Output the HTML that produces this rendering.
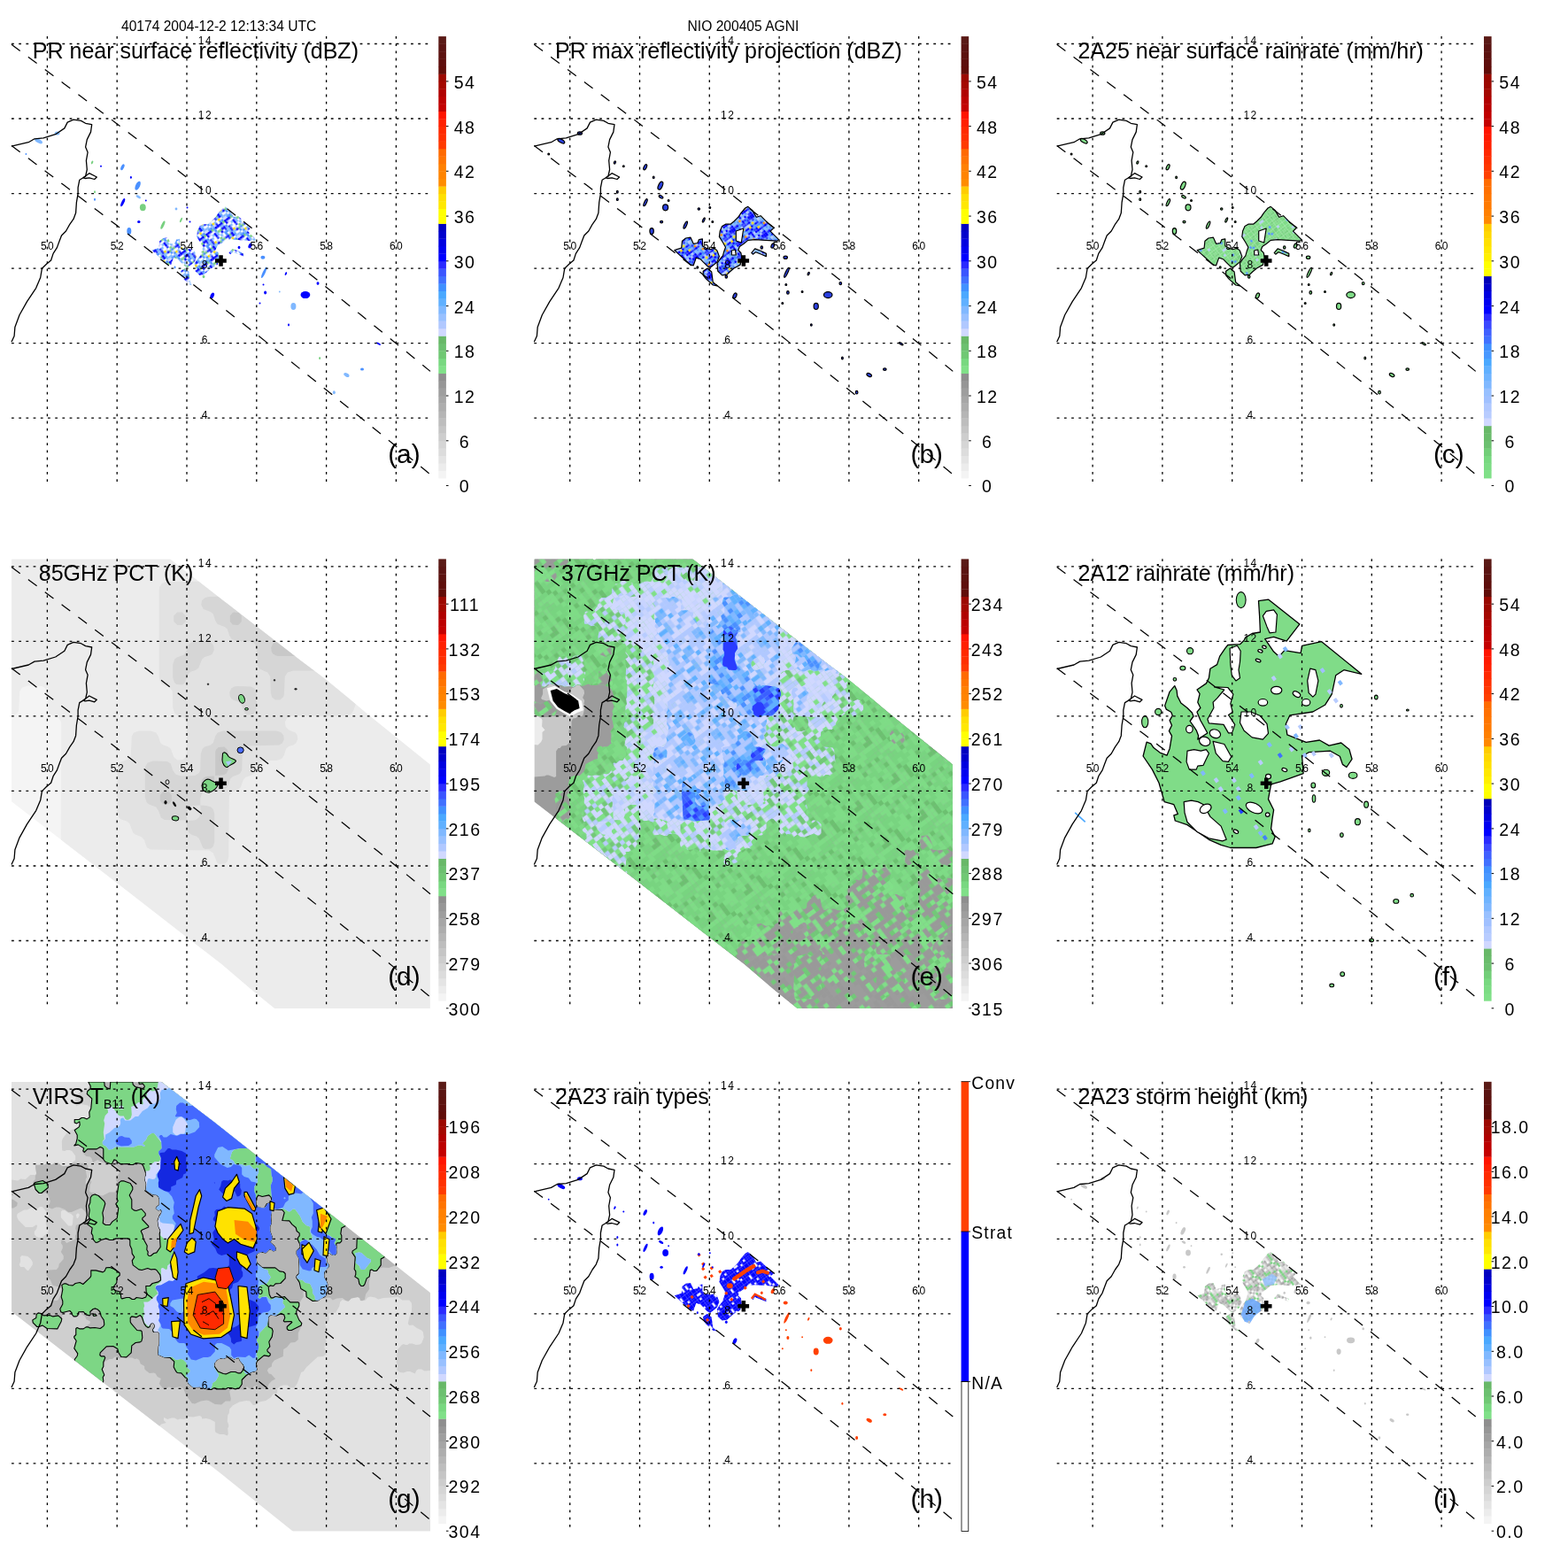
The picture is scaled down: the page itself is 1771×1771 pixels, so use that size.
<!DOCTYPE html>
<html><head><meta charset="utf-8"><title>TRMM overpass</title><style>
html,body{margin:0;padding:0;background:#fff;}
svg{display:block;}
text{font-family:"Liberation Sans", Arial, Helvetica, sans-serif;fill:#000;}
.dot{stroke:#000;stroke-width:1.3;stroke-dasharray:2.8 5.4;fill:none;}
.sw{stroke:#000;stroke-width:1.25;stroke-dasharray:12.4 11;fill:none;}
.coast{stroke:#000;stroke-width:1.3;fill:none;stroke-linejoin:round;}
.ll{font-size:12px;text-anchor:middle;letter-spacing:1.4px;}
.cb{font-size:19.5px;text-anchor:middle;letter-spacing:1.5px;}
.cbl{font-size:19.3px;letter-spacing:1.2px;}
.ttl{font-size:25px;}
.let{font-size:29.8px;}
.hdr{font-size:15.6px;}
</style></head>
<body><svg xmlns="http://www.w3.org/2000/svg" width="1771" height="1771" viewBox="0 0 1771 1771">
<defs><clipPath id="mapclip"><rect x="13" y="41" width="473" height="508"/></clipPath></defs>
<rect width="1771" height="1771" fill="#fff"/>
<text x="137" y="35" class="hdr">40174 2004-12-2 12:13:34 UTC</text>
<text x="776.6" y="34.7" class="hdr">NIO 200405 AGNI</text>
<g transform="translate(0,0)">
<g clip-path="url(#mapclip)">
<pattern id="pa" patternUnits="userSpaceOnUse" width="26.0" height="26.0" patternTransform="rotate(-37)"><rect x="0.0" y="0.0" width="2.65" height="2.65" fill="#2a3cff"/><rect x="0.0" y="2.6" width="2.65" height="2.65" fill="#80b8ff"/><rect x="0.0" y="5.2" width="2.65" height="2.65" fill="#4a90ff"/><rect x="0.0" y="7.8" width="2.65" height="2.65" fill="#80b8ff"/><rect x="0.0" y="10.4" width="2.65" height="2.65" fill="#c8d4ff"/><rect x="0.0" y="13.0" width="2.65" height="2.65" fill="#0000ff"/><rect x="0.0" y="15.6" width="2.65" height="2.65" fill="#0000ff"/><rect x="0.0" y="20.8" width="2.65" height="2.65" fill="#2a3cff"/><rect x="0.0" y="23.4" width="2.65" height="2.65" fill="#2a3cff"/><rect x="2.6" y="0.0" width="2.65" height="2.65" fill="#ffe000"/><rect x="2.6" y="2.6" width="2.65" height="2.65" fill="#80b8ff"/><rect x="2.6" y="7.8" width="2.65" height="2.65" fill="#80b8ff"/><rect x="2.6" y="10.4" width="2.65" height="2.65" fill="#c8d4ff"/><rect x="2.6" y="13.0" width="2.65" height="2.65" fill="#0000ff"/><rect x="2.6" y="15.6" width="2.65" height="2.65" fill="#c8d4ff"/><rect x="2.6" y="20.8" width="2.65" height="2.65" fill="#80b8ff"/><rect x="5.2" y="0.0" width="2.65" height="2.65" fill="#c8d4ff"/><rect x="5.2" y="2.6" width="2.65" height="2.65" fill="#0000ff"/><rect x="5.2" y="7.8" width="2.65" height="2.65" fill="#80b8ff"/><rect x="5.2" y="10.4" width="2.65" height="2.65" fill="#4a90ff"/><rect x="5.2" y="13.0" width="2.65" height="2.65" fill="#0000ff"/><rect x="5.2" y="18.2" width="2.65" height="2.65" fill="#80b8ff"/><rect x="7.8" y="2.6" width="2.65" height="2.65" fill="#78d080"/><rect x="7.8" y="5.2" width="2.65" height="2.65" fill="#4a90ff"/><rect x="7.8" y="10.4" width="2.65" height="2.65" fill="#4a90ff"/><rect x="7.8" y="13.0" width="2.65" height="2.65" fill="#78d080"/><rect x="7.8" y="18.2" width="2.65" height="2.65" fill="#0000ff"/><rect x="7.8" y="20.8" width="2.65" height="2.65" fill="#0000ff"/><rect x="7.8" y="23.4" width="2.65" height="2.65" fill="#2a3cff"/><rect x="10.4" y="0.0" width="2.65" height="2.65" fill="#78d080"/><rect x="10.4" y="2.6" width="2.65" height="2.65" fill="#4a90ff"/><rect x="10.4" y="5.2" width="2.65" height="2.65" fill="#c8d4ff"/><rect x="10.4" y="7.8" width="2.65" height="2.65" fill="#4a90ff"/><rect x="10.4" y="10.4" width="2.65" height="2.65" fill="#80b8ff"/><rect x="10.4" y="13.0" width="2.65" height="2.65" fill="#4a90ff"/><rect x="10.4" y="15.6" width="2.65" height="2.65" fill="#4a90ff"/><rect x="10.4" y="18.2" width="2.65" height="2.65" fill="#80b8ff"/><rect x="10.4" y="20.8" width="2.65" height="2.65" fill="#80b8ff"/><rect x="13.0" y="0.0" width="2.65" height="2.65" fill="#c8d4ff"/><rect x="13.0" y="2.6" width="2.65" height="2.65" fill="#78d080"/><rect x="13.0" y="7.8" width="2.65" height="2.65" fill="#ffe000"/><rect x="13.0" y="10.4" width="2.65" height="2.65" fill="#c8d4ff"/><rect x="13.0" y="13.0" width="2.65" height="2.65" fill="#0000ff"/><rect x="13.0" y="18.2" width="2.65" height="2.65" fill="#78d080"/><rect x="13.0" y="23.4" width="2.65" height="2.65" fill="#80b8ff"/><rect x="15.6" y="2.6" width="2.65" height="2.65" fill="#2a3cff"/><rect x="15.6" y="7.8" width="2.65" height="2.65" fill="#80b8ff"/><rect x="15.6" y="10.4" width="2.65" height="2.65" fill="#2a3cff"/><rect x="15.6" y="13.0" width="2.65" height="2.65" fill="#0000ff"/><rect x="15.6" y="18.2" width="2.65" height="2.65" fill="#78d080"/><rect x="15.6" y="20.8" width="2.65" height="2.65" fill="#0000ff"/><rect x="18.2" y="0.0" width="2.65" height="2.65" fill="#4a90ff"/><rect x="18.2" y="2.6" width="2.65" height="2.65" fill="#0000ff"/><rect x="18.2" y="5.2" width="2.65" height="2.65" fill="#2a3cff"/><rect x="18.2" y="13.0" width="2.65" height="2.65" fill="#0000ff"/><rect x="18.2" y="15.6" width="2.65" height="2.65" fill="#80b8ff"/><rect x="18.2" y="18.2" width="2.65" height="2.65" fill="#0000ff"/><rect x="18.2" y="23.4" width="2.65" height="2.65" fill="#4a90ff"/><rect x="20.8" y="2.6" width="2.65" height="2.65" fill="#78d080"/><rect x="20.8" y="5.2" width="2.65" height="2.65" fill="#80b8ff"/><rect x="20.8" y="7.8" width="2.65" height="2.65" fill="#ffe000"/><rect x="20.8" y="10.4" width="2.65" height="2.65" fill="#4a90ff"/><rect x="20.8" y="13.0" width="2.65" height="2.65" fill="#0000ff"/><rect x="20.8" y="15.6" width="2.65" height="2.65" fill="#80b8ff"/><rect x="20.8" y="18.2" width="2.65" height="2.65" fill="#0000ff"/><rect x="20.8" y="20.8" width="2.65" height="2.65" fill="#2a3cff"/><rect x="20.8" y="23.4" width="2.65" height="2.65" fill="#4a90ff"/><rect x="23.4" y="0.0" width="2.65" height="2.65" fill="#80b8ff"/><rect x="23.4" y="2.6" width="2.65" height="2.65" fill="#0000ff"/><rect x="23.4" y="5.2" width="2.65" height="2.65" fill="#0000ff"/><rect x="23.4" y="10.4" width="2.65" height="2.65" fill="#4a90ff"/><rect x="23.4" y="13.0" width="2.65" height="2.65" fill="#78d080"/><rect x="23.4" y="18.2" width="2.65" height="2.65" fill="#4a90ff"/><rect x="23.4" y="20.8" width="2.65" height="2.65" fill="#80b8ff"/><rect x="23.4" y="23.4" width="2.65" height="2.65" fill="#80b8ff"/></pattern>
<path d="M219.7,297.5 L220.5,306.2 L225.3,310.9 L230.8,310.1 L234.0,307.0 L238.7,303.0 L245.8,299.1 L247.4,291.1 L246.6,285.6 L243.5,282.5 L245.0,278.5 L249.8,275.3 L254.5,271.4 L262.4,270.6 L274.3,271.4 L287.7,272.2 L289.3,270.6 L283.0,264.3 L279.8,261.1 L283.8,257.2 L276.7,251.6 L268.8,243.7 L264.0,245.3 L259.3,237.4 L254.5,233.4 L251.4,235.0 L246.6,240.6 L243.5,245.3 L238.7,250.0 L234.8,253.2 L229.2,253.2 L225.3,255.6 L222.9,261.1 L222.1,267.4 L226.1,273.8 L229.2,279.3 L227.7,283.2 L226.1,288.8 L222.9,292.7Z" fill="url(#pa)"/>
<path d="M171.5,282.5 L179.4,280.1 L180.2,272.2 L184.2,269.0 L189.7,268.2 L192.9,275.3 L197.6,274.5 L199.2,270.6 L203.1,269.8 L203.1,277.7 L207.1,280.1 L211.8,281.7 L216.6,280.1 L219.7,283.2 L222.1,289.6 L219.7,295.9 L215.0,299.8 L211.8,302.2 L208.7,300.6 L203.9,295.9 L200.8,292.7 L196.0,291.1 L192.9,299.8 L189.7,299.1 L183.4,293.5 L175.5,286.4Z" fill="url(#pa)"/>
<path d="M203.9,306.2 L208.7,303.0 L213.4,307.0 L215.0,318.8 L219.7,322.8 L215.0,322.0 L207.1,314.9 L203.9,310.9Z" fill="url(#pa)"/>
<path d="M258.5,285.6 L262.4,280.9 L268.8,283.2 L275.1,286.4 L275.1,289.6 L269.6,287.2 L263.2,284.8 L260.1,287.2Z" fill="url(#pa)"/>
<ellipse cx="43.5" cy="159.2" rx="4.9" ry="2.2" transform="rotate(30 43.5 159.2)" fill="#80b8ff"/>
<ellipse cx="64.6" cy="150.5" rx="2.9" ry="2.0" transform="rotate(0 64.6 150.5)" fill="#80b8ff"/>
<ellipse cx="29.4" cy="174.0" rx="0.9" ry="0.9" transform="rotate(0 29.4 174.0)" fill="#4a90ff"/>
<ellipse cx="104.1" cy="183.5" rx="1.0" ry="2.0" transform="rotate(25 104.1 183.5)" fill="#78d080"/>
<ellipse cx="114.0" cy="187.8" rx="1.0" ry="1.0" transform="rotate(0 114.0 187.8)" fill="#0000ff"/>
<ellipse cx="138.4" cy="188.8" rx="1.7" ry="3.7" transform="rotate(25 138.4 188.8)" fill="#4a90ff"/>
<ellipse cx="147.9" cy="200.4" rx="1.0" ry="1.4" transform="rotate(0 147.9 200.4)" fill="#0000ff"/>
<ellipse cx="155.6" cy="209.7" rx="2.5" ry="5.4" transform="rotate(25 155.6 209.7)" fill="#4a90ff"/>
<ellipse cx="156.3" cy="222.3" rx="3.0" ry="1.5" transform="rotate(30 156.3 222.3)" fill="#80b8ff"/>
<ellipse cx="161.3" cy="234.3" rx="3.4" ry="4.0" transform="rotate(0 161.3 234.3)" fill="#78d080"/>
<ellipse cx="164.8" cy="226.5" rx="0.9" ry="1.0" transform="rotate(0 164.8 226.5)" fill="#0000ff"/>
<ellipse cx="107.0" cy="216.8" rx="1.0" ry="1.5" transform="rotate(0 107.0 216.8)" fill="#78d080"/>
<ellipse cx="107.0" cy="225.2" rx="1.0" ry="1.5" transform="rotate(0 107.0 225.2)" fill="#4a90ff"/>
<ellipse cx="138.7" cy="228.7" rx="1.5" ry="5.0" transform="rotate(25 138.7 228.7)" fill="#0000ff"/>
<ellipse cx="145.8" cy="261.1" rx="2.5" ry="4.0" transform="rotate(0 145.8 261.1)" fill="#4a90ff"/>
<ellipse cx="156.8" cy="250.6" rx="1.7" ry="1.5" transform="rotate(0 156.8 250.6)" fill="#0000ff"/>
<ellipse cx="183.9" cy="254.1" rx="1.5" ry="5.0" transform="rotate(25 183.9 254.1)" fill="#78d080"/>
<ellipse cx="199.0" cy="236.0" rx="1.4" ry="1.4" transform="rotate(0 199.0 236.0)" fill="#80b8ff"/>
<ellipse cx="211.5" cy="234.5" rx="1.0" ry="1.0" transform="rotate(0 211.5 234.5)" fill="#0000ff"/>
<ellipse cx="204.5" cy="248.5" rx="1.0" ry="3.1" transform="rotate(25 204.5 248.5)" fill="#78d080"/>
<ellipse cx="214.5" cy="250.5" rx="1.0" ry="1.0" transform="rotate(0 214.5 250.5)" fill="#0000ff"/>
<ellipse cx="197.5" cy="302.0" rx="1.0" ry="1.4" transform="rotate(0 197.5 302.0)" fill="#4a90ff"/>
<ellipse cx="239.7" cy="333.9" rx="2.0" ry="3.5" transform="rotate(25 239.7 333.9)" fill="#0000ff"/>
<ellipse cx="230.0" cy="312.5" rx="1.4" ry="1.8" transform="rotate(0 230.0 312.5)" fill="#78d080"/>
<ellipse cx="270.0" cy="279.5" rx="1.4" ry="1.8" transform="rotate(0 270.0 279.5)" fill="#0000ff"/>
<ellipse cx="282.5" cy="277.5" rx="1.8" ry="3.1" transform="rotate(25 282.5 277.5)" fill="#0000ff"/>
<ellipse cx="296.9" cy="290.8" rx="2.5" ry="2.0" transform="rotate(0 296.9 290.8)" fill="#4a90ff"/>
<ellipse cx="298.2" cy="307.8" rx="1.5" ry="6.9" transform="rotate(25 298.2 307.8)" fill="#4a90ff"/>
<ellipse cx="297.5" cy="321.5" rx="1.0" ry="1.0" transform="rotate(0 297.5 321.5)" fill="#0000ff"/>
<ellipse cx="299.6" cy="330.4" rx="1.5" ry="2.0" transform="rotate(0 299.6 330.4)" fill="#0000ff"/>
<ellipse cx="293.5" cy="342.5" rx="1.0" ry="1.0" transform="rotate(0 293.5 342.5)" fill="#0000ff"/>
<ellipse cx="322.9" cy="309.1" rx="1.0" ry="2.0" transform="rotate(25 322.9 309.1)" fill="#0000ff"/>
<ellipse cx="315.8" cy="329.5" rx="0.9" ry="1.0" transform="rotate(0 315.8 329.5)" fill="#80b8ff"/>
<ellipse cx="331.4" cy="345.9" rx="3.0" ry="4.0" transform="rotate(0 331.4 345.9)" fill="#80b8ff"/>
<ellipse cx="326.0" cy="367.0" rx="1.0" ry="1.4" transform="rotate(0 326.0 367.0)" fill="#0000ff"/>
<ellipse cx="344.9" cy="333.1" rx="5.4" ry="4.0" transform="rotate(0 344.9 333.1)" fill="#0000ff"/>
<ellipse cx="359.0" cy="320.1" rx="1.5" ry="1.8" transform="rotate(0 359.0 320.1)" fill="#0000ff"/>
<ellipse cx="427.4" cy="388.2" rx="2.9" ry="1.0" transform="rotate(30 427.4 388.2)" fill="#0000ff"/>
<ellipse cx="361.1" cy="404.5" rx="1.0" ry="1.5" transform="rotate(0 361.1 404.5)" fill="#78d080"/>
<ellipse cx="391.4" cy="423.5" rx="3.4" ry="2.0" transform="rotate(30 391.4 423.5)" fill="#80b8ff"/>
<ellipse cx="409.0" cy="417.1" rx="2.0" ry="1.5" transform="rotate(0 409.0 417.1)" fill="#4a90ff"/>
<ellipse cx="377.3" cy="443.2" rx="1.5" ry="2.0" transform="rotate(0 377.3 443.2)" fill="#80b8ff"/>
</g>
<line x1="13" y1="49.5" x2="486" y2="49.5" class="dot"/>
<line x1="13" y1="134" x2="486" y2="134" class="dot"/>
<line x1="13" y1="218.6" x2="486" y2="218.6" class="dot"/>
<line x1="13" y1="303.1" x2="486" y2="303.1" class="dot"/>
<line x1="13" y1="387.7" x2="486" y2="387.7" class="dot"/>
<line x1="13" y1="472.2" x2="486" y2="472.2" class="dot"/>
<line x1="53.4" y1="41" x2="53.4" y2="549" class="dot"/>
<line x1="132.2" y1="41" x2="132.2" y2="549" class="dot"/>
<line x1="211" y1="41" x2="211" y2="549" class="dot"/>
<line x1="289.8" y1="41" x2="289.8" y2="549" class="dot"/>
<line x1="368.6" y1="41" x2="368.6" y2="549" class="dot"/>
<line x1="447.4" y1="41" x2="447.4" y2="549" class="dot"/>
<path d="M13.00,50.24 L32.71,64.90 L52.42,79.63 L72.12,94.41 L91.83,109.26 L111.54,124.17 L131.25,139.14 L150.96,154.18 L170.67,169.28 L190.38,184.44 L210.08,199.66 L229.79,214.95 L249.50,230.30 L269.21,245.71 L288.92,261.18 L308.62,276.72 L328.33,292.32 L348.04,307.98 L367.75,323.71 L387.46,339.49 L407.17,355.34 L426.88,371.26 L446.58,387.23 L466.29,403.27 L486.00,419.37" class="sw" style="stroke-dasharray:12.1 11.45"/>
<path d="M13.00,164.53 L32.71,179.31 L52.42,194.15 L72.12,209.06 L91.83,224.02 L111.54,239.04 L131.25,254.12 L150.96,269.26 L170.67,284.46 L190.38,299.73 L210.08,315.05 L229.79,330.43 L249.50,345.87 L269.21,361.37 L288.92,376.94 L308.62,392.56 L328.33,408.24 L348.04,423.98 L367.75,439.79 L387.46,455.65 L407.17,471.57 L426.88,487.55 L446.58,503.59 L466.29,519.70 L486.00,535.86" class="sw" style="stroke-dasharray:12.1 11.4"/>
<path d="M13,165.2 L32.2,160.7 L39,156.8 L49.1,155.9 L62.7,151.7 L72.8,144.9 L76.2,138.1 L83,135.1 L91.5,136.4 L96.6,139.3 L103.7,140.7 L102.5,149.1 L98.3,157.6 L96.6,166.1 L99.1,172 L97.4,181.3 L98.3,191.5 L96.6,199.1 L94,200.8 L89.8,203.3 L88.1,211.8 L88.1,218.6 L86.4,228.7 L85.6,240.6 L83,247.4 L78.8,253.3 L74.5,261 L69.5,266 L66.9,272.8 L64.4,279.6 L60.1,286.4 L57.6,294 L52.5,298.2 L47.4,303.3 L45.7,313.5 L40.7,325.3 L30.5,340.6 L22,355.8 L16.9,369.4 L16.1,379.5 L13,386.3" class="coast"/>
<path d="M94,200.8 L100.8,195.7 L109.3,200 L106.7,202.5 L100.8,200.8 L96,201.5 Z" class="coast"/>
<text x="231.9" y="49.8" class="ll">14</text>
<text x="231.9" y="134.3" class="ll">12</text>
<text x="231.9" y="218.9" class="ll">10</text>
<text x="231.9" y="303.4" class="ll">8</text>
<text x="231.9" y="388" class="ll">6</text>
<text x="231.9" y="472.5" class="ll">4</text>
<text x="54.1" y="281.7" class="ll">50</text>
<text x="132.9" y="281.7" class="ll">52</text>
<text x="211.7" y="281.7" class="ll">54</text>
<text x="290.5" y="281.7" class="ll">56</text>
<text x="369.3" y="281.7" class="ll">58</text>
<text x="448.1" y="281.7" class="ll">60</text>
<path d="M243,292.2h12.8v4.6h-12.8z M247.3,288.2h4.5v12.6h-4.5z" fill="#000"/>
<text x="36.8" y="66" class="ttl">PR near surface reflectivity (dBZ)</text>
<text x="438.2" y="522.8" class="let">(a)</text>
<rect x="495.3" y="531.6" width="8.6" height="8.8" fill="#f4f4f4"/>
<rect x="495.3" y="523.1" width="8.6" height="8.8" fill="#ececec"/>
<rect x="495.3" y="514.7" width="8.6" height="8.8" fill="#e4e4e4"/>
<rect x="495.3" y="506.2" width="8.6" height="8.8" fill="#dcdcdc"/>
<rect x="495.3" y="497.8" width="8.6" height="8.8" fill="#d5d5d5"/>
<rect x="495.3" y="489.3" width="8.6" height="8.8" fill="#cdcdcd"/>
<rect x="495.3" y="480.9" width="8.6" height="8.8" fill="#c5c5c5"/>
<rect x="495.3" y="472.4" width="8.6" height="8.8" fill="#bdbdbd"/>
<rect x="495.3" y="463.9" width="8.6" height="8.8" fill="#b5b5b5"/>
<rect x="495.3" y="455.5" width="8.6" height="8.8" fill="#adadad"/>
<rect x="495.3" y="447" width="8.6" height="8.8" fill="#a6a6a6"/>
<rect x="495.3" y="438.6" width="8.6" height="8.8" fill="#9e9e9e"/>
<rect x="495.3" y="430.1" width="8.6" height="8.8" fill="#969696"/>
<rect x="495.3" y="421.7" width="8.6" height="8.8" fill="#8e8e8e"/>
<rect x="495.3" y="413.2" width="8.6" height="8.8" fill="#80e088"/>
<rect x="495.3" y="404.7" width="8.6" height="8.8" fill="#78d880"/>
<rect x="495.3" y="396.3" width="8.6" height="8.8" fill="#70c874"/>
<rect x="495.3" y="387.8" width="8.6" height="8.8" fill="#6cc070"/>
<rect x="495.3" y="379.4" width="8.6" height="8.8" fill="#68b868"/>
<rect x="495.3" y="370.9" width="8.6" height="8.8" fill="#d0d8ff"/>
<rect x="495.3" y="362.5" width="8.6" height="8.8" fill="#b0c8ff"/>
<rect x="495.3" y="354" width="8.6" height="8.8" fill="#98c0ff"/>
<rect x="495.3" y="345.6" width="8.6" height="8.8" fill="#80b8ff"/>
<rect x="495.3" y="337.1" width="8.6" height="8.8" fill="#60b0ff"/>
<rect x="495.3" y="328.6" width="8.6" height="8.8" fill="#4aa8ff"/>
<rect x="495.3" y="320.2" width="8.6" height="8.8" fill="#4090ff"/>
<rect x="495.3" y="311.7" width="8.6" height="8.8" fill="#4070ff"/>
<rect x="495.3" y="303.3" width="8.6" height="8.8" fill="#3a55ff"/>
<rect x="495.3" y="294.8" width="8.6" height="8.8" fill="#2a2aff"/>
<rect x="495.3" y="286.4" width="8.6" height="8.8" fill="#0000ff"/>
<rect x="495.3" y="277.9" width="8.6" height="8.8" fill="#0000f0"/>
<rect x="495.3" y="269.5" width="8.6" height="8.8" fill="#0000e0"/>
<rect x="495.3" y="261" width="8.6" height="8.8" fill="#0000cc"/>
<rect x="495.3" y="252.5" width="8.6" height="8.8" fill="#0000c0"/>
<rect x="495.3" y="244.1" width="8.6" height="8.8" fill="#ffff00"/>
<rect x="495.3" y="235.6" width="8.6" height="8.8" fill="#ffff00"/>
<rect x="495.3" y="227.2" width="8.6" height="8.8" fill="#ffe800"/>
<rect x="495.3" y="218.7" width="8.6" height="8.8" fill="#ffe000"/>
<rect x="495.3" y="210.3" width="8.6" height="8.8" fill="#ffcc00"/>
<rect x="495.3" y="201.8" width="8.6" height="8.8" fill="#ff8c00"/>
<rect x="495.3" y="193.3" width="8.6" height="8.8" fill="#ff8400"/>
<rect x="495.3" y="184.9" width="8.6" height="8.8" fill="#ff8000"/>
<rect x="495.3" y="176.4" width="8.6" height="8.8" fill="#ff7400"/>
<rect x="495.3" y="168" width="8.6" height="8.8" fill="#ff6a00"/>
<rect x="495.3" y="159.5" width="8.6" height="8.8" fill="#ff3a00"/>
<rect x="495.3" y="151.1" width="8.6" height="8.8" fill="#ff3000"/>
<rect x="495.3" y="142.6" width="8.6" height="8.8" fill="#ff2a00"/>
<rect x="495.3" y="134.2" width="8.6" height="8.8" fill="#ff2000"/>
<rect x="495.3" y="125.7" width="8.6" height="8.8" fill="#ff1400"/>
<rect x="495.3" y="117.2" width="8.6" height="8.8" fill="#c40000"/>
<rect x="495.3" y="108.8" width="8.6" height="8.8" fill="#bc0000"/>
<rect x="495.3" y="100.3" width="8.6" height="8.8" fill="#b00000"/>
<rect x="495.3" y="91.9" width="8.6" height="8.8" fill="#a40800"/>
<rect x="495.3" y="83.4" width="8.6" height="8.8" fill="#9c0800"/>
<rect x="495.3" y="75" width="8.6" height="8.8" fill="#600c08"/>
<rect x="495.3" y="66.5" width="8.6" height="8.8" fill="#5e0e0c"/>
<rect x="495.3" y="58.1" width="8.6" height="8.8" fill="#5c120f"/>
<rect x="495.3" y="49.6" width="8.6" height="8.8" fill="#5a1412"/>
<rect x="495.3" y="41.1" width="8.6" height="8.8" fill="#5a1a16"/>
<line x1="503.9" y1="548.5" x2="506.5" y2="548.5" stroke="#000" stroke-width="1"/>
<text x="525" y="556.4" class="cb">0</text>
<line x1="503.9" y1="497.8" x2="506.5" y2="497.8" stroke="#000" stroke-width="1"/>
<text x="525" y="505.7" class="cb">6</text>
<line x1="503.9" y1="447" x2="506.5" y2="447" stroke="#000" stroke-width="1"/>
<text x="525" y="454.9" class="cb">12</text>
<line x1="503.9" y1="396.3" x2="506.5" y2="396.3" stroke="#000" stroke-width="1"/>
<text x="525" y="404.2" class="cb">18</text>
<line x1="503.9" y1="345.6" x2="506.5" y2="345.6" stroke="#000" stroke-width="1"/>
<text x="525" y="353.5" class="cb">24</text>
<line x1="503.9" y1="294.8" x2="506.5" y2="294.8" stroke="#000" stroke-width="1"/>
<text x="525" y="302.7" class="cb">30</text>
<line x1="503.9" y1="244.1" x2="506.5" y2="244.1" stroke="#000" stroke-width="1"/>
<text x="525" y="252" class="cb">36</text>
<line x1="503.9" y1="193.3" x2="506.5" y2="193.3" stroke="#000" stroke-width="1"/>
<text x="525" y="201.2" class="cb">42</text>
<line x1="503.9" y1="142.6" x2="506.5" y2="142.6" stroke="#000" stroke-width="1"/>
<text x="525" y="150.5" class="cb">48</text>
<line x1="503.9" y1="91.9" x2="506.5" y2="91.9" stroke="#000" stroke-width="1"/>
<text x="525" y="99.8" class="cb">54</text>
</g>
<g transform="translate(590.3,0)">
<g clip-path="url(#mapclip)">
<pattern id="pb" patternUnits="userSpaceOnUse" width="26.0" height="26.0" patternTransform="rotate(-37)"><rect x="0.0" y="0.0" width="2.65" height="2.65" fill="#2a3cff"/><rect x="0.0" y="2.6" width="2.65" height="2.65" fill="#0000ff"/><rect x="0.0" y="5.2" width="2.65" height="2.65" fill="#80b8ff"/><rect x="0.0" y="7.8" width="2.65" height="2.65" fill="#0000ff"/><rect x="0.0" y="10.4" width="2.65" height="2.65" fill="#4a90ff"/><rect x="0.0" y="13.0" width="2.65" height="2.65" fill="#2a3cff"/><rect x="0.0" y="15.6" width="2.65" height="2.65" fill="#0000ff"/><rect x="0.0" y="18.2" width="2.65" height="2.65" fill="#4a90ff"/><rect x="0.0" y="20.8" width="2.65" height="2.65" fill="#0000ff"/><rect x="0.0" y="23.4" width="2.65" height="2.65" fill="#4a90ff"/><rect x="2.6" y="0.0" width="2.65" height="2.65" fill="#0000ff"/><rect x="2.6" y="2.6" width="2.65" height="2.65" fill="#0000ff"/><rect x="2.6" y="5.2" width="2.65" height="2.65" fill="#4a90ff"/><rect x="2.6" y="7.8" width="2.65" height="2.65" fill="#b8ccff"/><rect x="2.6" y="10.4" width="2.65" height="2.65" fill="#0000ff"/><rect x="2.6" y="13.0" width="2.65" height="2.65" fill="#2a3cff"/><rect x="2.6" y="15.6" width="2.65" height="2.65" fill="#80b8ff"/><rect x="2.6" y="18.2" width="2.65" height="2.65" fill="#ffe000"/><rect x="2.6" y="20.8" width="2.65" height="2.65" fill="#4a90ff"/><rect x="2.6" y="23.4" width="2.65" height="2.65" fill="#4a90ff"/><rect x="5.2" y="0.0" width="2.65" height="2.65" fill="#ffe000"/><rect x="5.2" y="2.6" width="2.65" height="2.65" fill="#0000ff"/><rect x="5.2" y="5.2" width="2.65" height="2.65" fill="#b8ccff"/><rect x="5.2" y="7.8" width="2.65" height="2.65" fill="#2a3cff"/><rect x="5.2" y="10.4" width="2.65" height="2.65" fill="#0000ff"/><rect x="5.2" y="13.0" width="2.65" height="2.65" fill="#0000ff"/><rect x="5.2" y="15.6" width="2.65" height="2.65" fill="#2a3cff"/><rect x="5.2" y="18.2" width="2.65" height="2.65" fill="#80b8ff"/><rect x="5.2" y="20.8" width="2.65" height="2.65" fill="#0000ff"/><rect x="5.2" y="23.4" width="2.65" height="2.65" fill="#4a90ff"/><rect x="7.8" y="0.0" width="2.65" height="2.65" fill="#80b8ff"/><rect x="7.8" y="2.6" width="2.65" height="2.65" fill="#2a3cff"/><rect x="7.8" y="5.2" width="2.65" height="2.65" fill="#4a90ff"/><rect x="7.8" y="7.8" width="2.65" height="2.65" fill="#0000ff"/><rect x="7.8" y="10.4" width="2.65" height="2.65" fill="#0000ff"/><rect x="7.8" y="13.0" width="2.65" height="2.65" fill="#0000ff"/><rect x="7.8" y="15.6" width="2.65" height="2.65" fill="#80b8ff"/><rect x="7.8" y="18.2" width="2.65" height="2.65" fill="#4a90ff"/><rect x="7.8" y="20.8" width="2.65" height="2.65" fill="#2a3cff"/><rect x="7.8" y="23.4" width="2.65" height="2.65" fill="#4a90ff"/><rect x="10.4" y="0.0" width="2.65" height="2.65" fill="#4a90ff"/><rect x="10.4" y="2.6" width="2.65" height="2.65" fill="#2a3cff"/><rect x="10.4" y="5.2" width="2.65" height="2.65" fill="#80b8ff"/><rect x="10.4" y="7.8" width="2.65" height="2.65" fill="#80b8ff"/><rect x="10.4" y="10.4" width="2.65" height="2.65" fill="#2a3cff"/><rect x="10.4" y="13.0" width="2.65" height="2.65" fill="#4a90ff"/><rect x="10.4" y="15.6" width="2.65" height="2.65" fill="#4a90ff"/><rect x="10.4" y="18.2" width="2.65" height="2.65" fill="#b8ccff"/><rect x="10.4" y="20.8" width="2.65" height="2.65" fill="#80b8ff"/><rect x="10.4" y="23.4" width="2.65" height="2.65" fill="#2a3cff"/><rect x="13.0" y="0.0" width="2.65" height="2.65" fill="#ff9000"/><rect x="13.0" y="2.6" width="2.65" height="2.65" fill="#0000ff"/><rect x="13.0" y="5.2" width="2.65" height="2.65" fill="#4a90ff"/><rect x="13.0" y="7.8" width="2.65" height="2.65" fill="#80b8ff"/><rect x="13.0" y="10.4" width="2.65" height="2.65" fill="#0000ff"/><rect x="13.0" y="13.0" width="2.65" height="2.65" fill="#4a90ff"/><rect x="13.0" y="15.6" width="2.65" height="2.65" fill="#0000ff"/><rect x="13.0" y="18.2" width="2.65" height="2.65" fill="#80b8ff"/><rect x="13.0" y="20.8" width="2.65" height="2.65" fill="#80b8ff"/><rect x="13.0" y="23.4" width="2.65" height="2.65" fill="#4a90ff"/><rect x="15.6" y="0.0" width="2.65" height="2.65" fill="#b8ccff"/><rect x="15.6" y="2.6" width="2.65" height="2.65" fill="#2a3cff"/><rect x="15.6" y="5.2" width="2.65" height="2.65" fill="#80b8ff"/><rect x="15.6" y="7.8" width="2.65" height="2.65" fill="#4a90ff"/><rect x="15.6" y="10.4" width="2.65" height="2.65" fill="#4a90ff"/><rect x="15.6" y="13.0" width="2.65" height="2.65" fill="#4a90ff"/><rect x="15.6" y="15.6" width="2.65" height="2.65" fill="#b8ccff"/><rect x="15.6" y="18.2" width="2.65" height="2.65" fill="#ffe000"/><rect x="15.6" y="20.8" width="2.65" height="2.65" fill="#4a90ff"/><rect x="15.6" y="23.4" width="2.65" height="2.65" fill="#80b8ff"/><rect x="18.2" y="0.0" width="2.65" height="2.65" fill="#0000ff"/><rect x="18.2" y="2.6" width="2.65" height="2.65" fill="#80b8ff"/><rect x="18.2" y="5.2" width="2.65" height="2.65" fill="#80b8ff"/><rect x="18.2" y="7.8" width="2.65" height="2.65" fill="#ff9000"/><rect x="18.2" y="10.4" width="2.65" height="2.65" fill="#80b8ff"/><rect x="18.2" y="13.0" width="2.65" height="2.65" fill="#2a3cff"/><rect x="18.2" y="15.6" width="2.65" height="2.65" fill="#2a3cff"/><rect x="18.2" y="18.2" width="2.65" height="2.65" fill="#80b8ff"/><rect x="18.2" y="20.8" width="2.65" height="2.65" fill="#0000ff"/><rect x="18.2" y="23.4" width="2.65" height="2.65" fill="#4a90ff"/><rect x="20.8" y="0.0" width="2.65" height="2.65" fill="#0000ff"/><rect x="20.8" y="2.6" width="2.65" height="2.65" fill="#0000ff"/><rect x="20.8" y="5.2" width="2.65" height="2.65" fill="#0000ff"/><rect x="20.8" y="7.8" width="2.65" height="2.65" fill="#80b8ff"/><rect x="20.8" y="10.4" width="2.65" height="2.65" fill="#0000ff"/><rect x="20.8" y="13.0" width="2.65" height="2.65" fill="#2a3cff"/><rect x="20.8" y="15.6" width="2.65" height="2.65" fill="#2a3cff"/><rect x="20.8" y="18.2" width="2.65" height="2.65" fill="#b8ccff"/><rect x="20.8" y="20.8" width="2.65" height="2.65" fill="#0000ff"/><rect x="20.8" y="23.4" width="2.65" height="2.65" fill="#4a90ff"/><rect x="23.4" y="0.0" width="2.65" height="2.65" fill="#4a90ff"/><rect x="23.4" y="2.6" width="2.65" height="2.65" fill="#b8ccff"/><rect x="23.4" y="5.2" width="2.65" height="2.65" fill="#80b8ff"/><rect x="23.4" y="7.8" width="2.65" height="2.65" fill="#b8ccff"/><rect x="23.4" y="10.4" width="2.65" height="2.65" fill="#2a3cff"/><rect x="23.4" y="13.0" width="2.65" height="2.65" fill="#4a90ff"/><rect x="23.4" y="15.6" width="2.65" height="2.65" fill="#2a3cff"/><rect x="23.4" y="18.2" width="2.65" height="2.65" fill="#b8ccff"/><rect x="23.4" y="20.8" width="2.65" height="2.65" fill="#ffe000"/><rect x="23.4" y="23.4" width="2.65" height="2.65" fill="#0000ff"/></pattern>
<path d="M219.7,297.5 L220.5,306.2 L225.3,310.9 L230.8,310.1 L234.0,307.0 L238.7,303.0 L245.8,299.1 L247.4,291.1 L246.6,285.6 L243.5,282.5 L245.0,278.5 L249.8,275.3 L254.5,271.4 L262.4,270.6 L274.3,271.4 L287.7,272.2 L289.3,270.6 L283.0,264.3 L279.8,261.1 L283.8,257.2 L276.7,251.6 L268.8,243.7 L264.0,245.3 L259.3,237.4 L254.5,233.4 L251.4,235.0 L246.6,240.6 L243.5,245.3 L238.7,250.0 L234.8,253.2 L229.2,253.2 L225.3,255.6 L222.9,261.1 L222.1,267.4 L226.1,273.8 L229.2,279.3 L227.7,283.2 L226.1,288.8 L222.9,292.7Z" fill="url(#pb)" stroke="#000" stroke-width="1.2" stroke-linejoin="round"/>
<path d="M171.5,282.5 L179.4,280.1 L180.2,272.2 L184.2,269.0 L189.7,268.2 L192.9,275.3 L197.6,274.5 L199.2,270.6 L203.1,269.8 L203.1,277.7 L207.1,280.1 L211.8,281.7 L216.6,280.1 L219.7,283.2 L222.1,289.6 L219.7,295.9 L215.0,299.8 L211.8,302.2 L208.7,300.6 L203.9,295.9 L200.8,292.7 L196.0,291.1 L192.9,299.8 L189.7,299.1 L183.4,293.5 L175.5,286.4Z" fill="url(#pb)" stroke="#000" stroke-width="1.2" stroke-linejoin="round"/>
<path d="M203.9,306.2 L208.7,303.0 L213.4,307.0 L215.0,318.8 L219.7,322.8 L215.0,322.0 L207.1,314.9 L203.9,310.9Z" fill="url(#pb)" stroke="#000" stroke-width="1.2" stroke-linejoin="round"/>
<path d="M258.5,285.6 L262.4,280.9 L268.8,283.2 L275.1,286.4 L275.1,289.6 L269.6,287.2 L263.2,284.8 L260.1,287.2Z" fill="url(#pb)" stroke="#000" stroke-width="1.2" stroke-linejoin="round"/>
<path d="M241.0,261.0 L249.5,258.0 L247.0,274.0 L241.0,272.0Z" fill="#fff" stroke="#000" stroke-width="1.2" stroke-linejoin="round"/>
<path d="M236.0,283.0 L240.0,282.0 L241.0,288.0 L236.0,288.0Z" fill="#fff" stroke="#000" stroke-width="1.2" stroke-linejoin="round"/>
<ellipse cx="43.5" cy="159.2" rx="4.4" ry="1.9" transform="rotate(30 43.5 159.2)" fill="#2a40e0" stroke="#000" stroke-width="1.2"/>
<ellipse cx="64.6" cy="150.5" rx="2.6" ry="1.7" transform="rotate(0 64.6 150.5)" fill="#2a40e0" stroke="#000" stroke-width="1.2"/>
<ellipse cx="29.4" cy="174.0" rx="0.9" ry="0.9" transform="rotate(0 29.4 174.0)" fill="#2a40e0" stroke="#000" stroke-width="1.2"/>
<ellipse cx="104.1" cy="183.5" rx="0.9" ry="1.7" transform="rotate(25 104.1 183.5)" fill="#2a40e0" stroke="#000" stroke-width="1.2"/>
<ellipse cx="114.0" cy="187.8" rx="0.9" ry="0.9" transform="rotate(0 114.0 187.8)" fill="#2a40e0" stroke="#000" stroke-width="1.2"/>
<ellipse cx="138.4" cy="188.8" rx="1.5" ry="3.3" transform="rotate(25 138.4 188.8)" fill="#2a40e0" stroke="#000" stroke-width="1.2"/>
<ellipse cx="147.9" cy="200.4" rx="0.9" ry="1.2" transform="rotate(0 147.9 200.4)" fill="#2a40e0" stroke="#000" stroke-width="1.2"/>
<ellipse cx="155.6" cy="209.7" rx="2.2" ry="4.8" transform="rotate(25 155.6 209.7)" fill="#2a40e0" stroke="#000" stroke-width="1.2"/>
<ellipse cx="156.3" cy="222.3" rx="2.6" ry="1.3" transform="rotate(30 156.3 222.3)" fill="#2a40e0" stroke="#000" stroke-width="1.2"/>
<ellipse cx="161.3" cy="234.3" rx="3.0" ry="3.5" transform="rotate(0 161.3 234.3)" fill="#2a40e0" stroke="#000" stroke-width="1.2"/>
<ellipse cx="164.8" cy="226.5" rx="0.9" ry="0.9" transform="rotate(0 164.8 226.5)" fill="#2a40e0" stroke="#000" stroke-width="1.2"/>
<ellipse cx="107.0" cy="216.8" rx="0.9" ry="1.4" transform="rotate(0 107.0 216.8)" fill="#2a40e0" stroke="#000" stroke-width="1.2"/>
<ellipse cx="107.0" cy="225.2" rx="0.9" ry="1.3" transform="rotate(0 107.0 225.2)" fill="#2a40e0" stroke="#000" stroke-width="1.2"/>
<ellipse cx="138.7" cy="228.7" rx="1.3" ry="4.4" transform="rotate(25 138.7 228.7)" fill="#2a40e0" stroke="#000" stroke-width="1.2"/>
<ellipse cx="145.8" cy="261.1" rx="2.2" ry="3.5" transform="rotate(0 145.8 261.1)" fill="#2a40e0" stroke="#000" stroke-width="1.2"/>
<ellipse cx="156.8" cy="250.6" rx="1.5" ry="1.3" transform="rotate(0 156.8 250.6)" fill="#2a40e0" stroke="#000" stroke-width="1.2"/>
<ellipse cx="183.9" cy="254.1" rx="1.3" ry="4.4" transform="rotate(25 183.9 254.1)" fill="#2a40e0" stroke="#000" stroke-width="1.2"/>
<ellipse cx="199.0" cy="236.0" rx="1.2" ry="1.2" transform="rotate(0 199.0 236.0)" fill="#2a40e0" stroke="#000" stroke-width="1.2"/>
<ellipse cx="211.5" cy="234.5" rx="0.9" ry="0.9" transform="rotate(0 211.5 234.5)" fill="#2a40e0" stroke="#000" stroke-width="1.2"/>
<ellipse cx="204.5" cy="248.5" rx="0.9" ry="2.8" transform="rotate(25 204.5 248.5)" fill="#2a40e0" stroke="#000" stroke-width="1.2"/>
<ellipse cx="214.5" cy="250.5" rx="0.9" ry="0.9" transform="rotate(0 214.5 250.5)" fill="#2a40e0" stroke="#000" stroke-width="1.2"/>
<ellipse cx="197.5" cy="302.0" rx="0.9" ry="1.2" transform="rotate(0 197.5 302.0)" fill="#2a40e0" stroke="#000" stroke-width="1.2"/>
<ellipse cx="239.7" cy="333.9" rx="1.8" ry="3.1" transform="rotate(25 239.7 333.9)" fill="#2a40e0" stroke="#000" stroke-width="1.2"/>
<ellipse cx="230.0" cy="312.5" rx="1.2" ry="1.6" transform="rotate(0 230.0 312.5)" fill="#2a40e0" stroke="#000" stroke-width="1.2"/>
<ellipse cx="270.0" cy="279.5" rx="1.2" ry="1.6" transform="rotate(0 270.0 279.5)" fill="#2a40e0" stroke="#000" stroke-width="1.2"/>
<ellipse cx="282.5" cy="277.5" rx="1.6" ry="2.8" transform="rotate(25 282.5 277.5)" fill="#2a40e0" stroke="#000" stroke-width="1.2"/>
<ellipse cx="296.9" cy="290.8" rx="2.2" ry="1.7" transform="rotate(0 296.9 290.8)" fill="#2a40e0" stroke="#000" stroke-width="1.2"/>
<ellipse cx="298.2" cy="307.8" rx="1.3" ry="6.1" transform="rotate(25 298.2 307.8)" fill="#2a40e0" stroke="#000" stroke-width="1.2"/>
<ellipse cx="297.5" cy="321.5" rx="0.9" ry="0.9" transform="rotate(0 297.5 321.5)" fill="#2a40e0" stroke="#000" stroke-width="1.2"/>
<ellipse cx="299.6" cy="330.4" rx="1.3" ry="1.8" transform="rotate(0 299.6 330.4)" fill="#2a40e0" stroke="#000" stroke-width="1.2"/>
<ellipse cx="293.5" cy="342.5" rx="0.9" ry="0.9" transform="rotate(0 293.5 342.5)" fill="#2a40e0" stroke="#000" stroke-width="1.2"/>
<ellipse cx="322.9" cy="309.1" rx="0.9" ry="1.8" transform="rotate(25 322.9 309.1)" fill="#2a40e0" stroke="#000" stroke-width="1.2"/>
<ellipse cx="315.8" cy="329.5" rx="0.9" ry="0.9" transform="rotate(0 315.8 329.5)" fill="#2a40e0" stroke="#000" stroke-width="1.2"/>
<ellipse cx="331.4" cy="345.9" rx="2.6" ry="3.5" transform="rotate(0 331.4 345.9)" fill="#2a40e0" stroke="#000" stroke-width="1.2"/>
<ellipse cx="326.0" cy="367.0" rx="0.9" ry="1.2" transform="rotate(0 326.0 367.0)" fill="#2a40e0" stroke="#000" stroke-width="1.2"/>
<ellipse cx="344.9" cy="333.1" rx="4.8" ry="3.5" transform="rotate(0 344.9 333.1)" fill="#2a40e0" stroke="#000" stroke-width="1.2"/>
<ellipse cx="359.0" cy="320.1" rx="1.3" ry="1.6" transform="rotate(0 359.0 320.1)" fill="#2a40e0" stroke="#000" stroke-width="1.2"/>
<ellipse cx="427.4" cy="388.2" rx="2.6" ry="0.9" transform="rotate(30 427.4 388.2)" fill="#2a40e0" stroke="#000" stroke-width="1.2"/>
<ellipse cx="361.1" cy="404.5" rx="0.9" ry="1.3" transform="rotate(0 361.1 404.5)" fill="#2a40e0" stroke="#000" stroke-width="1.2"/>
<ellipse cx="391.4" cy="423.5" rx="3.0" ry="1.7" transform="rotate(30 391.4 423.5)" fill="#2a40e0" stroke="#000" stroke-width="1.2"/>
<ellipse cx="409.0" cy="417.1" rx="1.8" ry="1.3" transform="rotate(0 409.0 417.1)" fill="#2a40e0" stroke="#000" stroke-width="1.2"/>
<ellipse cx="377.3" cy="443.2" rx="1.3" ry="1.8" transform="rotate(0 377.3 443.2)" fill="#2a40e0" stroke="#000" stroke-width="1.2"/>
</g>
<line x1="13" y1="49.5" x2="486" y2="49.5" class="dot"/>
<line x1="13" y1="134" x2="486" y2="134" class="dot"/>
<line x1="13" y1="218.6" x2="486" y2="218.6" class="dot"/>
<line x1="13" y1="303.1" x2="486" y2="303.1" class="dot"/>
<line x1="13" y1="387.7" x2="486" y2="387.7" class="dot"/>
<line x1="13" y1="472.2" x2="486" y2="472.2" class="dot"/>
<line x1="53.4" y1="41" x2="53.4" y2="549" class="dot"/>
<line x1="132.2" y1="41" x2="132.2" y2="549" class="dot"/>
<line x1="211" y1="41" x2="211" y2="549" class="dot"/>
<line x1="289.8" y1="41" x2="289.8" y2="549" class="dot"/>
<line x1="368.6" y1="41" x2="368.6" y2="549" class="dot"/>
<line x1="447.4" y1="41" x2="447.4" y2="549" class="dot"/>
<path d="M13.00,50.24 L32.71,64.90 L52.42,79.63 L72.12,94.41 L91.83,109.26 L111.54,124.17 L131.25,139.14 L150.96,154.18 L170.67,169.28 L190.38,184.44 L210.08,199.66 L229.79,214.95 L249.50,230.30 L269.21,245.71 L288.92,261.18 L308.62,276.72 L328.33,292.32 L348.04,307.98 L367.75,323.71 L387.46,339.49 L407.17,355.34 L426.88,371.26 L446.58,387.23 L466.29,403.27 L486.00,419.37" class="sw" style="stroke-dasharray:12.1 11.45"/>
<path d="M13.00,164.53 L32.71,179.31 L52.42,194.15 L72.12,209.06 L91.83,224.02 L111.54,239.04 L131.25,254.12 L150.96,269.26 L170.67,284.46 L190.38,299.73 L210.08,315.05 L229.79,330.43 L249.50,345.87 L269.21,361.37 L288.92,376.94 L308.62,392.56 L328.33,408.24 L348.04,423.98 L367.75,439.79 L387.46,455.65 L407.17,471.57 L426.88,487.55 L446.58,503.59 L466.29,519.70 L486.00,535.86" class="sw" style="stroke-dasharray:12.1 11.4"/>
<path d="M13,165.2 L32.2,160.7 L39,156.8 L49.1,155.9 L62.7,151.7 L72.8,144.9 L76.2,138.1 L83,135.1 L91.5,136.4 L96.6,139.3 L103.7,140.7 L102.5,149.1 L98.3,157.6 L96.6,166.1 L99.1,172 L97.4,181.3 L98.3,191.5 L96.6,199.1 L94,200.8 L89.8,203.3 L88.1,211.8 L88.1,218.6 L86.4,228.7 L85.6,240.6 L83,247.4 L78.8,253.3 L74.5,261 L69.5,266 L66.9,272.8 L64.4,279.6 L60.1,286.4 L57.6,294 L52.5,298.2 L47.4,303.3 L45.7,313.5 L40.7,325.3 L30.5,340.6 L22,355.8 L16.9,369.4 L16.1,379.5 L13,386.3" class="coast"/>
<path d="M94,200.8 L100.8,195.7 L109.3,200 L106.7,202.5 L100.8,200.8 L96,201.5 Z" class="coast"/>
<text x="231.9" y="49.8" class="ll">14</text>
<text x="231.9" y="134.3" class="ll">12</text>
<text x="231.9" y="218.9" class="ll">10</text>
<text x="231.9" y="303.4" class="ll">8</text>
<text x="231.9" y="388" class="ll">6</text>
<text x="231.9" y="472.5" class="ll">4</text>
<text x="54.1" y="281.7" class="ll">50</text>
<text x="132.9" y="281.7" class="ll">52</text>
<text x="211.7" y="281.7" class="ll">54</text>
<text x="290.5" y="281.7" class="ll">56</text>
<text x="369.3" y="281.7" class="ll">58</text>
<text x="448.1" y="281.7" class="ll">60</text>
<path d="M243,292.2h12.8v4.6h-12.8z M247.3,288.2h4.5v12.6h-4.5z" fill="#000"/>
<text x="36.8" y="66" class="ttl">PR max reflectivity projection (dBZ)</text>
<text x="438.2" y="522.8" class="let">(b)</text>
<rect x="495.3" y="531.6" width="8.6" height="8.8" fill="#f4f4f4"/>
<rect x="495.3" y="523.1" width="8.6" height="8.8" fill="#ececec"/>
<rect x="495.3" y="514.7" width="8.6" height="8.8" fill="#e4e4e4"/>
<rect x="495.3" y="506.2" width="8.6" height="8.8" fill="#dcdcdc"/>
<rect x="495.3" y="497.8" width="8.6" height="8.8" fill="#d5d5d5"/>
<rect x="495.3" y="489.3" width="8.6" height="8.8" fill="#cdcdcd"/>
<rect x="495.3" y="480.9" width="8.6" height="8.8" fill="#c5c5c5"/>
<rect x="495.3" y="472.4" width="8.6" height="8.8" fill="#bdbdbd"/>
<rect x="495.3" y="463.9" width="8.6" height="8.8" fill="#b5b5b5"/>
<rect x="495.3" y="455.5" width="8.6" height="8.8" fill="#adadad"/>
<rect x="495.3" y="447" width="8.6" height="8.8" fill="#a6a6a6"/>
<rect x="495.3" y="438.6" width="8.6" height="8.8" fill="#9e9e9e"/>
<rect x="495.3" y="430.1" width="8.6" height="8.8" fill="#969696"/>
<rect x="495.3" y="421.7" width="8.6" height="8.8" fill="#8e8e8e"/>
<rect x="495.3" y="413.2" width="8.6" height="8.8" fill="#80e088"/>
<rect x="495.3" y="404.7" width="8.6" height="8.8" fill="#78d880"/>
<rect x="495.3" y="396.3" width="8.6" height="8.8" fill="#70c874"/>
<rect x="495.3" y="387.8" width="8.6" height="8.8" fill="#6cc070"/>
<rect x="495.3" y="379.4" width="8.6" height="8.8" fill="#68b868"/>
<rect x="495.3" y="370.9" width="8.6" height="8.8" fill="#d0d8ff"/>
<rect x="495.3" y="362.5" width="8.6" height="8.8" fill="#b0c8ff"/>
<rect x="495.3" y="354" width="8.6" height="8.8" fill="#98c0ff"/>
<rect x="495.3" y="345.6" width="8.6" height="8.8" fill="#80b8ff"/>
<rect x="495.3" y="337.1" width="8.6" height="8.8" fill="#60b0ff"/>
<rect x="495.3" y="328.6" width="8.6" height="8.8" fill="#4aa8ff"/>
<rect x="495.3" y="320.2" width="8.6" height="8.8" fill="#4090ff"/>
<rect x="495.3" y="311.7" width="8.6" height="8.8" fill="#4070ff"/>
<rect x="495.3" y="303.3" width="8.6" height="8.8" fill="#3a55ff"/>
<rect x="495.3" y="294.8" width="8.6" height="8.8" fill="#2a2aff"/>
<rect x="495.3" y="286.4" width="8.6" height="8.8" fill="#0000ff"/>
<rect x="495.3" y="277.9" width="8.6" height="8.8" fill="#0000f0"/>
<rect x="495.3" y="269.5" width="8.6" height="8.8" fill="#0000e0"/>
<rect x="495.3" y="261" width="8.6" height="8.8" fill="#0000cc"/>
<rect x="495.3" y="252.5" width="8.6" height="8.8" fill="#0000c0"/>
<rect x="495.3" y="244.1" width="8.6" height="8.8" fill="#ffff00"/>
<rect x="495.3" y="235.6" width="8.6" height="8.8" fill="#ffff00"/>
<rect x="495.3" y="227.2" width="8.6" height="8.8" fill="#ffe800"/>
<rect x="495.3" y="218.7" width="8.6" height="8.8" fill="#ffe000"/>
<rect x="495.3" y="210.3" width="8.6" height="8.8" fill="#ffcc00"/>
<rect x="495.3" y="201.8" width="8.6" height="8.8" fill="#ff8c00"/>
<rect x="495.3" y="193.3" width="8.6" height="8.8" fill="#ff8400"/>
<rect x="495.3" y="184.9" width="8.6" height="8.8" fill="#ff8000"/>
<rect x="495.3" y="176.4" width="8.6" height="8.8" fill="#ff7400"/>
<rect x="495.3" y="168" width="8.6" height="8.8" fill="#ff6a00"/>
<rect x="495.3" y="159.5" width="8.6" height="8.8" fill="#ff3a00"/>
<rect x="495.3" y="151.1" width="8.6" height="8.8" fill="#ff3000"/>
<rect x="495.3" y="142.6" width="8.6" height="8.8" fill="#ff2a00"/>
<rect x="495.3" y="134.2" width="8.6" height="8.8" fill="#ff2000"/>
<rect x="495.3" y="125.7" width="8.6" height="8.8" fill="#ff1400"/>
<rect x="495.3" y="117.2" width="8.6" height="8.8" fill="#c40000"/>
<rect x="495.3" y="108.8" width="8.6" height="8.8" fill="#bc0000"/>
<rect x="495.3" y="100.3" width="8.6" height="8.8" fill="#b00000"/>
<rect x="495.3" y="91.9" width="8.6" height="8.8" fill="#a40800"/>
<rect x="495.3" y="83.4" width="8.6" height="8.8" fill="#9c0800"/>
<rect x="495.3" y="75" width="8.6" height="8.8" fill="#600c08"/>
<rect x="495.3" y="66.5" width="8.6" height="8.8" fill="#5e0e0c"/>
<rect x="495.3" y="58.1" width="8.6" height="8.8" fill="#5c120f"/>
<rect x="495.3" y="49.6" width="8.6" height="8.8" fill="#5a1412"/>
<rect x="495.3" y="41.1" width="8.6" height="8.8" fill="#5a1a16"/>
<line x1="503.9" y1="548.5" x2="506.5" y2="548.5" stroke="#000" stroke-width="1"/>
<text x="525" y="556.4" class="cb">0</text>
<line x1="503.9" y1="497.8" x2="506.5" y2="497.8" stroke="#000" stroke-width="1"/>
<text x="525" y="505.7" class="cb">6</text>
<line x1="503.9" y1="447" x2="506.5" y2="447" stroke="#000" stroke-width="1"/>
<text x="525" y="454.9" class="cb">12</text>
<line x1="503.9" y1="396.3" x2="506.5" y2="396.3" stroke="#000" stroke-width="1"/>
<text x="525" y="404.2" class="cb">18</text>
<line x1="503.9" y1="345.6" x2="506.5" y2="345.6" stroke="#000" stroke-width="1"/>
<text x="525" y="353.5" class="cb">24</text>
<line x1="503.9" y1="294.8" x2="506.5" y2="294.8" stroke="#000" stroke-width="1"/>
<text x="525" y="302.7" class="cb">30</text>
<line x1="503.9" y1="244.1" x2="506.5" y2="244.1" stroke="#000" stroke-width="1"/>
<text x="525" y="252" class="cb">36</text>
<line x1="503.9" y1="193.3" x2="506.5" y2="193.3" stroke="#000" stroke-width="1"/>
<text x="525" y="201.2" class="cb">42</text>
<line x1="503.9" y1="142.6" x2="506.5" y2="142.6" stroke="#000" stroke-width="1"/>
<text x="525" y="150.5" class="cb">48</text>
<line x1="503.9" y1="91.9" x2="506.5" y2="91.9" stroke="#000" stroke-width="1"/>
<text x="525" y="99.8" class="cb">54</text>
</g>
<g transform="translate(1180.7,0)">
<g clip-path="url(#mapclip)">
<pattern id="pc" patternUnits="userSpaceOnUse" width="26.0" height="26.0" patternTransform="rotate(-37)"><rect x="0.0" y="0.0" width="2.65" height="2.65" fill="#80dc88"/><rect x="0.0" y="2.6" width="2.65" height="2.65" fill="#80dc88"/><rect x="0.0" y="5.2" width="2.65" height="2.65" fill="#80dc88"/><rect x="0.0" y="7.8" width="2.65" height="2.65" fill="#78d080"/><rect x="0.0" y="10.4" width="2.65" height="2.65" fill="#80dc88"/><rect x="0.0" y="13.0" width="2.65" height="2.65" fill="#80dc88"/><rect x="0.0" y="15.6" width="2.65" height="2.65" fill="#78d080"/><rect x="0.0" y="18.2" width="2.65" height="2.65" fill="#80dc88"/><rect x="0.0" y="20.8" width="2.65" height="2.65" fill="#80dc88"/><rect x="0.0" y="23.4" width="2.65" height="2.65" fill="#78d080"/><rect x="2.6" y="0.0" width="2.65" height="2.65" fill="#80dc88"/><rect x="2.6" y="2.6" width="2.65" height="2.65" fill="#80dc88"/><rect x="2.6" y="5.2" width="2.65" height="2.65" fill="#78d080"/><rect x="2.6" y="7.8" width="2.65" height="2.65" fill="#80dc88"/><rect x="2.6" y="10.4" width="2.65" height="2.65" fill="#78d080"/><rect x="2.6" y="13.0" width="2.65" height="2.65" fill="#80dc88"/><rect x="2.6" y="15.6" width="2.65" height="2.65" fill="#80dc88"/><rect x="2.6" y="18.2" width="2.65" height="2.65" fill="#80dc88"/><rect x="2.6" y="20.8" width="2.65" height="2.65" fill="#80dc88"/><rect x="2.6" y="23.4" width="2.65" height="2.65" fill="#b8ccff"/><rect x="5.2" y="0.0" width="2.65" height="2.65" fill="#80dc88"/><rect x="5.2" y="2.6" width="2.65" height="2.65" fill="#78d080"/><rect x="5.2" y="5.2" width="2.65" height="2.65" fill="#80dc88"/><rect x="5.2" y="7.8" width="2.65" height="2.65" fill="#78d080"/><rect x="5.2" y="10.4" width="2.65" height="2.65" fill="#80dc88"/><rect x="5.2" y="13.0" width="2.65" height="2.65" fill="#80dc88"/><rect x="5.2" y="15.6" width="2.65" height="2.65" fill="#78d080"/><rect x="5.2" y="18.2" width="2.65" height="2.65" fill="#78d080"/><rect x="5.2" y="20.8" width="2.65" height="2.65" fill="#80dc88"/><rect x="5.2" y="23.4" width="2.65" height="2.65" fill="#80dc88"/><rect x="7.8" y="0.0" width="2.65" height="2.65" fill="#80dc88"/><rect x="7.8" y="2.6" width="2.65" height="2.65" fill="#80dc88"/><rect x="7.8" y="5.2" width="2.65" height="2.65" fill="#80dc88"/><rect x="7.8" y="7.8" width="2.65" height="2.65" fill="#78d080"/><rect x="7.8" y="10.4" width="2.65" height="2.65" fill="#80dc88"/><rect x="7.8" y="13.0" width="2.65" height="2.65" fill="#78d080"/><rect x="7.8" y="15.6" width="2.65" height="2.65" fill="#78d080"/><rect x="7.8" y="18.2" width="2.65" height="2.65" fill="#80dc88"/><rect x="7.8" y="20.8" width="2.65" height="2.65" fill="#80dc88"/><rect x="7.8" y="23.4" width="2.65" height="2.65" fill="#80dc88"/><rect x="10.4" y="0.0" width="2.65" height="2.65" fill="#80dc88"/><rect x="10.4" y="2.6" width="2.65" height="2.65" fill="#80dc88"/><rect x="10.4" y="5.2" width="2.65" height="2.65" fill="#78d080"/><rect x="10.4" y="7.8" width="2.65" height="2.65" fill="#80dc88"/><rect x="10.4" y="10.4" width="2.65" height="2.65" fill="#80dc88"/><rect x="10.4" y="13.0" width="2.65" height="2.65" fill="#80dc88"/><rect x="10.4" y="15.6" width="2.65" height="2.65" fill="#80dc88"/><rect x="10.4" y="18.2" width="2.65" height="2.65" fill="#78d080"/><rect x="10.4" y="20.8" width="2.65" height="2.65" fill="#80dc88"/><rect x="10.4" y="23.4" width="2.65" height="2.65" fill="#80dc88"/><rect x="13.0" y="0.0" width="2.65" height="2.65" fill="#80dc88"/><rect x="13.0" y="2.6" width="2.65" height="2.65" fill="#80dc88"/><rect x="13.0" y="5.2" width="2.65" height="2.65" fill="#80dc88"/><rect x="13.0" y="7.8" width="2.65" height="2.65" fill="#80dc88"/><rect x="13.0" y="10.4" width="2.65" height="2.65" fill="#80dc88"/><rect x="13.0" y="13.0" width="2.65" height="2.65" fill="#b8ccff"/><rect x="13.0" y="15.6" width="2.65" height="2.65" fill="#80dc88"/><rect x="13.0" y="18.2" width="2.65" height="2.65" fill="#80dc88"/><rect x="13.0" y="20.8" width="2.65" height="2.65" fill="#78d080"/><rect x="13.0" y="23.4" width="2.65" height="2.65" fill="#80dc88"/><rect x="15.6" y="0.0" width="2.65" height="2.65" fill="#80dc88"/><rect x="15.6" y="2.6" width="2.65" height="2.65" fill="#80dc88"/><rect x="15.6" y="5.2" width="2.65" height="2.65" fill="#80dc88"/><rect x="15.6" y="7.8" width="2.65" height="2.65" fill="#b8ccff"/><rect x="15.6" y="10.4" width="2.65" height="2.65" fill="#80dc88"/><rect x="15.6" y="13.0" width="2.65" height="2.65" fill="#80dc88"/><rect x="15.6" y="15.6" width="2.65" height="2.65" fill="#80dc88"/><rect x="15.6" y="18.2" width="2.65" height="2.65" fill="#80dc88"/><rect x="15.6" y="20.8" width="2.65" height="2.65" fill="#80dc88"/><rect x="15.6" y="23.4" width="2.65" height="2.65" fill="#4a90ff"/><rect x="18.2" y="0.0" width="2.65" height="2.65" fill="#4a90ff"/><rect x="18.2" y="2.6" width="2.65" height="2.65" fill="#80dc88"/><rect x="18.2" y="5.2" width="2.65" height="2.65" fill="#78d080"/><rect x="18.2" y="7.8" width="2.65" height="2.65" fill="#b8ccff"/><rect x="18.2" y="10.4" width="2.65" height="2.65" fill="#80dc88"/><rect x="18.2" y="13.0" width="2.65" height="2.65" fill="#80dc88"/><rect x="18.2" y="15.6" width="2.65" height="2.65" fill="#80dc88"/><rect x="18.2" y="18.2" width="2.65" height="2.65" fill="#80dc88"/><rect x="18.2" y="20.8" width="2.65" height="2.65" fill="#78d080"/><rect x="18.2" y="23.4" width="2.65" height="2.65" fill="#80dc88"/><rect x="20.8" y="0.0" width="2.65" height="2.65" fill="#78d080"/><rect x="20.8" y="2.6" width="2.65" height="2.65" fill="#80dc88"/><rect x="20.8" y="5.2" width="2.65" height="2.65" fill="#80dc88"/><rect x="20.8" y="7.8" width="2.65" height="2.65" fill="#78d080"/><rect x="20.8" y="10.4" width="2.65" height="2.65" fill="#80dc88"/><rect x="20.8" y="13.0" width="2.65" height="2.65" fill="#80dc88"/><rect x="20.8" y="15.6" width="2.65" height="2.65" fill="#80dc88"/><rect x="20.8" y="18.2" width="2.65" height="2.65" fill="#4a90ff"/><rect x="20.8" y="20.8" width="2.65" height="2.65" fill="#80dc88"/><rect x="20.8" y="23.4" width="2.65" height="2.65" fill="#80dc88"/><rect x="23.4" y="0.0" width="2.65" height="2.65" fill="#78d080"/><rect x="23.4" y="2.6" width="2.65" height="2.65" fill="#80dc88"/><rect x="23.4" y="5.2" width="2.65" height="2.65" fill="#80dc88"/><rect x="23.4" y="7.8" width="2.65" height="2.65" fill="#80dc88"/><rect x="23.4" y="10.4" width="2.65" height="2.65" fill="#80dc88"/><rect x="23.4" y="13.0" width="2.65" height="2.65" fill="#80dc88"/><rect x="23.4" y="15.6" width="2.65" height="2.65" fill="#80dc88"/><rect x="23.4" y="18.2" width="2.65" height="2.65" fill="#78d080"/><rect x="23.4" y="20.8" width="2.65" height="2.65" fill="#80dc88"/><rect x="23.4" y="23.4" width="2.65" height="2.65" fill="#78d080"/></pattern>
<path d="M219.7,297.5 L220.5,306.2 L225.3,310.9 L230.8,310.1 L234.0,307.0 L238.7,303.0 L245.8,299.1 L247.4,291.1 L246.6,285.6 L243.5,282.5 L245.0,278.5 L249.8,275.3 L254.5,271.4 L262.4,270.6 L274.3,271.4 L287.7,272.2 L289.3,270.6 L283.0,264.3 L279.8,261.1 L283.8,257.2 L276.7,251.6 L268.8,243.7 L264.0,245.3 L259.3,237.4 L254.5,233.4 L251.4,235.0 L246.6,240.6 L243.5,245.3 L238.7,250.0 L234.8,253.2 L229.2,253.2 L225.3,255.6 L222.9,261.1 L222.1,267.4 L226.1,273.8 L229.2,279.3 L227.7,283.2 L226.1,288.8 L222.9,292.7Z" fill="url(#pc)" stroke="#000" stroke-width="1.2" stroke-linejoin="round"/>
<path d="M171.5,282.5 L179.4,280.1 L180.2,272.2 L184.2,269.0 L189.7,268.2 L192.9,275.3 L197.6,274.5 L199.2,270.6 L203.1,269.8 L203.1,277.7 L207.1,280.1 L211.8,281.7 L216.6,280.1 L219.7,283.2 L222.1,289.6 L219.7,295.9 L215.0,299.8 L211.8,302.2 L208.7,300.6 L203.9,295.9 L200.8,292.7 L196.0,291.1 L192.9,299.8 L189.7,299.1 L183.4,293.5 L175.5,286.4Z" fill="url(#pc)" stroke="#000" stroke-width="1.2" stroke-linejoin="round"/>
<path d="M203.9,306.2 L208.7,303.0 L213.4,307.0 L215.0,318.8 L219.7,322.8 L215.0,322.0 L207.1,314.9 L203.9,310.9Z" fill="url(#pc)" stroke="#000" stroke-width="1.2" stroke-linejoin="round"/>
<path d="M258.5,285.6 L262.4,280.9 L268.8,283.2 L275.1,286.4 L275.1,289.6 L269.6,287.2 L263.2,284.8 L260.1,287.2Z" fill="url(#pc)" stroke="#000" stroke-width="1.2" stroke-linejoin="round"/>
<path d="M241.0,261.0 L249.5,258.0 L247.0,274.0 L241.0,272.0Z" fill="#fff" stroke="#000" stroke-width="1.2" stroke-linejoin="round"/>
<path d="M236.0,283.0 L240.0,282.0 L241.0,288.0 L236.0,288.0Z" fill="#fff" stroke="#000" stroke-width="1.2" stroke-linejoin="round"/>
<ellipse cx="43.5" cy="159.2" rx="4.4" ry="1.9" transform="rotate(30 43.5 159.2)" fill="#80dc88" stroke="#000" stroke-width="1.2"/>
<ellipse cx="64.6" cy="150.5" rx="2.6" ry="1.7" transform="rotate(0 64.6 150.5)" fill="#80dc88" stroke="#000" stroke-width="1.2"/>
<ellipse cx="29.4" cy="174.0" rx="0.9" ry="0.9" transform="rotate(0 29.4 174.0)" fill="#80dc88" stroke="#000" stroke-width="1.2"/>
<ellipse cx="104.1" cy="183.5" rx="0.9" ry="1.7" transform="rotate(25 104.1 183.5)" fill="#80dc88" stroke="#000" stroke-width="1.2"/>
<ellipse cx="114.0" cy="187.8" rx="0.9" ry="0.9" transform="rotate(0 114.0 187.8)" fill="#80dc88" stroke="#000" stroke-width="1.2"/>
<ellipse cx="138.4" cy="188.8" rx="1.5" ry="3.3" transform="rotate(25 138.4 188.8)" fill="#80dc88" stroke="#000" stroke-width="1.2"/>
<ellipse cx="147.9" cy="200.4" rx="0.9" ry="1.2" transform="rotate(0 147.9 200.4)" fill="#80dc88" stroke="#000" stroke-width="1.2"/>
<ellipse cx="155.6" cy="209.7" rx="2.2" ry="4.8" transform="rotate(25 155.6 209.7)" fill="#80dc88" stroke="#000" stroke-width="1.2"/>
<ellipse cx="156.3" cy="222.3" rx="2.6" ry="1.3" transform="rotate(30 156.3 222.3)" fill="#80dc88" stroke="#000" stroke-width="1.2"/>
<ellipse cx="161.3" cy="234.3" rx="3.0" ry="3.5" transform="rotate(0 161.3 234.3)" fill="#80dc88" stroke="#000" stroke-width="1.2"/>
<ellipse cx="164.8" cy="226.5" rx="0.9" ry="0.9" transform="rotate(0 164.8 226.5)" fill="#80dc88" stroke="#000" stroke-width="1.2"/>
<ellipse cx="107.0" cy="216.8" rx="0.9" ry="1.4" transform="rotate(0 107.0 216.8)" fill="#80dc88" stroke="#000" stroke-width="1.2"/>
<ellipse cx="107.0" cy="225.2" rx="0.9" ry="1.3" transform="rotate(0 107.0 225.2)" fill="#80dc88" stroke="#000" stroke-width="1.2"/>
<ellipse cx="138.7" cy="228.7" rx="1.3" ry="4.4" transform="rotate(25 138.7 228.7)" fill="#80dc88" stroke="#000" stroke-width="1.2"/>
<ellipse cx="145.8" cy="261.1" rx="2.2" ry="3.5" transform="rotate(0 145.8 261.1)" fill="#80dc88" stroke="#000" stroke-width="1.2"/>
<ellipse cx="156.8" cy="250.6" rx="1.5" ry="1.3" transform="rotate(0 156.8 250.6)" fill="#80dc88" stroke="#000" stroke-width="1.2"/>
<ellipse cx="183.9" cy="254.1" rx="1.3" ry="4.4" transform="rotate(25 183.9 254.1)" fill="#80dc88" stroke="#000" stroke-width="1.2"/>
<ellipse cx="199.0" cy="236.0" rx="1.2" ry="1.2" transform="rotate(0 199.0 236.0)" fill="#80dc88" stroke="#000" stroke-width="1.2"/>
<ellipse cx="211.5" cy="234.5" rx="0.9" ry="0.9" transform="rotate(0 211.5 234.5)" fill="#80dc88" stroke="#000" stroke-width="1.2"/>
<ellipse cx="204.5" cy="248.5" rx="0.9" ry="2.8" transform="rotate(25 204.5 248.5)" fill="#80dc88" stroke="#000" stroke-width="1.2"/>
<ellipse cx="214.5" cy="250.5" rx="0.9" ry="0.9" transform="rotate(0 214.5 250.5)" fill="#80dc88" stroke="#000" stroke-width="1.2"/>
<ellipse cx="197.5" cy="302.0" rx="0.9" ry="1.2" transform="rotate(0 197.5 302.0)" fill="#80dc88" stroke="#000" stroke-width="1.2"/>
<ellipse cx="239.7" cy="333.9" rx="1.8" ry="3.1" transform="rotate(25 239.7 333.9)" fill="#80dc88" stroke="#000" stroke-width="1.2"/>
<ellipse cx="230.0" cy="312.5" rx="1.2" ry="1.6" transform="rotate(0 230.0 312.5)" fill="#80dc88" stroke="#000" stroke-width="1.2"/>
<ellipse cx="270.0" cy="279.5" rx="1.2" ry="1.6" transform="rotate(0 270.0 279.5)" fill="#80dc88" stroke="#000" stroke-width="1.2"/>
<ellipse cx="282.5" cy="277.5" rx="1.6" ry="2.8" transform="rotate(25 282.5 277.5)" fill="#80dc88" stroke="#000" stroke-width="1.2"/>
<ellipse cx="296.9" cy="290.8" rx="2.2" ry="1.7" transform="rotate(0 296.9 290.8)" fill="#80dc88" stroke="#000" stroke-width="1.2"/>
<ellipse cx="298.2" cy="307.8" rx="1.3" ry="6.1" transform="rotate(25 298.2 307.8)" fill="#80dc88" stroke="#000" stroke-width="1.2"/>
<ellipse cx="297.5" cy="321.5" rx="0.9" ry="0.9" transform="rotate(0 297.5 321.5)" fill="#80dc88" stroke="#000" stroke-width="1.2"/>
<ellipse cx="299.6" cy="330.4" rx="1.3" ry="1.8" transform="rotate(0 299.6 330.4)" fill="#80dc88" stroke="#000" stroke-width="1.2"/>
<ellipse cx="293.5" cy="342.5" rx="0.9" ry="0.9" transform="rotate(0 293.5 342.5)" fill="#80dc88" stroke="#000" stroke-width="1.2"/>
<ellipse cx="322.9" cy="309.1" rx="0.9" ry="1.8" transform="rotate(25 322.9 309.1)" fill="#80dc88" stroke="#000" stroke-width="1.2"/>
<ellipse cx="315.8" cy="329.5" rx="0.9" ry="0.9" transform="rotate(0 315.8 329.5)" fill="#80dc88" stroke="#000" stroke-width="1.2"/>
<ellipse cx="331.4" cy="345.9" rx="2.6" ry="3.5" transform="rotate(0 331.4 345.9)" fill="#80dc88" stroke="#000" stroke-width="1.2"/>
<ellipse cx="326.0" cy="367.0" rx="0.9" ry="1.2" transform="rotate(0 326.0 367.0)" fill="#80dc88" stroke="#000" stroke-width="1.2"/>
<ellipse cx="344.9" cy="333.1" rx="4.8" ry="3.5" transform="rotate(0 344.9 333.1)" fill="#80dc88" stroke="#000" stroke-width="1.2"/>
<ellipse cx="359.0" cy="320.1" rx="1.3" ry="1.6" transform="rotate(0 359.0 320.1)" fill="#80dc88" stroke="#000" stroke-width="1.2"/>
<ellipse cx="427.4" cy="388.2" rx="2.6" ry="0.9" transform="rotate(30 427.4 388.2)" fill="#80dc88" stroke="#000" stroke-width="1.2"/>
<ellipse cx="361.1" cy="404.5" rx="0.9" ry="1.3" transform="rotate(0 361.1 404.5)" fill="#80dc88" stroke="#000" stroke-width="1.2"/>
<ellipse cx="391.4" cy="423.5" rx="3.0" ry="1.7" transform="rotate(30 391.4 423.5)" fill="#80dc88" stroke="#000" stroke-width="1.2"/>
<ellipse cx="409.0" cy="417.1" rx="1.8" ry="1.3" transform="rotate(0 409.0 417.1)" fill="#80dc88" stroke="#000" stroke-width="1.2"/>
<ellipse cx="377.3" cy="443.2" rx="1.3" ry="1.8" transform="rotate(0 377.3 443.2)" fill="#80dc88" stroke="#000" stroke-width="1.2"/>
</g>
<line x1="13" y1="49.5" x2="486" y2="49.5" class="dot"/>
<line x1="13" y1="134" x2="486" y2="134" class="dot"/>
<line x1="13" y1="218.6" x2="486" y2="218.6" class="dot"/>
<line x1="13" y1="303.1" x2="486" y2="303.1" class="dot"/>
<line x1="13" y1="387.7" x2="486" y2="387.7" class="dot"/>
<line x1="13" y1="472.2" x2="486" y2="472.2" class="dot"/>
<line x1="53.4" y1="41" x2="53.4" y2="549" class="dot"/>
<line x1="132.2" y1="41" x2="132.2" y2="549" class="dot"/>
<line x1="211" y1="41" x2="211" y2="549" class="dot"/>
<line x1="289.8" y1="41" x2="289.8" y2="549" class="dot"/>
<line x1="368.6" y1="41" x2="368.6" y2="549" class="dot"/>
<line x1="447.4" y1="41" x2="447.4" y2="549" class="dot"/>
<path d="M13.00,50.24 L32.71,64.90 L52.42,79.63 L72.12,94.41 L91.83,109.26 L111.54,124.17 L131.25,139.14 L150.96,154.18 L170.67,169.28 L190.38,184.44 L210.08,199.66 L229.79,214.95 L249.50,230.30 L269.21,245.71 L288.92,261.18 L308.62,276.72 L328.33,292.32 L348.04,307.98 L367.75,323.71 L387.46,339.49 L407.17,355.34 L426.88,371.26 L446.58,387.23 L466.29,403.27 L486.00,419.37" class="sw" style="stroke-dasharray:12.1 11.45"/>
<path d="M13.00,164.53 L32.71,179.31 L52.42,194.15 L72.12,209.06 L91.83,224.02 L111.54,239.04 L131.25,254.12 L150.96,269.26 L170.67,284.46 L190.38,299.73 L210.08,315.05 L229.79,330.43 L249.50,345.87 L269.21,361.37 L288.92,376.94 L308.62,392.56 L328.33,408.24 L348.04,423.98 L367.75,439.79 L387.46,455.65 L407.17,471.57 L426.88,487.55 L446.58,503.59 L466.29,519.70 L486.00,535.86" class="sw" style="stroke-dasharray:12.1 11.4"/>
<path d="M13,165.2 L32.2,160.7 L39,156.8 L49.1,155.9 L62.7,151.7 L72.8,144.9 L76.2,138.1 L83,135.1 L91.5,136.4 L96.6,139.3 L103.7,140.7 L102.5,149.1 L98.3,157.6 L96.6,166.1 L99.1,172 L97.4,181.3 L98.3,191.5 L96.6,199.1 L94,200.8 L89.8,203.3 L88.1,211.8 L88.1,218.6 L86.4,228.7 L85.6,240.6 L83,247.4 L78.8,253.3 L74.5,261 L69.5,266 L66.9,272.8 L64.4,279.6 L60.1,286.4 L57.6,294 L52.5,298.2 L47.4,303.3 L45.7,313.5 L40.7,325.3 L30.5,340.6 L22,355.8 L16.9,369.4 L16.1,379.5 L13,386.3" class="coast"/>
<path d="M94,200.8 L100.8,195.7 L109.3,200 L106.7,202.5 L100.8,200.8 L96,201.5 Z" class="coast"/>
<text x="231.9" y="49.8" class="ll">14</text>
<text x="231.9" y="134.3" class="ll">12</text>
<text x="231.9" y="218.9" class="ll">10</text>
<text x="231.9" y="303.4" class="ll">8</text>
<text x="231.9" y="388" class="ll">6</text>
<text x="231.9" y="472.5" class="ll">4</text>
<text x="54.1" y="281.7" class="ll">50</text>
<text x="132.9" y="281.7" class="ll">52</text>
<text x="211.7" y="281.7" class="ll">54</text>
<text x="290.5" y="281.7" class="ll">56</text>
<text x="369.3" y="281.7" class="ll">58</text>
<text x="448.1" y="281.7" class="ll">60</text>
<path d="M243,292.2h12.8v4.6h-12.8z M247.3,288.2h4.5v12.6h-4.5z" fill="#000"/>
<text x="36.8" y="66" class="ttl">2A25 near surface rainrate (mm/hr)</text>
<text x="438.2" y="522.8" class="let">(c)</text>
<rect x="495.3" y="531.6" width="8.6" height="8.8" fill="#80e088"/>
<rect x="495.3" y="523.1" width="8.6" height="8.8" fill="#7cdc84"/>
<rect x="495.3" y="514.7" width="8.6" height="8.8" fill="#78d880"/>
<rect x="495.3" y="506.2" width="8.6" height="8.8" fill="#72ce78"/>
<rect x="495.3" y="497.8" width="8.6" height="8.8" fill="#6cc070"/>
<rect x="495.3" y="489.3" width="8.6" height="8.8" fill="#6abc6c"/>
<rect x="495.3" y="480.9" width="8.6" height="8.8" fill="#68b868"/>
<rect x="495.3" y="472.4" width="8.6" height="8.8" fill="#d0d8ff"/>
<rect x="495.3" y="463.9" width="8.6" height="8.8" fill="#b8ccff"/>
<rect x="495.3" y="455.5" width="8.6" height="8.8" fill="#b0c8ff"/>
<rect x="495.3" y="447" width="8.6" height="8.8" fill="#a0c0ff"/>
<rect x="495.3" y="438.6" width="8.6" height="8.8" fill="#98c0ff"/>
<rect x="495.3" y="430.1" width="8.6" height="8.8" fill="#80b8ff"/>
<rect x="495.3" y="421.7" width="8.6" height="8.8" fill="#70b4ff"/>
<rect x="495.3" y="413.2" width="8.6" height="8.8" fill="#60b0ff"/>
<rect x="495.3" y="404.7" width="8.6" height="8.8" fill="#4aa8ff"/>
<rect x="495.3" y="396.3" width="8.6" height="8.8" fill="#4898ff"/>
<rect x="495.3" y="387.8" width="8.6" height="8.8" fill="#4090ff"/>
<rect x="495.3" y="379.4" width="8.6" height="8.8" fill="#4070ff"/>
<rect x="495.3" y="370.9" width="8.6" height="8.8" fill="#4060ff"/>
<rect x="495.3" y="362.5" width="8.6" height="8.8" fill="#3a48ff"/>
<rect x="495.3" y="354" width="8.6" height="8.8" fill="#2a2aff"/>
<rect x="495.3" y="345.6" width="8.6" height="8.8" fill="#0000ff"/>
<rect x="495.3" y="337.1" width="8.6" height="8.8" fill="#0000f0"/>
<rect x="495.3" y="328.6" width="8.6" height="8.8" fill="#0000e0"/>
<rect x="495.3" y="320.2" width="8.6" height="8.8" fill="#0000cc"/>
<rect x="495.3" y="311.7" width="8.6" height="8.8" fill="#0000b8"/>
<rect x="495.3" y="303.3" width="8.6" height="8.8" fill="#ffff00"/>
<rect x="495.3" y="294.8" width="8.6" height="8.8" fill="#ffff00"/>
<rect x="495.3" y="286.4" width="8.6" height="8.8" fill="#fff000"/>
<rect x="495.3" y="277.9" width="8.6" height="8.8" fill="#ffe800"/>
<rect x="495.3" y="269.5" width="8.6" height="8.8" fill="#ffe000"/>
<rect x="495.3" y="261" width="8.6" height="8.8" fill="#ffd800"/>
<rect x="495.3" y="252.5" width="8.6" height="8.8" fill="#ffcc00"/>
<rect x="495.3" y="244.1" width="8.6" height="8.8" fill="#ff8800"/>
<rect x="495.3" y="235.6" width="8.6" height="8.8" fill="#ff8000"/>
<rect x="495.3" y="227.2" width="8.6" height="8.8" fill="#ff7a00"/>
<rect x="495.3" y="218.7" width="8.6" height="8.8" fill="#ff7600"/>
<rect x="495.3" y="210.3" width="8.6" height="8.8" fill="#ff7000"/>
<rect x="495.3" y="201.8" width="8.6" height="8.8" fill="#ff6c00"/>
<rect x="495.3" y="193.3" width="8.6" height="8.8" fill="#ff4000"/>
<rect x="495.3" y="184.9" width="8.6" height="8.8" fill="#ff3800"/>
<rect x="495.3" y="176.4" width="8.6" height="8.8" fill="#ff3000"/>
<rect x="495.3" y="168" width="8.6" height="8.8" fill="#ff2800"/>
<rect x="495.3" y="159.5" width="8.6" height="8.8" fill="#ff2000"/>
<rect x="495.3" y="151.1" width="8.6" height="8.8" fill="#ff1a00"/>
<rect x="495.3" y="142.6" width="8.6" height="8.8" fill="#ff1400"/>
<rect x="495.3" y="134.2" width="8.6" height="8.8" fill="#c40000"/>
<rect x="495.3" y="125.7" width="8.6" height="8.8" fill="#c00000"/>
<rect x="495.3" y="117.2" width="8.6" height="8.8" fill="#b80000"/>
<rect x="495.3" y="108.8" width="8.6" height="8.8" fill="#b00000"/>
<rect x="495.3" y="100.3" width="8.6" height="8.8" fill="#a40800"/>
<rect x="495.3" y="91.9" width="8.6" height="8.8" fill="#9c0800"/>
<rect x="495.3" y="83.4" width="8.6" height="8.8" fill="#980800"/>
<rect x="495.3" y="75" width="8.6" height="8.8" fill="#600c08"/>
<rect x="495.3" y="66.5" width="8.6" height="8.8" fill="#5e0e0c"/>
<rect x="495.3" y="58.1" width="8.6" height="8.8" fill="#5c120f"/>
<rect x="495.3" y="49.6" width="8.6" height="8.8" fill="#5a1412"/>
<rect x="495.3" y="41.1" width="8.6" height="8.8" fill="#5a1a16"/>
<line x1="503.9" y1="548.5" x2="506.5" y2="548.5" stroke="#000" stroke-width="1"/>
<text x="525" y="556.4" class="cb">0</text>
<line x1="503.9" y1="497.8" x2="506.5" y2="497.8" stroke="#000" stroke-width="1"/>
<text x="525" y="505.7" class="cb">6</text>
<line x1="503.9" y1="447" x2="506.5" y2="447" stroke="#000" stroke-width="1"/>
<text x="525" y="454.9" class="cb">12</text>
<line x1="503.9" y1="396.3" x2="506.5" y2="396.3" stroke="#000" stroke-width="1"/>
<text x="525" y="404.2" class="cb">18</text>
<line x1="503.9" y1="345.6" x2="506.5" y2="345.6" stroke="#000" stroke-width="1"/>
<text x="525" y="353.5" class="cb">24</text>
<line x1="503.9" y1="294.8" x2="506.5" y2="294.8" stroke="#000" stroke-width="1"/>
<text x="525" y="302.7" class="cb">30</text>
<line x1="503.9" y1="244.1" x2="506.5" y2="244.1" stroke="#000" stroke-width="1"/>
<text x="525" y="252" class="cb">36</text>
<line x1="503.9" y1="193.3" x2="506.5" y2="193.3" stroke="#000" stroke-width="1"/>
<text x="525" y="201.2" class="cb">42</text>
<line x1="503.9" y1="142.6" x2="506.5" y2="142.6" stroke="#000" stroke-width="1"/>
<text x="525" y="150.5" class="cb">48</text>
<line x1="503.9" y1="91.9" x2="506.5" y2="91.9" stroke="#000" stroke-width="1"/>
<text x="525" y="99.8" class="cb">54</text>
</g>
<g transform="translate(0,590.3)">
<clipPath id="clip_d"><path d="M13,41 L191.8,41 L249.7,86.2 L339.7,155.9 L368.6,177.6 L393.9,198.4 L416.5,217.4 L486,273.5 L486,549 L310.6,549 L284.4,527.6 L250.5,498.8 L199.7,459.4 L129.9,405.2 L42.1,337.4 L13,315 Z"/></clipPath><g clip-path="url(#mapclip)">
<g clip-path="url(#clip_d)"><rect x="13" y="41" width="473" height="508" fill="#f4f4f4"/>
<path d="M13.2,41.2 13.2,217.8 15.2,217.8 19.2,215.8 21.2,212.2 22.2,190.8 25.2,186.2 31.2,184.2 47.2,184.8 50.2,186.2 53.2,190.8 53.8,209.2 55.8,215.2 58.2,217.2 65.8,220.2 68.8,224.8 69.2,227.8 68.8,363.8 65.8,368.2 59.2,370.8 55.8,373.2 53.2,380.8 50.2,385.2 42.2,388.2 39.8,390.2 37.2,397.8 34.2,402.2 27.8,404.8 24.2,407.2 20.2,417.8 16.8,420.2 13.2,420.8 13.2,548.8 485.8,548.8 485.8,41.2Z" fill="#ececec" fill-rule="evenodd"/>
<path d="M485.8,41.2 258.2,41.2 257.8,44.2 255.2,47.8 247.2,50.8 244.8,52.8 240.8,63.2 236.2,66.2 188.8,66.8 182.8,68.8 180.2,72.8 179.8,75.8 179.8,175.2 181.8,181.2 184.2,183.2 191.8,186.2 194.8,190.8 195.2,209.2 197.2,215.2 199.8,217.2 207.8,220.2 210.8,224.8 211.2,259.8 209.8,264.8 206.8,267.8 200.2,268.2 196.2,264.8 192.8,255.2 189.2,252.8 184.2,251.2 181.2,248.8 178.8,241.2 176.2,237.2 170.2,235.2 157.2,235.2 151.2,237.2 148.8,241.2 147.8,262.8 144.8,267.2 136.8,270.2 134.2,272.2 132.8,275.2 132.2,327.2 134.2,333.2 136.8,335.2 143.2,337.2 146.2,339.8 150.2,350.2 152.8,352.2 160.2,355.2 162.8,358.2 165.8,366.8 169.8,369.2 236.2,370.2 240.8,373.2 245.2,384.2 247.8,385.8 254.2,385.2 256.8,382.8 258.2,377.8 258.8,308.8 261.8,304.2 268.2,301.8 271.8,299.2 274.8,290.8 277.2,287.8 285.2,284.8 287.8,282.8 290.2,275.2 293.2,270.8 299.2,268.8 312.2,268.8 318.2,266.8 320.8,262.8 323.2,255.2 326.2,252.8 331.2,251.2 334.2,249.2 336.2,244.8 335.8,240.2 333.8,237.2 326.2,234.2 322.8,230.8 321.8,225.8 323.8,221.2 326.8,219.2 330.8,218.2 390.8,218.2 396.8,216.2 399.2,212.2 401.8,204.8 404.8,202.2 411.2,200.2 413.8,198.2 417.8,187.8 420.8,185.2 425.8,183.8 429.2,181.2 433.2,170.8 436.2,168.2 442.8,166.2 445.2,164.2 449.2,154.2 452.2,151.8 459.8,148.8 462.2,144.8 464.8,137.2 467.8,134.8 475.8,131.8 477.8,129.2 480.2,121.2 482.8,118.8 485.8,117.8Z" fill="#e2e2e2" fill-rule="evenodd"/>
<path d="M317.2,236.8 312.2,235.2 251.8,235.2 245.8,237.2 243.2,241.2 240.8,248.8 237.8,251.2 231.2,253.2 228.8,255.2 226.8,261.2 226.2,279.8 224.8,282.8 220.2,285.8 204.2,286.2 198.2,284.2 195.2,279.8 192.8,272.2 188.8,269.8 172.8,269.2 166.8,271.2 164.2,275.2 163.8,278.2 163.8,310.2 165.8,316.2 168.2,318.2 176.2,321.2 179.2,325.8 181.8,333.2 185.8,335.8 210.8,336.2 211.2,344.2 213.2,350.2 216.8,352.8 221.8,354.2 224.8,356.8 229.2,367.2 231.8,368.8 238.2,368.2 240.8,365.8 242.2,360.8 242.2,328.8 240.8,323.8 238.2,321.2 233.2,319.8 226.2,319.2 226.2,311.8 227.8,306.8 229.2,304.8 232.8,302.8 249.2,302.2 255.2,300.2 257.2,297.8 260.2,289.2 263.2,286.8 270.8,283.8 273.2,279.8 273.8,261.2 275.8,255.2 280.2,252.2 315.2,251.2 318.8,249.2 320.8,244.8 320.2,240.2ZM226.2,319.2 226.8,327.2 225.2,332.2 222.2,335.2 219.8,336.2 211.2,336.8 210.8,329.2 212.2,323.8 215.2,320.8 217.8,319.8ZM261.2,187.2 259.2,191.8 259.8,196.2 261.2,198.8 264.2,200.8 269.2,202.2 272.2,204.8 276.8,215.8 279.2,217.2 285.8,216.8 288.2,214.2 289.8,209.2 289.8,193.8 287.8,187.8 283.8,185.2 267.8,184.8 264.8,185.2ZM239.8,136.8 236.2,134.8 233.2,134.2 217.2,134.8 213.2,137.2 210.8,144.8 207.8,149.2 199.8,152.2 197.2,154.2 195.2,160.2 195.2,175.2 196.8,180.2 199.2,182.8 205.8,183.2 208.2,181.8 212.8,170.8 215.8,168.2 220.8,166.8 224.2,164.2 228.2,154.2 231.2,151.8 237.8,149.8 239.8,148.2 241.8,143.8 241.2,139.2ZM200.2,101.2 196.2,105.2 196.2,111.8 200.2,115.8 205.8,115.8 209.8,111.8 209.8,105.2 205.8,101.2ZM227.2,92.8 229.8,97.8 237.8,100.8 240.8,103.2 243.2,110.8 245.8,114.8 253.8,117.8 256.8,120.2 259.2,127.8 261.8,131.8 267.8,133.8 283.8,134.2 288.2,137.2 290.2,143.2 290.8,161.2 293.2,165.2 302.2,169.2 305.2,173.8 305.8,192.2 307.2,197.2 310.8,200.2 316.2,200.2 319.8,197.2 320.8,194.8 321.8,173.8 324.8,169.2 330.8,167.2 359.2,167.2 365.2,165.2 367.2,162.8 370.2,154.2 373.2,151.8 379.8,149.8 382.2,147.8 386.2,137.2 389.2,134.8 394.2,133.2 397.8,130.8 401.8,120.2 404.8,117.8 411.2,115.8 413.8,113.8 415.8,107.8 416.2,89.8 419.2,85.2 425.8,82.8 429.2,80.2 431.8,72.8 434.8,68.2 442.8,65.2 445.2,63.2 447.2,57.2 447.2,41.2 273.8,41.2 271.8,46.8 269.2,48.8 261.8,51.8 259.2,55.8 258.8,74.2 256.8,80.2 252.2,83.2 235.8,83.8 231.8,84.8 228.2,87.8Z" fill="#d6d6d6" fill-rule="evenodd"/>
<path d="M185.2,303.8 183.8,304.2 180.8,307.8 180.8,314.2 183.8,317.8 189.2,318.2 190.8,317.8 193.8,314.2 193.8,307.8 190.8,304.2ZM241.8,286.2 233.2,286.8 230.8,287.8 228.2,290.2 227.2,293.8 227.8,297.2 230.8,300.8 237.2,301.2 240.8,298.2 242.2,292.8ZM253.2,253.2 246.8,253.8 244.2,256.2 243.2,258.8 243.2,285.8 253.2,284.8 255.8,283.2 257.8,279.2 258.2,261.2 256.8,256.2ZM264.2,101.2 262.8,101.8 259.8,105.2 259.8,111.8 262.8,115.2 268.2,115.8 269.8,115.2 272.8,111.8 272.8,105.2 269.8,101.8ZM446.8,41.2 415.8,41.2 415.2,44.2 412.8,47.8 404.8,50.8 402.2,52.8 399.8,60.2 396.8,64.8 390.2,67.2 386.8,69.8 382.8,80.2 379.8,82.8 373.2,84.8 370.8,86.8 366.8,96.8 363.8,99.2 358.8,100.8 355.2,103.2 351.2,113.8 348.2,116.2 341.8,118.2 339.2,120.2 336.8,127.8 333.8,132.2 327.8,134.2 311.8,134.8 308.2,136.8 306.2,141.2 306.8,145.8 308.2,148.2 311.8,150.2 314.8,150.8 343.8,150.8 349.8,148.8 352.2,144.8 354.8,137.2 357.8,134.8 362.8,133.2 366.2,130.8 370.2,120.2 373.2,117.8 379.8,115.8 382.2,113.8 386.2,103.2 389.2,100.8 394.2,99.2 397.8,96.8 401.8,86.8 404.8,84.2 411.2,82.2 413.8,80.2 417.8,69.8 420.8,67.2 428.2,64.2 430.8,60.2 433.2,52.8 436.2,50.2 444.2,47.2 446.2,44.2Z" fill="#c8c8c8" fill-rule="evenodd"/><ellipse cx="273.0" cy="199.0" rx="3.2" ry="5.0" fill="#7dd685" stroke="#000" stroke-width="1.0" transform="rotate(-20 273.0 199.0)"/>
<ellipse cx="278.5" cy="210.5" rx="2.0" ry="1.3" fill="#7dd685" stroke="#000" stroke-width="1.0" transform="rotate(0 278.5 210.5)"/>
<ellipse cx="271.6" cy="257.0" rx="3.6" ry="3.4" fill="#4a6cff" stroke="#000" stroke-width="1.0" transform="rotate(0 271.6 257.0)"/>
<path d="M251.5,261 C253,258 256,260 258,264 C261,267 266,267 266.5,269 C266,272 260,273 257,276 C254,277 251,272 251,268 Z" fill="#7dd685" stroke="#000" stroke-width="1.1"/>
<path d="M255,270 L262,269 L258,275 Z" fill="#a8c8ff"/>
<path d="M228,297 C229,292 233,289 236,290 C240,292 244,293 246,296 C245,300 241,303 236,305 C231,305 228,301 228,297 Z" fill="#7dd685" stroke="#000" stroke-width="1.1"/>
<ellipse cx="189.0" cy="293.0" rx="2.0" ry="2.5" fill="none" stroke="#000" stroke-width="0.9" transform="rotate(0 189.0 293.0)"/>
<ellipse cx="187.0" cy="316.0" rx="1.3" ry="2.0" fill="#000" stroke="#000" stroke-width="0.5" transform="rotate(0 187.0 316.0)"/>
<ellipse cx="197.0" cy="318.0" rx="1.0" ry="3.0" fill="#000" stroke="#000" stroke-width="0.5" transform="rotate(-30 197.0 318.0)"/>
<ellipse cx="214.0" cy="322.6" rx="1.5" ry="2.5" fill="#000" stroke="#000" stroke-width="0.5" transform="rotate(-50 214.0 322.6)"/>
<ellipse cx="198.0" cy="334.0" rx="3.8" ry="2.5" fill="#7dd685" stroke="#000" stroke-width="1.0" transform="rotate(10 198.0 334.0)"/>
<ellipse cx="235.0" cy="182.5" rx="1.0" ry="1.0" fill="#333" stroke="#000" stroke-width="0.3" transform="rotate(0 235.0 182.5)"/>
<ellipse cx="310.0" cy="178.0" rx="1.0" ry="1.0" fill="#333" stroke="#000" stroke-width="0.3" transform="rotate(0 310.0 178.0)"/>
<ellipse cx="334.0" cy="188.0" rx="1.5" ry="1.0" fill="#222" stroke="#000" stroke-width="0.3" transform="rotate(0 334.0 188.0)"/></g>
</g>
<line x1="13" y1="49.5" x2="486" y2="49.5" class="dot"/>
<line x1="13" y1="134" x2="486" y2="134" class="dot"/>
<line x1="13" y1="218.6" x2="486" y2="218.6" class="dot"/>
<line x1="13" y1="303.1" x2="486" y2="303.1" class="dot"/>
<line x1="13" y1="387.7" x2="486" y2="387.7" class="dot"/>
<line x1="13" y1="472.2" x2="486" y2="472.2" class="dot"/>
<line x1="53.4" y1="41" x2="53.4" y2="549" class="dot"/>
<line x1="132.2" y1="41" x2="132.2" y2="549" class="dot"/>
<line x1="211" y1="41" x2="211" y2="549" class="dot"/>
<line x1="289.8" y1="41" x2="289.8" y2="549" class="dot"/>
<line x1="368.6" y1="41" x2="368.6" y2="549" class="dot"/>
<line x1="447.4" y1="41" x2="447.4" y2="549" class="dot"/>
<path d="M13.00,50.24 L32.71,64.90 L52.42,79.63 L72.12,94.41 L91.83,109.26 L111.54,124.17 L131.25,139.14 L150.96,154.18 L170.67,169.28 L190.38,184.44 L210.08,199.66 L229.79,214.95 L249.50,230.30 L269.21,245.71 L288.92,261.18 L308.62,276.72 L328.33,292.32 L348.04,307.98 L367.75,323.71 L387.46,339.49 L407.17,355.34 L426.88,371.26 L446.58,387.23 L466.29,403.27 L486.00,419.37" class="sw" style="stroke-dasharray:12.1 11.45"/>
<path d="M13.00,164.53 L32.71,179.31 L52.42,194.15 L72.12,209.06 L91.83,224.02 L111.54,239.04 L131.25,254.12 L150.96,269.26 L170.67,284.46 L190.38,299.73 L210.08,315.05 L229.79,330.43 L249.50,345.87 L269.21,361.37 L288.92,376.94 L308.62,392.56 L328.33,408.24 L348.04,423.98 L367.75,439.79 L387.46,455.65 L407.17,471.57 L426.88,487.55 L446.58,503.59 L466.29,519.70 L486.00,535.86" class="sw" style="stroke-dasharray:12.1 11.4"/>
<path d="M13,165.2 L32.2,160.7 L39,156.8 L49.1,155.9 L62.7,151.7 L72.8,144.9 L76.2,138.1 L83,135.1 L91.5,136.4 L96.6,139.3 L103.7,140.7 L102.5,149.1 L98.3,157.6 L96.6,166.1 L99.1,172 L97.4,181.3 L98.3,191.5 L96.6,199.1 L94,200.8 L89.8,203.3 L88.1,211.8 L88.1,218.6 L86.4,228.7 L85.6,240.6 L83,247.4 L78.8,253.3 L74.5,261 L69.5,266 L66.9,272.8 L64.4,279.6 L60.1,286.4 L57.6,294 L52.5,298.2 L47.4,303.3 L45.7,313.5 L40.7,325.3 L30.5,340.6 L22,355.8 L16.9,369.4 L16.1,379.5 L13,386.3" class="coast"/>
<path d="M94,200.8 L100.8,195.7 L109.3,200 L106.7,202.5 L100.8,200.8 L96,201.5 Z" class="coast"/>
<text x="231.9" y="49.8" class="ll">14</text>
<text x="231.9" y="134.3" class="ll">12</text>
<text x="231.9" y="218.9" class="ll">10</text>
<text x="231.9" y="303.4" class="ll">8</text>
<text x="231.9" y="388" class="ll">6</text>
<text x="231.9" y="472.5" class="ll">4</text>
<text x="54.1" y="281.7" class="ll">50</text>
<text x="132.9" y="281.7" class="ll">52</text>
<text x="211.7" y="281.7" class="ll">54</text>
<text x="290.5" y="281.7" class="ll">56</text>
<text x="369.3" y="281.7" class="ll">58</text>
<text x="448.1" y="281.7" class="ll">60</text>
<path d="M243,292.2h12.8v4.6h-12.8z M247.3,288.2h4.5v12.6h-4.5z" fill="#000"/>
<text x="36.8" y="66" class="ttl">&#160;85GHz PCT (K)</text>
<text x="438.2" y="522.8" class="let">(d)</text>
<rect x="495.3" y="531.6" width="8.6" height="8.8" fill="#f4f4f4"/>
<rect x="495.3" y="523.1" width="8.6" height="8.8" fill="#ececec"/>
<rect x="495.3" y="514.7" width="8.6" height="8.8" fill="#e4e4e4"/>
<rect x="495.3" y="506.2" width="8.6" height="8.8" fill="#dcdcdc"/>
<rect x="495.3" y="497.8" width="8.6" height="8.8" fill="#d5d5d5"/>
<rect x="495.3" y="489.3" width="8.6" height="8.8" fill="#cdcdcd"/>
<rect x="495.3" y="480.9" width="8.6" height="8.8" fill="#c5c5c5"/>
<rect x="495.3" y="472.4" width="8.6" height="8.8" fill="#bdbdbd"/>
<rect x="495.3" y="463.9" width="8.6" height="8.8" fill="#b5b5b5"/>
<rect x="495.3" y="455.5" width="8.6" height="8.8" fill="#adadad"/>
<rect x="495.3" y="447" width="8.6" height="8.8" fill="#a6a6a6"/>
<rect x="495.3" y="438.6" width="8.6" height="8.8" fill="#9e9e9e"/>
<rect x="495.3" y="430.1" width="8.6" height="8.8" fill="#969696"/>
<rect x="495.3" y="421.7" width="8.6" height="8.8" fill="#8e8e8e"/>
<rect x="495.3" y="413.2" width="8.6" height="8.8" fill="#80e088"/>
<rect x="495.3" y="404.7" width="8.6" height="8.8" fill="#78d880"/>
<rect x="495.3" y="396.3" width="8.6" height="8.8" fill="#70c874"/>
<rect x="495.3" y="387.8" width="8.6" height="8.8" fill="#6cc070"/>
<rect x="495.3" y="379.4" width="8.6" height="8.8" fill="#68b868"/>
<rect x="495.3" y="370.9" width="8.6" height="8.8" fill="#d0d8ff"/>
<rect x="495.3" y="362.5" width="8.6" height="8.8" fill="#b0c8ff"/>
<rect x="495.3" y="354" width="8.6" height="8.8" fill="#98c0ff"/>
<rect x="495.3" y="345.6" width="8.6" height="8.8" fill="#80b8ff"/>
<rect x="495.3" y="337.1" width="8.6" height="8.8" fill="#60b0ff"/>
<rect x="495.3" y="328.6" width="8.6" height="8.8" fill="#4aa8ff"/>
<rect x="495.3" y="320.2" width="8.6" height="8.8" fill="#4090ff"/>
<rect x="495.3" y="311.7" width="8.6" height="8.8" fill="#4070ff"/>
<rect x="495.3" y="303.3" width="8.6" height="8.8" fill="#3a55ff"/>
<rect x="495.3" y="294.8" width="8.6" height="8.8" fill="#2a2aff"/>
<rect x="495.3" y="286.4" width="8.6" height="8.8" fill="#0000ff"/>
<rect x="495.3" y="277.9" width="8.6" height="8.8" fill="#0000f0"/>
<rect x="495.3" y="269.5" width="8.6" height="8.8" fill="#0000e0"/>
<rect x="495.3" y="261" width="8.6" height="8.8" fill="#0000cc"/>
<rect x="495.3" y="252.5" width="8.6" height="8.8" fill="#0000c0"/>
<rect x="495.3" y="244.1" width="8.6" height="8.8" fill="#ffff00"/>
<rect x="495.3" y="235.6" width="8.6" height="8.8" fill="#ffff00"/>
<rect x="495.3" y="227.2" width="8.6" height="8.8" fill="#ffe800"/>
<rect x="495.3" y="218.7" width="8.6" height="8.8" fill="#ffe000"/>
<rect x="495.3" y="210.3" width="8.6" height="8.8" fill="#ffcc00"/>
<rect x="495.3" y="201.8" width="8.6" height="8.8" fill="#ff8c00"/>
<rect x="495.3" y="193.3" width="8.6" height="8.8" fill="#ff8400"/>
<rect x="495.3" y="184.9" width="8.6" height="8.8" fill="#ff8000"/>
<rect x="495.3" y="176.4" width="8.6" height="8.8" fill="#ff7400"/>
<rect x="495.3" y="168" width="8.6" height="8.8" fill="#ff6a00"/>
<rect x="495.3" y="159.5" width="8.6" height="8.8" fill="#ff3a00"/>
<rect x="495.3" y="151.1" width="8.6" height="8.8" fill="#ff3000"/>
<rect x="495.3" y="142.6" width="8.6" height="8.8" fill="#ff2a00"/>
<rect x="495.3" y="134.2" width="8.6" height="8.8" fill="#ff2000"/>
<rect x="495.3" y="125.7" width="8.6" height="8.8" fill="#ff1400"/>
<rect x="495.3" y="117.2" width="8.6" height="8.8" fill="#c40000"/>
<rect x="495.3" y="108.8" width="8.6" height="8.8" fill="#bc0000"/>
<rect x="495.3" y="100.3" width="8.6" height="8.8" fill="#b00000"/>
<rect x="495.3" y="91.9" width="8.6" height="8.8" fill="#a40800"/>
<rect x="495.3" y="83.4" width="8.6" height="8.8" fill="#9c0800"/>
<rect x="495.3" y="75" width="8.6" height="8.8" fill="#600c08"/>
<rect x="495.3" y="66.5" width="8.6" height="8.8" fill="#5e0e0c"/>
<rect x="495.3" y="58.1" width="8.6" height="8.8" fill="#5c120f"/>
<rect x="495.3" y="49.6" width="8.6" height="8.8" fill="#5a1412"/>
<rect x="495.3" y="41.1" width="8.6" height="8.8" fill="#5a1a16"/>
<line x1="503.9" y1="548.5" x2="506.5" y2="548.5" stroke="#000" stroke-width="1"/>
<text x="525" y="556.4" class="cb">300</text>
<line x1="503.9" y1="497.8" x2="506.5" y2="497.8" stroke="#000" stroke-width="1"/>
<text x="525" y="505.7" class="cb">279</text>
<line x1="503.9" y1="447" x2="506.5" y2="447" stroke="#000" stroke-width="1"/>
<text x="525" y="454.9" class="cb">258</text>
<line x1="503.9" y1="396.3" x2="506.5" y2="396.3" stroke="#000" stroke-width="1"/>
<text x="525" y="404.2" class="cb">237</text>
<line x1="503.9" y1="345.6" x2="506.5" y2="345.6" stroke="#000" stroke-width="1"/>
<text x="525" y="353.5" class="cb">216</text>
<line x1="503.9" y1="294.8" x2="506.5" y2="294.8" stroke="#000" stroke-width="1"/>
<text x="525" y="302.7" class="cb">195</text>
<line x1="503.9" y1="244.1" x2="506.5" y2="244.1" stroke="#000" stroke-width="1"/>
<text x="525" y="252" class="cb">174</text>
<line x1="503.9" y1="193.3" x2="506.5" y2="193.3" stroke="#000" stroke-width="1"/>
<text x="525" y="201.2" class="cb">153</text>
<line x1="503.9" y1="142.6" x2="506.5" y2="142.6" stroke="#000" stroke-width="1"/>
<text x="525" y="150.5" class="cb">132</text>
<line x1="503.9" y1="91.9" x2="506.5" y2="91.9" stroke="#000" stroke-width="1"/>
<text x="525" y="99.8" class="cb">111</text>
</g>
<g transform="translate(590.3,590.3)">
<clipPath id="clip_e"><path d="M13,41 L191.8,41 L249.7,86.2 L339.7,155.9 L368.6,177.6 L393.9,198.4 L416.5,217.4 L486,273.5 L486,549 L310.6,549 L284.4,527.6 L250.5,498.8 L199.7,459.4 L129.9,405.2 L42.1,337.4 L13,315 Z"/></clipPath><g clip-path="url(#mapclip)">
<g clip-path="url(#clip_e)"><pattern id="eh" patternUnits="userSpaceOnUse" width="52.0" height="52.0" patternTransform="rotate(-37)"><rect x="0.0" y="0.0" width="5.25" height="5.25" fill="#72c878"/><rect x="0.0" y="5.2" width="5.25" height="5.25" fill="#d0d8ff"/><rect x="0.0" y="10.4" width="5.25" height="5.25" fill="#d0d8ff"/><rect x="0.0" y="15.6" width="5.25" height="5.25" fill="#d0d8ff"/><rect x="0.0" y="20.8" width="5.25" height="5.25" fill="#80e088"/><rect x="0.0" y="26.0" width="5.25" height="5.25" fill="#d0d8ff"/><rect x="0.0" y="31.2" width="5.25" height="5.25" fill="#d0d8ff"/><rect x="0.0" y="36.4" width="5.25" height="5.25" fill="#d0d8ff"/><rect x="0.0" y="41.6" width="5.25" height="5.25" fill="#d0d8ff"/><rect x="0.0" y="46.8" width="5.25" height="5.25" fill="#80e088"/><rect x="5.2" y="0.0" width="5.25" height="5.25" fill="#72c878"/><rect x="5.2" y="5.2" width="5.25" height="5.25" fill="#80e088"/><rect x="5.2" y="10.4" width="5.25" height="5.25" fill="#d0d8ff"/><rect x="5.2" y="15.6" width="5.25" height="5.25" fill="#72c878"/><rect x="5.2" y="20.8" width="5.25" height="5.25" fill="#d0d8ff"/><rect x="5.2" y="26.0" width="5.25" height="5.25" fill="#80e088"/><rect x="5.2" y="31.2" width="5.25" height="5.25" fill="#80e088"/><rect x="5.2" y="36.4" width="5.25" height="5.25" fill="#72c878"/><rect x="5.2" y="41.6" width="5.25" height="5.25" fill="#b8ccff"/><rect x="5.2" y="46.8" width="5.25" height="5.25" fill="#d0d8ff"/><rect x="10.4" y="0.0" width="5.25" height="5.25" fill="#b8ccff"/><rect x="10.4" y="5.2" width="5.25" height="5.25" fill="#d0d8ff"/><rect x="10.4" y="10.4" width="5.25" height="5.25" fill="#72c878"/><rect x="10.4" y="15.6" width="5.25" height="5.25" fill="#80e088"/><rect x="10.4" y="20.8" width="5.25" height="5.25" fill="#d0d8ff"/><rect x="10.4" y="26.0" width="5.25" height="5.25" fill="#72c878"/><rect x="10.4" y="31.2" width="5.25" height="5.25" fill="#b8ccff"/><rect x="10.4" y="36.4" width="5.25" height="5.25" fill="#80e088"/><rect x="10.4" y="41.6" width="5.25" height="5.25" fill="#72c878"/><rect x="10.4" y="46.8" width="5.25" height="5.25" fill="#d0d8ff"/><rect x="15.6" y="0.0" width="5.25" height="5.25" fill="#72c878"/><rect x="15.6" y="5.2" width="5.25" height="5.25" fill="#b8ccff"/><rect x="15.6" y="10.4" width="5.25" height="5.25" fill="#d0d8ff"/><rect x="15.6" y="15.6" width="5.25" height="5.25" fill="#d0d8ff"/><rect x="15.6" y="20.8" width="5.25" height="5.25" fill="#80e088"/><rect x="15.6" y="26.0" width="5.25" height="5.25" fill="#d0d8ff"/><rect x="15.6" y="31.2" width="5.25" height="5.25" fill="#80e088"/><rect x="15.6" y="36.4" width="5.25" height="5.25" fill="#72c878"/><rect x="15.6" y="41.6" width="5.25" height="5.25" fill="#b8ccff"/><rect x="15.6" y="46.8" width="5.25" height="5.25" fill="#80e088"/><rect x="20.8" y="0.0" width="5.25" height="5.25" fill="#d0d8ff"/><rect x="20.8" y="5.2" width="5.25" height="5.25" fill="#80e088"/><rect x="20.8" y="10.4" width="5.25" height="5.25" fill="#b8ccff"/><rect x="20.8" y="15.6" width="5.25" height="5.25" fill="#b8ccff"/><rect x="20.8" y="20.8" width="5.25" height="5.25" fill="#d0d8ff"/><rect x="20.8" y="26.0" width="5.25" height="5.25" fill="#d0d8ff"/><rect x="20.8" y="31.2" width="5.25" height="5.25" fill="#d0d8ff"/><rect x="20.8" y="36.4" width="5.25" height="5.25" fill="#d0d8ff"/><rect x="20.8" y="41.6" width="5.25" height="5.25" fill="#72c878"/><rect x="20.8" y="46.8" width="5.25" height="5.25" fill="#d0d8ff"/><rect x="26.0" y="0.0" width="5.25" height="5.25" fill="#d0d8ff"/><rect x="26.0" y="5.2" width="5.25" height="5.25" fill="#80e088"/><rect x="26.0" y="10.4" width="5.25" height="5.25" fill="#b8ccff"/><rect x="26.0" y="15.6" width="5.25" height="5.25" fill="#b8ccff"/><rect x="26.0" y="20.8" width="5.25" height="5.25" fill="#d0d8ff"/><rect x="26.0" y="26.0" width="5.25" height="5.25" fill="#80e088"/><rect x="26.0" y="31.2" width="5.25" height="5.25" fill="#d0d8ff"/><rect x="26.0" y="36.4" width="5.25" height="5.25" fill="#80e088"/><rect x="26.0" y="41.6" width="5.25" height="5.25" fill="#b8ccff"/><rect x="26.0" y="46.8" width="5.25" height="5.25" fill="#80e088"/><rect x="31.2" y="0.0" width="5.25" height="5.25" fill="#72c878"/><rect x="31.2" y="5.2" width="5.25" height="5.25" fill="#72c878"/><rect x="31.2" y="10.4" width="5.25" height="5.25" fill="#d0d8ff"/><rect x="31.2" y="15.6" width="5.25" height="5.25" fill="#b8ccff"/><rect x="31.2" y="20.8" width="5.25" height="5.25" fill="#d0d8ff"/><rect x="31.2" y="26.0" width="5.25" height="5.25" fill="#d0d8ff"/><rect x="31.2" y="31.2" width="5.25" height="5.25" fill="#d0d8ff"/><rect x="31.2" y="36.4" width="5.25" height="5.25" fill="#d0d8ff"/><rect x="31.2" y="41.6" width="5.25" height="5.25" fill="#80e088"/><rect x="31.2" y="46.8" width="5.25" height="5.25" fill="#d0d8ff"/><rect x="36.4" y="0.0" width="5.25" height="5.25" fill="#d0d8ff"/><rect x="36.4" y="5.2" width="5.25" height="5.25" fill="#d0d8ff"/><rect x="36.4" y="10.4" width="5.25" height="5.25" fill="#80e088"/><rect x="36.4" y="15.6" width="5.25" height="5.25" fill="#72c878"/><rect x="36.4" y="20.8" width="5.25" height="5.25" fill="#80e088"/><rect x="36.4" y="26.0" width="5.25" height="5.25" fill="#b8ccff"/><rect x="36.4" y="31.2" width="5.25" height="5.25" fill="#80e088"/><rect x="36.4" y="36.4" width="5.25" height="5.25" fill="#d0d8ff"/><rect x="36.4" y="41.6" width="5.25" height="5.25" fill="#80e088"/><rect x="36.4" y="46.8" width="5.25" height="5.25" fill="#72c878"/><rect x="41.6" y="0.0" width="5.25" height="5.25" fill="#72c878"/><rect x="41.6" y="5.2" width="5.25" height="5.25" fill="#d0d8ff"/><rect x="41.6" y="10.4" width="5.25" height="5.25" fill="#d0d8ff"/><rect x="41.6" y="15.6" width="5.25" height="5.25" fill="#80e088"/><rect x="41.6" y="20.8" width="5.25" height="5.25" fill="#d0d8ff"/><rect x="41.6" y="26.0" width="5.25" height="5.25" fill="#d0d8ff"/><rect x="41.6" y="31.2" width="5.25" height="5.25" fill="#b8ccff"/><rect x="41.6" y="36.4" width="5.25" height="5.25" fill="#b8ccff"/><rect x="41.6" y="41.6" width="5.25" height="5.25" fill="#d0d8ff"/><rect x="41.6" y="46.8" width="5.25" height="5.25" fill="#b8ccff"/><rect x="46.8" y="0.0" width="5.25" height="5.25" fill="#b8ccff"/><rect x="46.8" y="5.2" width="5.25" height="5.25" fill="#d0d8ff"/><rect x="46.8" y="10.4" width="5.25" height="5.25" fill="#b8ccff"/><rect x="46.8" y="15.6" width="5.25" height="5.25" fill="#d0d8ff"/><rect x="46.8" y="20.8" width="5.25" height="5.25" fill="#80e088"/><rect x="46.8" y="26.0" width="5.25" height="5.25" fill="#80e088"/><rect x="46.8" y="31.2" width="5.25" height="5.25" fill="#b8ccff"/><rect x="46.8" y="36.4" width="5.25" height="5.25" fill="#72c878"/><rect x="46.8" y="41.6" width="5.25" height="5.25" fill="#72c878"/><rect x="46.8" y="46.8" width="5.25" height="5.25" fill="#d0d8ff"/></pattern><pattern id="em" patternUnits="userSpaceOnUse" width="52.0" height="52.0" patternTransform="rotate(-37)"><rect x="0.0" y="0.0" width="5.25" height="5.25" fill="#999999"/><rect x="0.0" y="5.2" width="5.25" height="5.25" fill="#72c878"/><rect x="0.0" y="10.4" width="5.25" height="5.25" fill="#72c878"/><rect x="0.0" y="15.6" width="5.25" height="5.25" fill="#999999"/><rect x="0.0" y="20.8" width="5.25" height="5.25" fill="#72c878"/><rect x="0.0" y="26.0" width="5.25" height="5.25" fill="#72c878"/><rect x="0.0" y="31.2" width="5.25" height="5.25" fill="#999999"/><rect x="0.0" y="36.4" width="5.25" height="5.25" fill="#80e088"/><rect x="0.0" y="41.6" width="5.25" height="5.25" fill="#999999"/><rect x="0.0" y="46.8" width="5.25" height="5.25" fill="#72c878"/><rect x="5.2" y="0.0" width="5.25" height="5.25" fill="#999999"/><rect x="5.2" y="5.2" width="5.25" height="5.25" fill="#80e088"/><rect x="5.2" y="10.4" width="5.25" height="5.25" fill="#999999"/><rect x="5.2" y="15.6" width="5.25" height="5.25" fill="#999999"/><rect x="5.2" y="20.8" width="5.25" height="5.25" fill="#999999"/><rect x="5.2" y="26.0" width="5.25" height="5.25" fill="#999999"/><rect x="5.2" y="31.2" width="5.25" height="5.25" fill="#999999"/><rect x="5.2" y="36.4" width="5.25" height="5.25" fill="#72c878"/><rect x="5.2" y="41.6" width="5.25" height="5.25" fill="#999999"/><rect x="5.2" y="46.8" width="5.25" height="5.25" fill="#80e088"/><rect x="10.4" y="0.0" width="5.25" height="5.25" fill="#80e088"/><rect x="10.4" y="5.2" width="5.25" height="5.25" fill="#72c878"/><rect x="10.4" y="10.4" width="5.25" height="5.25" fill="#999999"/><rect x="10.4" y="15.6" width="5.25" height="5.25" fill="#80e088"/><rect x="10.4" y="20.8" width="5.25" height="5.25" fill="#999999"/><rect x="10.4" y="26.0" width="5.25" height="5.25" fill="#999999"/><rect x="10.4" y="31.2" width="5.25" height="5.25" fill="#999999"/><rect x="10.4" y="36.4" width="5.25" height="5.25" fill="#80e088"/><rect x="10.4" y="41.6" width="5.25" height="5.25" fill="#999999"/><rect x="10.4" y="46.8" width="5.25" height="5.25" fill="#999999"/><rect x="15.6" y="0.0" width="5.25" height="5.25" fill="#80e088"/><rect x="15.6" y="5.2" width="5.25" height="5.25" fill="#999999"/><rect x="15.6" y="10.4" width="5.25" height="5.25" fill="#80e088"/><rect x="15.6" y="15.6" width="5.25" height="5.25" fill="#999999"/><rect x="15.6" y="20.8" width="5.25" height="5.25" fill="#999999"/><rect x="15.6" y="26.0" width="5.25" height="5.25" fill="#999999"/><rect x="15.6" y="31.2" width="5.25" height="5.25" fill="#72c878"/><rect x="15.6" y="36.4" width="5.25" height="5.25" fill="#999999"/><rect x="15.6" y="41.6" width="5.25" height="5.25" fill="#999999"/><rect x="15.6" y="46.8" width="5.25" height="5.25" fill="#72c878"/><rect x="20.8" y="0.0" width="5.25" height="5.25" fill="#72c878"/><rect x="20.8" y="5.2" width="5.25" height="5.25" fill="#80e088"/><rect x="20.8" y="10.4" width="5.25" height="5.25" fill="#72c878"/><rect x="20.8" y="15.6" width="5.25" height="5.25" fill="#999999"/><rect x="20.8" y="20.8" width="5.25" height="5.25" fill="#80e088"/><rect x="20.8" y="26.0" width="5.25" height="5.25" fill="#80e088"/><rect x="20.8" y="31.2" width="5.25" height="5.25" fill="#80e088"/><rect x="20.8" y="36.4" width="5.25" height="5.25" fill="#999999"/><rect x="20.8" y="41.6" width="5.25" height="5.25" fill="#999999"/><rect x="20.8" y="46.8" width="5.25" height="5.25" fill="#80e088"/><rect x="26.0" y="0.0" width="5.25" height="5.25" fill="#80e088"/><rect x="26.0" y="5.2" width="5.25" height="5.25" fill="#80e088"/><rect x="26.0" y="10.4" width="5.25" height="5.25" fill="#80e088"/><rect x="26.0" y="15.6" width="5.25" height="5.25" fill="#80e088"/><rect x="26.0" y="20.8" width="5.25" height="5.25" fill="#80e088"/><rect x="26.0" y="26.0" width="5.25" height="5.25" fill="#80e088"/><rect x="26.0" y="31.2" width="5.25" height="5.25" fill="#999999"/><rect x="26.0" y="36.4" width="5.25" height="5.25" fill="#80e088"/><rect x="26.0" y="41.6" width="5.25" height="5.25" fill="#72c878"/><rect x="26.0" y="46.8" width="5.25" height="5.25" fill="#999999"/><rect x="31.2" y="0.0" width="5.25" height="5.25" fill="#80e088"/><rect x="31.2" y="5.2" width="5.25" height="5.25" fill="#80e088"/><rect x="31.2" y="10.4" width="5.25" height="5.25" fill="#80e088"/><rect x="31.2" y="15.6" width="5.25" height="5.25" fill="#999999"/><rect x="31.2" y="20.8" width="5.25" height="5.25" fill="#999999"/><rect x="31.2" y="26.0" width="5.25" height="5.25" fill="#80e088"/><rect x="31.2" y="31.2" width="5.25" height="5.25" fill="#80e088"/><rect x="31.2" y="36.4" width="5.25" height="5.25" fill="#72c878"/><rect x="31.2" y="41.6" width="5.25" height="5.25" fill="#999999"/><rect x="31.2" y="46.8" width="5.25" height="5.25" fill="#72c878"/><rect x="36.4" y="0.0" width="5.25" height="5.25" fill="#80e088"/><rect x="36.4" y="5.2" width="5.25" height="5.25" fill="#80e088"/><rect x="36.4" y="10.4" width="5.25" height="5.25" fill="#80e088"/><rect x="36.4" y="15.6" width="5.25" height="5.25" fill="#80e088"/><rect x="36.4" y="20.8" width="5.25" height="5.25" fill="#72c878"/><rect x="36.4" y="26.0" width="5.25" height="5.25" fill="#72c878"/><rect x="36.4" y="31.2" width="5.25" height="5.25" fill="#80e088"/><rect x="36.4" y="36.4" width="5.25" height="5.25" fill="#999999"/><rect x="36.4" y="41.6" width="5.25" height="5.25" fill="#999999"/><rect x="36.4" y="46.8" width="5.25" height="5.25" fill="#72c878"/><rect x="41.6" y="0.0" width="5.25" height="5.25" fill="#999999"/><rect x="41.6" y="5.2" width="5.25" height="5.25" fill="#72c878"/><rect x="41.6" y="10.4" width="5.25" height="5.25" fill="#80e088"/><rect x="41.6" y="15.6" width="5.25" height="5.25" fill="#999999"/><rect x="41.6" y="20.8" width="5.25" height="5.25" fill="#999999"/><rect x="41.6" y="26.0" width="5.25" height="5.25" fill="#80e088"/><rect x="41.6" y="31.2" width="5.25" height="5.25" fill="#999999"/><rect x="41.6" y="36.4" width="5.25" height="5.25" fill="#80e088"/><rect x="41.6" y="41.6" width="5.25" height="5.25" fill="#80e088"/><rect x="41.6" y="46.8" width="5.25" height="5.25" fill="#80e088"/><rect x="46.8" y="0.0" width="5.25" height="5.25" fill="#999999"/><rect x="46.8" y="5.2" width="5.25" height="5.25" fill="#999999"/><rect x="46.8" y="10.4" width="5.25" height="5.25" fill="#80e088"/><rect x="46.8" y="15.6" width="5.25" height="5.25" fill="#999999"/><rect x="46.8" y="20.8" width="5.25" height="5.25" fill="#999999"/><rect x="46.8" y="26.0" width="5.25" height="5.25" fill="#80e088"/><rect x="46.8" y="31.2" width="5.25" height="5.25" fill="#999999"/><rect x="46.8" y="36.4" width="5.25" height="5.25" fill="#999999"/><rect x="46.8" y="41.6" width="5.25" height="5.25" fill="#999999"/><rect x="46.8" y="46.8" width="5.25" height="5.25" fill="#999999"/></pattern><pattern id="eg" patternUnits="userSpaceOnUse" width="52.0" height="52.0" patternTransform="rotate(-37)"><rect x="0.0" y="0.0" width="5.25" height="5.25" fill="#7edc86"/><rect x="0.0" y="5.2" width="5.25" height="5.25" fill="#7edc86"/><rect x="0.0" y="10.4" width="5.25" height="5.25" fill="#7edc86"/><rect x="0.0" y="15.6" width="5.25" height="5.25" fill="#6cc070"/><rect x="0.0" y="20.8" width="5.25" height="5.25" fill="#7edc86"/><rect x="0.0" y="26.0" width="5.25" height="5.25" fill="#78d480"/><rect x="0.0" y="31.2" width="5.25" height="5.25" fill="#78d480"/><rect x="0.0" y="36.4" width="5.25" height="5.25" fill="#6cc070"/><rect x="0.0" y="41.6" width="5.25" height="5.25" fill="#78d480"/><rect x="0.0" y="46.8" width="5.25" height="5.25" fill="#78d480"/><rect x="5.2" y="0.0" width="5.25" height="5.25" fill="#78d480"/><rect x="5.2" y="5.2" width="5.25" height="5.25" fill="#78d480"/><rect x="5.2" y="10.4" width="5.25" height="5.25" fill="#6cc070"/><rect x="5.2" y="15.6" width="5.25" height="5.25" fill="#6cc070"/><rect x="5.2" y="20.8" width="5.25" height="5.25" fill="#7edc86"/><rect x="5.2" y="26.0" width="5.25" height="5.25" fill="#78d480"/><rect x="5.2" y="31.2" width="5.25" height="5.25" fill="#78d480"/><rect x="5.2" y="36.4" width="5.25" height="5.25" fill="#7edc86"/><rect x="5.2" y="41.6" width="5.25" height="5.25" fill="#78d480"/><rect x="5.2" y="46.8" width="5.25" height="5.25" fill="#6cc070"/><rect x="10.4" y="0.0" width="5.25" height="5.25" fill="#7edc86"/><rect x="10.4" y="5.2" width="5.25" height="5.25" fill="#7edc86"/><rect x="10.4" y="10.4" width="5.25" height="5.25" fill="#7edc86"/><rect x="10.4" y="15.6" width="5.25" height="5.25" fill="#7edc86"/><rect x="10.4" y="20.8" width="5.25" height="5.25" fill="#7edc86"/><rect x="10.4" y="26.0" width="5.25" height="5.25" fill="#78d480"/><rect x="10.4" y="31.2" width="5.25" height="5.25" fill="#7edc86"/><rect x="10.4" y="36.4" width="5.25" height="5.25" fill="#78d480"/><rect x="10.4" y="41.6" width="5.25" height="5.25" fill="#7edc86"/><rect x="10.4" y="46.8" width="5.25" height="5.25" fill="#7edc86"/><rect x="15.6" y="0.0" width="5.25" height="5.25" fill="#78d480"/><rect x="15.6" y="5.2" width="5.25" height="5.25" fill="#6cc070"/><rect x="15.6" y="10.4" width="5.25" height="5.25" fill="#78d480"/><rect x="15.6" y="15.6" width="5.25" height="5.25" fill="#7edc86"/><rect x="15.6" y="20.8" width="5.25" height="5.25" fill="#7edc86"/><rect x="15.6" y="26.0" width="5.25" height="5.25" fill="#78d480"/><rect x="15.6" y="31.2" width="5.25" height="5.25" fill="#7edc86"/><rect x="15.6" y="36.4" width="5.25" height="5.25" fill="#78d480"/><rect x="15.6" y="41.6" width="5.25" height="5.25" fill="#78d480"/><rect x="15.6" y="46.8" width="5.25" height="5.25" fill="#78d480"/><rect x="20.8" y="0.0" width="5.25" height="5.25" fill="#7edc86"/><rect x="20.8" y="5.2" width="5.25" height="5.25" fill="#78d480"/><rect x="20.8" y="10.4" width="5.25" height="5.25" fill="#6cc070"/><rect x="20.8" y="15.6" width="5.25" height="5.25" fill="#6cc070"/><rect x="20.8" y="20.8" width="5.25" height="5.25" fill="#6cc070"/><rect x="20.8" y="26.0" width="5.25" height="5.25" fill="#78d480"/><rect x="20.8" y="31.2" width="5.25" height="5.25" fill="#7edc86"/><rect x="20.8" y="36.4" width="5.25" height="5.25" fill="#7edc86"/><rect x="20.8" y="41.6" width="5.25" height="5.25" fill="#78d480"/><rect x="20.8" y="46.8" width="5.25" height="5.25" fill="#78d480"/><rect x="26.0" y="0.0" width="5.25" height="5.25" fill="#78d480"/><rect x="26.0" y="5.2" width="5.25" height="5.25" fill="#78d480"/><rect x="26.0" y="10.4" width="5.25" height="5.25" fill="#7edc86"/><rect x="26.0" y="15.6" width="5.25" height="5.25" fill="#78d480"/><rect x="26.0" y="20.8" width="5.25" height="5.25" fill="#78d480"/><rect x="26.0" y="26.0" width="5.25" height="5.25" fill="#6cc070"/><rect x="26.0" y="31.2" width="5.25" height="5.25" fill="#7edc86"/><rect x="26.0" y="36.4" width="5.25" height="5.25" fill="#7edc86"/><rect x="26.0" y="41.6" width="5.25" height="5.25" fill="#7edc86"/><rect x="26.0" y="46.8" width="5.25" height="5.25" fill="#78d480"/><rect x="31.2" y="0.0" width="5.25" height="5.25" fill="#78d480"/><rect x="31.2" y="5.2" width="5.25" height="5.25" fill="#7edc86"/><rect x="31.2" y="10.4" width="5.25" height="5.25" fill="#7edc86"/><rect x="31.2" y="15.6" width="5.25" height="5.25" fill="#7edc86"/><rect x="31.2" y="20.8" width="5.25" height="5.25" fill="#78d480"/><rect x="31.2" y="26.0" width="5.25" height="5.25" fill="#7edc86"/><rect x="31.2" y="31.2" width="5.25" height="5.25" fill="#6cc070"/><rect x="31.2" y="36.4" width="5.25" height="5.25" fill="#78d480"/><rect x="31.2" y="41.6" width="5.25" height="5.25" fill="#6cc070"/><rect x="31.2" y="46.8" width="5.25" height="5.25" fill="#7edc86"/><rect x="36.4" y="0.0" width="5.25" height="5.25" fill="#7edc86"/><rect x="36.4" y="5.2" width="5.25" height="5.25" fill="#7edc86"/><rect x="36.4" y="10.4" width="5.25" height="5.25" fill="#7edc86"/><rect x="36.4" y="15.6" width="5.25" height="5.25" fill="#7edc86"/><rect x="36.4" y="20.8" width="5.25" height="5.25" fill="#78d480"/><rect x="36.4" y="26.0" width="5.25" height="5.25" fill="#7edc86"/><rect x="36.4" y="31.2" width="5.25" height="5.25" fill="#7edc86"/><rect x="36.4" y="36.4" width="5.25" height="5.25" fill="#78d480"/><rect x="36.4" y="41.6" width="5.25" height="5.25" fill="#7edc86"/><rect x="36.4" y="46.8" width="5.25" height="5.25" fill="#78d480"/><rect x="41.6" y="0.0" width="5.25" height="5.25" fill="#78d480"/><rect x="41.6" y="5.2" width="5.25" height="5.25" fill="#6cc070"/><rect x="41.6" y="10.4" width="5.25" height="5.25" fill="#78d480"/><rect x="41.6" y="15.6" width="5.25" height="5.25" fill="#78d480"/><rect x="41.6" y="20.8" width="5.25" height="5.25" fill="#7edc86"/><rect x="41.6" y="26.0" width="5.25" height="5.25" fill="#7edc86"/><rect x="41.6" y="31.2" width="5.25" height="5.25" fill="#78d480"/><rect x="41.6" y="36.4" width="5.25" height="5.25" fill="#6cc070"/><rect x="41.6" y="41.6" width="5.25" height="5.25" fill="#78d480"/><rect x="41.6" y="46.8" width="5.25" height="5.25" fill="#78d480"/><rect x="46.8" y="0.0" width="5.25" height="5.25" fill="#78d480"/><rect x="46.8" y="5.2" width="5.25" height="5.25" fill="#7edc86"/><rect x="46.8" y="10.4" width="5.25" height="5.25" fill="#78d480"/><rect x="46.8" y="15.6" width="5.25" height="5.25" fill="#78d480"/><rect x="46.8" y="20.8" width="5.25" height="5.25" fill="#7edc86"/><rect x="46.8" y="26.0" width="5.25" height="5.25" fill="#78d480"/><rect x="46.8" y="31.2" width="5.25" height="5.25" fill="#78d480"/><rect x="46.8" y="36.4" width="5.25" height="5.25" fill="#7edc86"/><rect x="46.8" y="41.6" width="5.25" height="5.25" fill="#7edc86"/><rect x="46.8" y="46.8" width="5.25" height="5.25" fill="#7edc86"/></pattern><pattern id="el" patternUnits="userSpaceOnUse" width="52.0" height="52.0" patternTransform="rotate(-37)"><rect x="0.0" y="0.0" width="5.25" height="5.25" fill="#c8d4ff"/><rect x="0.0" y="5.2" width="5.25" height="5.25" fill="#b8ccff"/><rect x="0.0" y="10.4" width="5.25" height="5.25" fill="#d0d8ff"/><rect x="0.0" y="15.6" width="5.25" height="5.25" fill="#80e088"/><rect x="0.0" y="20.8" width="5.25" height="5.25" fill="#d0d8ff"/><rect x="0.0" y="26.0" width="5.25" height="5.25" fill="#c8d4ff"/><rect x="0.0" y="31.2" width="5.25" height="5.25" fill="#d0d8ff"/><rect x="0.0" y="36.4" width="5.25" height="5.25" fill="#c8d4ff"/><rect x="0.0" y="41.6" width="5.25" height="5.25" fill="#d0d8ff"/><rect x="0.0" y="46.8" width="5.25" height="5.25" fill="#c8d4ff"/><rect x="5.2" y="0.0" width="5.25" height="5.25" fill="#c8d4ff"/><rect x="5.2" y="5.2" width="5.25" height="5.25" fill="#c8d4ff"/><rect x="5.2" y="10.4" width="5.25" height="5.25" fill="#d0d8ff"/><rect x="5.2" y="15.6" width="5.25" height="5.25" fill="#b8ccff"/><rect x="5.2" y="20.8" width="5.25" height="5.25" fill="#80e088"/><rect x="5.2" y="26.0" width="5.25" height="5.25" fill="#d0d8ff"/><rect x="5.2" y="31.2" width="5.25" height="5.25" fill="#d0d8ff"/><rect x="5.2" y="36.4" width="5.25" height="5.25" fill="#80e088"/><rect x="5.2" y="41.6" width="5.25" height="5.25" fill="#c8d4ff"/><rect x="5.2" y="46.8" width="5.25" height="5.25" fill="#d0d8ff"/><rect x="10.4" y="0.0" width="5.25" height="5.25" fill="#d0d8ff"/><rect x="10.4" y="5.2" width="5.25" height="5.25" fill="#80e088"/><rect x="10.4" y="10.4" width="5.25" height="5.25" fill="#d0d8ff"/><rect x="10.4" y="15.6" width="5.25" height="5.25" fill="#c8d4ff"/><rect x="10.4" y="20.8" width="5.25" height="5.25" fill="#b8ccff"/><rect x="10.4" y="26.0" width="5.25" height="5.25" fill="#d0d8ff"/><rect x="10.4" y="31.2" width="5.25" height="5.25" fill="#d0d8ff"/><rect x="10.4" y="36.4" width="5.25" height="5.25" fill="#d0d8ff"/><rect x="10.4" y="41.6" width="5.25" height="5.25" fill="#d0d8ff"/><rect x="10.4" y="46.8" width="5.25" height="5.25" fill="#d0d8ff"/><rect x="15.6" y="0.0" width="5.25" height="5.25" fill="#b8ccff"/><rect x="15.6" y="5.2" width="5.25" height="5.25" fill="#b8ccff"/><rect x="15.6" y="10.4" width="5.25" height="5.25" fill="#d0d8ff"/><rect x="15.6" y="15.6" width="5.25" height="5.25" fill="#b8ccff"/><rect x="15.6" y="20.8" width="5.25" height="5.25" fill="#d0d8ff"/><rect x="15.6" y="26.0" width="5.25" height="5.25" fill="#d0d8ff"/><rect x="15.6" y="31.2" width="5.25" height="5.25" fill="#c8d4ff"/><rect x="15.6" y="36.4" width="5.25" height="5.25" fill="#c8d4ff"/><rect x="15.6" y="41.6" width="5.25" height="5.25" fill="#b8ccff"/><rect x="15.6" y="46.8" width="5.25" height="5.25" fill="#80e088"/><rect x="20.8" y="0.0" width="5.25" height="5.25" fill="#b8ccff"/><rect x="20.8" y="5.2" width="5.25" height="5.25" fill="#d0d8ff"/><rect x="20.8" y="10.4" width="5.25" height="5.25" fill="#c8d4ff"/><rect x="20.8" y="15.6" width="5.25" height="5.25" fill="#b8ccff"/><rect x="20.8" y="20.8" width="5.25" height="5.25" fill="#d0d8ff"/><rect x="20.8" y="26.0" width="5.25" height="5.25" fill="#d0d8ff"/><rect x="20.8" y="31.2" width="5.25" height="5.25" fill="#d0d8ff"/><rect x="20.8" y="36.4" width="5.25" height="5.25" fill="#d0d8ff"/><rect x="20.8" y="41.6" width="5.25" height="5.25" fill="#d0d8ff"/><rect x="20.8" y="46.8" width="5.25" height="5.25" fill="#c8d4ff"/><rect x="26.0" y="0.0" width="5.25" height="5.25" fill="#80e088"/><rect x="26.0" y="5.2" width="5.25" height="5.25" fill="#d0d8ff"/><rect x="26.0" y="10.4" width="5.25" height="5.25" fill="#d0d8ff"/><rect x="26.0" y="15.6" width="5.25" height="5.25" fill="#80e088"/><rect x="26.0" y="20.8" width="5.25" height="5.25" fill="#c8d4ff"/><rect x="26.0" y="26.0" width="5.25" height="5.25" fill="#d0d8ff"/><rect x="26.0" y="31.2" width="5.25" height="5.25" fill="#d0d8ff"/><rect x="26.0" y="36.4" width="5.25" height="5.25" fill="#c8d4ff"/><rect x="26.0" y="41.6" width="5.25" height="5.25" fill="#d0d8ff"/><rect x="26.0" y="46.8" width="5.25" height="5.25" fill="#c8d4ff"/><rect x="31.2" y="0.0" width="5.25" height="5.25" fill="#c8d4ff"/><rect x="31.2" y="5.2" width="5.25" height="5.25" fill="#d0d8ff"/><rect x="31.2" y="10.4" width="5.25" height="5.25" fill="#c8d4ff"/><rect x="31.2" y="15.6" width="5.25" height="5.25" fill="#d0d8ff"/><rect x="31.2" y="20.8" width="5.25" height="5.25" fill="#d0d8ff"/><rect x="31.2" y="26.0" width="5.25" height="5.25" fill="#b8ccff"/><rect x="31.2" y="31.2" width="5.25" height="5.25" fill="#d0d8ff"/><rect x="31.2" y="36.4" width="5.25" height="5.25" fill="#d0d8ff"/><rect x="31.2" y="41.6" width="5.25" height="5.25" fill="#d0d8ff"/><rect x="31.2" y="46.8" width="5.25" height="5.25" fill="#d0d8ff"/><rect x="36.4" y="0.0" width="5.25" height="5.25" fill="#b8ccff"/><rect x="36.4" y="5.2" width="5.25" height="5.25" fill="#d0d8ff"/><rect x="36.4" y="10.4" width="5.25" height="5.25" fill="#d0d8ff"/><rect x="36.4" y="15.6" width="5.25" height="5.25" fill="#d0d8ff"/><rect x="36.4" y="20.8" width="5.25" height="5.25" fill="#d0d8ff"/><rect x="36.4" y="26.0" width="5.25" height="5.25" fill="#d0d8ff"/><rect x="36.4" y="31.2" width="5.25" height="5.25" fill="#d0d8ff"/><rect x="36.4" y="36.4" width="5.25" height="5.25" fill="#c8d4ff"/><rect x="36.4" y="41.6" width="5.25" height="5.25" fill="#d0d8ff"/><rect x="36.4" y="46.8" width="5.25" height="5.25" fill="#80e088"/><rect x="41.6" y="0.0" width="5.25" height="5.25" fill="#c8d4ff"/><rect x="41.6" y="5.2" width="5.25" height="5.25" fill="#b8ccff"/><rect x="41.6" y="10.4" width="5.25" height="5.25" fill="#d0d8ff"/><rect x="41.6" y="15.6" width="5.25" height="5.25" fill="#d0d8ff"/><rect x="41.6" y="20.8" width="5.25" height="5.25" fill="#d0d8ff"/><rect x="41.6" y="26.0" width="5.25" height="5.25" fill="#d0d8ff"/><rect x="41.6" y="31.2" width="5.25" height="5.25" fill="#d0d8ff"/><rect x="41.6" y="36.4" width="5.25" height="5.25" fill="#d0d8ff"/><rect x="41.6" y="41.6" width="5.25" height="5.25" fill="#d0d8ff"/><rect x="41.6" y="46.8" width="5.25" height="5.25" fill="#d0d8ff"/><rect x="46.8" y="0.0" width="5.25" height="5.25" fill="#b8ccff"/><rect x="46.8" y="5.2" width="5.25" height="5.25" fill="#c8d4ff"/><rect x="46.8" y="10.4" width="5.25" height="5.25" fill="#c8d4ff"/><rect x="46.8" y="15.6" width="5.25" height="5.25" fill="#d0d8ff"/><rect x="46.8" y="20.8" width="5.25" height="5.25" fill="#d0d8ff"/><rect x="46.8" y="26.0" width="5.25" height="5.25" fill="#d0d8ff"/><rect x="46.8" y="31.2" width="5.25" height="5.25" fill="#c8d4ff"/><rect x="46.8" y="36.4" width="5.25" height="5.25" fill="#d0d8ff"/><rect x="46.8" y="41.6" width="5.25" height="5.25" fill="#c8d4ff"/><rect x="46.8" y="46.8" width="5.25" height="5.25" fill="#b8ccff"/></pattern><pattern id="eb" patternUnits="userSpaceOnUse" width="52.0" height="52.0" patternTransform="rotate(-37)"><rect x="0.0" y="0.0" width="5.25" height="5.25" fill="#b0c8ff"/><rect x="0.0" y="5.2" width="5.25" height="5.25" fill="#60b0ff"/><rect x="0.0" y="10.4" width="5.25" height="5.25" fill="#80b8ff"/><rect x="0.0" y="15.6" width="5.25" height="5.25" fill="#d0d8ff"/><rect x="0.0" y="20.8" width="5.25" height="5.25" fill="#60b0ff"/><rect x="0.0" y="26.0" width="5.25" height="5.25" fill="#80b8ff"/><rect x="0.0" y="31.2" width="5.25" height="5.25" fill="#d0d8ff"/><rect x="0.0" y="36.4" width="5.25" height="5.25" fill="#60b0ff"/><rect x="0.0" y="41.6" width="5.25" height="5.25" fill="#b0c8ff"/><rect x="0.0" y="46.8" width="5.25" height="5.25" fill="#b0c8ff"/><rect x="5.2" y="0.0" width="5.25" height="5.25" fill="#b0c8ff"/><rect x="5.2" y="5.2" width="5.25" height="5.25" fill="#b0c8ff"/><rect x="5.2" y="10.4" width="5.25" height="5.25" fill="#d0d8ff"/><rect x="5.2" y="15.6" width="5.25" height="5.25" fill="#80b8ff"/><rect x="5.2" y="20.8" width="5.25" height="5.25" fill="#80b8ff"/><rect x="5.2" y="26.0" width="5.25" height="5.25" fill="#b0c8ff"/><rect x="5.2" y="31.2" width="5.25" height="5.25" fill="#80b8ff"/><rect x="5.2" y="36.4" width="5.25" height="5.25" fill="#80b8ff"/><rect x="5.2" y="41.6" width="5.25" height="5.25" fill="#80b8ff"/><rect x="5.2" y="46.8" width="5.25" height="5.25" fill="#d0d8ff"/><rect x="10.4" y="0.0" width="5.25" height="5.25" fill="#b0c8ff"/><rect x="10.4" y="5.2" width="5.25" height="5.25" fill="#b0c8ff"/><rect x="10.4" y="10.4" width="5.25" height="5.25" fill="#d0d8ff"/><rect x="10.4" y="15.6" width="5.25" height="5.25" fill="#60b0ff"/><rect x="10.4" y="20.8" width="5.25" height="5.25" fill="#80b8ff"/><rect x="10.4" y="26.0" width="5.25" height="5.25" fill="#d0d8ff"/><rect x="10.4" y="31.2" width="5.25" height="5.25" fill="#b0c8ff"/><rect x="10.4" y="36.4" width="5.25" height="5.25" fill="#b0c8ff"/><rect x="10.4" y="41.6" width="5.25" height="5.25" fill="#d0d8ff"/><rect x="10.4" y="46.8" width="5.25" height="5.25" fill="#d0d8ff"/><rect x="15.6" y="0.0" width="5.25" height="5.25" fill="#b0c8ff"/><rect x="15.6" y="5.2" width="5.25" height="5.25" fill="#d0d8ff"/><rect x="15.6" y="10.4" width="5.25" height="5.25" fill="#b0c8ff"/><rect x="15.6" y="15.6" width="5.25" height="5.25" fill="#b0c8ff"/><rect x="15.6" y="20.8" width="5.25" height="5.25" fill="#d0d8ff"/><rect x="15.6" y="26.0" width="5.25" height="5.25" fill="#60b0ff"/><rect x="15.6" y="31.2" width="5.25" height="5.25" fill="#d0d8ff"/><rect x="15.6" y="36.4" width="5.25" height="5.25" fill="#d0d8ff"/><rect x="15.6" y="41.6" width="5.25" height="5.25" fill="#80b8ff"/><rect x="15.6" y="46.8" width="5.25" height="5.25" fill="#d0d8ff"/><rect x="20.8" y="0.0" width="5.25" height="5.25" fill="#b0c8ff"/><rect x="20.8" y="5.2" width="5.25" height="5.25" fill="#b0c8ff"/><rect x="20.8" y="10.4" width="5.25" height="5.25" fill="#b0c8ff"/><rect x="20.8" y="15.6" width="5.25" height="5.25" fill="#b0c8ff"/><rect x="20.8" y="20.8" width="5.25" height="5.25" fill="#b0c8ff"/><rect x="20.8" y="26.0" width="5.25" height="5.25" fill="#b0c8ff"/><rect x="20.8" y="31.2" width="5.25" height="5.25" fill="#d0d8ff"/><rect x="20.8" y="36.4" width="5.25" height="5.25" fill="#80b8ff"/><rect x="20.8" y="41.6" width="5.25" height="5.25" fill="#b0c8ff"/><rect x="20.8" y="46.8" width="5.25" height="5.25" fill="#d0d8ff"/><rect x="26.0" y="0.0" width="5.25" height="5.25" fill="#b0c8ff"/><rect x="26.0" y="5.2" width="5.25" height="5.25" fill="#80b8ff"/><rect x="26.0" y="10.4" width="5.25" height="5.25" fill="#80b8ff"/><rect x="26.0" y="15.6" width="5.25" height="5.25" fill="#b0c8ff"/><rect x="26.0" y="20.8" width="5.25" height="5.25" fill="#b0c8ff"/><rect x="26.0" y="26.0" width="5.25" height="5.25" fill="#d0d8ff"/><rect x="26.0" y="31.2" width="5.25" height="5.25" fill="#80b8ff"/><rect x="26.0" y="36.4" width="5.25" height="5.25" fill="#b0c8ff"/><rect x="26.0" y="41.6" width="5.25" height="5.25" fill="#d0d8ff"/><rect x="26.0" y="46.8" width="5.25" height="5.25" fill="#d0d8ff"/><rect x="31.2" y="0.0" width="5.25" height="5.25" fill="#d0d8ff"/><rect x="31.2" y="5.2" width="5.25" height="5.25" fill="#80b8ff"/><rect x="31.2" y="10.4" width="5.25" height="5.25" fill="#60b0ff"/><rect x="31.2" y="15.6" width="5.25" height="5.25" fill="#80b8ff"/><rect x="31.2" y="20.8" width="5.25" height="5.25" fill="#d0d8ff"/><rect x="31.2" y="26.0" width="5.25" height="5.25" fill="#d0d8ff"/><rect x="31.2" y="31.2" width="5.25" height="5.25" fill="#60b0ff"/><rect x="31.2" y="36.4" width="5.25" height="5.25" fill="#b0c8ff"/><rect x="31.2" y="41.6" width="5.25" height="5.25" fill="#d0d8ff"/><rect x="31.2" y="46.8" width="5.25" height="5.25" fill="#b0c8ff"/><rect x="36.4" y="0.0" width="5.25" height="5.25" fill="#80b8ff"/><rect x="36.4" y="5.2" width="5.25" height="5.25" fill="#b0c8ff"/><rect x="36.4" y="10.4" width="5.25" height="5.25" fill="#b0c8ff"/><rect x="36.4" y="15.6" width="5.25" height="5.25" fill="#b0c8ff"/><rect x="36.4" y="20.8" width="5.25" height="5.25" fill="#b0c8ff"/><rect x="36.4" y="26.0" width="5.25" height="5.25" fill="#b0c8ff"/><rect x="36.4" y="31.2" width="5.25" height="5.25" fill="#80b8ff"/><rect x="36.4" y="36.4" width="5.25" height="5.25" fill="#b0c8ff"/><rect x="36.4" y="41.6" width="5.25" height="5.25" fill="#b0c8ff"/><rect x="36.4" y="46.8" width="5.25" height="5.25" fill="#60b0ff"/><rect x="41.6" y="0.0" width="5.25" height="5.25" fill="#d0d8ff"/><rect x="41.6" y="5.2" width="5.25" height="5.25" fill="#80b8ff"/><rect x="41.6" y="10.4" width="5.25" height="5.25" fill="#b0c8ff"/><rect x="41.6" y="15.6" width="5.25" height="5.25" fill="#80b8ff"/><rect x="41.6" y="20.8" width="5.25" height="5.25" fill="#80b8ff"/><rect x="41.6" y="26.0" width="5.25" height="5.25" fill="#b0c8ff"/><rect x="41.6" y="31.2" width="5.25" height="5.25" fill="#80b8ff"/><rect x="41.6" y="36.4" width="5.25" height="5.25" fill="#d0d8ff"/><rect x="41.6" y="41.6" width="5.25" height="5.25" fill="#d0d8ff"/><rect x="41.6" y="46.8" width="5.25" height="5.25" fill="#80b8ff"/><rect x="46.8" y="0.0" width="5.25" height="5.25" fill="#b0c8ff"/><rect x="46.8" y="5.2" width="5.25" height="5.25" fill="#d0d8ff"/><rect x="46.8" y="10.4" width="5.25" height="5.25" fill="#80b8ff"/><rect x="46.8" y="15.6" width="5.25" height="5.25" fill="#b0c8ff"/><rect x="46.8" y="20.8" width="5.25" height="5.25" fill="#d0d8ff"/><rect x="46.8" y="26.0" width="5.25" height="5.25" fill="#b0c8ff"/><rect x="46.8" y="31.2" width="5.25" height="5.25" fill="#d0d8ff"/><rect x="46.8" y="36.4" width="5.25" height="5.25" fill="#60b0ff"/><rect x="46.8" y="41.6" width="5.25" height="5.25" fill="#b0c8ff"/><rect x="46.8" y="46.8" width="5.25" height="5.25" fill="#60b0ff"/></pattern><pattern id="ec" patternUnits="userSpaceOnUse" width="52.0" height="52.0" patternTransform="rotate(-37)"><rect x="0.0" y="0.0" width="5.25" height="5.25" fill="#60b0ff"/><rect x="0.0" y="5.2" width="5.25" height="5.25" fill="#80b8ff"/><rect x="0.0" y="10.4" width="5.25" height="5.25" fill="#80b8ff"/><rect x="0.0" y="15.6" width="5.25" height="5.25" fill="#60b0ff"/><rect x="0.0" y="20.8" width="5.25" height="5.25" fill="#b0c8ff"/><rect x="0.0" y="26.0" width="5.25" height="5.25" fill="#60b0ff"/><rect x="0.0" y="31.2" width="5.25" height="5.25" fill="#60b0ff"/><rect x="0.0" y="36.4" width="5.25" height="5.25" fill="#b0c8ff"/><rect x="0.0" y="41.6" width="5.25" height="5.25" fill="#60b0ff"/><rect x="0.0" y="46.8" width="5.25" height="5.25" fill="#60b0ff"/><rect x="5.2" y="0.0" width="5.25" height="5.25" fill="#60b0ff"/><rect x="5.2" y="5.2" width="5.25" height="5.25" fill="#4a90ff"/><rect x="5.2" y="10.4" width="5.25" height="5.25" fill="#4a90ff"/><rect x="5.2" y="15.6" width="5.25" height="5.25" fill="#80b8ff"/><rect x="5.2" y="20.8" width="5.25" height="5.25" fill="#4a90ff"/><rect x="5.2" y="26.0" width="5.25" height="5.25" fill="#60b0ff"/><rect x="5.2" y="31.2" width="5.25" height="5.25" fill="#4a90ff"/><rect x="5.2" y="36.4" width="5.25" height="5.25" fill="#b0c8ff"/><rect x="5.2" y="41.6" width="5.25" height="5.25" fill="#4a90ff"/><rect x="5.2" y="46.8" width="5.25" height="5.25" fill="#80b8ff"/><rect x="10.4" y="0.0" width="5.25" height="5.25" fill="#b0c8ff"/><rect x="10.4" y="5.2" width="5.25" height="5.25" fill="#60b0ff"/><rect x="10.4" y="10.4" width="5.25" height="5.25" fill="#4a90ff"/><rect x="10.4" y="15.6" width="5.25" height="5.25" fill="#4a90ff"/><rect x="10.4" y="20.8" width="5.25" height="5.25" fill="#80b8ff"/><rect x="10.4" y="26.0" width="5.25" height="5.25" fill="#4a90ff"/><rect x="10.4" y="31.2" width="5.25" height="5.25" fill="#b0c8ff"/><rect x="10.4" y="36.4" width="5.25" height="5.25" fill="#4a90ff"/><rect x="10.4" y="41.6" width="5.25" height="5.25" fill="#80b8ff"/><rect x="10.4" y="46.8" width="5.25" height="5.25" fill="#60b0ff"/><rect x="15.6" y="0.0" width="5.25" height="5.25" fill="#b0c8ff"/><rect x="15.6" y="5.2" width="5.25" height="5.25" fill="#b0c8ff"/><rect x="15.6" y="10.4" width="5.25" height="5.25" fill="#b0c8ff"/><rect x="15.6" y="15.6" width="5.25" height="5.25" fill="#60b0ff"/><rect x="15.6" y="20.8" width="5.25" height="5.25" fill="#60b0ff"/><rect x="15.6" y="26.0" width="5.25" height="5.25" fill="#4a90ff"/><rect x="15.6" y="31.2" width="5.25" height="5.25" fill="#4a90ff"/><rect x="15.6" y="36.4" width="5.25" height="5.25" fill="#80b8ff"/><rect x="15.6" y="41.6" width="5.25" height="5.25" fill="#4a90ff"/><rect x="15.6" y="46.8" width="5.25" height="5.25" fill="#80b8ff"/><rect x="20.8" y="0.0" width="5.25" height="5.25" fill="#4a90ff"/><rect x="20.8" y="5.2" width="5.25" height="5.25" fill="#80b8ff"/><rect x="20.8" y="10.4" width="5.25" height="5.25" fill="#4a90ff"/><rect x="20.8" y="15.6" width="5.25" height="5.25" fill="#80b8ff"/><rect x="20.8" y="20.8" width="5.25" height="5.25" fill="#80b8ff"/><rect x="20.8" y="26.0" width="5.25" height="5.25" fill="#60b0ff"/><rect x="20.8" y="31.2" width="5.25" height="5.25" fill="#b0c8ff"/><rect x="20.8" y="36.4" width="5.25" height="5.25" fill="#b0c8ff"/><rect x="20.8" y="41.6" width="5.25" height="5.25" fill="#60b0ff"/><rect x="20.8" y="46.8" width="5.25" height="5.25" fill="#60b0ff"/><rect x="26.0" y="0.0" width="5.25" height="5.25" fill="#b0c8ff"/><rect x="26.0" y="5.2" width="5.25" height="5.25" fill="#80b8ff"/><rect x="26.0" y="10.4" width="5.25" height="5.25" fill="#80b8ff"/><rect x="26.0" y="15.6" width="5.25" height="5.25" fill="#60b0ff"/><rect x="26.0" y="20.8" width="5.25" height="5.25" fill="#4a90ff"/><rect x="26.0" y="26.0" width="5.25" height="5.25" fill="#b0c8ff"/><rect x="26.0" y="31.2" width="5.25" height="5.25" fill="#60b0ff"/><rect x="26.0" y="36.4" width="5.25" height="5.25" fill="#b0c8ff"/><rect x="26.0" y="41.6" width="5.25" height="5.25" fill="#60b0ff"/><rect x="26.0" y="46.8" width="5.25" height="5.25" fill="#4a90ff"/><rect x="31.2" y="0.0" width="5.25" height="5.25" fill="#60b0ff"/><rect x="31.2" y="5.2" width="5.25" height="5.25" fill="#60b0ff"/><rect x="31.2" y="10.4" width="5.25" height="5.25" fill="#b0c8ff"/><rect x="31.2" y="15.6" width="5.25" height="5.25" fill="#b0c8ff"/><rect x="31.2" y="20.8" width="5.25" height="5.25" fill="#80b8ff"/><rect x="31.2" y="26.0" width="5.25" height="5.25" fill="#b0c8ff"/><rect x="31.2" y="31.2" width="5.25" height="5.25" fill="#b0c8ff"/><rect x="31.2" y="36.4" width="5.25" height="5.25" fill="#4a90ff"/><rect x="31.2" y="41.6" width="5.25" height="5.25" fill="#80b8ff"/><rect x="31.2" y="46.8" width="5.25" height="5.25" fill="#4a90ff"/><rect x="36.4" y="0.0" width="5.25" height="5.25" fill="#60b0ff"/><rect x="36.4" y="5.2" width="5.25" height="5.25" fill="#60b0ff"/><rect x="36.4" y="10.4" width="5.25" height="5.25" fill="#4a90ff"/><rect x="36.4" y="15.6" width="5.25" height="5.25" fill="#60b0ff"/><rect x="36.4" y="20.8" width="5.25" height="5.25" fill="#80b8ff"/><rect x="36.4" y="26.0" width="5.25" height="5.25" fill="#80b8ff"/><rect x="36.4" y="31.2" width="5.25" height="5.25" fill="#80b8ff"/><rect x="36.4" y="36.4" width="5.25" height="5.25" fill="#b0c8ff"/><rect x="36.4" y="41.6" width="5.25" height="5.25" fill="#b0c8ff"/><rect x="36.4" y="46.8" width="5.25" height="5.25" fill="#60b0ff"/><rect x="41.6" y="0.0" width="5.25" height="5.25" fill="#60b0ff"/><rect x="41.6" y="5.2" width="5.25" height="5.25" fill="#4a90ff"/><rect x="41.6" y="10.4" width="5.25" height="5.25" fill="#60b0ff"/><rect x="41.6" y="15.6" width="5.25" height="5.25" fill="#4a90ff"/><rect x="41.6" y="20.8" width="5.25" height="5.25" fill="#80b8ff"/><rect x="41.6" y="26.0" width="5.25" height="5.25" fill="#60b0ff"/><rect x="41.6" y="31.2" width="5.25" height="5.25" fill="#4a90ff"/><rect x="41.6" y="36.4" width="5.25" height="5.25" fill="#b0c8ff"/><rect x="41.6" y="41.6" width="5.25" height="5.25" fill="#b0c8ff"/><rect x="41.6" y="46.8" width="5.25" height="5.25" fill="#80b8ff"/><rect x="46.8" y="0.0" width="5.25" height="5.25" fill="#80b8ff"/><rect x="46.8" y="5.2" width="5.25" height="5.25" fill="#80b8ff"/><rect x="46.8" y="10.4" width="5.25" height="5.25" fill="#b0c8ff"/><rect x="46.8" y="15.6" width="5.25" height="5.25" fill="#b0c8ff"/><rect x="46.8" y="20.8" width="5.25" height="5.25" fill="#b0c8ff"/><rect x="46.8" y="26.0" width="5.25" height="5.25" fill="#60b0ff"/><rect x="46.8" y="31.2" width="5.25" height="5.25" fill="#b0c8ff"/><rect x="46.8" y="36.4" width="5.25" height="5.25" fill="#b0c8ff"/><rect x="46.8" y="41.6" width="5.25" height="5.25" fill="#60b0ff"/><rect x="46.8" y="46.8" width="5.25" height="5.25" fill="#80b8ff"/></pattern><pattern id="eB" patternUnits="userSpaceOnUse" width="52.0" height="52.0" patternTransform="rotate(-37)"><rect x="0.0" y="0.0" width="5.25" height="5.25" fill="#3a60ff"/><rect x="0.0" y="5.2" width="5.25" height="5.25" fill="#3a60ff"/><rect x="0.0" y="10.4" width="5.25" height="5.25" fill="#2a3cff"/><rect x="0.0" y="15.6" width="5.25" height="5.25" fill="#60b0ff"/><rect x="0.0" y="20.8" width="5.25" height="5.25" fill="#60b0ff"/><rect x="0.0" y="26.0" width="5.25" height="5.25" fill="#2a3cff"/><rect x="0.0" y="31.2" width="5.25" height="5.25" fill="#4a90ff"/><rect x="0.0" y="36.4" width="5.25" height="5.25" fill="#4a90ff"/><rect x="0.0" y="41.6" width="5.25" height="5.25" fill="#2a3cff"/><rect x="0.0" y="46.8" width="5.25" height="5.25" fill="#60b0ff"/><rect x="5.2" y="0.0" width="5.25" height="5.25" fill="#2a3cff"/><rect x="5.2" y="5.2" width="5.25" height="5.25" fill="#4a90ff"/><rect x="5.2" y="10.4" width="5.25" height="5.25" fill="#60b0ff"/><rect x="5.2" y="15.6" width="5.25" height="5.25" fill="#2a3cff"/><rect x="5.2" y="20.8" width="5.25" height="5.25" fill="#3a60ff"/><rect x="5.2" y="26.0" width="5.25" height="5.25" fill="#60b0ff"/><rect x="5.2" y="31.2" width="5.25" height="5.25" fill="#2a3cff"/><rect x="5.2" y="36.4" width="5.25" height="5.25" fill="#3a60ff"/><rect x="5.2" y="41.6" width="5.25" height="5.25" fill="#3a60ff"/><rect x="5.2" y="46.8" width="5.25" height="5.25" fill="#3a60ff"/><rect x="10.4" y="0.0" width="5.25" height="5.25" fill="#2a3cff"/><rect x="10.4" y="5.2" width="5.25" height="5.25" fill="#60b0ff"/><rect x="10.4" y="10.4" width="5.25" height="5.25" fill="#2a3cff"/><rect x="10.4" y="15.6" width="5.25" height="5.25" fill="#3a60ff"/><rect x="10.4" y="20.8" width="5.25" height="5.25" fill="#4a90ff"/><rect x="10.4" y="26.0" width="5.25" height="5.25" fill="#3a60ff"/><rect x="10.4" y="31.2" width="5.25" height="5.25" fill="#4a90ff"/><rect x="10.4" y="36.4" width="5.25" height="5.25" fill="#3a60ff"/><rect x="10.4" y="41.6" width="5.25" height="5.25" fill="#3a60ff"/><rect x="10.4" y="46.8" width="5.25" height="5.25" fill="#3a60ff"/><rect x="15.6" y="0.0" width="5.25" height="5.25" fill="#60b0ff"/><rect x="15.6" y="5.2" width="5.25" height="5.25" fill="#4a90ff"/><rect x="15.6" y="10.4" width="5.25" height="5.25" fill="#4a90ff"/><rect x="15.6" y="15.6" width="5.25" height="5.25" fill="#3a60ff"/><rect x="15.6" y="20.8" width="5.25" height="5.25" fill="#2a3cff"/><rect x="15.6" y="26.0" width="5.25" height="5.25" fill="#3a60ff"/><rect x="15.6" y="31.2" width="5.25" height="5.25" fill="#3a60ff"/><rect x="15.6" y="36.4" width="5.25" height="5.25" fill="#60b0ff"/><rect x="15.6" y="41.6" width="5.25" height="5.25" fill="#3a60ff"/><rect x="15.6" y="46.8" width="5.25" height="5.25" fill="#4a90ff"/><rect x="20.8" y="0.0" width="5.25" height="5.25" fill="#2a3cff"/><rect x="20.8" y="5.2" width="5.25" height="5.25" fill="#60b0ff"/><rect x="20.8" y="10.4" width="5.25" height="5.25" fill="#2a3cff"/><rect x="20.8" y="15.6" width="5.25" height="5.25" fill="#60b0ff"/><rect x="20.8" y="20.8" width="5.25" height="5.25" fill="#3a60ff"/><rect x="20.8" y="26.0" width="5.25" height="5.25" fill="#4a90ff"/><rect x="20.8" y="31.2" width="5.25" height="5.25" fill="#3a60ff"/><rect x="20.8" y="36.4" width="5.25" height="5.25" fill="#4a90ff"/><rect x="20.8" y="41.6" width="5.25" height="5.25" fill="#4a90ff"/><rect x="20.8" y="46.8" width="5.25" height="5.25" fill="#4a90ff"/><rect x="26.0" y="0.0" width="5.25" height="5.25" fill="#2a3cff"/><rect x="26.0" y="5.2" width="5.25" height="5.25" fill="#4a90ff"/><rect x="26.0" y="10.4" width="5.25" height="5.25" fill="#4a90ff"/><rect x="26.0" y="15.6" width="5.25" height="5.25" fill="#3a60ff"/><rect x="26.0" y="20.8" width="5.25" height="5.25" fill="#60b0ff"/><rect x="26.0" y="26.0" width="5.25" height="5.25" fill="#4a90ff"/><rect x="26.0" y="31.2" width="5.25" height="5.25" fill="#3a60ff"/><rect x="26.0" y="36.4" width="5.25" height="5.25" fill="#3a60ff"/><rect x="26.0" y="41.6" width="5.25" height="5.25" fill="#60b0ff"/><rect x="26.0" y="46.8" width="5.25" height="5.25" fill="#3a60ff"/><rect x="31.2" y="0.0" width="5.25" height="5.25" fill="#4a90ff"/><rect x="31.2" y="5.2" width="5.25" height="5.25" fill="#60b0ff"/><rect x="31.2" y="10.4" width="5.25" height="5.25" fill="#4a90ff"/><rect x="31.2" y="15.6" width="5.25" height="5.25" fill="#60b0ff"/><rect x="31.2" y="20.8" width="5.25" height="5.25" fill="#4a90ff"/><rect x="31.2" y="26.0" width="5.25" height="5.25" fill="#60b0ff"/><rect x="31.2" y="31.2" width="5.25" height="5.25" fill="#4a90ff"/><rect x="31.2" y="36.4" width="5.25" height="5.25" fill="#3a60ff"/><rect x="31.2" y="41.6" width="5.25" height="5.25" fill="#3a60ff"/><rect x="31.2" y="46.8" width="5.25" height="5.25" fill="#4a90ff"/><rect x="36.4" y="0.0" width="5.25" height="5.25" fill="#4a90ff"/><rect x="36.4" y="5.2" width="5.25" height="5.25" fill="#3a60ff"/><rect x="36.4" y="10.4" width="5.25" height="5.25" fill="#3a60ff"/><rect x="36.4" y="15.6" width="5.25" height="5.25" fill="#2a3cff"/><rect x="36.4" y="20.8" width="5.25" height="5.25" fill="#4a90ff"/><rect x="36.4" y="26.0" width="5.25" height="5.25" fill="#3a60ff"/><rect x="36.4" y="31.2" width="5.25" height="5.25" fill="#3a60ff"/><rect x="36.4" y="36.4" width="5.25" height="5.25" fill="#2a3cff"/><rect x="36.4" y="41.6" width="5.25" height="5.25" fill="#3a60ff"/><rect x="36.4" y="46.8" width="5.25" height="5.25" fill="#60b0ff"/><rect x="41.6" y="0.0" width="5.25" height="5.25" fill="#60b0ff"/><rect x="41.6" y="5.2" width="5.25" height="5.25" fill="#3a60ff"/><rect x="41.6" y="10.4" width="5.25" height="5.25" fill="#4a90ff"/><rect x="41.6" y="15.6" width="5.25" height="5.25" fill="#3a60ff"/><rect x="41.6" y="20.8" width="5.25" height="5.25" fill="#60b0ff"/><rect x="41.6" y="26.0" width="5.25" height="5.25" fill="#3a60ff"/><rect x="41.6" y="31.2" width="5.25" height="5.25" fill="#4a90ff"/><rect x="41.6" y="36.4" width="5.25" height="5.25" fill="#4a90ff"/><rect x="41.6" y="41.6" width="5.25" height="5.25" fill="#60b0ff"/><rect x="41.6" y="46.8" width="5.25" height="5.25" fill="#2a3cff"/><rect x="46.8" y="0.0" width="5.25" height="5.25" fill="#2a3cff"/><rect x="46.8" y="5.2" width="5.25" height="5.25" fill="#3a60ff"/><rect x="46.8" y="10.4" width="5.25" height="5.25" fill="#3a60ff"/><rect x="46.8" y="15.6" width="5.25" height="5.25" fill="#4a90ff"/><rect x="46.8" y="20.8" width="5.25" height="5.25" fill="#60b0ff"/><rect x="46.8" y="26.0" width="5.25" height="5.25" fill="#2a3cff"/><rect x="46.8" y="31.2" width="5.25" height="5.25" fill="#4a90ff"/><rect x="46.8" y="36.4" width="5.25" height="5.25" fill="#4a90ff"/><rect x="46.8" y="41.6" width="5.25" height="5.25" fill="#2a3cff"/><rect x="46.8" y="46.8" width="5.25" height="5.25" fill="#4a90ff"/></pattern><pattern id="en" patternUnits="userSpaceOnUse" width="52.0" height="52.0" patternTransform="rotate(-37)"><rect x="0.0" y="0.0" width="5.25" height="5.25" fill="#999999"/><rect x="0.0" y="5.2" width="5.25" height="5.25" fill="#999999"/><rect x="0.0" y="10.4" width="5.25" height="5.25" fill="#9c9c9c"/><rect x="0.0" y="15.6" width="5.25" height="5.25" fill="#999999"/><rect x="0.0" y="20.8" width="5.25" height="5.25" fill="#999999"/><rect x="0.0" y="26.0" width="5.25" height="5.25" fill="#9c9c9c"/><rect x="0.0" y="31.2" width="5.25" height="5.25" fill="#9c9c9c"/><rect x="0.0" y="36.4" width="5.25" height="5.25" fill="#999999"/><rect x="0.0" y="41.6" width="5.25" height="5.25" fill="#999999"/><rect x="0.0" y="46.8" width="5.25" height="5.25" fill="#80e088"/><rect x="5.2" y="0.0" width="5.25" height="5.25" fill="#999999"/><rect x="5.2" y="5.2" width="5.25" height="5.25" fill="#999999"/><rect x="5.2" y="10.4" width="5.25" height="5.25" fill="#999999"/><rect x="5.2" y="15.6" width="5.25" height="5.25" fill="#999999"/><rect x="5.2" y="20.8" width="5.25" height="5.25" fill="#999999"/><rect x="5.2" y="26.0" width="5.25" height="5.25" fill="#72c878"/><rect x="5.2" y="31.2" width="5.25" height="5.25" fill="#999999"/><rect x="5.2" y="36.4" width="5.25" height="5.25" fill="#72c878"/><rect x="5.2" y="41.6" width="5.25" height="5.25" fill="#999999"/><rect x="5.2" y="46.8" width="5.25" height="5.25" fill="#72c878"/><rect x="10.4" y="0.0" width="5.25" height="5.25" fill="#9c9c9c"/><rect x="10.4" y="5.2" width="5.25" height="5.25" fill="#9c9c9c"/><rect x="10.4" y="10.4" width="5.25" height="5.25" fill="#9c9c9c"/><rect x="10.4" y="15.6" width="5.25" height="5.25" fill="#999999"/><rect x="10.4" y="20.8" width="5.25" height="5.25" fill="#999999"/><rect x="10.4" y="26.0" width="5.25" height="5.25" fill="#9c9c9c"/><rect x="10.4" y="31.2" width="5.25" height="5.25" fill="#999999"/><rect x="10.4" y="36.4" width="5.25" height="5.25" fill="#999999"/><rect x="10.4" y="41.6" width="5.25" height="5.25" fill="#80e088"/><rect x="10.4" y="46.8" width="5.25" height="5.25" fill="#9c9c9c"/><rect x="15.6" y="0.0" width="5.25" height="5.25" fill="#999999"/><rect x="15.6" y="5.2" width="5.25" height="5.25" fill="#9c9c9c"/><rect x="15.6" y="10.4" width="5.25" height="5.25" fill="#72c878"/><rect x="15.6" y="15.6" width="5.25" height="5.25" fill="#999999"/><rect x="15.6" y="20.8" width="5.25" height="5.25" fill="#999999"/><rect x="15.6" y="26.0" width="5.25" height="5.25" fill="#9c9c9c"/><rect x="15.6" y="31.2" width="5.25" height="5.25" fill="#999999"/><rect x="15.6" y="36.4" width="5.25" height="5.25" fill="#999999"/><rect x="15.6" y="41.6" width="5.25" height="5.25" fill="#999999"/><rect x="15.6" y="46.8" width="5.25" height="5.25" fill="#80e088"/><rect x="20.8" y="0.0" width="5.25" height="5.25" fill="#80e088"/><rect x="20.8" y="5.2" width="5.25" height="5.25" fill="#999999"/><rect x="20.8" y="10.4" width="5.25" height="5.25" fill="#999999"/><rect x="20.8" y="15.6" width="5.25" height="5.25" fill="#999999"/><rect x="20.8" y="20.8" width="5.25" height="5.25" fill="#72c878"/><rect x="20.8" y="26.0" width="5.25" height="5.25" fill="#80e088"/><rect x="20.8" y="31.2" width="5.25" height="5.25" fill="#9c9c9c"/><rect x="20.8" y="36.4" width="5.25" height="5.25" fill="#999999"/><rect x="20.8" y="41.6" width="5.25" height="5.25" fill="#999999"/><rect x="20.8" y="46.8" width="5.25" height="5.25" fill="#80e088"/><rect x="26.0" y="0.0" width="5.25" height="5.25" fill="#999999"/><rect x="26.0" y="5.2" width="5.25" height="5.25" fill="#9c9c9c"/><rect x="26.0" y="10.4" width="5.25" height="5.25" fill="#9c9c9c"/><rect x="26.0" y="15.6" width="5.25" height="5.25" fill="#999999"/><rect x="26.0" y="20.8" width="5.25" height="5.25" fill="#999999"/><rect x="26.0" y="26.0" width="5.25" height="5.25" fill="#72c878"/><rect x="26.0" y="31.2" width="5.25" height="5.25" fill="#999999"/><rect x="26.0" y="36.4" width="5.25" height="5.25" fill="#9c9c9c"/><rect x="26.0" y="41.6" width="5.25" height="5.25" fill="#80e088"/><rect x="26.0" y="46.8" width="5.25" height="5.25" fill="#999999"/><rect x="31.2" y="0.0" width="5.25" height="5.25" fill="#9c9c9c"/><rect x="31.2" y="5.2" width="5.25" height="5.25" fill="#80e088"/><rect x="31.2" y="10.4" width="5.25" height="5.25" fill="#9c9c9c"/><rect x="31.2" y="15.6" width="5.25" height="5.25" fill="#9c9c9c"/><rect x="31.2" y="20.8" width="5.25" height="5.25" fill="#9c9c9c"/><rect x="31.2" y="26.0" width="5.25" height="5.25" fill="#9c9c9c"/><rect x="31.2" y="31.2" width="5.25" height="5.25" fill="#9c9c9c"/><rect x="31.2" y="36.4" width="5.25" height="5.25" fill="#9c9c9c"/><rect x="31.2" y="41.6" width="5.25" height="5.25" fill="#999999"/><rect x="31.2" y="46.8" width="5.25" height="5.25" fill="#80e088"/><rect x="36.4" y="0.0" width="5.25" height="5.25" fill="#999999"/><rect x="36.4" y="5.2" width="5.25" height="5.25" fill="#999999"/><rect x="36.4" y="10.4" width="5.25" height="5.25" fill="#72c878"/><rect x="36.4" y="15.6" width="5.25" height="5.25" fill="#999999"/><rect x="36.4" y="20.8" width="5.25" height="5.25" fill="#9c9c9c"/><rect x="36.4" y="26.0" width="5.25" height="5.25" fill="#9c9c9c"/><rect x="36.4" y="31.2" width="5.25" height="5.25" fill="#9c9c9c"/><rect x="36.4" y="36.4" width="5.25" height="5.25" fill="#80e088"/><rect x="36.4" y="41.6" width="5.25" height="5.25" fill="#9c9c9c"/><rect x="36.4" y="46.8" width="5.25" height="5.25" fill="#9c9c9c"/><rect x="41.6" y="0.0" width="5.25" height="5.25" fill="#999999"/><rect x="41.6" y="5.2" width="5.25" height="5.25" fill="#72c878"/><rect x="41.6" y="10.4" width="5.25" height="5.25" fill="#999999"/><rect x="41.6" y="15.6" width="5.25" height="5.25" fill="#999999"/><rect x="41.6" y="20.8" width="5.25" height="5.25" fill="#999999"/><rect x="41.6" y="26.0" width="5.25" height="5.25" fill="#999999"/><rect x="41.6" y="31.2" width="5.25" height="5.25" fill="#999999"/><rect x="41.6" y="36.4" width="5.25" height="5.25" fill="#999999"/><rect x="41.6" y="41.6" width="5.25" height="5.25" fill="#9c9c9c"/><rect x="41.6" y="46.8" width="5.25" height="5.25" fill="#999999"/><rect x="46.8" y="0.0" width="5.25" height="5.25" fill="#9c9c9c"/><rect x="46.8" y="5.2" width="5.25" height="5.25" fill="#9c9c9c"/><rect x="46.8" y="10.4" width="5.25" height="5.25" fill="#999999"/><rect x="46.8" y="15.6" width="5.25" height="5.25" fill="#80e088"/><rect x="46.8" y="20.8" width="5.25" height="5.25" fill="#999999"/><rect x="46.8" y="26.0" width="5.25" height="5.25" fill="#80e088"/><rect x="46.8" y="31.2" width="5.25" height="5.25" fill="#80e088"/><rect x="46.8" y="36.4" width="5.25" height="5.25" fill="#9c9c9c"/><rect x="46.8" y="41.6" width="5.25" height="5.25" fill="#999999"/><rect x="46.8" y="46.8" width="5.25" height="5.25" fill="#9c9c9c"/></pattern>
<rect x="13" y="41" width="473" height="508" fill="#ececec"/>
<path d="M13.2,41.2 13.2,216.8 21.2,221.2 22.2,223.2 21.8,230.2 25.2,234.2 22.2,236.8 22.2,244.8 20.8,247.8 17.2,251.2 13.2,250.8 13.2,548.8 485.8,548.8 485.8,41.2 82.8,41.2 81.2,42.8 79.2,41.2Z" fill="#c8c8c8" fill-rule="evenodd"/>
<path d="M13.2,41.2 13.2,216.8 17.8,218.8 23.2,219.8 28.8,219.8 31.8,218.8 40.8,219.2 43.8,218.2 46.8,219.2 48.8,218.8 55.8,210.2 53.8,206.2 54.8,200.8 52.8,194.8 54.2,191.2 54.2,188.8 55.8,186.8 57.8,186.2 61.2,183.2 64.2,183.8 69.2,189.2 69.8,192.8 67.8,197.8 69.8,200.8 69.2,204.8 70.2,208.8 68.2,217.2 66.8,218.8 63.2,218.8 60.2,220.8 56.8,221.2 55.2,224.8 55.2,230.8 52.2,234.8 52.2,238.2 54.2,241.2 54.8,244.2 51.8,249.8 49.2,251.8 44.2,252.2 42.2,254.8 40.2,254.8 37.8,258.2 37.8,286.8 35.8,287.8 29.2,285.2 26.8,285.2 25.2,286.2 13.2,287.2 13.2,548.8 485.8,548.8 485.8,41.2 82.8,41.2 81.2,42.8 79.2,41.2ZM30.2,182.8 33.8,182.8 35.8,183.8 38.8,187.8 38.2,197.2 35.8,202.2 34.2,202.2 32.2,200.2 26.8,201.2 21.8,199.8 20.8,198.2 22.8,193.8 22.8,188.2 27.2,185.8Z" fill="#9c9c9c" fill-rule="evenodd"/>
<path d="M39.2,210.8 36.8,206.8 32.8,204.2 31.2,201.2 23.2,202.2 20.2,204.8 13.2,201.8 13.2,216.8 17.8,218.8 28.8,219.8 32.2,218.2 34.8,218.2 36.8,216.8ZM13.2,41.2 13.2,183.8 20.2,186.2 23.2,186.2 27.8,184.8 29.2,182.8 32.8,182.2 44.2,183.8 47.2,185.2 53.8,184.8 56.2,185.8 58.8,185.2 60.8,183.2 63.8,183.2 67.2,184.8 73.2,182.2 76.8,183.8 92.8,183.2 94.2,184.8 97.8,185.2 101.2,189.8 102.8,195.2 102.2,197.2 100.2,198.8 101.2,203.8 102.8,206.2 102.8,209.8 101.2,212.8 102.2,217.8 100.8,219.8 102.8,230.8 99.2,236.2 100.2,238.8 99.8,247.8 100.8,249.2 96.2,252.8 89.8,253.8 88.2,252.2 84.8,253.2 83.8,257.8 85.8,259.8 84.8,263.2 85.2,266.8 81.8,267.2 71.2,272.8 69.8,280.8 64.2,286.2 58.8,285.8 53.8,287.8 52.8,292.8 51.2,295.2 51.2,296.8 53.8,300.8 52.8,302.2 48.2,303.8 42.2,303.2 36.8,306.2 37.2,309.8 36.2,310.8 36.2,313.2 37.8,318.8 38.2,332.8 36.8,335.8 39.8,339.8 39.8,341.8 36.2,348.8 30.8,353.2 25.8,355.8 21.2,365.2 21.2,368.8 18.2,370.2 13.2,370.2 13.2,548.8 485.8,548.8 485.8,41.2 82.8,41.2 81.2,42.8 79.2,41.2Z" fill="url(#en)" fill-rule="evenodd"/>
<path d="M310.2,489.8 308.8,493.8 305.8,497.8 306.8,500.8 305.2,505.8 306.8,510.8 305.8,528.2 307.2,535.8 308.8,537.2 313.8,538.8 318.2,537.8 325.2,538.2 329.2,536.8 335.2,537.2 337.2,533.8 336.2,528.2 337.8,525.2 336.8,521.8 337.2,512.2 334.8,509.8 334.8,508.2 337.2,504.2 337.2,499.2 334.8,495.2 336.2,491.8 336.2,488.8 333.8,488.2 329.8,489.8 326.8,489.8 321.8,487.2 319.2,487.2ZM39.2,210.8 36.8,206.8 32.8,204.2 31.2,201.2 23.2,202.2 20.2,204.8 13.2,201.8 13.2,216.8 17.8,218.8 28.8,219.8 32.2,218.2 34.8,218.2 36.8,216.8ZM13.2,41.2 13.2,183.8 20.2,186.2 23.2,186.2 27.8,184.8 29.2,182.8 32.8,182.2 44.2,183.8 47.2,185.2 53.8,184.8 56.2,185.8 58.8,185.2 60.8,183.2 63.8,183.2 67.2,184.8 73.2,182.2 76.8,183.8 92.8,183.2 94.2,184.8 97.8,185.2 101.2,189.8 102.8,195.2 102.2,197.2 100.2,198.8 101.2,203.8 102.8,206.2 102.8,209.8 101.2,212.8 102.2,217.8 100.8,219.8 102.8,230.8 99.2,236.2 100.2,238.8 99.8,247.8 100.8,249.2 96.2,252.8 89.8,253.8 88.2,252.2 84.8,253.2 83.8,257.8 85.8,259.8 84.8,263.2 85.2,266.8 81.8,267.2 71.2,272.8 69.8,280.8 64.2,286.2 58.8,285.8 53.8,287.8 52.8,292.8 51.2,295.2 51.2,296.8 53.8,300.8 52.8,302.2 48.2,303.8 42.2,303.2 36.8,306.2 37.2,309.8 36.2,310.8 36.2,313.2 37.8,318.8 38.2,332.8 36.8,335.8 39.8,339.8 39.8,341.8 36.2,348.8 30.8,353.2 25.8,355.8 21.2,365.2 21.2,368.8 18.2,370.2 13.2,370.2 13.2,548.8 225.8,548.8 225.8,542.8 227.8,540.2 230.2,539.8 232.8,540.8 241.2,536.2 240.8,531.2 242.8,525.2 242.8,519.2 241.2,516.2 241.8,513.8 240.8,510.2 242.2,507.8 243.2,502.8 243.2,490.8 244.8,489.2 249.8,489.8 256.8,488.2 263.2,489.2 265.8,486.8 273.8,487.8 277.2,489.2 279.2,489.2 282.2,487.2 286.8,487.2 290.8,483.2 291.2,476.8 292.2,474.8 295.2,472.8 299.2,472.2 301.8,470.2 305.2,462.2 304.2,456.2 306.2,455.2 309.2,456.8 312.8,456.8 316.8,451.8 319.2,451.8 321.2,454.2 320.8,457.2 323.2,461.2 322.8,465.8 324.2,465.8 330.2,472.8 335.8,475.8 336.8,479.2 334.8,482.2 338.2,484.2 338.8,487.2 339.8,487.8 344.2,486.8 349.2,487.2 350.8,486.2 355.2,471.8 357.2,469.2 359.2,469.2 361.8,471.2 364.8,471.2 370.2,468.2 370.2,466.2 366.2,458.8 370.8,453.8 379.8,452.8 384.8,459.8 386.2,465.2 386.2,470.8 384.8,473.2 384.8,478.2 383.2,481.2 386.8,489.8 385.2,495.2 386.2,501.8 388.2,505.2 392.8,505.8 395.2,508.2 397.8,509.2 400.2,512.8 399.2,518.8 402.2,522.8 402.2,524.2 398.8,528.2 401.8,532.2 399.2,536.8 399.8,538.8 404.2,539.8 411.8,533.8 414.2,532.8 415.2,531.2 415.2,525.2 421.2,523.2 423.8,519.2 430.2,520.2 432.2,518.8 431.2,510.8 428.8,506.8 420.2,507.8 418.2,506.2 415.2,500.8 416.2,492.2 414.2,487.8 401.2,487.8 399.2,485.8 399.2,481.2 400.2,479.2 399.8,474.2 402.8,471.8 408.8,469.8 411.8,469.8 413.8,471.2 416.2,476.2 416.2,484.8 424.8,487.8 429.2,487.2 433.2,488.2 439.8,488.2 442.2,489.2 444.2,492.2 447.2,494.2 446.2,501.8 447.8,504.8 447.8,508.2 450.2,513.8 450.2,515.8 448.2,518.8 448.8,520.2 452.2,522.2 458.8,521.2 460.2,522.2 462.2,527.8 462.8,534.2 465.8,537.8 470.2,537.2 473.2,538.8 478.2,538.2 479.2,536.8 479.8,522.8 478.8,520.8 479.8,517.8 477.2,512.8 475.8,503.8 478.2,501.2 478.8,494.2 476.8,490.8 473.2,489.8 468.8,485.8 466.2,486.2 463.8,489.8 462.2,489.2 463.2,479.2 465.2,474.8 468.2,472.2 476.2,470.2 476.2,465.2 478.2,463.2 480.8,462.8 481.2,456.2 483.2,454.2 485.8,453.8 485.8,41.2 82.8,41.2 81.2,42.8 79.2,41.2Z" fill="url(#em)" fill-rule="evenodd"/>
<path d="M13.2,67.8 13.2,167.8 16.8,168.8 19.8,171.2 22.8,175.8 23.2,179.2 21.2,184.2 22.2,185.2 25.2,185.2 28.8,182.8 32.2,182.2 41.8,183.2 47.2,185.2 53.8,184.8 56.2,185.8 58.8,185.2 60.8,183.2 63.8,183.2 67.2,184.8 74.2,182.2 77.8,183.8 85.8,180.2 85.8,168.8 86.8,167.8 96.8,167.8 100.8,172.2 100.2,176.8 101.8,181.2 100.2,187.2 102.8,195.2 102.2,197.2 100.2,199.2 102.8,206.2 102.8,209.8 101.2,212.8 102.2,217.8 100.8,219.8 102.8,230.8 99.2,236.2 100.2,238.8 99.8,247.8 100.8,249.2 96.2,252.8 89.8,253.8 88.2,252.2 84.8,253.2 83.8,257.8 85.8,259.8 84.8,263.2 85.2,266.8 81.8,267.2 71.2,272.8 69.8,280.8 64.2,286.2 58.8,285.8 53.8,287.8 51.8,294.2 51.8,296.8 55.2,300.8 54.2,309.8 52.8,311.2 53.8,332.2 51.8,334.8 48.8,335.2 45.2,338.2 40.8,337.2 41.8,340.2 37.8,345.2 36.2,348.8 30.8,353.2 26.2,355.2 23.8,358.8 23.2,362.2 21.2,365.2 21.2,368.8 18.2,370.2 13.2,370.2 13.2,548.8 225.8,548.8 225.8,542.8 227.8,540.2 230.2,539.8 232.8,540.8 241.2,536.2 240.8,531.2 242.8,525.2 242.8,519.2 241.2,516.2 241.8,513.8 240.8,510.2 242.2,507.8 243.2,502.8 243.2,493.2 241.2,490.2 241.2,488.8 243.2,486.8 241.8,481.8 243.8,476.2 245.8,473.8 250.2,472.2 252.2,468.2 256.8,467.2 258.2,464.2 258.8,458.8 262.8,456.2 265.2,453.2 269.2,452.8 274.8,455.8 278.2,454.8 283.2,455.8 286.2,452.8 288.8,451.8 289.2,441.8 292.2,437.8 299.8,437.8 301.2,439.2 303.2,439.2 311.8,434.8 313.8,434.8 317.2,436.8 319.2,436.2 320.8,434.8 321.2,429.8 327.8,421.8 331.8,420.2 336.2,425.2 337.8,433.2 340.2,437.8 342.2,437.8 344.2,436.2 352.2,436.2 355.2,437.8 361.2,438.2 367.8,432.8 368.2,428.8 364.8,425.8 364.2,423.2 367.2,417.2 366.8,414.2 371.2,409.8 372.2,405.8 374.8,403.8 377.8,403.2 379.8,404.2 382.8,402.2 384.2,396.8 383.8,391.8 387.2,387.8 394.8,387.8 396.2,385.8 399.8,384.2 408.2,385.8 411.2,387.8 412.8,390.8 415.2,391.2 416.8,392.8 414.2,404.2 418.8,409.8 418.2,420.8 419.2,421.2 420.8,419.8 422.8,419.8 426.8,422.2 431.2,422.2 432.8,423.8 431.2,434.2 433.8,436.2 443.2,437.8 448.2,431.2 447.2,422.2 448.8,417.8 448.8,412.8 446.2,407.8 446.2,405.8 447.8,403.8 446.8,401.8 446.2,392.2 449.8,390.2 449.8,388.2 445.2,385.8 441.2,386.8 434.8,386.8 432.8,385.2 431.8,383.2 432.2,375.8 430.8,372.2 432.2,369.2 438.8,370.8 442.2,368.2 444.8,368.2 447.2,373.8 447.8,380.8 450.2,384.8 461.2,388.8 463.8,391.8 463.8,395.8 466.2,398.8 467.2,401.8 469.8,400.8 474.8,403.8 477.8,403.2 480.8,401.2 485.8,402.2 485.8,386.2 480.2,388.2 476.8,386.2 471.2,386.8 464.8,384.8 461.8,380.2 462.2,373.2 460.8,370.8 451.8,369.8 449.2,366.2 449.2,362.8 447.8,360.8 448.2,357.2 450.8,353.8 457.2,353.2 459.2,355.2 463.2,364.2 462.2,369.2 469.2,370.2 479.8,368.2 484.2,371.2 485.8,371.2 485.8,41.2 82.8,41.2 81.2,42.8 79.2,41.2 52.2,41.2 52.2,43.8 49.8,47.8 44.8,48.2 41.2,51.2 36.2,52.2 35.8,54.8 38.2,58.2 38.2,61.8 36.2,64.8 31.8,66.8 26.8,66.8 23.8,65.2 21.2,67.2ZM419.8,232.8 424.8,234.2 429.8,239.2 431.8,242.8 431.8,245.2 430.2,247.8 424.8,252.2 421.8,251.8 414.8,245.2 414.2,239.2 416.8,235.2ZM85.2,136.8 90.2,134.2 92.8,135.8 98.2,135.8 100.2,138.2 99.8,144.8 101.2,148.8 94.2,151.8 87.8,149.2 83.8,144.2Z" fill="url(#eg)" fill-rule="evenodd"/>
<path d="M66.8,151.8 65.2,150.2 59.2,150.2 54.8,152.8 46.8,150.8 41.2,151.8 37.8,157.8 36.8,164.2 34.8,167.2 29.8,167.2 21.8,170.2 23.2,179.2 21.2,184.2 22.2,185.2 25.2,185.2 28.8,182.8 33.8,182.2 36.2,183.2 44.2,183.8 47.2,185.2 53.8,184.8 57.2,185.8 61.8,182.8 66.8,183.2 69.8,178.8 69.2,174.2 70.8,171.2 70.8,169.2 68.2,165.8 69.8,162.2 69.8,158.8ZM428.2,41.2 210.8,41.2 211.2,43.8 209.2,46.8 206.2,49.2 201.8,50.2 194.8,49.2 190.8,51.2 188.8,51.2 186.2,49.2 181.2,50.8 176.2,50.8 172.2,49.2 167.2,51.2 161.2,50.8 157.2,52.2 150.8,51.2 146.8,56.2 147.8,62.2 144.8,66.8 133.2,66.8 125.8,69.2 121.2,67.2 117.8,67.2 113.2,64.8 108.8,68.8 104.8,69.2 102.2,71.2 100.8,75.2 100.8,79.8 98.8,81.8 93.8,84.8 89.2,84.8 86.2,87.2 84.2,94.8 79.2,101.2 71.8,100.2 69.8,101.8 68.8,104.2 69.8,114.2 74.8,115.2 77.2,116.8 82.8,116.8 85.2,118.8 86.2,123.2 84.8,130.8 86.2,132.8 90.8,132.8 92.8,135.2 105.2,133.2 110.2,136.8 115.2,136.2 117.2,139.2 116.2,147.2 119.2,150.8 118.2,152.8 115.8,153.8 116.8,165.2 116.2,176.2 117.8,178.8 117.2,182.8 118.2,185.2 117.8,197.2 116.8,199.2 117.8,205.2 116.2,207.2 116.2,216.2 117.8,220.8 114.8,226.2 114.2,230.8 117.2,235.2 117.2,243.2 115.8,246.8 115.2,251.2 117.8,253.8 118.2,256.2 116.8,257.8 117.2,262.2 113.2,268.8 109.2,268.8 105.8,271.8 102.8,271.2 102.2,272.2 103.2,275.2 97.8,283.2 95.2,284.2 92.2,283.8 88.8,285.8 81.8,285.2 77.2,286.2 74.2,285.2 67.8,291.2 69.8,296.8 68.2,302.8 69.8,311.8 69.2,317.8 70.8,320.2 70.8,322.2 69.2,324.8 69.2,329.8 67.2,332.2 67.8,335.2 70.2,339.2 70.2,342.8 67.2,346.8 68.2,348.8 72.2,351.8 72.2,357.2 68.8,359.8 68.2,369.8 70.8,372.8 69.2,382.8 71.2,389.8 70.2,392.2 67.2,395.2 67.8,401.8 62.2,405.2 57.2,405.2 52.8,410.8 52.8,413.8 55.2,422.2 55.2,424.8 53.2,428.2 53.2,434.8 51.2,436.2 45.2,437.2 41.2,436.8 38.2,440.8 38.2,446.2 37.2,449.2 38.8,453.8 37.2,456.8 37.2,464.2 35.8,471.8 33.2,473.2 28.8,471.8 24.2,471.8 21.2,474.2 21.8,477.8 23.2,479.8 23.2,483.2 21.2,489.8 23.8,493.2 25.2,499.8 22.8,501.8 21.2,504.8 16.8,507.2 13.2,506.8 13.2,548.8 23.8,548.8 22.8,544.2 24.8,540.2 26.8,538.2 31.8,538.8 36.8,535.8 36.2,531.2 37.2,529.8 37.2,522.8 35.8,519.2 37.2,517.2 38.8,511.8 38.2,506.8 39.2,505.8 43.2,505.8 49.8,502.8 52.2,502.8 53.8,500.8 52.8,495.2 54.8,489.2 55.8,488.2 64.8,487.8 68.8,484.2 69.8,479.8 68.2,478.2 67.2,474.8 67.2,468.8 68.8,463.2 67.2,459.8 71.8,455.2 79.8,455.2 83.2,453.2 83.8,451.2 81.2,444.2 84.8,436.8 83.2,431.2 86.2,424.2 87.8,422.8 91.8,422.8 100.8,414.2 101.8,412.2 101.8,408.8 103.2,406.8 109.2,403.2 114.2,403.8 116.2,401.8 118.2,394.8 116.2,391.8 116.8,381.8 117.8,379.2 116.2,371.8 122.2,371.8 126.8,367.8 129.2,363.2 133.2,362.8 131.8,359.8 131.2,351.2 133.8,345.2 132.8,340.8 135.2,338.8 139.8,336.8 145.8,337.8 147.8,339.8 148.8,342.8 148.8,346.2 146.8,349.8 146.8,352.2 147.8,353.2 155.8,352.2 159.8,353.8 163.2,353.8 165.2,351.8 172.8,351.8 174.8,352.8 179.2,357.2 177.8,360.2 177.8,363.8 178.8,366.8 187.8,369.8 194.8,368.8 200.8,371.2 206.8,368.8 214.8,370.2 224.2,370.2 226.8,371.2 228.2,373.8 228.2,377.2 226.8,379.8 226.8,382.2 227.8,385.2 229.8,386.2 234.8,386.2 242.8,383.8 243.2,379.8 242.2,375.2 244.2,372.2 253.2,367.2 257.8,368.2 259.2,366.8 259.8,363.8 258.2,360.8 258.8,359.2 263.2,354.8 266.8,353.2 269.8,353.2 273.2,350.8 275.2,345.2 275.2,339.2 277.2,336.8 281.2,334.2 283.2,334.8 290.2,341.8 289.8,348.8 290.8,350.8 295.8,354.8 298.8,351.8 300.8,351.8 306.2,355.2 307.8,355.2 310.8,353.2 313.8,354.8 318.2,355.2 328.8,351.2 333.2,353.2 334.8,353.2 337.2,351.2 337.2,340.8 334.2,337.8 330.2,336.2 327.8,336.2 326.2,337.8 323.2,337.2 323.2,333.2 320.2,329.2 320.2,326.2 321.8,322.8 319.8,316.8 320.2,306.8 323.8,301.2 321.2,297.2 321.2,292.2 322.2,289.8 327.2,286.2 330.8,287.2 334.2,286.8 336.2,287.8 338.2,287.8 342.2,284.8 344.8,284.8 348.2,286.2 349.2,285.8 351.2,281.2 350.8,273.8 353.2,270.2 351.8,256.8 350.2,254.2 340.8,253.2 338.2,251.8 336.8,248.2 336.8,236.8 338.2,235.2 343.8,233.8 349.2,233.8 353.8,229.2 353.8,226.2 356.8,220.8 364.2,215.8 366.8,215.8 372.2,218.8 375.8,218.8 377.8,219.8 381.2,219.8 382.2,218.2 382.2,214.2 384.8,211.2 384.8,207.8 382.8,201.8 378.2,199.8 372.8,202.2 370.2,200.2 369.2,198.2 369.8,193.8 365.8,184.2 367.8,176.2 367.2,169.2 368.2,166.8 367.8,159.8 366.2,156.8 366.2,154.2 368.8,151.2 367.2,136.2 368.8,134.8 371.2,135.8 378.2,134.8 384.8,129.8 383.2,123.2 386.8,115.2 387.2,110.8 384.2,107.8 384.2,103.2 386.8,100.2 394.2,98.8 397.8,96.2 398.8,92.8 399.2,79.8 400.2,78.2 399.2,75.2 399.8,70.2 401.2,68.2 404.8,66.8 407.2,66.8 409.8,69.2 411.8,69.2 411.8,65.2 416.8,58.2 416.8,52.2 418.8,50.2 426.8,50.2 432.2,47.8 432.2,46.8 428.8,44.2ZM307.8,217.8 319.2,219.8 322.2,222.2 322.8,225.8 321.8,230.8 319.8,234.2 315.2,235.8 310.2,235.8 308.2,233.8 307.8,231.8 304.2,227.2 306.2,219.2Z" fill="url(#eh)" fill-rule="evenodd"/>
<path d="M86.2,337.8 84.2,339.8 84.2,346.2 88.8,351.2 90.8,352.2 99.2,353.2 100.2,351.8 100.8,346.8 100.2,339.2 95.8,337.2ZM428.2,41.2 210.8,41.2 211.2,43.8 207.8,48.2 198.2,51.2 196.8,52.8 198.2,57.2 194.8,60.2 193.8,64.8 190.2,67.2 183.2,65.2 178.2,59.8 179.2,54.8 174.2,50.2 171.2,49.8 166.2,52.8 164.2,55.2 163.8,61.2 158.8,68.2 157.2,68.2 154.8,66.2 146.2,67.8 141.2,66.2 137.2,66.8 133.2,69.8 133.2,78.2 129.8,82.8 121.2,84.2 117.2,81.8 113.8,81.8 102.8,85.8 101.2,93.2 101.8,96.2 104.2,98.2 107.8,98.8 109.2,101.2 113.8,100.8 114.8,101.8 116.2,107.2 115.8,115.8 118.8,118.8 118.8,121.8 115.8,128.2 116.2,131.2 118.2,132.8 122.2,133.2 125.8,135.8 129.2,136.2 133.8,142.2 134.8,147.2 136.8,149.2 141.8,149.8 147.2,154.2 148.2,159.8 146.2,162.8 146.2,165.2 148.8,173.8 147.8,183.8 146.8,185.8 148.8,196.8 148.8,204.8 147.2,207.2 147.2,209.8 148.8,212.8 148.8,217.2 147.8,218.8 147.8,230.8 145.8,234.2 142.2,236.8 136.2,236.2 132.2,241.2 133.8,244.8 132.2,257.2 133.2,263.2 131.8,275.2 135.2,278.2 135.8,280.2 128.2,286.2 125.2,286.2 123.8,285.2 121.8,285.8 120.8,288.2 115.2,292.8 115.8,297.8 114.8,300.2 112.8,302.2 103.2,305.2 102.2,306.8 102.2,309.2 100.8,312.2 101.8,315.8 101.2,320.8 102.2,322.2 102.2,336.2 111.2,335.8 113.2,334.8 115.2,331.2 115.8,322.2 120.8,318.8 127.8,318.8 129.2,319.8 132.2,327.8 131.8,333.2 133.8,335.8 136.2,336.8 140.2,336.8 150.2,334.2 157.2,335.2 162.8,340.2 164.8,346.8 168.8,351.8 173.2,351.2 178.2,352.2 178.2,341.2 182.8,337.2 189.8,336.2 193.8,339.2 194.2,342.8 195.8,345.2 195.8,349.2 197.2,351.2 203.8,354.2 207.2,352.2 209.8,353.8 211.2,356.8 210.8,359.2 212.8,362.8 211.8,366.2 214.2,369.2 219.2,370.2 227.8,368.8 231.2,370.2 234.8,370.2 237.2,368.8 240.8,368.8 241.8,366.8 240.2,365.2 239.8,362.8 242.2,360.2 242.8,355.2 244.2,354.2 254.8,353.2 257.8,348.2 256.8,341.8 246.2,335.8 238.8,336.2 236.2,334.8 234.2,334.8 227.8,339.8 227.2,346.8 220.8,353.8 217.2,353.8 213.2,352.2 210.8,350.2 213.8,345.2 211.2,340.2 212.2,331.8 210.2,325.8 210.8,323.2 213.8,320.8 224.8,317.2 225.8,314.2 229.2,311.8 227.2,308.8 227.2,305.8 230.8,301.8 232.2,301.2 237.8,302.2 242.2,307.2 243.2,315.8 246.2,319.2 252.8,320.2 255.2,318.8 261.8,318.2 265.2,320.8 267.2,320.8 274.2,317.2 274.2,315.8 271.8,313.2 272.8,310.2 271.8,304.8 275.2,301.2 275.2,296.2 272.2,289.2 275.8,285.8 280.8,285.8 284.8,287.2 289.8,286.2 291.8,287.8 300.2,285.8 302.2,284.2 304.2,278.8 306.2,276.8 304.8,270.2 305.2,265.8 303.8,263.2 303.2,257.2 293.2,249.8 291.2,250.2 287.8,253.8 280.2,252.8 276.8,250.2 272.2,242.2 272.8,239.8 275.2,236.8 274.8,228.2 275.8,223.8 274.8,221.2 276.2,219.8 282.8,217.8 288.2,211.8 289.8,207.2 289.2,198.8 291.8,195.2 290.8,185.8 287.8,183.8 287.8,181.2 289.8,178.8 290.2,171.8 293.2,168.8 297.2,166.8 302.2,166.8 309.8,165.2 315.2,168.8 317.2,168.8 319.8,170.8 321.8,175.2 320.2,181.8 318.2,183.8 312.8,186.2 306.8,186.2 304.2,188.8 303.8,193.8 306.2,199.2 305.8,201.8 306.8,204.2 305.8,207.2 306.2,214.2 314.8,218.8 327.2,219.8 333.8,219.2 335.8,214.8 337.8,212.8 337.8,206.8 339.8,203.2 341.8,201.2 345.2,202.8 348.2,202.2 349.2,200.8 349.8,196.2 353.2,192.2 351.8,184.2 353.2,181.8 353.8,173.8 358.2,170.2 359.2,167.2 362.2,166.8 367.8,161.2 366.2,157.2 366.2,154.2 368.8,151.2 367.2,136.2 368.8,134.8 371.2,135.8 378.2,134.8 384.8,129.8 383.2,123.2 386.8,115.2 387.2,110.8 384.2,107.8 384.2,103.2 386.8,100.2 394.2,98.8 397.8,96.2 398.8,92.8 399.2,79.8 400.2,78.2 399.2,75.2 400.2,69.2 403.2,67.2 407.2,66.8 411.2,69.8 412.2,68.2 411.8,65.2 416.8,58.2 416.8,52.2 418.8,50.2 426.8,50.2 432.2,47.8 432.2,46.8 428.8,44.2Z" fill="url(#el)" fill-rule="evenodd"/>
<path d="M255.2,340.2 246.2,335.8 238.8,336.2 236.2,334.8 233.2,335.2 227.8,339.8 227.2,347.2 224.8,351.2 225.2,359.8 226.8,364.2 229.8,368.8 232.2,369.8 240.8,368.8 241.8,366.8 240.2,365.2 239.8,362.8 242.2,360.2 242.8,355.2 244.2,354.2 254.8,353.2 257.8,348.2 257.8,345.2 256.8,341.8ZM306.8,186.2 304.8,187.8 303.8,190.8 303.8,193.8 306.2,199.2 306.2,214.2 310.8,217.2 315.2,218.8 318.2,218.2 320.8,216.2 323.2,208.8 322.2,202.8 320.8,200.2 321.2,196.2 323.2,193.2 322.8,191.8 320.2,189.8 320.2,186.8 318.2,185.2 314.8,185.2 311.2,186.8ZM428.2,41.2 258.2,41.2 258.8,44.2 253.2,49.2 248.2,49.8 245.2,48.8 243.8,50.2 242.8,55.2 241.2,57.8 242.8,62.2 242.8,64.2 241.2,65.8 235.2,67.8 227.2,67.2 226.2,68.2 225.8,77.2 224.2,81.2 220.2,84.8 216.8,84.2 214.8,85.2 213.8,90.2 209.8,93.8 211.2,102.2 207.8,106.2 208.8,113.2 207.2,117.2 205.2,118.8 198.8,117.8 197.2,116.8 196.8,112.8 194.8,108.8 191.8,106.2 192.8,103.2 192.2,101.2 189.8,101.2 186.2,98.8 180.2,99.2 178.8,97.8 178.8,93.8 180.2,89.8 179.8,87.2 171.2,83.8 168.8,83.8 166.2,85.8 162.8,84.8 153.8,85.2 148.2,89.2 147.8,91.8 149.8,94.2 149.8,96.2 147.2,99.8 148.8,102.2 148.2,107.2 149.8,110.2 149.2,117.8 152.2,120.2 151.8,125.8 148.8,128.8 148.8,130.8 158.8,134.2 162.2,137.2 162.8,140.8 161.8,142.2 161.8,144.8 164.2,148.8 164.2,154.2 165.8,158.2 163.8,167.8 165.2,171.8 165.2,174.8 163.8,176.8 164.8,187.2 162.2,191.2 162.2,199.8 163.8,203.2 164.2,211.2 162.2,215.2 163.2,218.8 162.8,227.8 164.8,230.8 164.2,238.2 161.8,241.8 163.2,247.2 159.2,253.8 157.2,253.8 156.2,252.8 150.8,253.8 149.2,255.2 147.2,260.8 147.2,263.8 148.8,267.8 148.2,275.8 147.2,277.2 147.8,284.2 146.2,286.2 146.2,289.8 147.8,293.2 147.2,297.8 151.2,301.8 151.2,304.2 147.2,307.2 147.2,310.2 149.2,314.2 148.8,327.8 147.8,329.2 147.8,331.2 149.2,332.8 158.2,335.2 160.2,336.8 166.8,336.8 171.8,333.8 179.8,337.2 187.8,335.8 193.2,337.2 209.8,336.2 211.8,333.8 210.2,325.8 210.8,323.2 213.8,320.8 224.8,317.2 225.8,314.2 229.2,311.8 227.2,308.8 227.2,305.8 230.8,301.8 236.8,301.2 241.2,303.2 243.2,301.2 245.2,301.2 249.2,302.8 253.8,302.8 258.2,298.8 258.8,290.8 260.8,288.2 265.2,289.2 268.2,285.8 272.8,285.8 275.2,284.2 286.2,286.8 289.8,281.8 289.8,279.2 288.8,277.8 289.8,273.2 294.2,268.8 295.2,266.2 297.2,265.8 299.8,270.2 301.2,271.2 301.8,270.8 301.2,265.8 303.8,260.8 303.8,258.2 302.2,256.2 293.2,249.8 291.2,250.2 287.8,253.8 280.2,252.8 276.8,250.2 272.2,242.2 272.8,239.8 275.2,236.8 274.8,228.2 275.8,223.8 274.8,221.2 276.2,219.8 282.8,217.8 288.2,211.8 289.8,207.2 289.2,198.8 291.8,195.2 290.8,185.8 287.8,183.8 287.8,180.8 289.8,178.8 289.2,161.8 291.8,157.2 290.2,153.8 291.2,150.2 289.8,143.2 290.2,132.8 287.8,127.8 288.8,125.8 288.2,120.8 292.8,115.8 298.2,117.8 302.8,116.8 303.8,109.2 308.2,104.8 308.8,102.8 315.8,99.8 318.2,100.2 321.8,104.2 322.2,113.2 319.2,123.8 321.8,126.2 322.2,128.8 317.8,133.8 315.8,133.8 313.8,132.2 310.8,133.2 305.2,139.2 304.2,141.2 304.8,148.2 307.2,149.8 308.8,152.2 307.8,157.8 305.8,161.2 314.8,168.2 317.8,168.2 322.8,166.2 331.2,167.8 339.2,165.8 342.2,167.8 346.2,166.2 349.2,166.8 353.8,170.2 356.2,170.2 358.2,166.2 360.8,167.2 362.2,166.8 367.8,161.2 366.2,157.2 366.2,154.2 368.8,151.2 367.2,136.2 368.8,134.8 371.2,135.8 378.2,134.8 384.8,129.8 383.2,123.2 386.8,115.2 387.2,110.8 384.2,107.8 384.2,103.2 386.8,100.2 394.2,98.8 397.8,96.2 398.8,92.8 399.2,79.8 400.2,78.2 399.2,75.2 400.2,69.2 403.2,67.2 407.2,66.8 411.2,69.8 412.2,68.2 411.8,65.2 416.8,58.2 416.8,52.2 418.8,50.2 426.8,50.2 432.2,47.8 432.2,46.8 428.8,44.2ZM272.2,152.2 274.2,156.2 272.8,159.8 272.8,163.8 264.2,166.8 260.8,166.2 258.2,162.8 258.2,158.2 259.2,156.2 261.8,153.8 267.2,151.2ZM330.2,81.2 333.8,82.2 336.8,85.8 336.8,91.8 334.8,95.2 334.8,100.2 333.8,101.2 330.8,98.8 326.2,98.8 324.8,95.8 321.8,94.2 324.2,89.8 324.2,85.8Z" fill="url(#eb)" fill-rule="evenodd"/>
<path d="M181.8,287.2 180.8,288.2 179.2,307.2 180.2,311.8 181.2,331.8 182.2,335.2 188.8,335.8 193.2,337.2 210.8,335.8 211.8,330.8 209.8,324.2 210.8,321.2 210.2,314.2 212.2,312.2 212.2,309.8 208.2,306.8 208.8,303.2 207.8,302.2 202.2,302.2 196.8,299.8 192.2,292.8 193.2,289.8 192.8,287.2ZM153.2,252.8 149.2,255.2 147.2,261.8 148.2,264.8 150.8,267.2 156.2,268.2 159.8,265.8 162.8,265.2 163.2,258.2 161.8,255.8 155.2,252.8ZM187.2,236.2 183.2,238.8 179.2,242.8 178.8,244.8 184.8,251.8 188.8,252.8 193.8,249.8 195.2,246.8 193.2,239.8ZM253.2,235.8 249.8,235.8 245.8,239.8 242.8,240.2 242.8,246.2 240.2,249.8 236.8,249.8 232.8,252.8 225.8,253.8 225.8,261.8 227.8,269.8 227.8,272.8 226.2,275.8 227.2,281.2 226.8,286.8 228.8,289.2 226.8,298.2 227.8,301.2 238.2,300.8 239.2,299.8 241.8,290.2 247.2,285.2 253.2,285.2 256.2,286.8 261.2,286.2 265.2,288.8 267.8,285.8 271.2,285.2 272.8,283.8 275.2,271.8 273.8,266.8 271.2,263.8 271.2,261.8 273.8,258.8 274.2,255.8 267.8,253.2 261.2,252.2 258.8,247.2 259.2,241.2 255.2,236.8ZM428.2,41.2 353.8,41.2 352.2,44.8 353.8,61.2 349.8,66.8 345.2,66.2 337.8,69.2 336.8,74.2 334.8,77.8 337.8,83.2 337.2,90.8 334.8,95.2 334.8,100.2 333.8,101.2 329.8,98.8 321.8,101.2 322.2,113.2 319.2,123.8 321.8,126.2 322.2,128.8 317.8,133.8 312.8,132.2 308.8,134.8 304.2,141.2 305.2,147.2 306.2,148.2 310.2,148.8 313.8,152.2 318.2,151.8 321.8,157.8 321.8,162.2 323.2,164.8 327.8,167.2 333.2,166.8 334.2,165.8 334.8,161.8 337.2,158.8 337.8,154.8 341.2,152.2 349.8,150.8 350.8,149.8 352.8,138.2 358.2,133.8 362.2,132.8 367.2,128.2 369.2,122.2 368.2,119.2 371.8,115.2 374.8,115.2 379.8,117.2 386.2,114.8 386.8,110.8 384.2,107.8 383.8,105.2 384.8,102.2 386.8,100.2 391.2,99.8 397.2,97.2 398.2,94.8 399.2,79.8 400.2,78.2 399.2,72.8 400.2,69.2 403.2,67.2 407.2,66.8 411.2,69.8 412.2,68.2 411.8,65.2 416.8,58.2 416.8,52.2 418.8,50.2 426.8,50.2 432.2,47.8 432.2,46.8 428.8,44.2ZM350.2,66.8 352.8,68.2 353.2,69.2 352.2,70.8 349.8,69.2ZM340.2,41.2 274.8,41.2 273.8,44.2 270.2,48.2 266.8,49.8 261.8,50.2 258.2,53.8 256.8,58.8 258.2,61.2 257.8,65.2 260.2,71.2 260.2,74.2 259.2,76.8 256.2,79.8 254.8,80.2 251.8,83.8 245.2,84.8 242.8,81.8 241.2,81.2 237.2,82.2 234.2,84.2 228.2,84.2 226.8,85.2 225.2,91.2 227.8,96.2 228.2,101.2 223.8,105.2 225.2,110.2 220.2,116.2 214.8,117.2 213.8,118.8 214.2,121.2 213.2,123.2 210.2,125.2 210.8,128.8 212.8,131.8 212.8,134.2 210.8,138.8 212.2,142.2 212.2,144.8 211.2,146.8 211.8,157.2 209.8,164.2 209.8,166.8 211.8,170.8 210.2,178.2 210.8,181.8 221.8,183.2 222.8,184.2 222.2,186.8 225.2,193.8 227.8,196.2 231.8,197.8 235.2,201.2 240.8,203.2 242.2,204.8 241.8,209.8 244.2,213.2 245.2,217.8 250.8,218.8 254.8,216.8 257.8,219.8 261.2,218.8 268.8,219.8 272.2,217.8 281.2,218.2 283.2,217.2 288.8,210.8 289.8,207.2 289.2,198.8 291.8,195.2 290.2,187.8 284.8,185.2 271.8,183.8 268.2,185.2 265.2,184.8 258.2,177.8 255.2,168.2 254.2,167.2 248.2,166.8 246.2,165.8 241.8,160.8 239.2,154.8 239.8,146.8 242.8,142.2 241.8,133.2 240.2,129.2 242.2,125.8 244.2,123.8 246.2,123.2 246.2,117.2 247.2,116.2 252.8,116.8 253.8,115.8 253.8,111.2 259.2,106.8 261.2,102.2 264.2,100.2 268.8,101.8 273.2,99.2 286.8,99.8 290.8,93.8 290.2,88.2 299.2,82.8 304.2,82.8 305.2,81.2 305.8,73.2 307.2,70.2 309.2,68.2 316.2,65.2 319.8,62.2 320.8,55.8 322.8,51.2 324.8,49.2 328.2,47.8 333.2,48.8 336.8,47.2Z" fill="url(#ec)" fill-rule="evenodd"/>
<path d="M181.2,303.8 179.8,305.2 181.2,331.8 182.2,335.2 188.8,335.8 193.2,337.2 210.8,335.8 211.8,330.8 208.2,320.2 207.2,319.2 200.2,320.2 197.2,318.2 194.8,314.8 194.8,304.8 189.2,304.2 186.2,302.8ZM274.2,255.8 267.2,253.2 262.8,254.2 258.8,258.2 256.8,266.8 255.2,268.8 249.2,267.8 247.2,271.2 242.8,271.8 241.8,272.8 241.2,275.2 242.2,282.8 243.8,284.2 247.8,284.2 249.2,285.2 252.2,285.2 255.8,283.8 258.2,279.8 257.8,271.8 263.2,268.8 271.2,268.8 271.8,266.2 270.8,264.8 270.8,262.2 273.8,258.8ZM289.8,187.2 284.8,185.2 271.8,183.8 268.2,185.2 261.8,184.2 259.8,187.8 259.8,193.8 261.8,198.2 261.2,204.2 259.2,207.2 259.2,211.2 262.2,217.8 266.2,219.8 268.8,219.8 272.2,217.8 281.2,218.2 285.2,215.2 288.8,210.8 289.8,207.2 289.2,198.8 291.8,195.2 291.8,192.2ZM232.8,117.2 226.8,120.8 225.8,135.8 227.8,149.8 226.2,153.2 225.8,160.2 226.8,162.2 230.8,163.2 232.8,166.2 240.2,166.8 242.2,165.2 242.2,163.2 239.2,154.8 239.8,146.8 242.8,142.2 241.8,133.2 240.2,129.2 243.8,122.2 239.2,120.8 235.8,117.8Z" fill="url(#eB)" fill-rule="evenodd"/>
<path d="M265.2,202.8 259.8,207.2 259.2,211.2 260.8,213.2 261.2,216.8 266.2,219.8 267.8,219.8 274.8,213.8 272.2,211.2 271.8,205.2 269.8,203.2ZM234.2,132.2 231.8,134.8 228.2,134.8 226.8,136.2 226.2,143.2 227.8,146.2 227.8,149.8 226.2,153.2 225.8,160.2 226.8,162.2 230.8,163.2 232.8,166.2 240.2,166.8 242.2,165.2 242.2,163.2 239.2,154.8 239.8,146.8 242.8,142.2 242.8,140.2 239.8,135.2Z" fill="#2a3cff" fill-rule="evenodd"/><path d="M27.5,187.0 L36.5,184.4 L47.1,190.6 L56.1,194.2 L66.8,201.4 L68.6,212.0 L61.5,214.8 L54.2,219.2 L47.1,215.6 L38.2,210.2 L31.1,201.4 Z" fill="#fafafa"/><path d="M31.4,189.8 L38.6,187.7 L47.1,192.7 L54.3,195.6 L62.8,201.3 L64.3,209.8 L58.6,212.0 L52.8,215.6 L47.1,212.7 L40.0,208.4 L34.3,201.3 Z" fill="#000"/></g>
</g>
<line x1="13" y1="49.5" x2="486" y2="49.5" class="dot"/>
<line x1="13" y1="134" x2="486" y2="134" class="dot"/>
<line x1="13" y1="218.6" x2="486" y2="218.6" class="dot"/>
<line x1="13" y1="303.1" x2="486" y2="303.1" class="dot"/>
<line x1="13" y1="387.7" x2="486" y2="387.7" class="dot"/>
<line x1="13" y1="472.2" x2="486" y2="472.2" class="dot"/>
<line x1="53.4" y1="41" x2="53.4" y2="549" class="dot"/>
<line x1="132.2" y1="41" x2="132.2" y2="549" class="dot"/>
<line x1="211" y1="41" x2="211" y2="549" class="dot"/>
<line x1="289.8" y1="41" x2="289.8" y2="549" class="dot"/>
<line x1="368.6" y1="41" x2="368.6" y2="549" class="dot"/>
<line x1="447.4" y1="41" x2="447.4" y2="549" class="dot"/>
<path d="M13.00,50.24 L32.71,64.90 L52.42,79.63 L72.12,94.41 L91.83,109.26 L111.54,124.17 L131.25,139.14 L150.96,154.18 L170.67,169.28 L190.38,184.44 L210.08,199.66 L229.79,214.95 L249.50,230.30 L269.21,245.71 L288.92,261.18 L308.62,276.72 L328.33,292.32 L348.04,307.98 L367.75,323.71 L387.46,339.49 L407.17,355.34 L426.88,371.26 L446.58,387.23 L466.29,403.27 L486.00,419.37" class="sw" style="stroke-dasharray:12.1 11.45"/>
<path d="M13.00,164.53 L32.71,179.31 L52.42,194.15 L72.12,209.06 L91.83,224.02 L111.54,239.04 L131.25,254.12 L150.96,269.26 L170.67,284.46 L190.38,299.73 L210.08,315.05 L229.79,330.43 L249.50,345.87 L269.21,361.37 L288.92,376.94 L308.62,392.56 L328.33,408.24 L348.04,423.98 L367.75,439.79 L387.46,455.65 L407.17,471.57 L426.88,487.55 L446.58,503.59 L466.29,519.70 L486.00,535.86" class="sw" style="stroke-dasharray:12.1 11.4"/>
<path d="M13,165.2 L32.2,160.7 L39,156.8 L49.1,155.9 L62.7,151.7 L72.8,144.9 L76.2,138.1 L83,135.1 L91.5,136.4 L96.6,139.3 L103.7,140.7 L102.5,149.1 L98.3,157.6 L96.6,166.1 L99.1,172 L97.4,181.3 L98.3,191.5 L96.6,199.1 L94,200.8 L89.8,203.3 L88.1,211.8 L88.1,218.6 L86.4,228.7 L85.6,240.6 L83,247.4 L78.8,253.3 L74.5,261 L69.5,266 L66.9,272.8 L64.4,279.6 L60.1,286.4 L57.6,294 L52.5,298.2 L47.4,303.3 L45.7,313.5 L40.7,325.3 L30.5,340.6 L22,355.8 L16.9,369.4 L16.1,379.5 L13,386.3" class="coast"/>
<path d="M94,200.8 L100.8,195.7 L109.3,200 L106.7,202.5 L100.8,200.8 L96,201.5 Z" class="coast"/>
<text x="231.9" y="49.8" class="ll">14</text>
<text x="231.9" y="134.3" class="ll">12</text>
<text x="231.9" y="218.9" class="ll">10</text>
<text x="231.9" y="303.4" class="ll">8</text>
<text x="231.9" y="388" class="ll">6</text>
<text x="231.9" y="472.5" class="ll">4</text>
<text x="54.1" y="281.7" class="ll">50</text>
<text x="132.9" y="281.7" class="ll">52</text>
<text x="211.7" y="281.7" class="ll">54</text>
<text x="290.5" y="281.7" class="ll">56</text>
<text x="369.3" y="281.7" class="ll">58</text>
<text x="448.1" y="281.7" class="ll">60</text>
<path d="M243,292.2h12.8v4.6h-12.8z M247.3,288.2h4.5v12.6h-4.5z" fill="#000"/>
<text x="36.8" y="66" class="ttl">&#160;37GHz PCT (K)</text>
<text x="438.2" y="522.8" class="let">(e)</text>
<rect x="495.3" y="531.6" width="8.6" height="8.8" fill="#f4f4f4"/>
<rect x="495.3" y="523.1" width="8.6" height="8.8" fill="#ececec"/>
<rect x="495.3" y="514.7" width="8.6" height="8.8" fill="#e4e4e4"/>
<rect x="495.3" y="506.2" width="8.6" height="8.8" fill="#dcdcdc"/>
<rect x="495.3" y="497.8" width="8.6" height="8.8" fill="#d5d5d5"/>
<rect x="495.3" y="489.3" width="8.6" height="8.8" fill="#cdcdcd"/>
<rect x="495.3" y="480.9" width="8.6" height="8.8" fill="#c5c5c5"/>
<rect x="495.3" y="472.4" width="8.6" height="8.8" fill="#bdbdbd"/>
<rect x="495.3" y="463.9" width="8.6" height="8.8" fill="#b5b5b5"/>
<rect x="495.3" y="455.5" width="8.6" height="8.8" fill="#adadad"/>
<rect x="495.3" y="447" width="8.6" height="8.8" fill="#a6a6a6"/>
<rect x="495.3" y="438.6" width="8.6" height="8.8" fill="#9e9e9e"/>
<rect x="495.3" y="430.1" width="8.6" height="8.8" fill="#969696"/>
<rect x="495.3" y="421.7" width="8.6" height="8.8" fill="#8e8e8e"/>
<rect x="495.3" y="413.2" width="8.6" height="8.8" fill="#80e088"/>
<rect x="495.3" y="404.7" width="8.6" height="8.8" fill="#78d880"/>
<rect x="495.3" y="396.3" width="8.6" height="8.8" fill="#70c874"/>
<rect x="495.3" y="387.8" width="8.6" height="8.8" fill="#6cc070"/>
<rect x="495.3" y="379.4" width="8.6" height="8.8" fill="#68b868"/>
<rect x="495.3" y="370.9" width="8.6" height="8.8" fill="#d0d8ff"/>
<rect x="495.3" y="362.5" width="8.6" height="8.8" fill="#b0c8ff"/>
<rect x="495.3" y="354" width="8.6" height="8.8" fill="#98c0ff"/>
<rect x="495.3" y="345.6" width="8.6" height="8.8" fill="#80b8ff"/>
<rect x="495.3" y="337.1" width="8.6" height="8.8" fill="#60b0ff"/>
<rect x="495.3" y="328.6" width="8.6" height="8.8" fill="#4aa8ff"/>
<rect x="495.3" y="320.2" width="8.6" height="8.8" fill="#4090ff"/>
<rect x="495.3" y="311.7" width="8.6" height="8.8" fill="#4070ff"/>
<rect x="495.3" y="303.3" width="8.6" height="8.8" fill="#3a55ff"/>
<rect x="495.3" y="294.8" width="8.6" height="8.8" fill="#2a2aff"/>
<rect x="495.3" y="286.4" width="8.6" height="8.8" fill="#0000ff"/>
<rect x="495.3" y="277.9" width="8.6" height="8.8" fill="#0000f0"/>
<rect x="495.3" y="269.5" width="8.6" height="8.8" fill="#0000e0"/>
<rect x="495.3" y="261" width="8.6" height="8.8" fill="#0000cc"/>
<rect x="495.3" y="252.5" width="8.6" height="8.8" fill="#0000c0"/>
<rect x="495.3" y="244.1" width="8.6" height="8.8" fill="#ffff00"/>
<rect x="495.3" y="235.6" width="8.6" height="8.8" fill="#ffff00"/>
<rect x="495.3" y="227.2" width="8.6" height="8.8" fill="#ffe800"/>
<rect x="495.3" y="218.7" width="8.6" height="8.8" fill="#ffe000"/>
<rect x="495.3" y="210.3" width="8.6" height="8.8" fill="#ffcc00"/>
<rect x="495.3" y="201.8" width="8.6" height="8.8" fill="#ff8c00"/>
<rect x="495.3" y="193.3" width="8.6" height="8.8" fill="#ff8400"/>
<rect x="495.3" y="184.9" width="8.6" height="8.8" fill="#ff8000"/>
<rect x="495.3" y="176.4" width="8.6" height="8.8" fill="#ff7400"/>
<rect x="495.3" y="168" width="8.6" height="8.8" fill="#ff6a00"/>
<rect x="495.3" y="159.5" width="8.6" height="8.8" fill="#ff3a00"/>
<rect x="495.3" y="151.1" width="8.6" height="8.8" fill="#ff3000"/>
<rect x="495.3" y="142.6" width="8.6" height="8.8" fill="#ff2a00"/>
<rect x="495.3" y="134.2" width="8.6" height="8.8" fill="#ff2000"/>
<rect x="495.3" y="125.7" width="8.6" height="8.8" fill="#ff1400"/>
<rect x="495.3" y="117.2" width="8.6" height="8.8" fill="#c40000"/>
<rect x="495.3" y="108.8" width="8.6" height="8.8" fill="#bc0000"/>
<rect x="495.3" y="100.3" width="8.6" height="8.8" fill="#b00000"/>
<rect x="495.3" y="91.9" width="8.6" height="8.8" fill="#a40800"/>
<rect x="495.3" y="83.4" width="8.6" height="8.8" fill="#9c0800"/>
<rect x="495.3" y="75" width="8.6" height="8.8" fill="#600c08"/>
<rect x="495.3" y="66.5" width="8.6" height="8.8" fill="#5e0e0c"/>
<rect x="495.3" y="58.1" width="8.6" height="8.8" fill="#5c120f"/>
<rect x="495.3" y="49.6" width="8.6" height="8.8" fill="#5a1412"/>
<rect x="495.3" y="41.1" width="8.6" height="8.8" fill="#5a1a16"/>
<line x1="503.9" y1="548.5" x2="506.5" y2="548.5" stroke="#000" stroke-width="1"/>
<text x="525" y="556.4" class="cb">315</text>
<line x1="503.9" y1="497.8" x2="506.5" y2="497.8" stroke="#000" stroke-width="1"/>
<text x="525" y="505.7" class="cb">306</text>
<line x1="503.9" y1="447" x2="506.5" y2="447" stroke="#000" stroke-width="1"/>
<text x="525" y="454.9" class="cb">297</text>
<line x1="503.9" y1="396.3" x2="506.5" y2="396.3" stroke="#000" stroke-width="1"/>
<text x="525" y="404.2" class="cb">288</text>
<line x1="503.9" y1="345.6" x2="506.5" y2="345.6" stroke="#000" stroke-width="1"/>
<text x="525" y="353.5" class="cb">279</text>
<line x1="503.9" y1="294.8" x2="506.5" y2="294.8" stroke="#000" stroke-width="1"/>
<text x="525" y="302.7" class="cb">270</text>
<line x1="503.9" y1="244.1" x2="506.5" y2="244.1" stroke="#000" stroke-width="1"/>
<text x="525" y="252" class="cb">261</text>
<line x1="503.9" y1="193.3" x2="506.5" y2="193.3" stroke="#000" stroke-width="1"/>
<text x="525" y="201.2" class="cb">252</text>
<line x1="503.9" y1="142.6" x2="506.5" y2="142.6" stroke="#000" stroke-width="1"/>
<text x="525" y="150.5" class="cb">243</text>
<line x1="503.9" y1="91.9" x2="506.5" y2="91.9" stroke="#000" stroke-width="1"/>
<text x="525" y="99.8" class="cb">234</text>
</g>
<g transform="translate(1180.7,590.3)">
<g clip-path="url(#mapclip)">
<path d="M240.8,88.3 L251.8,86.8 L287.2,114.6 L272.4,133.9 L257.9,129.0 L248.0,131.3 L257.9,145.8 L264.0,151.1 L270.1,144.3 L288.4,147.3 L289.9,139.0 L312.0,134.4 L357.0,171.0 L337.2,166.4 L328.0,172.5 L323.5,193.8 L315.8,206.0 L302.1,213.7 L276.2,217.5 L271.6,227.4 L273.1,239.6 L294.5,248.0 L309.7,245.7 L320.4,251.8 L334.1,248.7 L343.3,256.3 L346.3,267.0 L340.2,276.2 L335.7,273.1 L332.6,264.0 L321.9,257.9 L297.5,259.4 L289.9,264.0 L291.4,283.3 L265.5,292.5 L254.9,295.5 L251.8,312.3 L257.9,324.5 L256.4,334.1 L254.9,345.8 L259.4,355.0 L256.4,362.6 L238.1,367.2 L209.1,367.2 L198.4,364.1 L184.7,358.0 L160.3,341.3 L146.6,336.7 L145.1,330.6 L149.7,329.1 L145.1,318.4 L134.4,315.3 L131.4,304.7 L128.3,294.0 L120.7,278.8 L110.4,263.7 L114.4,247.9 L119.1,249.5 L122.3,254.3 L129.4,259.8 L137.3,262.9 L140.4,255.1 L142.8,240.8 L139.7,235.3 L142.8,229.0 L140.4,223.4 L143.6,217.9 L142.0,213.9 L136.5,210.8 L134.9,206.8 L140.4,191.0 L146.0,184.3 L148.4,189.4 L149.1,195.8 L153.1,203.7 L160.2,209.2 L165.7,214.7 L167.3,218.7 L163.4,224.2 L167.3,229.8 L170.5,234.5 L172.9,240.8 L172.1,244.8 L183.1,237.7 L179.2,230.5 L175.2,223.4 L171.3,213.9 L175.2,209.2 L172.1,202.9 L174.4,193.4 L171.3,188.7 L181.7,181.6 L184.7,175.5 L186.2,164.9 L193.9,160.3 L196.9,151.1 L203.0,142.0 L206.1,138.2 L219.8,137.4 L224.4,132.9 L225.9,129.8 L233.5,125.2 L242.7,123.7 L241.9,105.4Z" fill="#80dc88" stroke="#000" stroke-width="1.3" stroke-linejoin="round"/>
<rect x="262" y="150" width="4" height="5" fill="#b8ccff" transform="rotate(-35 262 150)"/>
<rect x="268" y="142" width="4" height="5" fill="#80b8ff" transform="rotate(-35 268 142)"/>
<rect x="255" y="175" width="4" height="5" fill="#b8ccff" transform="rotate(-35 255 175)"/>
<rect x="300" y="170" width="4" height="5" fill="#80b8ff" transform="rotate(-35 300 170)"/>
<rect x="310" y="166" width="4" height="5" fill="#a0c0ff" transform="rotate(-35 310 166)"/>
<rect x="318" y="190" width="4" height="5" fill="#b8ccff" transform="rotate(-35 318 190)"/>
<rect x="285" y="230" width="4" height="5" fill="#b8ccff" transform="rotate(-35 285 230)"/>
<rect x="250" y="250" width="4" height="5" fill="#80b8ff" transform="rotate(-35 250 250)"/>
<rect x="262" y="262" width="4" height="5" fill="#4070ff" transform="rotate(-35 262 262)"/>
<rect x="275" y="255" width="4" height="5" fill="#b8ccff" transform="rotate(-35 275 255)"/>
<rect x="290" y="262" width="4" height="5" fill="#a0c0ff" transform="rotate(-35 290 262)"/>
<rect x="300" y="260" width="4" height="5" fill="#b8ccff" transform="rotate(-35 300 260)"/>
<rect x="320" y="262" width="4" height="5" fill="#b8ccff" transform="rotate(-35 320 262)"/>
<rect x="240" y="270" width="4" height="5" fill="#b8ccff" transform="rotate(-35 240 270)"/>
<rect x="230" y="285" width="4" height="5" fill="#80b8ff" transform="rotate(-35 230 285)"/>
<rect x="190" y="290" width="4" height="5" fill="#b8ccff" transform="rotate(-35 190 290)"/>
<rect x="195" y="300" width="4" height="5" fill="#b8ccff" transform="rotate(-35 195 300)"/>
<rect x="175" y="282" width="4" height="5" fill="#80b8ff" transform="rotate(-35 175 282)"/>
<rect x="210" y="290" width="4" height="5" fill="#b8ccff" transform="rotate(-35 210 290)"/>
<rect x="215" y="310" width="4" height="5" fill="#80b8ff" transform="rotate(-35 215 310)"/>
<rect x="218" y="325" width="4" height="5" fill="#2040ff" transform="rotate(-35 218 325)"/>
<rect x="240" y="350" width="4" height="5" fill="#80b8ff" transform="rotate(-35 240 350)"/>
<rect x="245" y="355" width="4" height="5" fill="#4080ff" transform="rotate(-35 245 355)"/>
<rect x="235" y="343" width="4" height="5" fill="#b8ccff" transform="rotate(-35 235 343)"/>
<rect x="200" y="325" width="4" height="5" fill="#80b8ff" transform="rotate(-35 200 325)"/>
<rect x="215" y="300" width="4" height="5" fill="#b8ccff" transform="rotate(-35 215 300)"/>
<rect x="270" y="230" width="4" height="5" fill="#a0c0ff" transform="rotate(-35 270 230)"/>
<rect x="280" y="240" width="4" height="5" fill="#80b8ff" transform="rotate(-35 280 240)"/>
<rect x="330" y="180" width="4" height="5" fill="#80b8ff" transform="rotate(-35 330 180)"/>
<rect x="325" y="200" width="4" height="5" fill="#b8ccff" transform="rotate(-35 325 200)"/>
<path d="M249.5,100.1 L257.9,98.5 L261.7,103.9 L260.2,123.7 L253.3,124.5 L250.3,117.6 L245.7,105.4Z" fill="#fff" stroke="#000" stroke-width="1.2" stroke-linejoin="round"/>
<path d="M208.4,142.0 L216.7,139.0 L220.5,145.0 L219.8,157.2 L218.3,166.4 L219.8,175.5 L215.2,178.6 L210.6,172.5 L209.1,160.3Z" fill="#fff" stroke="#000" stroke-width="1.2" stroke-linejoin="round"/>
<path d="M190.8,185.5 L202.1,188.7 L194.2,198.1 L189.4,202.8 L190.2,209.2 L183.2,221.9 L184.7,226.6 L201.3,228.1 L206.8,237.6 L210.8,237.6 L214.0,228.1 L206.8,217.2 L211.6,214.0 L209.1,204.5 L212.2,193.8 L206.1,186.2Z" fill="#fff" stroke="#000" stroke-width="1.2" stroke-linejoin="round"/>
<path d="M221.3,213.7 L232.0,213.7 L242.7,218.2 L250.3,227.4 L251.8,238.1 L245.7,244.9 L233.5,242.6 L224.4,235.0 L219.8,225.9Z" fill="#fff" stroke="#000" stroke-width="1.2" stroke-linejoin="round"/>
<path d="M299.1,164.9 L305.2,166.4 L308.2,178.6 L305.2,193.8 L302.1,196.9 L297.5,192.3 L296.0,178.6Z" fill="#fff" stroke="#000" stroke-width="1.2" stroke-linejoin="round"/>
<path d="M156.5,315.3 L164.9,313.8 L172.5,315.3 L178.6,318.4 L186.2,332.1 L198.4,342.8 L204.5,358.0 L200.0,359.6 L184.7,356.5 L171.0,348.9 L160.3,338.2 L157.3,327.5Z" fill="#fff" stroke="#000" stroke-width="1.2" stroke-linejoin="round"/>
<path d="M159.4,270.1 L162.6,278.8 L170.5,278.8 L172.1,274.8 L178.4,274.0 L184.7,260.6 L181.7,256.3 L175.6,257.9 L167.9,256.3 L160.3,257.9Z" fill="#fff" stroke="#000" stroke-width="1.2" stroke-linejoin="round"/>
<path d="M189.4,247.0 L202.1,250.2 L210.0,264.4 L206.8,270.1 L200.4,269.3 L192.6,260.6Z" fill="#fff" stroke="#000" stroke-width="1.2" stroke-linejoin="round"/>
<ellipse cx="261.0" cy="189.3" rx="6.1" ry="4.3" transform="rotate(0 261.0 189.3)" fill="#fff" stroke="#000" stroke-width="1.2"/>
<ellipse cx="245.7" cy="203.0" rx="5.3" ry="3.8" transform="rotate(0 245.7 203.0)" fill="#fff" stroke="#000" stroke-width="1.2"/>
<ellipse cx="283.8" cy="193.8" rx="4.6" ry="2.7" transform="rotate(30 283.8 193.8)" fill="#fff" stroke="#000" stroke-width="1.2"/>
<ellipse cx="294.5" cy="203.0" rx="4.6" ry="3.8" transform="rotate(0 294.5 203.0)" fill="#fff" stroke="#000" stroke-width="1.2"/>
<ellipse cx="242.7" cy="145.0" rx="2.7" ry="1.5" transform="rotate(20 242.7 145.0)" fill="#fff" stroke="#000" stroke-width="1.2"/>
<ellipse cx="240.4" cy="155.7" rx="3.0" ry="1.5" transform="rotate(20 240.4 155.7)" fill="#fff" stroke="#000" stroke-width="1.2"/>
<ellipse cx="247.2" cy="140.5" rx="2.3" ry="1.5" transform="rotate(20 247.2 140.5)" fill="#fff" stroke="#000" stroke-width="1.2"/>
<ellipse cx="270.1" cy="279.2" rx="3.0" ry="1.8" transform="rotate(20 270.1 279.2)" fill="#fff" stroke="#000" stroke-width="1.2"/>
<ellipse cx="251.8" cy="286.8" rx="3.0" ry="2.7" transform="rotate(0 251.8 286.8)" fill="#fff" stroke="#000" stroke-width="1.2"/>
<ellipse cx="180.9" cy="323.0" rx="6.9" ry="4.6" transform="rotate(-30 180.9 323.0)" fill="#fff" stroke="#000" stroke-width="1.2"/>
<ellipse cx="235.8" cy="322.2" rx="9.9" ry="5.3" transform="rotate(25 235.8 322.2)" fill="#fff" stroke="#000" stroke-width="1.2"/>
<ellipse cx="251.0" cy="329.8" rx="2.3" ry="2.3" transform="rotate(0 251.0 329.8)" fill="#fff" stroke="#000" stroke-width="1.2"/>
<ellipse cx="215.2" cy="348.9" rx="3.0" ry="1.8" transform="rotate(30 215.2 348.9)" fill="#fff" stroke="#000" stroke-width="1.2"/>
<ellipse cx="162.7" cy="233.3" rx="3.8" ry="4.3" transform="rotate(0 162.7 233.3)" fill="#fff" stroke="#000" stroke-width="1.2"/>
<ellipse cx="180.0" cy="247.0" rx="6.3" ry="5.0" transform="rotate(20 180.0 247.0)" fill="#fff" stroke="#000" stroke-width="1.2"/>
<ellipse cx="191.7" cy="238.4" rx="6.3" ry="4.7" transform="rotate(20 191.7 238.4)" fill="#fff" stroke="#000" stroke-width="1.2"/>
<ellipse cx="221.0" cy="87.3" rx="5.4" ry="9.0" fill="#80dc88" stroke="#000" stroke-width="1.1"/>
<ellipse cx="112.5" cy="224.9" rx="3.6" ry="6.6" fill="#80dc88" stroke="#000" stroke-width="1.1"/>
<ellipse cx="127.5" cy="213.7" rx="3.6" ry="3.6" fill="#80dc88" stroke="#000" stroke-width="1.1"/>
<ellipse cx="155.2" cy="164.3" rx="3.0" ry="2.4" fill="#80dc88" stroke="#000" stroke-width="1.1"/>
<ellipse cx="316.8" cy="282.5" rx="4.2" ry="3.6" fill="#80dc88" stroke="#000" stroke-width="1.1"/>
<ellipse cx="347.4" cy="285.5" rx="4.8" ry="3.6" fill="#80dc88" stroke="#000" stroke-width="1.1"/>
<ellipse cx="302.6" cy="296.7" rx="2.4" ry="3.0" fill="#80dc88" stroke="#000" stroke-width="1.1"/>
<ellipse cx="303.3" cy="311.7" rx="1.8" ry="4.2" fill="#80dc88" stroke="#000" stroke-width="1.1"/>
<ellipse cx="362.4" cy="318.4" rx="2.4" ry="3.6" fill="#80dc88" stroke="#000" stroke-width="1.1"/>
<ellipse cx="352.7" cy="337.9" rx="3.0" ry="3.6" fill="#80dc88" stroke="#000" stroke-width="1.1"/>
<ellipse cx="298.1" cy="347.6" rx="1.2" ry="1.8" fill="#80dc88" stroke="#000" stroke-width="1.1"/>
<ellipse cx="334.7" cy="352.8" rx="1.8" ry="2.4" fill="#80dc88" stroke="#000" stroke-width="1.1"/>
<ellipse cx="396.1" cy="427.6" rx="3.0" ry="2.4" fill="#80dc88" stroke="#000" stroke-width="1.1"/>
<ellipse cx="414.0" cy="420.9" rx="1.8" ry="1.8" fill="#80dc88" stroke="#000" stroke-width="1.1"/>
<ellipse cx="335.5" cy="509.9" rx="2.4" ry="2.4" fill="#80dc88" stroke="#000" stroke-width="1.1"/>
<ellipse cx="323.5" cy="522.6" rx="2.4" ry="1.8" fill="#80dc88" stroke="#000" stroke-width="1.1"/>
<ellipse cx="368.4" cy="471.8" rx="2.4" ry="1.8" fill="#80dc88" stroke="#000" stroke-width="1.1"/>
<ellipse cx="373.6" cy="197.2" rx="1.8" ry="2.4" fill="#80dc88" stroke="#000" stroke-width="1.1"/>
<ellipse cx="334.3" cy="207.0" rx="1.4" ry="1.8" fill="#80dc88" stroke="#000" stroke-width="1.1"/>
<ellipse cx="409.1" cy="211.7" rx="1.4" ry="1.0" fill="#80dc88" stroke="#000" stroke-width="1.1"/>
<ellipse cx="163.4" cy="144.9" rx="3.6" ry="3.6" fill="#80dc88" stroke="#000" stroke-width="1.1"/>
<ellipse cx="146.2" cy="177.0" rx="1.8" ry="1.8" fill="#80dc88" stroke="#000" stroke-width="1.1"/>
<path d="M33.5,327.5 L45,338" stroke="#4aa8ff" stroke-width="1.6"/>
</g>
<line x1="13" y1="49.5" x2="486" y2="49.5" class="dot"/>
<line x1="13" y1="134" x2="486" y2="134" class="dot"/>
<line x1="13" y1="218.6" x2="486" y2="218.6" class="dot"/>
<line x1="13" y1="303.1" x2="486" y2="303.1" class="dot"/>
<line x1="13" y1="387.7" x2="486" y2="387.7" class="dot"/>
<line x1="13" y1="472.2" x2="486" y2="472.2" class="dot"/>
<line x1="53.4" y1="41" x2="53.4" y2="549" class="dot"/>
<line x1="132.2" y1="41" x2="132.2" y2="549" class="dot"/>
<line x1="211" y1="41" x2="211" y2="549" class="dot"/>
<line x1="289.8" y1="41" x2="289.8" y2="549" class="dot"/>
<line x1="368.6" y1="41" x2="368.6" y2="549" class="dot"/>
<line x1="447.4" y1="41" x2="447.4" y2="549" class="dot"/>
<path d="M13.00,50.24 L32.71,64.90 L52.42,79.63 L72.12,94.41 L91.83,109.26 L111.54,124.17 L131.25,139.14 L150.96,154.18 L170.67,169.28 L190.38,184.44 L210.08,199.66 L229.79,214.95 L249.50,230.30 L269.21,245.71 L288.92,261.18 L308.62,276.72 L328.33,292.32 L348.04,307.98 L367.75,323.71 L387.46,339.49 L407.17,355.34 L426.88,371.26 L446.58,387.23 L466.29,403.27 L486.00,419.37" class="sw" style="stroke-dasharray:12.1 11.45"/>
<path d="M13.00,164.53 L32.71,179.31 L52.42,194.15 L72.12,209.06 L91.83,224.02 L111.54,239.04 L131.25,254.12 L150.96,269.26 L170.67,284.46 L190.38,299.73 L210.08,315.05 L229.79,330.43 L249.50,345.87 L269.21,361.37 L288.92,376.94 L308.62,392.56 L328.33,408.24 L348.04,423.98 L367.75,439.79 L387.46,455.65 L407.17,471.57 L426.88,487.55 L446.58,503.59 L466.29,519.70 L486.00,535.86" class="sw" style="stroke-dasharray:12.1 11.4"/>
<path d="M13,165.2 L32.2,160.7 L39,156.8 L49.1,155.9 L62.7,151.7 L72.8,144.9 L76.2,138.1 L83,135.1 L91.5,136.4 L96.6,139.3 L103.7,140.7 L102.5,149.1 L98.3,157.6 L96.6,166.1 L99.1,172 L97.4,181.3 L98.3,191.5 L96.6,199.1 L94,200.8 L89.8,203.3 L88.1,211.8 L88.1,218.6 L86.4,228.7 L85.6,240.6 L83,247.4 L78.8,253.3 L74.5,261 L69.5,266 L66.9,272.8 L64.4,279.6 L60.1,286.4 L57.6,294 L52.5,298.2 L47.4,303.3 L45.7,313.5 L40.7,325.3 L30.5,340.6 L22,355.8 L16.9,369.4 L16.1,379.5 L13,386.3" class="coast"/>
<path d="M94,200.8 L100.8,195.7 L109.3,200 L106.7,202.5 L100.8,200.8 L96,201.5 Z" class="coast"/>
<text x="231.9" y="49.8" class="ll">14</text>
<text x="231.9" y="134.3" class="ll">12</text>
<text x="231.9" y="218.9" class="ll">10</text>
<text x="231.9" y="303.4" class="ll">8</text>
<text x="231.9" y="388" class="ll">6</text>
<text x="231.9" y="472.5" class="ll">4</text>
<text x="54.1" y="281.7" class="ll">50</text>
<text x="132.9" y="281.7" class="ll">52</text>
<text x="211.7" y="281.7" class="ll">54</text>
<text x="290.5" y="281.7" class="ll">56</text>
<text x="369.3" y="281.7" class="ll">58</text>
<text x="448.1" y="281.7" class="ll">60</text>
<path d="M243,292.2h12.8v4.6h-12.8z M247.3,288.2h4.5v12.6h-4.5z" fill="#000"/>
<text x="36.8" y="66" class="ttl">2A12 rainrate (mm/hr)</text>
<text x="438.2" y="522.8" class="let">(f)</text>
<rect x="495.3" y="531.6" width="8.6" height="8.8" fill="#80e088"/>
<rect x="495.3" y="523.1" width="8.6" height="8.8" fill="#7cdc84"/>
<rect x="495.3" y="514.7" width="8.6" height="8.8" fill="#78d880"/>
<rect x="495.3" y="506.2" width="8.6" height="8.8" fill="#72ce78"/>
<rect x="495.3" y="497.8" width="8.6" height="8.8" fill="#6cc070"/>
<rect x="495.3" y="489.3" width="8.6" height="8.8" fill="#6abc6c"/>
<rect x="495.3" y="480.9" width="8.6" height="8.8" fill="#68b868"/>
<rect x="495.3" y="472.4" width="8.6" height="8.8" fill="#d0d8ff"/>
<rect x="495.3" y="463.9" width="8.6" height="8.8" fill="#b8ccff"/>
<rect x="495.3" y="455.5" width="8.6" height="8.8" fill="#b0c8ff"/>
<rect x="495.3" y="447" width="8.6" height="8.8" fill="#a0c0ff"/>
<rect x="495.3" y="438.6" width="8.6" height="8.8" fill="#98c0ff"/>
<rect x="495.3" y="430.1" width="8.6" height="8.8" fill="#80b8ff"/>
<rect x="495.3" y="421.7" width="8.6" height="8.8" fill="#70b4ff"/>
<rect x="495.3" y="413.2" width="8.6" height="8.8" fill="#60b0ff"/>
<rect x="495.3" y="404.7" width="8.6" height="8.8" fill="#4aa8ff"/>
<rect x="495.3" y="396.3" width="8.6" height="8.8" fill="#4898ff"/>
<rect x="495.3" y="387.8" width="8.6" height="8.8" fill="#4090ff"/>
<rect x="495.3" y="379.4" width="8.6" height="8.8" fill="#4070ff"/>
<rect x="495.3" y="370.9" width="8.6" height="8.8" fill="#4060ff"/>
<rect x="495.3" y="362.5" width="8.6" height="8.8" fill="#3a48ff"/>
<rect x="495.3" y="354" width="8.6" height="8.8" fill="#2a2aff"/>
<rect x="495.3" y="345.6" width="8.6" height="8.8" fill="#0000ff"/>
<rect x="495.3" y="337.1" width="8.6" height="8.8" fill="#0000f0"/>
<rect x="495.3" y="328.6" width="8.6" height="8.8" fill="#0000e0"/>
<rect x="495.3" y="320.2" width="8.6" height="8.8" fill="#0000cc"/>
<rect x="495.3" y="311.7" width="8.6" height="8.8" fill="#0000b8"/>
<rect x="495.3" y="303.3" width="8.6" height="8.8" fill="#ffff00"/>
<rect x="495.3" y="294.8" width="8.6" height="8.8" fill="#ffff00"/>
<rect x="495.3" y="286.4" width="8.6" height="8.8" fill="#fff000"/>
<rect x="495.3" y="277.9" width="8.6" height="8.8" fill="#ffe800"/>
<rect x="495.3" y="269.5" width="8.6" height="8.8" fill="#ffe000"/>
<rect x="495.3" y="261" width="8.6" height="8.8" fill="#ffd800"/>
<rect x="495.3" y="252.5" width="8.6" height="8.8" fill="#ffcc00"/>
<rect x="495.3" y="244.1" width="8.6" height="8.8" fill="#ff8800"/>
<rect x="495.3" y="235.6" width="8.6" height="8.8" fill="#ff8000"/>
<rect x="495.3" y="227.2" width="8.6" height="8.8" fill="#ff7a00"/>
<rect x="495.3" y="218.7" width="8.6" height="8.8" fill="#ff7600"/>
<rect x="495.3" y="210.3" width="8.6" height="8.8" fill="#ff7000"/>
<rect x="495.3" y="201.8" width="8.6" height="8.8" fill="#ff6c00"/>
<rect x="495.3" y="193.3" width="8.6" height="8.8" fill="#ff4000"/>
<rect x="495.3" y="184.9" width="8.6" height="8.8" fill="#ff3800"/>
<rect x="495.3" y="176.4" width="8.6" height="8.8" fill="#ff3000"/>
<rect x="495.3" y="168" width="8.6" height="8.8" fill="#ff2800"/>
<rect x="495.3" y="159.5" width="8.6" height="8.8" fill="#ff2000"/>
<rect x="495.3" y="151.1" width="8.6" height="8.8" fill="#ff1a00"/>
<rect x="495.3" y="142.6" width="8.6" height="8.8" fill="#ff1400"/>
<rect x="495.3" y="134.2" width="8.6" height="8.8" fill="#c40000"/>
<rect x="495.3" y="125.7" width="8.6" height="8.8" fill="#c00000"/>
<rect x="495.3" y="117.2" width="8.6" height="8.8" fill="#b80000"/>
<rect x="495.3" y="108.8" width="8.6" height="8.8" fill="#b00000"/>
<rect x="495.3" y="100.3" width="8.6" height="8.8" fill="#a40800"/>
<rect x="495.3" y="91.9" width="8.6" height="8.8" fill="#9c0800"/>
<rect x="495.3" y="83.4" width="8.6" height="8.8" fill="#980800"/>
<rect x="495.3" y="75" width="8.6" height="8.8" fill="#600c08"/>
<rect x="495.3" y="66.5" width="8.6" height="8.8" fill="#5e0e0c"/>
<rect x="495.3" y="58.1" width="8.6" height="8.8" fill="#5c120f"/>
<rect x="495.3" y="49.6" width="8.6" height="8.8" fill="#5a1412"/>
<rect x="495.3" y="41.1" width="8.6" height="8.8" fill="#5a1a16"/>
<line x1="503.9" y1="548.5" x2="506.5" y2="548.5" stroke="#000" stroke-width="1"/>
<text x="525" y="556.4" class="cb">0</text>
<line x1="503.9" y1="497.8" x2="506.5" y2="497.8" stroke="#000" stroke-width="1"/>
<text x="525" y="505.7" class="cb">6</text>
<line x1="503.9" y1="447" x2="506.5" y2="447" stroke="#000" stroke-width="1"/>
<text x="525" y="454.9" class="cb">12</text>
<line x1="503.9" y1="396.3" x2="506.5" y2="396.3" stroke="#000" stroke-width="1"/>
<text x="525" y="404.2" class="cb">18</text>
<line x1="503.9" y1="345.6" x2="506.5" y2="345.6" stroke="#000" stroke-width="1"/>
<text x="525" y="353.5" class="cb">24</text>
<line x1="503.9" y1="294.8" x2="506.5" y2="294.8" stroke="#000" stroke-width="1"/>
<text x="525" y="302.7" class="cb">30</text>
<line x1="503.9" y1="244.1" x2="506.5" y2="244.1" stroke="#000" stroke-width="1"/>
<text x="525" y="252" class="cb">36</text>
<line x1="503.9" y1="193.3" x2="506.5" y2="193.3" stroke="#000" stroke-width="1"/>
<text x="525" y="201.2" class="cb">42</text>
<line x1="503.9" y1="142.6" x2="506.5" y2="142.6" stroke="#000" stroke-width="1"/>
<text x="525" y="150.5" class="cb">48</text>
<line x1="503.9" y1="91.9" x2="506.5" y2="91.9" stroke="#000" stroke-width="1"/>
<text x="525" y="99.8" class="cb">54</text>
</g>
<g transform="translate(0,1180.7)">
<clipPath id="clip_g"><path d="M13,41 L182,41 L243,87.6 L485.4,279 L486,279.5 L486,549 L331,549 L243,478.5 L13,300.6 Z"/></clipPath><g clip-path="url(#mapclip)">
<g clip-path="url(#clip_g)"><rect x="13" y="41" width="473" height="508" fill="#e2e2e2"/>
<path d="M485.8,41.2 99.2,41.2 100.8,45.2 100.2,47.2 98.8,48.8 91.2,51.8 86.8,56.2 84.8,61.2 84.8,65.8 86.2,68.8 91.8,66.2 99.2,67.8 101.8,70.2 100.8,74.8 101.2,81.2 98.2,83.2 93.8,81.2 89.2,83.8 84.2,83.8 83.8,86.2 85.8,88.8 88.8,86.2 90.2,86.8 89.2,91.8 87.2,93.2 79.8,95.8 75.2,99.2 70.8,105.2 69.8,108.2 70.2,118.8 73.2,119.2 75.2,118.2 78.8,118.2 81.2,119.2 85.2,124.8 85.2,129.2 78.2,135.2 72.2,136.2 69.2,135.8 64.8,132.2 62.2,132.2 58.8,134.8 54.2,132.8 50.2,134.8 40.2,134.8 39.8,138.8 41.2,144.2 39.8,146.2 34.2,146.2 28.8,151.2 23.2,150.8 20.2,152.8 13.2,151.8 13.2,548.8 87.8,548.8 87.2,545.8 84.8,541.8 84.8,539.2 85.8,538.2 94.8,535.8 98.2,529.8 105.2,522.2 110.8,522.2 111.8,521.2 114.8,514.2 114.8,509.2 115.8,508.2 120.2,508.2 122.8,504.8 127.2,504.8 129.8,501.2 130.2,497.2 131.8,494.2 133.8,492.8 137.8,491.8 143.2,487.2 144.2,483.8 148.8,477.8 149.8,472.2 152.8,469.8 157.8,468.8 164.2,463.8 165.2,461.8 164.8,454.8 167.2,452.8 177.8,453.8 178.2,445.2 179.2,443.8 177.8,437.2 180.2,429.8 182.2,427.8 187.8,426.2 184.8,423.2 185.2,420.2 189.2,422.2 193.8,420.8 197.2,420.8 200.8,422.8 203.2,421.8 208.2,422.2 213.2,419.2 218.2,419.8 225.8,418.2 227.8,419.8 228.2,421.8 232.8,421.2 237.2,422.2 242.8,425.2 242.8,435.2 243.8,437.2 248.2,439.2 252.8,439.2 256.8,440.8 257.8,438.8 257.2,432.2 258.2,430.8 258.2,428.2 256.8,424.8 257.2,417.8 258.8,415.2 259.2,410.8 262.8,406.8 270.2,402.8 278.2,401.2 282.2,401.8 285.8,406.2 288.2,406.2 292.8,402.8 300.2,401.2 306.2,397.2 308.2,393.8 312.2,393.2 313.2,391.8 313.2,387.8 316.8,384.8 319.8,383.8 324.8,383.8 328.2,386.8 332.2,386.8 335.8,381.8 340.2,369.2 342.8,368.2 345.8,363.8 358.8,351.8 365.2,351.2 368.8,348.2 368.8,345.8 366.2,341.2 368.8,334.8 367.8,331.2 368.8,319.2 367.2,315.2 371.8,310.8 371.8,306.8 370.2,303.8 372.2,302.2 379.2,301.8 383.2,294.8 384.2,289.8 386.8,287.2 393.2,289.2 396.8,285.8 404.8,284.2 406.2,285.8 406.8,288.2 408.8,288.8 412.8,287.8 415.2,284.8 418.2,283.8 423.8,284.8 427.2,286.8 433.2,285.2 449.8,284.2 454.2,287.8 462.2,287.8 464.8,290.8 465.2,294.2 464.8,301.2 462.2,307.2 460.8,314.2 462.2,316.2 466.2,315.8 470.8,319.2 476.2,321.8 477.8,323.8 478.8,329.8 476.2,336.2 474.2,337.8 469.8,338.2 465.8,336.8 462.2,336.8 460.2,338.2 458.2,338.2 455.8,337.2 453.8,338.2 448.8,343.8 447.8,357.8 449.2,362.2 448.2,366.8 451.8,369.2 455.8,369.8 459.8,368.2 463.2,368.2 468.8,370.8 470.2,367.2 472.2,365.8 476.2,365.8 479.2,367.8 485.8,367.2ZM24.8,237.2 31.2,238.2 34.8,241.2 36.8,244.8 36.8,247.8 32.2,254.2 30.8,254.2 27.2,250.2 23.2,250.2 21.8,247.8 23.2,243.8 22.8,239.2ZM88.8,189.8 89.8,191.2 89.2,193.2 87.8,195.2 86.8,195.2 85.8,191.8 87.2,189.8ZM70.2,186.2 73.2,186.2 77.2,189.2 80.2,190.2 82.8,192.8 81.8,202.2 80.8,203.8 77.2,203.8 68.8,194.2 68.8,187.8ZM20.2,189.8 27.2,185.8 30.8,185.8 35.2,183.2 39.8,183.2 42.2,184.2 45.2,182.2 47.8,182.2 54.8,190.8 53.8,195.8 51.8,199.2 51.8,202.2 54.8,206.8 54.2,211.2 47.8,216.8 43.8,217.2 40.8,215.8 38.8,213.2 38.8,210.2 41.2,207.2 42.2,203.2 40.8,202.8 36.8,205.2 28.8,205.2 20.8,197.2 19.2,193.8 19.2,191.2Z" fill="#cfcfcf" fill-rule="evenodd"/>
<path d="M13.2,173.8 13.2,183.8 15.2,183.8 19.2,181.2 19.8,177.8 15.2,174.2ZM13.2,167.2 13.2,169.8 15.2,169.2 15.2,167.8ZM485.8,41.2 99.8,41.2 102.2,45.8 102.2,48.8 98.8,51.8 98.2,54.8 103.8,60.2 102.8,71.2 100.8,75.2 101.2,81.2 98.2,83.2 94.8,81.8 92.2,81.8 89.2,83.8 84.2,83.8 84.2,87.2 86.8,88.2 89.8,86.2 90.2,89.8 89.2,92.2 84.2,95.8 87.2,101.2 87.2,105.2 85.8,110.8 83.8,113.2 85.8,112.2 90.2,113.2 92.8,115.8 93.2,120.8 97.2,125.2 101.8,125.8 103.2,127.2 105.2,132.2 110.2,129.2 114.8,131.8 121.8,133.2 127.8,135.8 130.2,135.2 135.8,141.8 130.8,151.2 133.2,156.8 133.2,159.8 129.8,165.8 123.8,165.8 115.8,169.8 110.2,168.8 107.8,166.8 102.8,166.2 101.2,164.8 101.8,157.2 103.2,154.2 102.8,152.8 101.2,152.2 97.8,156.8 96.8,156.2 96.8,151.2 98.2,148.8 96.8,141.2 99.8,137.8 99.2,135.2 96.8,133.2 83.8,132.8 80.8,133.8 78.8,136.2 70.2,136.2 64.8,132.2 62.2,132.2 58.8,134.8 54.2,132.8 50.2,134.8 39.8,135.2 41.2,145.2 39.8,147.2 39.8,151.2 37.8,153.2 37.2,156.2 40.8,163.8 44.2,167.2 46.8,167.8 51.2,166.2 54.2,168.8 56.8,175.8 56.2,178.8 53.8,181.2 54.2,182.8 58.8,184.8 63.2,182.8 66.8,182.8 73.2,185.2 77.2,188.2 80.8,188.2 91.2,183.8 92.8,184.2 99.2,190.8 100.8,195.8 98.8,197.8 85.8,203.2 85.2,207.2 86.2,209.2 86.2,212.8 84.8,215.2 85.2,218.2 84.2,219.2 75.2,223.2 71.2,218.2 69.8,218.8 68.8,223.2 70.8,226.2 70.8,228.8 68.8,233.2 71.8,237.8 71.8,241.2 66.8,246.8 66.2,250.2 63.8,253.2 55.2,253.8 52.2,256.8 52.8,260.2 56.8,264.8 58.8,269.8 60.2,271.2 65.8,272.8 68.8,274.8 68.8,280.8 65.8,287.2 64.2,288.2 59.2,288.2 55.8,294.8 51.8,297.8 48.2,302.2 42.2,302.8 40.8,305.2 40.8,307.8 36.8,310.2 36.8,312.2 41.8,317.8 44.2,317.8 47.8,316.2 53.2,319.8 64.8,320.2 69.8,310.8 70.2,304.8 75.2,301.2 79.2,300.2 83.2,306.2 87.2,305.8 88.2,304.8 88.2,302.2 90.2,300.8 91.2,301.2 92.2,303.8 96.2,306.2 97.2,309.2 101.8,311.8 101.8,313.8 93.2,320.2 90.8,320.2 87.2,318.8 85.8,319.8 85.8,326.8 83.8,328.8 83.8,330.2 86.2,333.8 83.8,342.2 87.8,348.2 87.2,350.8 84.2,354.8 85.8,362.8 79.8,369.8 73.8,374.2 71.2,379.8 71.8,385.8 68.8,389.2 65.8,390.8 56.8,390.8 53.8,398.8 53.8,406.2 55.8,410.8 55.8,413.2 53.8,418.2 51.8,419.8 47.8,420.8 44.2,424.2 39.2,424.8 34.2,431.8 36.8,439.8 41.2,443.8 41.8,446.2 36.8,449.2 34.8,453.8 27.8,453.8 22.2,450.8 20.2,451.8 22.8,456.2 22.2,462.2 18.8,465.2 17.2,470.2 13.2,471.8 13.2,548.8 37.8,548.8 37.8,542.2 39.8,539.2 45.8,536.8 51.8,536.8 52.8,535.2 54.2,519.2 55.2,516.8 53.8,508.8 57.8,505.8 64.8,504.8 69.8,499.8 69.8,494.2 74.8,487.2 81.2,486.8 82.8,485.8 84.8,481.2 84.8,478.2 82.8,473.8 83.2,459.2 91.8,455.2 98.2,453.8 99.8,450.8 100.2,446.8 99.8,440.2 97.8,435.2 100.8,431.8 102.8,425.2 104.2,423.8 109.2,423.8 113.8,419.2 115.8,418.8 117.2,416.2 117.8,408.2 116.8,405.2 117.8,397.8 116.8,390.8 113.8,386.2 115.8,383.8 116.8,378.8 116.2,374.8 117.8,372.2 115.2,365.8 117.2,362.2 117.8,358.2 119.8,356.2 123.8,354.2 126.8,354.2 129.8,351.8 131.8,351.8 134.2,353.8 138.2,352.8 149.2,352.8 152.2,354.2 154.8,353.8 157.2,355.2 158.8,359.8 163.2,362.2 163.2,365.2 164.8,367.2 168.8,370.2 173.8,369.8 175.8,370.8 177.8,374.2 181.8,376.2 179.8,382.2 185.2,388.8 186.8,388.8 190.2,385.8 197.2,386.8 203.8,385.2 207.2,387.8 210.2,395.2 216.8,404.2 220.2,404.8 226.8,401.8 233.2,400.8 235.8,401.2 242.8,405.2 250.2,405.8 254.8,401.8 260.2,401.8 260.8,399.2 259.2,390.8 261.2,388.8 269.8,388.2 275.8,389.2 278.8,385.2 283.2,388.8 287.2,384.8 289.8,384.8 293.8,387.8 300.2,388.2 301.2,387.8 303.8,382.2 307.2,378.8 311.2,376.8 306.2,371.2 303.8,370.8 301.8,367.2 303.2,364.8 306.8,362.8 307.2,359.2 309.8,355.8 319.8,351.2 320.2,343.2 324.2,340.8 328.2,335.8 333.2,335.2 336.8,332.2 336.8,324.8 340.8,316.8 340.8,313.2 337.2,309.2 334.8,303.2 334.8,300.2 338.2,293.8 339.2,289.2 342.8,283.8 342.2,278.8 343.2,277.8 345.2,278.8 345.2,283.8 353.2,288.8 359.8,288.2 363.8,285.8 367.8,285.8 370.2,284.8 373.2,285.2 375.8,287.8 380.2,285.8 386.8,285.2 390.8,288.2 393.8,288.8 396.8,285.8 403.8,284.2 406.2,285.2 407.2,288.2 409.2,288.2 411.8,287.2 413.2,280.8 417.2,275.2 416.8,268.2 418.2,259.2 417.8,254.8 418.8,253.2 421.8,254.8 425.2,254.8 429.2,251.8 432.2,250.8 439.2,251.2 445.8,248.8 449.8,248.8 452.2,250.2 455.8,250.8 459.8,248.2 459.8,245.2 457.8,242.2 459.2,232.8 462.2,229.8 462.8,224.8 464.2,222.8 470.8,221.8 475.8,218.2 476.2,215.2 478.8,211.2 480.2,203.8 479.8,200.8 476.8,196.8 476.8,194.8 478.8,192.2 479.2,186.2 481.8,184.2 485.8,184.2Z" fill="#b6b6b6" fill-rule="evenodd"/>
<path d="M104.8,304.2 105.8,305.8 109.2,305.2 107.2,303.2ZM36.8,310.2 37.2,313.2 41.8,317.8 44.2,317.8 47.8,316.2 53.2,319.8 64.8,320.2 69.2,311.8 69.8,308.8 65.8,305.2 59.8,306.2 56.2,304.8 49.2,305.2 46.2,302.8 43.2,302.2 41.2,303.8 40.8,307.8ZM485.8,152.8 481.2,153.2 479.8,154.2 477.8,157.8 478.2,163.8 476.2,165.8 469.2,165.8 463.8,170.8 458.2,182.8 453.8,185.2 450.8,188.2 449.8,194.8 447.8,196.8 444.8,198.2 441.2,201.8 437.2,200.8 435.8,204.8 432.8,205.2 430.8,206.8 429.2,209.2 429.2,215.2 427.2,218.2 423.2,220.2 420.2,220.2 414.2,215.8 409.2,218.8 403.2,218.2 402.8,229.2 398.2,232.2 397.8,234.2 401.2,239.2 400.2,252.8 401.8,255.2 401.8,258.8 400.8,261.2 404.8,263.8 405.8,269.2 407.8,271.8 410.2,271.8 411.8,270.2 414.2,263.2 417.2,261.2 418.2,253.8 419.8,253.2 422.2,254.8 424.8,254.8 426.2,253.8 430.2,248.2 430.2,241.2 433.8,239.2 437.2,235.2 441.8,233.8 445.2,229.2 450.8,228.8 452.8,225.2 451.8,221.2 463.8,211.2 465.2,205.2 469.2,201.8 474.2,202.2 475.2,201.2 474.8,196.2 478.8,191.8 479.2,186.2 481.8,184.2 485.8,184.2ZM440.2,203.2 438.8,205.2 436.2,204.2 438.8,202.8ZM48.2,152.8 39.8,154.8 38.2,156.2 40.2,162.8 44.2,166.8 46.8,166.8 54.2,160.8 54.2,157.2 53.2,155.8ZM478.8,41.2 156.8,41.2 157.2,43.8 161.2,43.2 163.2,45.8 163.2,47.2 161.2,48.8 152.8,46.8 150.2,44.2 149.8,41.2 124.8,41.2 124.2,49.2 120.8,48.2 118.2,45.8 117.8,41.2 99.8,41.2 102.2,45.8 102.2,48.8 98.8,51.8 98.2,54.8 103.8,60.2 102.8,71.2 100.8,75.2 101.2,81.2 98.2,83.2 94.8,81.8 92.2,81.8 89.2,83.8 84.2,83.8 84.2,87.2 86.8,88.2 89.8,86.2 90.2,89.8 89.2,92.2 84.2,95.8 87.2,101.2 87.2,105.2 85.8,110.8 83.8,113.2 88.2,112.2 94.8,116.2 93.8,119.2 95.2,120.8 98.8,117.2 109.2,117.2 113.2,114.8 115.8,115.8 116.8,117.2 116.8,128.8 119.2,131.8 126.2,134.2 128.8,129.2 131.2,129.8 133.2,132.2 136.8,134.2 143.8,133.8 146.2,134.8 150.2,134.8 153.8,132.8 159.8,133.8 161.8,136.2 164.8,144.8 163.8,152.2 165.2,156.2 164.8,162.8 165.8,164.2 172.2,168.2 176.8,168.8 179.2,170.8 180.2,173.8 180.2,180.2 177.2,182.2 176.2,184.2 178.8,186.2 181.8,185.2 182.8,188.8 180.2,192.2 178.2,197.8 179.2,204.8 181.2,209.2 180.2,212.8 181.2,227.8 176.8,234.2 173.8,234.8 170.2,237.8 168.2,237.8 166.8,236.2 167.2,233.2 165.8,230.8 166.2,226.2 161.8,218.2 161.2,214.2 159.2,209.8 160.8,208.2 167.8,205.2 167.8,204.2 160.8,196.8 160.8,195.2 164.2,192.2 164.2,189.8 159.8,184.8 153.8,186.8 151.2,186.2 148.8,184.2 148.8,174.2 146.2,169.2 149.8,162.8 149.8,160.2 147.2,155.8 140.2,153.2 136.8,153.2 134.2,155.2 132.2,169.2 132.2,173.2 133.2,175.8 130.8,179.2 133.8,183.8 132.2,195.2 126.8,199.2 124.2,202.8 119.2,202.8 116.2,200.8 116.8,195.2 115.8,189.2 118.8,178.8 117.8,176.2 111.2,169.8 107.2,168.2 104.2,169.2 102.2,171.8 101.8,177.8 100.2,181.2 101.2,186.2 100.2,192.8 101.8,197.2 99.2,200.2 98.8,202.2 104.2,206.2 103.2,212.2 104.8,214.8 105.2,219.2 108.2,222.8 110.8,222.2 114.2,219.8 119.8,218.2 123.8,219.8 127.8,219.8 130.8,218.2 144.8,218.2 146.8,220.2 146.8,225.8 148.8,230.2 149.2,235.2 151.8,239.2 149.2,243.2 150.2,248.2 156.8,253.2 160.2,253.8 166.8,251.8 170.8,253.2 174.8,252.8 176.8,253.8 180.8,259.2 181.8,264.8 178.8,267.2 172.2,268.8 169.2,271.8 164.8,271.8 165.2,278.8 166.2,280.2 164.8,284.2 160.8,285.8 154.2,284.8 151.8,286.8 149.2,286.8 146.2,284.8 142.8,284.8 137.8,286.2 136.8,285.2 136.2,279.2 134.2,277.8 130.8,277.2 128.2,275.2 128.2,272.8 131.8,268.2 132.2,262.2 135.2,259.8 135.2,257.2 129.2,252.8 124.2,250.8 119.8,251.2 118.2,254.8 116.2,256.2 108.2,254.2 102.8,254.2 102.8,260.2 101.8,262.2 93.8,269.8 90.2,267.8 85.2,268.8 82.2,271.2 77.8,270.8 74.8,269.2 72.2,269.2 69.8,270.8 70.8,275.8 69.2,284.2 70.8,288.8 70.8,292.2 67.8,297.8 68.8,301.2 70.8,301.8 78.8,299.8 81.2,302.2 81.2,303.8 83.2,306.2 86.2,306.2 87.8,305.2 88.8,301.2 94.2,300.8 97.2,304.2 101.2,305.2 102.2,304.2 101.8,300.8 105.2,297.8 107.8,297.2 110.2,298.2 112.8,300.8 114.2,305.8 117.2,310.2 117.8,315.2 116.8,317.2 113.2,319.8 107.2,318.8 101.8,319.2 99.8,318.2 97.2,318.2 94.2,320.2 90.2,320.2 87.2,318.8 85.8,319.8 85.8,326.8 83.8,328.8 83.8,330.2 86.2,333.8 83.8,342.2 87.8,348.2 87.2,350.8 84.2,354.8 85.8,362.8 79.8,369.8 73.8,374.2 71.2,379.8 71.8,385.8 68.8,389.2 65.8,390.8 56.8,390.8 53.8,398.8 53.8,406.2 55.8,410.8 55.8,413.2 53.8,418.2 51.8,419.8 47.8,420.8 44.2,424.2 39.2,424.8 34.8,430.8 34.2,433.2 36.8,439.8 41.2,443.8 41.8,446.2 36.8,449.2 34.8,453.8 27.8,453.8 22.2,450.8 20.2,451.8 22.8,456.2 22.2,462.2 18.8,465.2 17.2,470.2 13.2,471.8 13.2,548.8 37.8,548.8 37.8,542.2 39.8,539.2 45.8,536.8 51.8,536.8 52.8,535.2 54.2,519.2 55.2,516.8 53.8,508.8 57.8,505.8 64.8,504.8 69.8,499.8 69.8,494.2 74.8,487.2 81.2,486.8 82.8,485.8 84.8,481.2 84.8,478.2 82.8,473.8 83.2,459.2 91.8,455.2 98.2,453.8 99.8,450.8 100.2,446.8 99.8,440.2 97.8,435.2 100.8,431.8 102.8,425.2 104.2,423.8 109.2,423.8 113.8,419.2 115.8,418.8 117.2,416.2 117.8,408.2 116.8,405.2 117.8,397.8 116.8,390.8 113.8,386.2 115.8,383.8 116.8,378.8 116.2,374.8 117.8,372.2 115.2,365.8 116.8,362.8 116.8,357.8 118.8,352.8 117.8,351.2 114.2,351.2 112.8,349.8 113.2,347.2 120.2,340.2 127.8,339.8 132.8,342.8 133.8,346.8 136.8,351.8 142.8,352.2 148.2,347.2 148.8,339.2 153.2,335.8 158.2,335.2 159.8,334.2 160.8,330.2 160.2,323.2 159.2,322.2 154.8,321.8 148.2,314.2 147.2,312.2 147.2,307.8 148.8,306.2 153.8,307.2 158.2,304.8 160.2,306.8 162.8,314.2 164.8,317.2 167.2,318.8 169.2,317.8 169.8,315.2 171.2,313.8 173.2,313.8 174.8,315.8 174.8,317.8 172.8,320.8 172.8,322.8 173.8,323.8 178.8,323.8 180.2,325.8 180.2,337.8 179.2,340.2 178.8,349.2 185.8,352.2 192.2,352.8 196.8,357.2 196.2,363.2 198.8,368.2 200.2,369.8 204.8,370.2 209.2,375.2 210.8,375.8 212.2,377.8 212.8,381.8 218.2,386.2 225.8,385.8 235.8,388.8 238.8,388.8 241.2,387.2 243.2,387.2 244.2,388.2 254.8,388.2 257.2,386.8 260.8,386.8 265.8,388.2 270.2,387.2 273.2,382.8 273.2,377.8 278.2,372.8 284.2,368.8 287.8,368.2 290.2,366.2 288.8,361.8 290.2,356.8 298.2,350.2 303.8,351.2 305.2,349.8 305.2,348.2 302.2,345.8 301.8,343.8 304.8,340.2 303.8,334.8 307.2,329.2 308.2,322.8 307.2,319.8 303.2,317.8 302.8,307.2 305.8,304.2 312.2,305.2 316.8,303.2 320.8,304.2 321.8,307.8 320.2,311.2 321.2,312.2 328.8,311.8 329.8,312.8 324.2,317.8 324.2,320.2 325.8,321.8 329.2,321.8 340.2,316.2 340.8,313.8 337.8,310.2 334.8,303.2 334.8,300.2 337.8,294.2 337.8,291.2 336.8,290.2 327.8,290.2 321.2,283.8 317.8,284.8 310.8,283.8 308.2,285.2 306.2,285.2 304.2,281.2 303.2,273.2 305.2,271.2 308.8,271.8 311.2,269.2 316.8,268.8 322.2,263.2 322.2,257.8 320.2,255.8 315.8,255.2 310.8,251.2 296.2,251.2 289.8,245.2 288.8,237.8 290.8,234.8 294.2,233.2 300.2,234.2 304.2,230.2 305.8,230.2 308.8,232.2 311.2,231.2 311.2,229.2 309.8,226.8 304.8,222.2 307.2,218.8 307.2,216.2 304.8,209.8 304.8,204.2 306.2,201.2 305.8,193.2 306.8,184.8 308.8,184.2 310.8,185.2 318.8,185.8 321.2,188.8 318.8,197.8 326.8,198.2 329.8,202.2 334.2,205.8 335.2,209.8 338.2,212.2 338.2,215.2 336.8,216.8 336.2,219.2 338.8,224.8 339.2,228.2 335.2,232.2 335.2,235.8 337.8,240.2 338.2,252.8 337.8,257.8 335.2,260.2 334.8,262.2 338.2,267.8 339.8,274.8 345.8,278.2 346.2,284.2 353.2,288.8 359.2,288.2 363.2,285.2 366.2,284.2 367.8,282.8 369.8,270.2 369.2,267.8 365.8,261.8 365.8,258.8 367.2,253.8 371.2,249.8 371.2,247.8 368.8,244.8 368.8,240.8 367.2,236.8 369.2,234.2 371.8,234.2 375.8,236.8 377.8,236.8 379.8,235.2 379.8,224.2 380.8,223.2 383.8,223.2 385.8,221.2 385.8,214.8 384.8,212.8 385.8,206.2 391.2,203.2 395.8,197.8 398.8,197.2 400.8,195.2 401.2,189.8 397.8,185.2 398.2,180.8 399.8,177.8 399.2,172.2 402.2,168.8 408.2,166.8 412.8,167.2 413.8,166.2 413.8,160.2 415.2,156.2 415.8,148.8 416.8,147.2 416.8,144.2 415.2,140.2 415.8,137.8 418.8,135.2 423.8,135.2 428.2,132.2 426.8,129.8 427.2,124.8 431.2,119.2 428.8,113.2 429.2,110.8 432.2,107.2 433.8,103.2 435.8,101.8 437.8,102.2 439.8,101.2 445.8,94.2 447.8,89.2 453.2,83.8 457.8,81.8 461.2,78.2 462.2,76.2 461.8,72.8 464.2,67.2 463.2,59.8 464.8,57.8 464.8,52.2 467.2,49.8 470.2,49.8 472.8,47.8 475.8,47.2 477.2,45.8ZM242.2,358.2 246.2,354.2 249.2,353.2 252.8,353.8 256.8,351.8 260.2,351.8 264.2,354.2 269.8,352.8 271.2,356.2 275.2,361.2 275.8,365.2 271.8,370.2 269.2,370.2 265.8,368.8 260.8,368.8 255.2,371.2 252.2,370.8 246.2,368.2 241.8,362.2ZM288.8,173.8 291.8,169.2 296.2,170.8 303.8,169.2 306.2,171.8 306.8,174.8 304.8,178.2 301.2,179.2 298.8,183.8 295.2,183.8 291.2,182.8 289.2,180.8Z" fill="#a0a0a0" fill-rule="evenodd"/>
<path d="M104.8,304.2 105.8,305.8 109.2,305.2 107.2,303.2ZM36.8,310.2 37.2,313.2 41.8,317.8 44.2,317.8 47.8,316.2 53.2,319.8 64.8,320.2 69.2,311.8 69.8,308.8 65.8,305.2 59.8,306.2 56.2,304.8 49.2,305.2 46.2,302.8 43.2,302.2 41.2,303.8 40.8,307.8ZM485.8,152.8 481.2,153.2 479.8,154.2 477.8,157.8 478.2,163.8 476.2,165.8 469.2,165.8 463.8,170.8 458.2,182.8 453.8,185.2 450.8,188.2 449.8,194.8 447.8,196.8 444.8,198.2 441.2,201.8 437.2,200.8 435.8,204.8 432.8,205.2 430.8,206.8 429.2,209.2 429.2,215.2 427.2,218.2 423.2,220.2 420.2,220.2 414.2,215.8 409.2,218.8 403.2,218.2 402.8,229.2 398.2,232.2 397.8,234.2 401.2,239.2 400.2,252.8 401.8,255.2 401.8,258.8 400.8,261.2 404.8,263.8 405.8,269.2 407.8,271.8 410.2,271.8 411.8,270.2 414.2,263.2 417.2,261.2 418.2,253.8 419.8,253.2 422.2,254.8 424.8,254.8 426.2,253.8 430.2,248.2 430.2,241.2 433.8,239.2 437.2,235.2 441.8,233.8 445.2,229.2 450.8,228.8 452.8,225.2 451.8,221.2 463.8,211.2 465.2,205.2 469.2,201.8 474.2,202.2 475.2,201.2 474.8,196.2 478.8,191.8 479.2,186.2 481.8,184.2 485.8,184.2ZM440.2,203.2 438.8,205.2 436.2,204.2 438.8,202.8ZM48.2,152.8 39.8,154.8 38.2,156.2 40.2,162.8 44.2,166.8 46.8,166.8 54.2,160.8 54.2,157.2 53.2,155.8ZM478.8,41.2 156.8,41.2 157.2,43.8 161.2,43.2 163.2,45.8 163.2,47.2 161.2,48.8 152.8,46.8 150.2,44.2 149.8,41.2 124.8,41.2 124.2,49.2 120.8,48.2 118.2,45.8 117.8,41.2 99.8,41.2 102.2,45.8 102.2,48.8 98.8,51.8 98.2,54.8 103.8,60.2 102.8,71.2 100.8,75.2 101.2,81.2 98.2,83.2 94.8,81.8 92.2,81.8 89.2,83.8 84.2,83.8 84.2,87.2 86.8,88.2 89.8,86.2 90.2,89.8 89.2,92.2 84.2,95.8 87.2,101.2 87.2,105.2 85.8,110.8 83.8,113.2 88.2,112.2 94.8,116.2 93.8,119.2 95.2,120.8 98.8,117.2 109.2,117.2 113.2,114.8 115.8,115.8 116.8,117.2 116.8,128.8 119.2,131.8 126.2,134.2 128.8,129.2 131.2,129.8 133.2,132.2 136.8,134.2 143.8,133.8 146.2,134.8 150.2,134.8 153.8,132.8 159.8,133.8 161.8,136.2 164.8,144.8 163.8,152.2 165.2,156.2 164.8,162.8 165.8,164.2 172.2,168.2 176.8,168.8 179.2,170.8 180.2,173.8 180.2,180.2 177.2,182.2 176.2,184.2 178.8,186.2 181.8,185.2 182.8,188.8 180.2,192.2 178.2,197.8 179.2,204.8 181.2,209.2 180.2,212.8 181.2,227.8 176.8,234.2 173.8,234.8 170.2,237.8 168.2,237.8 166.8,236.2 167.2,233.2 165.8,230.8 166.2,226.2 161.8,218.2 161.2,214.2 159.2,209.8 160.8,208.2 167.8,205.2 167.8,204.2 160.8,196.8 160.8,195.2 164.2,192.2 164.2,189.8 159.8,184.8 153.8,186.8 151.2,186.2 148.8,184.2 148.8,174.2 146.2,169.2 149.8,162.8 149.8,160.2 147.2,155.8 140.2,153.2 136.8,153.2 134.2,155.2 132.2,169.2 132.2,173.2 133.2,175.8 130.8,179.2 133.8,183.8 132.2,195.2 126.8,199.2 124.2,202.8 119.2,202.8 116.2,200.8 116.8,195.2 115.8,189.2 118.8,178.8 117.8,176.2 111.2,169.8 107.2,168.2 104.2,169.2 102.2,171.8 101.8,177.8 100.2,181.2 101.2,186.2 100.2,192.8 101.8,197.2 99.2,200.2 98.8,202.2 104.2,206.2 103.2,212.2 104.8,214.8 105.2,219.2 108.2,222.8 110.8,222.2 114.2,219.8 119.8,218.2 123.8,219.8 127.8,219.8 130.8,218.2 144.8,218.2 146.8,220.2 146.8,225.8 148.8,230.2 149.2,235.2 151.8,239.2 149.2,243.2 150.2,248.2 156.8,253.2 160.2,253.8 166.8,251.8 170.8,253.2 174.8,252.8 176.8,253.8 180.8,259.2 181.8,264.8 178.8,267.2 172.2,268.8 169.2,271.8 164.8,271.8 165.2,278.8 166.2,280.2 164.8,284.2 160.8,285.8 154.2,284.8 151.8,286.8 149.2,286.8 146.2,284.8 142.8,284.8 137.8,286.2 136.8,285.2 136.2,279.2 134.2,277.8 130.8,277.2 128.2,275.2 128.2,272.8 131.8,268.2 132.2,262.2 135.2,259.8 135.2,257.2 129.2,252.8 124.2,250.8 119.8,251.2 118.2,254.8 116.2,256.2 108.2,254.2 102.8,254.2 102.8,260.2 101.8,262.2 93.8,269.8 90.2,267.8 85.2,268.8 82.2,271.2 77.8,270.8 74.8,269.2 72.2,269.2 69.8,270.8 70.8,275.8 69.2,284.2 70.8,288.8 70.8,292.2 67.8,297.8 68.8,301.2 70.8,301.8 78.8,299.8 81.2,302.2 81.2,303.8 83.2,306.2 86.2,306.2 87.8,305.2 88.8,301.2 94.2,300.8 97.2,304.2 101.2,305.2 102.2,304.2 101.8,300.8 105.2,297.8 107.8,297.2 110.2,298.2 112.8,300.8 114.2,305.8 117.2,310.2 117.8,315.2 116.8,317.2 113.2,319.8 107.2,318.8 101.8,319.2 99.8,318.2 97.2,318.2 94.2,320.2 90.2,320.2 87.2,318.8 85.8,319.8 85.8,326.8 83.8,328.8 83.8,330.2 86.2,333.8 83.8,342.2 87.8,348.2 87.2,350.8 84.2,354.8 85.8,362.8 79.8,369.8 73.8,374.2 71.2,379.8 71.8,385.8 68.8,389.2 65.8,390.8 56.8,390.8 53.8,398.8 53.8,406.2 55.8,410.8 55.8,413.2 53.8,418.2 51.8,419.8 47.8,420.8 44.2,424.2 39.2,424.8 34.8,430.8 34.2,433.2 36.8,439.8 41.2,443.8 41.8,446.2 36.8,449.2 34.8,453.8 27.8,453.8 22.2,450.8 20.2,451.8 22.8,456.2 22.2,462.2 18.8,465.2 17.2,470.2 13.2,471.8 13.2,548.8 37.8,548.8 37.8,542.2 39.8,539.2 45.8,536.8 51.8,536.8 52.8,535.2 54.2,519.2 55.2,516.8 53.8,508.8 57.8,505.8 64.8,504.8 69.8,499.8 69.8,494.2 74.8,487.2 81.2,486.8 82.8,485.8 84.8,481.2 84.8,478.2 82.8,473.8 83.2,459.2 91.8,455.2 98.2,453.8 99.8,450.8 100.2,446.8 99.8,440.2 97.8,435.2 100.8,431.8 102.8,425.2 104.2,423.8 109.2,423.8 113.8,419.2 115.8,418.8 117.2,416.2 117.8,408.2 116.8,405.2 117.8,397.8 116.8,390.8 113.8,386.2 115.8,383.8 116.8,378.8 116.2,374.8 117.8,372.2 115.2,365.8 116.8,362.8 116.8,357.8 118.8,352.8 117.8,351.2 114.2,351.2 112.8,349.8 113.2,347.2 120.2,340.2 127.8,339.8 132.8,342.8 133.8,346.8 136.8,351.8 142.8,352.2 148.2,347.2 148.8,339.2 153.2,335.8 158.2,335.2 159.8,334.2 160.8,330.2 160.2,323.2 159.2,322.2 154.8,321.8 148.2,314.2 147.2,312.2 147.2,307.8 148.8,306.2 153.8,307.2 158.2,304.8 160.2,306.8 162.8,314.2 164.8,317.2 167.2,318.8 169.2,317.8 169.8,315.2 171.2,313.8 173.2,313.8 174.8,315.8 174.8,317.8 172.8,320.8 172.8,322.8 173.8,323.8 178.8,323.8 180.2,325.8 180.2,337.8 179.2,340.2 178.8,349.2 185.8,352.2 192.2,352.8 196.8,357.2 196.2,363.2 198.8,368.2 200.2,369.8 204.8,370.2 209.2,375.2 210.8,375.8 212.2,377.8 212.8,381.8 218.2,386.2 225.8,385.8 235.8,388.8 238.8,388.8 241.2,387.2 243.2,387.2 244.2,388.2 254.8,388.2 257.2,386.8 260.8,386.8 265.8,388.2 270.2,387.2 273.2,382.8 273.2,377.8 278.2,372.8 284.2,368.8 287.8,368.2 290.2,366.2 288.8,361.8 290.2,356.8 298.2,350.2 303.8,351.2 305.2,349.8 305.2,348.2 302.2,345.8 301.8,343.8 304.8,340.2 303.8,334.8 307.2,329.2 308.2,322.8 307.2,319.8 303.2,317.8 302.8,307.2 305.8,304.2 312.2,305.2 316.8,303.2 320.8,304.2 321.8,307.8 320.2,311.2 321.2,312.2 328.8,311.8 329.8,312.8 324.2,317.8 324.2,320.2 325.8,321.8 329.2,321.8 340.2,316.2 340.8,313.8 337.8,310.2 334.8,303.2 334.8,300.2 337.8,294.2 337.8,291.2 336.8,290.2 327.8,290.2 321.2,283.8 317.8,284.8 310.8,283.8 308.2,285.2 306.2,285.2 304.2,281.2 303.2,273.2 305.2,271.2 308.8,271.8 311.2,269.2 316.8,268.8 322.2,263.2 322.2,257.8 320.2,255.8 315.8,255.2 310.8,251.2 296.2,251.2 289.8,245.2 288.8,237.8 290.8,234.8 294.2,233.2 300.2,234.2 304.2,230.2 305.8,230.2 308.8,232.2 311.2,231.2 311.2,229.2 309.8,226.8 304.8,222.2 307.2,218.8 307.2,216.2 304.8,209.8 304.8,204.2 306.2,201.2 305.8,193.2 306.8,184.8 308.8,184.2 310.8,185.2 318.8,185.8 321.2,188.8 318.8,197.8 326.8,198.2 329.8,202.2 334.2,205.8 335.2,209.8 338.2,212.2 338.2,215.2 336.8,216.8 336.2,219.2 338.8,224.8 339.2,228.2 335.2,232.2 335.2,235.8 337.8,240.2 338.2,252.8 337.8,257.8 335.2,260.2 334.8,262.2 338.2,267.8 339.8,274.8 345.8,278.2 346.2,284.2 353.2,288.8 359.2,288.2 363.2,285.2 366.2,284.2 367.8,282.8 369.8,270.2 369.2,267.8 365.8,261.8 365.8,258.8 367.2,253.8 371.2,249.8 371.2,247.8 368.8,244.8 368.8,240.8 367.2,236.8 369.2,234.2 371.8,234.2 375.8,236.8 377.8,236.8 379.8,235.2 379.8,224.2 380.8,223.2 383.8,223.2 385.8,221.2 385.8,214.8 384.8,212.8 385.8,206.2 391.2,203.2 395.8,197.8 398.8,197.2 400.8,195.2 401.2,189.8 397.8,185.2 398.2,180.8 399.8,177.8 399.2,172.2 402.2,168.8 408.2,166.8 412.8,167.2 413.8,166.2 413.8,160.2 415.2,156.2 415.8,148.8 416.8,147.2 416.8,144.2 415.2,140.2 415.8,137.8 418.8,135.2 423.8,135.2 428.2,132.2 426.8,129.8 427.2,124.8 431.2,119.2 428.8,113.2 429.2,110.8 432.2,107.2 433.8,103.2 435.8,101.8 437.8,102.2 439.8,101.2 445.8,94.2 447.8,89.2 453.2,83.8 457.8,81.8 461.2,78.2 462.2,76.2 461.8,72.8 464.2,67.2 463.2,59.8 464.8,57.8 464.8,52.2 467.2,49.8 470.2,49.8 472.8,47.8 475.8,47.2 477.2,45.8ZM242.2,358.2 246.2,354.2 249.2,353.2 252.8,353.8 256.8,351.8 260.2,351.8 264.2,354.2 269.8,352.8 271.2,356.2 275.2,361.2 275.8,365.2 271.8,370.2 269.2,370.2 265.8,368.8 260.8,368.8 255.2,371.2 252.2,370.8 246.2,368.2 241.8,362.2ZM288.8,173.8 291.8,169.2 296.2,170.8 303.8,169.2 306.2,171.8 306.8,174.8 304.8,178.2 301.2,179.2 298.8,183.8 295.2,183.8 291.2,182.8 289.2,180.8Z" fill="#7dd685" fill-rule="evenodd"/>
<path d="M104.8,304.2 105.8,305.8 109.2,305.2 107.2,303.2ZM36.8,310.2 37.2,313.2 41.8,317.8 44.2,317.8 47.8,316.2 53.2,319.8 64.8,320.2 69.2,311.8 69.8,308.8 65.8,305.2 59.8,306.2 56.2,304.8 49.2,305.2 46.2,302.8 43.2,302.2 41.2,303.8 40.8,307.8ZM485.8,152.8 481.2,153.2 479.8,154.2 477.8,157.8 478.2,163.8 476.2,165.8 469.2,165.8 463.8,170.8 458.2,182.8 453.8,185.2 450.8,188.2 449.8,194.8 447.8,196.8 444.8,198.2 441.2,201.8 437.2,200.8 435.8,204.8 432.8,205.2 430.8,206.8 429.2,209.2 429.2,215.2 427.2,218.2 423.2,220.2 420.2,220.2 414.2,215.8 409.2,218.8 403.2,218.2 402.8,229.2 398.2,232.2 397.8,234.2 401.2,239.2 400.2,252.8 401.8,255.2 401.8,258.8 400.8,261.2 404.8,263.8 405.8,269.2 407.8,271.8 410.2,271.8 411.8,270.2 414.2,263.2 417.2,261.2 418.2,253.8 419.8,253.2 422.2,254.8 424.8,254.8 426.2,253.8 430.2,248.2 430.2,241.2 433.8,239.2 437.2,235.2 441.8,233.8 445.2,229.2 450.8,228.8 452.8,225.2 451.8,221.2 463.8,211.2 465.2,205.2 469.2,201.8 474.2,202.2 475.2,201.2 474.8,196.2 478.8,191.8 479.2,186.2 481.8,184.2 485.8,184.2ZM440.2,203.2 438.8,205.2 436.2,204.2 438.8,202.8ZM48.2,152.8 39.8,154.8 38.2,156.2 40.2,162.8 44.2,166.8 46.8,166.8 54.2,160.8 54.2,157.2 53.2,155.8ZM478.8,41.2 156.8,41.2 157.2,43.8 161.2,43.2 163.2,45.8 163.2,47.2 161.2,48.8 152.8,46.8 150.2,44.2 149.8,41.2 124.8,41.2 124.2,49.2 120.8,48.2 118.2,45.8 117.8,41.2 99.8,41.2 102.2,45.8 102.2,48.8 98.8,51.8 98.2,54.8 103.8,60.2 102.8,71.2 100.8,75.2 101.2,81.2 98.2,83.2 94.8,81.8 92.2,81.8 89.2,83.8 84.2,83.8 84.2,87.2 86.8,88.2 89.8,86.2 90.2,89.8 89.2,92.2 84.2,95.8 87.2,101.2 87.2,105.2 85.8,110.8 83.8,113.2 88.2,112.2 94.8,116.2 93.8,119.2 95.2,120.8 98.8,117.2 109.2,117.2 113.2,114.8 115.8,115.8 116.8,117.2 116.8,128.8 119.2,131.8 126.2,134.2 128.8,129.2 131.2,129.8 133.2,132.2 136.8,134.2 143.8,133.8 146.2,134.8 150.2,134.8 153.8,132.8 159.8,133.8 161.8,136.2 164.8,144.8 163.8,152.2 165.2,156.2 164.8,162.8 165.8,164.2 172.2,168.2 176.8,168.8 179.2,170.8 180.2,173.8 180.2,180.2 177.2,182.2 176.2,184.2 178.8,186.2 181.8,185.2 182.8,188.8 180.2,192.2 178.2,197.8 179.2,204.8 181.2,209.2 180.2,212.8 181.2,227.8 176.8,234.2 173.8,234.8 170.2,237.8 168.2,237.8 166.8,236.2 167.2,233.2 165.8,230.8 166.2,226.2 161.8,218.2 161.2,214.2 159.2,209.8 160.8,208.2 167.8,205.2 167.8,204.2 160.8,196.8 160.8,195.2 164.2,192.2 164.2,189.8 159.8,184.8 153.8,186.8 151.2,186.2 148.8,184.2 148.8,174.2 146.2,169.2 149.8,162.8 149.8,160.2 147.2,155.8 140.2,153.2 136.8,153.2 134.2,155.2 132.2,169.2 132.2,173.2 133.2,175.8 130.8,179.2 133.8,183.8 132.2,195.2 126.8,199.2 124.2,202.8 119.2,202.8 116.2,200.8 116.8,195.2 115.8,189.2 118.8,178.8 117.8,176.2 111.2,169.8 107.2,168.2 104.2,169.2 102.2,171.8 101.8,177.8 100.2,181.2 101.2,186.2 100.2,192.8 101.8,197.2 99.2,200.2 98.8,202.2 104.2,206.2 103.2,212.2 104.8,214.8 105.2,219.2 108.2,222.8 110.8,222.2 114.2,219.8 119.8,218.2 123.8,219.8 127.8,219.8 130.8,218.2 144.8,218.2 146.8,220.2 146.8,225.8 148.8,230.2 149.2,235.2 151.8,239.2 149.2,243.2 150.2,248.2 156.8,253.2 160.2,253.8 166.8,251.8 170.8,253.2 174.8,252.8 176.8,253.8 180.8,259.2 181.8,264.8 178.8,267.2 172.2,268.8 169.2,271.8 164.8,271.8 165.2,278.8 166.2,280.2 164.8,284.2 160.8,285.8 154.2,284.8 151.8,286.8 149.2,286.8 146.2,284.8 142.8,284.8 137.8,286.2 136.8,285.2 136.2,279.2 134.2,277.8 130.8,277.2 128.2,275.2 128.2,272.8 131.8,268.2 132.2,262.2 135.2,259.8 135.2,257.2 129.2,252.8 124.2,250.8 119.8,251.2 118.2,254.8 116.2,256.2 108.2,254.2 102.8,254.2 102.8,260.2 101.8,262.2 93.8,269.8 90.2,267.8 85.2,268.8 82.2,271.2 77.8,270.8 74.8,269.2 72.2,269.2 69.8,270.8 70.8,275.8 69.2,284.2 70.8,288.8 70.8,292.2 67.8,297.8 68.8,301.2 70.8,301.8 78.8,299.8 81.2,302.2 81.2,303.8 83.2,306.2 86.2,306.2 87.8,305.2 88.8,301.2 94.2,300.8 97.2,304.2 101.2,305.2 102.2,304.2 101.8,300.8 105.2,297.8 107.8,297.2 110.2,298.2 112.8,300.8 114.2,305.8 117.2,310.2 117.8,315.2 116.8,317.2 113.2,319.8 107.2,318.8 101.8,319.2 99.8,318.2 97.2,318.2 94.2,320.2 90.2,320.2 87.2,318.8 85.8,319.8 85.8,326.8 83.8,328.8 83.8,330.2 86.2,333.8 83.8,342.2 87.8,348.2 87.2,350.8 84.2,354.8 85.8,362.8 79.8,369.8 73.8,374.2 71.2,379.8 71.8,385.8 68.8,389.2 65.8,390.8 56.8,390.8 53.8,398.8 53.8,406.2 55.8,410.8 55.8,413.2 53.8,418.2 51.8,419.8 47.8,420.8 44.2,424.2 39.2,424.8 34.8,430.8 34.2,433.2 36.8,439.8 41.2,443.8 41.8,446.2 36.8,449.2 34.8,453.8 27.8,453.8 22.2,450.8 20.2,451.8 22.8,456.2 22.2,462.2 18.8,465.2 17.2,470.2 13.2,471.8 13.2,548.8 37.8,548.8 37.8,542.2 39.8,539.2 45.8,536.8 51.8,536.8 52.8,535.2 54.2,519.2 55.2,516.8 53.8,508.8 57.8,505.8 64.8,504.8 69.8,499.8 69.8,494.2 74.8,487.2 81.2,486.8 82.8,485.8 84.8,481.2 84.8,478.2 82.8,473.8 83.2,459.2 91.8,455.2 98.2,453.8 99.8,450.8 100.2,446.8 99.8,440.2 97.8,435.2 100.8,431.8 102.8,425.2 104.2,423.8 109.2,423.8 113.8,419.2 115.8,418.8 117.2,416.2 117.8,408.2 116.8,405.2 117.8,397.8 116.8,390.8 113.8,386.2 115.8,383.8 116.8,378.8 116.2,374.8 117.8,372.2 115.2,365.8 116.8,362.8 116.8,357.8 118.8,352.8 117.8,351.2 114.2,351.2 112.8,349.8 113.2,347.2 120.2,340.2 127.8,339.8 132.8,342.8 133.8,346.8 136.8,351.8 142.8,352.2 148.2,347.2 148.8,339.2 153.2,335.8 158.2,335.2 159.8,334.2 160.8,330.2 160.2,323.2 159.2,322.2 154.8,321.8 148.2,314.2 147.2,312.2 147.2,307.8 148.8,306.2 153.8,307.2 158.2,304.8 160.2,306.8 162.8,314.2 164.8,317.2 167.2,318.8 169.2,317.8 169.8,315.2 171.2,313.8 173.2,313.8 174.8,315.8 174.8,317.8 172.8,320.8 172.8,322.8 173.8,323.8 178.8,323.8 180.2,325.8 180.2,337.8 179.2,340.2 178.8,349.2 185.8,352.2 192.2,352.8 196.8,357.2 196.2,363.2 198.8,368.2 200.2,369.8 204.8,370.2 209.2,375.2 210.8,375.8 212.2,377.8 212.8,381.8 218.2,386.2 225.8,385.8 235.8,388.8 238.8,388.8 241.2,387.2 243.2,387.2 244.2,388.2 254.8,388.2 257.2,386.8 260.8,386.8 265.8,388.2 270.2,387.2 273.2,382.8 273.2,377.8 278.2,372.8 284.2,368.8 287.8,368.2 290.2,366.2 288.8,361.8 290.2,356.8 298.2,350.2 303.8,351.2 305.2,349.8 305.2,348.2 302.2,345.8 301.8,343.8 304.8,340.2 303.8,334.8 307.2,329.2 308.2,322.8 307.2,319.8 303.2,317.8 302.8,307.2 305.8,304.2 312.2,305.2 316.8,303.2 320.8,304.2 321.8,307.8 320.2,311.2 321.2,312.2 328.8,311.8 329.8,312.8 324.2,317.8 324.2,320.2 325.8,321.8 329.2,321.8 340.2,316.2 340.8,313.8 337.8,310.2 334.8,303.2 334.8,300.2 337.8,294.2 337.8,291.2 336.8,290.2 327.8,290.2 321.2,283.8 317.8,284.8 310.8,283.8 308.2,285.2 306.2,285.2 304.2,281.2 303.2,273.2 305.2,271.2 308.8,271.8 311.2,269.2 316.8,268.8 322.2,263.2 322.2,257.8 320.2,255.8 315.8,255.2 310.8,251.2 296.2,251.2 289.8,245.2 288.8,237.8 290.8,234.8 294.2,233.2 300.2,234.2 304.2,230.2 305.8,230.2 308.8,232.2 311.2,231.2 311.2,229.2 309.8,226.8 304.8,222.2 307.2,218.8 307.2,216.2 304.8,209.8 304.8,204.2 306.2,201.2 305.8,193.2 306.8,184.8 308.8,184.2 310.8,185.2 318.8,185.8 321.2,188.8 318.8,197.8 326.8,198.2 329.8,202.2 334.2,205.8 335.2,209.8 338.2,212.2 338.2,215.2 336.8,216.8 336.2,219.2 338.8,224.8 339.2,228.2 335.2,232.2 335.2,235.8 337.8,240.2 338.2,252.8 337.8,257.8 335.2,260.2 334.8,262.2 338.2,267.8 339.8,274.8 345.8,278.2 346.2,284.2 353.2,288.8 359.2,288.2 363.2,285.2 366.2,284.2 367.8,282.8 369.8,270.2 369.2,267.8 365.8,261.8 365.8,258.8 367.2,253.8 371.2,249.8 371.2,247.8 368.8,244.8 368.8,240.8 367.2,236.8 369.2,234.2 371.8,234.2 375.8,236.8 377.8,236.8 379.8,235.2 379.8,224.2 380.8,223.2 383.8,223.2 385.8,221.2 385.8,214.8 384.8,212.8 385.8,206.2 391.2,203.2 395.8,197.8 398.8,197.2 400.8,195.2 401.2,189.8 397.8,185.2 398.2,180.8 399.8,177.8 399.2,172.2 402.2,168.8 408.2,166.8 412.8,167.2 413.8,166.2 413.8,160.2 415.2,156.2 415.8,148.8 416.8,147.2 416.8,144.2 415.2,140.2 415.8,137.8 418.8,135.2 423.8,135.2 428.2,132.2 426.8,129.8 427.2,124.8 431.2,119.2 428.8,113.2 429.2,110.8 432.2,107.2 433.8,103.2 435.8,101.8 437.8,102.2 439.8,101.2 445.8,94.2 447.8,89.2 453.2,83.8 457.8,81.8 461.2,78.2 462.2,76.2 461.8,72.8 464.2,67.2 463.2,59.8 464.8,57.8 464.8,52.2 467.2,49.8 470.2,49.8 472.8,47.8 475.8,47.2 477.2,45.8ZM242.2,358.2 246.2,354.2 249.2,353.2 252.8,353.8 256.8,351.8 260.2,351.8 264.2,354.2 269.8,352.8 271.2,356.2 275.2,361.2 275.8,365.2 271.8,370.2 269.2,370.2 265.8,368.8 260.8,368.8 255.2,371.2 252.2,370.8 246.2,368.2 241.8,362.2ZM288.8,173.8 291.8,169.2 296.2,170.8 303.8,169.2 306.2,171.8 306.8,174.8 304.8,178.2 301.2,179.2 298.8,183.8 295.2,183.8 291.2,182.8 289.2,180.8Z" fill="none" stroke="#000" stroke-width="1.1" stroke-linejoin="round"/>
<path d="M401.2,234.8 402.2,238.8 401.8,245.8 406.2,249.2 406.8,251.8 408.2,253.2 411.8,253.2 418.8,244.2 418.8,241.8 414.8,240.2 408.2,234.2 405.2,233.8ZM136.2,67.8 134.2,69.2 134.2,71.2 137.8,72.2 138.8,71.8 139.2,69.2 137.8,67.8ZM478.8,41.2 178.8,41.2 177.8,47.2 174.8,51.2 171.8,51.8 170.2,50.8 167.8,50.8 165.8,52.2 166.2,56.2 161.8,60.2 160.8,62.2 161.8,65.2 161.2,66.8 160.2,66.8 158.8,64.8 156.2,64.2 152.2,67.8 148.2,69.2 148.8,78.2 147.8,81.8 145.8,83.8 143.2,84.2 141.2,82.8 139.8,79.8 135.8,79.8 133.8,78.8 126.2,68.8 123.2,68.8 121.2,70.2 122.2,75.8 118.8,79.2 117.2,84.8 118.2,88.2 116.8,98.2 117.8,105.8 115.8,108.2 115.8,110.8 117.2,112.8 119.8,113.8 122.8,117.8 126.8,117.2 130.8,114.8 151.2,114.8 156.2,112.8 159.8,112.8 162.8,114.2 163.8,113.2 161.2,111.2 161.2,110.2 164.8,106.8 166.8,102.2 171.2,99.2 174.2,99.2 182.2,109.8 182.8,116.2 179.2,119.8 179.2,122.2 181.2,126.8 180.8,129.8 179.2,131.2 174.8,131.2 168.8,135.8 169.8,137.8 169.2,140.8 167.8,141.8 164.8,141.8 164.8,146.8 163.8,149.2 163.8,152.2 165.2,156.2 164.8,162.8 165.8,164.2 172.2,168.2 176.8,168.8 179.2,170.8 180.2,173.8 180.2,180.2 177.2,182.2 176.2,184.2 178.8,186.2 181.8,185.2 182.8,186.8 182.8,188.8 179.8,193.2 178.2,198.2 179.2,204.8 181.2,208.8 181.2,214.8 186.2,219.2 193.8,218.8 195.2,220.2 195.2,222.8 191.8,226.2 191.8,227.8 195.8,231.2 196.2,234.2 193.2,238.8 195.2,243.8 189.2,248.8 188.8,252.8 187.2,253.2 184.2,251.2 182.8,251.2 181.8,252.8 182.2,265.8 180.2,268.2 176.8,270.2 175.2,272.8 178.2,280.2 168.8,288.8 166.8,289.8 162.2,289.8 163.2,294.2 162.2,296.8 162.8,302.8 161.8,307.2 163.2,313.2 166.8,316.8 168.2,317.2 170.8,313.8 173.2,313.8 174.8,315.8 174.8,318.2 172.8,321.2 174.2,323.8 178.8,323.8 180.2,325.8 180.2,337.8 179.2,340.2 178.8,349.2 185.8,352.2 194.2,351.8 198.8,355.2 204.2,354.2 206.8,354.8 210.8,358.8 210.8,363.2 214.8,366.8 214.8,368.2 213.2,370.2 210.8,371.2 209.8,373.2 212.8,375.8 212.2,380.2 213.2,382.2 218.2,386.2 225.8,385.8 229.2,387.2 237.2,388.2 238.8,386.8 240.2,381.2 243.8,378.8 246.8,373.2 246.8,371.8 241.8,363.2 241.8,359.2 244.8,355.2 249.2,353.2 252.8,353.8 256.8,351.8 260.2,351.8 264.2,354.2 265.8,354.2 267.8,352.8 269.8,352.8 271.2,356.2 275.2,360.8 276.2,363.8 276.2,369.2 277.8,370.8 279.8,371.2 284.2,368.8 288.8,367.8 290.2,365.8 288.8,362.2 288.8,358.8 290.8,353.8 289.8,348.8 292.2,340.8 289.8,332.2 292.8,327.8 293.2,324.8 301.8,315.8 303.2,306.2 305.8,304.2 310.2,305.2 312.2,304.8 322.2,295.2 319.2,290.8 319.8,287.2 318.8,285.8 311.2,284.8 306.8,287.2 304.8,287.2 301.2,283.8 295.2,284.2 293.2,286.2 291.2,284.8 293.2,279.8 293.2,271.8 294.8,270.2 299.2,269.8 301.8,268.2 305.8,261.8 303.2,257.8 302.2,253.8 296.8,251.8 290.2,246.2 288.8,237.8 289.8,235.8 292.8,233.8 296.8,233.2 300.2,234.2 304.2,230.2 305.8,230.2 308.8,232.2 311.2,231.2 311.2,229.2 309.8,226.8 304.8,222.2 307.2,218.8 307.2,216.2 304.8,209.8 304.8,204.2 306.2,201.2 305.8,193.2 307.2,184.2 311.2,185.2 320.2,184.2 326.2,187.8 328.2,187.2 330.8,184.8 333.2,184.8 339.2,193.2 341.8,199.2 345.8,203.2 349.2,204.2 350.8,205.8 350.2,210.2 353.2,217.2 349.8,220.2 343.8,219.2 339.8,221.2 338.8,223.2 339.2,228.8 335.2,232.2 335.2,235.8 337.8,240.2 338.2,249.2 337.8,258.2 335.2,260.8 335.2,262.2 336.2,263.8 341.8,265.2 345.2,268.2 349.2,268.8 350.8,270.2 353.2,275.8 353.2,279.8 355.8,283.8 355.8,286.8 356.8,287.8 359.8,287.8 367.8,282.8 369.8,270.2 369.2,267.8 365.8,261.8 366.2,255.8 371.2,249.8 371.2,247.8 368.8,244.8 368.8,240.8 367.2,236.8 369.2,234.2 371.8,234.2 375.8,236.8 377.8,236.8 379.8,235.2 380.2,230.2 379.8,226.8 377.8,223.8 379.2,218.8 374.8,216.8 371.8,214.2 367.8,213.2 365.8,211.2 365.8,209.2 368.8,205.8 369.2,203.2 368.2,194.8 369.8,191.8 369.8,189.2 374.2,184.8 382.2,181.8 385.2,179.2 385.8,171.8 391.2,166.2 393.2,165.8 397.2,166.8 399.8,164.8 400.2,153.2 401.8,151.8 406.2,151.8 413.2,149.2 416.2,145.8 415.2,139.2 417.8,135.8 423.8,135.2 427.8,133.2 428.2,131.8 426.8,129.8 427.2,124.8 431.2,119.2 428.8,113.2 429.2,110.8 432.2,107.2 433.8,103.2 435.8,101.8 437.8,102.2 439.8,101.2 445.8,94.2 447.8,89.2 453.2,83.8 457.8,81.8 461.2,78.2 462.2,76.2 461.8,72.8 464.2,67.2 463.2,59.8 464.8,57.8 464.8,52.2 467.2,49.8 470.2,49.8 472.8,47.8 475.8,47.2 477.2,45.8ZM264.2,117.8 270.8,116.2 278.8,116.2 287.2,119.8 289.2,122.2 288.2,131.2 290.2,134.8 291.8,135.2 293.8,133.8 296.8,133.2 306.2,139.8 306.8,147.2 307.8,149.2 307.8,153.2 305.8,158.2 307.2,173.8 306.2,177.2 305.2,178.2 302.8,178.2 298.8,183.8 291.2,182.8 288.8,179.8 288.8,168.8 287.2,164.8 287.2,160.2 291.2,153.8 290.2,147.8 292.2,143.2 291.8,138.8 290.2,138.2 288.8,139.2 286.2,139.2 282.2,135.2 277.2,136.2 272.2,134.2 265.8,134.2 263.8,130.8 259.8,127.8 261.8,120.8Z" fill="#d0d8ff" fill-rule="evenodd"/>
<path d="M401.2,234.8 402.2,238.8 401.8,245.8 406.2,249.2 406.8,251.8 408.2,253.2 411.8,253.2 418.8,244.2 418.8,241.8 414.8,240.2 408.2,234.2 405.2,233.8ZM478.8,41.2 210.2,41.2 209.8,43.2 203.2,48.2 200.8,48.8 196.8,47.2 192.8,47.2 188.8,49.2 185.2,49.2 182.2,50.8 180.8,53.8 181.2,60.2 177.8,64.2 175.2,65.8 170.2,66.2 166.8,70.8 160.8,74.2 156.2,80.2 152.8,80.2 147.2,84.8 141.2,84.8 139.2,81.8 136.8,82.2 135.8,84.2 136.2,87.8 135.2,90.8 133.2,92.2 129.2,93.2 123.8,98.2 119.2,100.8 118.8,105.8 115.8,108.8 115.8,110.8 117.2,112.8 119.8,113.8 122.8,117.8 126.8,117.2 130.2,114.8 151.2,114.8 156.2,112.8 159.8,112.8 162.8,114.2 163.8,113.2 161.2,111.2 161.2,110.2 164.8,106.8 166.8,102.2 171.2,99.2 174.2,99.2 181.8,108.2 182.8,116.2 179.2,119.8 179.2,122.2 181.8,127.2 181.2,139.2 176.2,145.8 176.2,148.8 174.8,150.8 172.2,151.2 168.2,150.2 166.8,151.2 164.8,162.8 165.8,164.2 172.2,168.2 176.8,168.8 179.2,170.8 180.2,173.8 180.2,180.2 177.2,182.2 176.2,184.2 178.8,186.2 181.8,185.2 182.8,186.8 182.2,190.2 179.8,194.2 180.8,199.2 183.8,200.8 195.2,201.8 196.8,203.2 196.8,208.2 195.2,211.2 195.2,213.8 196.8,216.8 196.8,221.8 192.2,226.2 192.2,227.8 196.2,232.8 196.2,234.2 193.2,238.8 195.2,242.8 195.2,244.8 192.2,247.8 191.8,249.8 192.8,253.2 197.2,260.8 197.2,264.8 195.2,266.2 190.8,265.8 181.8,270.8 177.2,271.2 175.8,272.8 175.8,274.8 178.8,278.2 178.8,281.8 176.8,284.2 176.8,287.2 179.2,291.8 178.8,294.8 180.2,298.8 180.2,307.2 179.2,311.2 180.8,314.2 180.8,317.2 178.2,321.8 180.2,323.8 180.8,328.8 178.8,349.2 185.8,352.2 194.2,351.8 198.8,355.2 204.2,354.2 206.8,354.8 210.8,358.8 210.8,363.2 214.8,366.8 214.2,369.2 210.8,371.2 209.8,373.2 212.8,375.8 212.2,380.2 213.2,382.2 218.2,386.2 225.8,385.8 229.2,387.2 237.2,388.2 238.8,386.8 240.2,381.2 243.8,378.8 246.8,373.2 246.8,371.8 241.8,363.2 241.8,359.2 244.8,355.2 249.2,353.2 252.8,353.8 256.8,351.8 260.2,351.8 264.2,354.2 265.8,354.2 267.8,352.8 269.8,352.8 271.2,356.2 275.2,360.8 276.2,363.8 276.2,369.2 277.8,370.8 279.8,371.2 284.2,368.8 288.8,367.8 290.2,365.8 288.8,362.2 288.8,358.8 290.8,353.8 289.8,348.8 292.2,340.8 289.8,332.2 292.8,327.8 293.2,324.8 301.8,315.8 303.2,306.2 305.8,304.2 310.2,305.2 312.2,304.8 322.2,295.2 319.2,290.8 319.8,287.2 318.8,285.8 311.2,284.8 306.8,287.2 304.8,287.2 301.2,283.8 295.2,284.2 293.2,286.2 291.2,284.8 293.2,279.8 293.2,271.8 294.8,270.2 299.2,269.8 301.8,268.2 305.8,261.8 303.2,257.8 302.2,253.8 296.8,251.8 290.2,246.2 288.8,237.8 289.8,235.8 292.8,233.8 296.8,233.2 300.2,234.2 304.2,230.2 305.8,230.2 308.8,232.2 311.2,231.2 311.2,229.2 309.8,226.8 304.8,222.2 307.2,218.8 307.2,216.2 304.8,209.8 304.8,204.2 306.2,201.2 305.8,193.2 307.2,184.2 311.2,185.2 320.2,184.2 326.2,187.8 328.2,187.2 330.8,184.8 333.2,184.8 339.2,193.2 341.8,199.2 345.8,203.2 349.2,204.2 350.8,205.8 350.2,210.2 353.2,217.2 349.8,220.2 343.8,219.2 339.8,221.2 338.8,223.2 339.2,228.8 335.2,232.2 335.2,235.8 337.8,240.2 338.2,249.2 337.8,258.2 335.2,260.8 335.2,262.2 336.2,263.8 341.8,265.2 345.2,268.2 349.2,268.8 350.8,270.2 353.2,275.8 353.2,279.8 355.8,283.8 355.8,286.8 356.8,287.8 359.8,287.8 367.8,282.8 369.8,270.2 369.2,267.8 365.8,261.8 366.2,255.8 371.2,249.8 371.2,247.8 368.8,244.8 368.8,240.8 367.2,236.8 369.2,234.2 371.8,234.2 375.8,236.8 377.8,236.8 379.8,235.2 380.2,230.2 379.8,226.8 377.8,223.8 379.2,218.8 374.8,216.8 371.8,214.2 367.8,213.2 365.8,211.2 365.8,209.2 368.8,205.8 369.2,203.2 368.2,194.8 369.8,191.8 369.8,189.2 374.2,184.8 382.2,181.8 385.2,179.2 385.8,171.8 391.2,166.2 393.2,165.8 397.2,166.8 399.8,164.8 400.2,153.2 401.8,151.8 406.2,151.8 413.2,149.2 416.2,145.8 415.2,139.2 417.8,135.8 423.8,135.2 427.8,133.2 428.2,131.8 426.8,129.8 427.2,124.8 431.2,119.2 428.8,113.2 429.2,110.8 432.2,107.2 433.8,103.2 435.8,101.8 437.8,102.2 439.8,101.2 445.8,94.2 447.8,89.2 453.2,83.8 457.8,81.8 461.2,78.2 462.2,76.2 461.8,72.8 464.2,67.2 463.2,59.8 464.8,57.8 464.8,52.2 467.2,49.8 470.2,49.8 472.8,47.8 475.8,47.2 477.2,45.8ZM264.2,117.8 270.8,116.2 278.8,116.2 287.2,119.8 289.2,122.2 288.2,131.2 290.2,134.8 291.8,135.2 293.8,133.8 296.8,133.2 306.2,139.8 306.8,147.2 307.8,149.2 307.8,153.2 305.8,158.2 307.2,173.8 306.2,177.2 305.2,178.2 302.8,178.2 298.8,183.8 291.2,182.8 288.8,179.8 288.8,168.8 287.2,164.8 287.2,160.2 291.2,153.8 290.2,147.8 292.2,143.2 291.8,138.8 290.2,138.2 288.8,139.2 286.2,139.2 282.2,135.2 277.2,136.2 272.2,134.2 265.8,134.2 263.8,130.8 259.8,127.8 261.8,120.8ZM205.2,80.8 207.8,82.8 211.8,88.8 209.8,92.8 209.2,98.2 207.8,99.8 203.8,99.8 200.8,101.2 198.2,101.2 195.2,98.2 195.2,92.2 198.8,83.8 202.8,80.8Z" fill="#80b8ff" fill-rule="evenodd"/>
<path d="M339.2,222.2 339.2,228.8 335.2,232.2 335.2,235.8 338.2,241.8 338.8,248.2 341.8,252.8 349.2,254.8 351.8,254.2 351.8,252.2 353.8,250.2 367.8,250.2 369.8,248.8 368.2,245.2 367.8,240.8 361.2,236.8 357.8,230.8 352.2,224.8 349.8,224.8 347.8,221.2 345.2,219.2 343.8,219.2ZM130.2,107.8 131.8,111.8 136.8,113.8 145.2,113.2 148.8,110.8 148.8,107.8 146.2,104.2 140.8,103.8 137.8,102.2 134.8,102.8ZM478.8,41.2 226.8,41.2 225.8,48.2 227.2,50.8 227.2,60.8 224.8,63.8 219.8,65.2 216.2,68.2 211.8,68.2 206.8,64.8 203.2,64.8 199.2,68.2 198.8,72.2 199.8,76.2 197.8,79.8 198.8,80.8 205.2,80.2 211.2,84.2 214.8,84.2 219.2,82.8 221.8,83.2 224.8,86.8 225.2,92.2 220.2,97.8 213.2,100.2 204.2,100.2 199.8,102.2 192.8,100.2 188.2,103.8 184.8,103.8 182.8,101.2 181.2,101.2 179.8,102.8 182.2,108.2 182.8,116.2 179.2,119.8 179.2,122.2 181.8,127.2 181.2,139.2 177.8,145.2 177.8,147.8 179.2,150.8 178.8,157.8 179.2,160.2 181.2,162.2 190.2,166.2 194.2,170.8 196.8,177.2 195.8,182.8 196.8,189.8 194.8,192.8 194.8,195.8 198.8,201.2 195.2,211.8 196.8,216.8 196.8,221.8 192.2,226.2 192.2,227.8 195.8,231.2 196.2,234.2 193.2,238.8 195.2,242.8 195.2,244.8 192.2,247.8 191.8,249.8 192.8,253.2 197.2,260.8 197.2,264.8 195.2,266.2 190.8,265.8 181.8,270.8 177.2,271.2 175.8,272.8 175.8,274.8 178.8,278.2 178.8,281.8 176.8,284.2 176.8,287.2 179.2,291.8 178.8,294.8 180.2,298.8 180.2,307.2 179.2,310.8 181.8,315.2 182.2,318.2 183.8,319.8 191.2,320.2 196.2,325.8 196.8,329.8 200.8,335.2 202.8,336.2 208.2,336.2 209.8,337.8 210.2,340.2 212.8,343.8 211.8,348.2 215.8,354.8 221.2,355.8 229.8,352.2 234.8,352.2 237.8,351.2 242.8,345.8 242.8,338.2 245.2,336.2 250.2,336.2 259.2,340.8 261.2,343.8 261.2,349.8 264.2,353.2 268.2,351.8 277.2,352.2 281.2,349.8 285.8,353.2 288.2,352.8 288.8,348.2 291.2,345.2 292.2,340.8 291.8,337.2 289.8,334.2 289.8,332.2 292.2,328.2 292.2,323.2 289.2,319.8 289.2,317.8 291.2,313.8 291.8,306.2 296.8,301.8 303.2,300.8 305.8,298.2 305.8,293.2 303.2,290.2 300.8,284.2 295.8,284.2 293.8,286.2 291.2,285.2 293.2,276.8 291.2,272.8 291.8,265.8 288.8,260.2 289.2,255.8 291.2,253.2 291.2,249.8 289.2,245.8 289.8,241.8 288.8,237.8 289.8,235.8 292.8,233.8 296.8,233.2 300.2,234.2 304.2,230.2 305.8,230.2 308.8,232.2 311.2,231.2 311.2,229.2 309.8,226.8 304.8,222.2 307.2,218.8 307.2,216.2 304.8,209.8 304.8,204.2 306.2,201.2 305.8,193.2 306.8,184.8 309.2,184.2 313.2,185.2 319.8,182.8 322.2,177.8 325.8,174.8 325.8,170.8 327.8,167.8 334.8,166.8 340.2,167.8 343.2,165.2 345.8,165.2 353.8,178.2 353.8,189.8 351.8,194.2 352.8,198.2 352.8,205.2 351.2,208.8 351.2,211.2 353.8,213.8 358.2,216.2 361.2,216.8 364.2,219.2 368.2,219.2 369.8,221.2 369.2,223.2 371.2,231.2 375.2,236.2 378.8,236.2 379.8,234.8 379.8,227.2 377.2,223.2 379.2,219.8 378.8,218.2 374.8,217.2 371.2,214.8 368.8,214.8 365.2,211.8 365.2,209.8 368.2,206.2 369.2,203.2 368.2,194.8 370.2,188.2 374.2,184.8 382.2,181.8 385.2,179.2 385.8,171.8 391.2,166.2 393.2,165.8 397.2,166.8 399.8,164.8 400.2,153.2 401.8,151.8 406.2,151.8 413.2,149.2 416.2,145.8 415.2,139.2 417.8,135.8 423.8,135.2 427.8,133.2 428.2,131.8 426.8,129.8 427.2,124.8 431.2,119.2 428.8,113.2 429.2,110.8 432.2,107.2 433.8,103.2 435.8,101.8 437.8,102.2 439.8,101.2 445.8,94.2 447.8,89.2 453.2,83.8 457.8,81.8 461.2,78.2 462.2,76.2 461.8,72.8 464.2,67.2 463.2,59.8 464.8,57.8 464.8,52.2 467.2,49.8 470.2,49.8 472.8,47.8 475.8,47.2 477.2,45.8ZM194.8,287.8 206.2,285.8 208.8,287.8 210.2,290.2 210.8,294.8 205.8,302.2 202.8,302.2 199.8,300.8 195.8,296.2 192.2,294.2 192.2,291.2ZM320.2,172.2 321.8,171.2 322.8,172.8 321.2,173.8ZM246.2,115.2 251.2,114.2 257.8,118.8 270.2,116.2 278.8,116.2 285.2,118.8 289.2,121.8 289.2,129.8 290.2,131.8 291.8,132.8 297.8,133.2 301.8,137.2 306.2,139.8 306.8,147.2 307.8,149.2 307.8,153.2 305.8,158.2 307.2,173.8 305.2,178.2 302.8,178.2 298.8,183.8 292.8,183.2 289.2,180.8 288.8,168.8 287.2,164.8 287.2,159.2 288.8,156.8 288.8,154.8 283.8,153.8 280.8,149.8 275.8,148.2 273.2,145.8 273.2,138.2 271.2,135.8 263.8,134.2 260.8,137.2 256.8,138.2 249.2,134.2 242.2,126.2 242.2,123.2Z" fill="#4468ff" fill-rule="evenodd"/>
<path d="M253.2,181.8 249.8,184.8 244.2,185.2 242.2,187.8 242.8,192.2 240.8,195.2 240.8,197.2 243.8,199.8 243.8,203.2 242.8,207.8 240.2,211.2 241.8,219.2 238.8,224.2 243.2,229.2 245.2,234.2 246.8,235.8 250.2,237.2 256.2,235.8 257.8,237.2 258.8,239.8 258.8,248.2 255.8,251.8 251.2,252.8 240.8,251.2 236.2,251.8 230.8,256.2 222.8,260.8 222.8,268.8 221.2,270.2 214.2,272.2 211.2,277.2 211.2,283.8 210.2,285.8 211.2,294.8 209.2,298.2 209.2,300.8 210.8,303.8 210.2,314.2 211.2,315.8 218.8,316.2 222.8,315.2 224.8,318.2 234.2,317.2 237.8,319.2 243.8,318.2 252.2,321.2 259.2,327.2 260.8,330.8 261.2,335.2 264.2,337.8 267.2,335.2 272.2,334.2 273.2,333.2 271.8,324.8 274.2,320.2 289.2,315.8 290.8,313.8 290.2,301.8 292.2,298.8 292.2,294.8 288.2,289.8 282.2,287.2 276.8,289.2 271.8,294.2 273.2,298.8 273.2,303.2 275.2,305.8 275.2,308.2 272.2,310.8 271.2,313.8 268.8,316.2 263.8,318.8 260.8,318.8 255.8,315.8 256.2,308.8 253.8,304.8 253.8,302.2 258.2,299.2 258.2,296.2 259.8,293.2 259.8,285.2 260.8,281.8 258.8,277.2 262.2,273.8 263.2,269.2 268.8,267.2 274.2,260.8 274.2,256.2 272.8,253.8 272.8,251.2 276.8,246.8 277.8,244.2 277.2,241.8 274.8,238.2 287.8,232.2 287.8,228.8 289.8,223.8 290.2,210.8 292.8,208.2 293.2,206.2 290.8,202.8 282.8,199.2 280.8,199.2 276.2,202.8 273.8,201.8 271.2,197.8 272.2,191.8 270.2,188.2 267.8,187.8 263.2,184.8 256.8,184.2ZM242.8,154.8 241.8,154.8 242.2,156.2ZM250.2,153.8 249.2,158.8 247.2,162.8 251.8,167.8 260.8,167.8 263.8,164.8 265.2,164.8 267.8,170.8 270.2,170.2 272.2,168.2 272.8,163.8 271.2,160.8 271.2,156.2 268.8,153.2 259.8,151.8 257.8,152.8 252.2,152.2ZM189.8,116.2 185.8,120.8 181.2,121.2 180.2,122.2 181.8,126.8 181.2,139.2 177.8,145.2 177.8,147.8 179.8,152.8 178.8,154.8 179.2,160.2 185.8,164.2 191.2,165.2 193.2,163.2 193.2,159.8 198.8,157.2 199.2,152.8 206.2,149.2 207.2,145.8 210.2,144.2 211.2,135.2 209.8,132.2 210.8,123.2 209.8,121.8 205.2,119.2 198.8,117.8 194.2,117.8 191.8,116.2ZM334.8,42.2 336.2,41.2 334.8,41.2Z" fill="#1428e0" fill-rule="evenodd"/>
<path d="M334.8,42.2 336.2,41.2 334.8,41.2Z" fill="#ffe000" fill-rule="evenodd"/>
<path d="M334.8,42.2 336.2,41.2 334.8,41.2Z" fill="#ff8c00" fill-rule="evenodd"/>
<path d="M334.8,42.2 336.2,41.2 334.8,41.2Z" fill="#ff3000" fill-rule="evenodd"/>
<path d="M334.8,42.2 336.2,41.2 334.8,41.2Z" fill="#c00000" fill-rule="evenodd"/><path d="M225.5,162.9 L227.7,170.1 L224.1,183.0 L221.2,197.3 L218.3,211.7 L214.0,213.1 L214.8,197.3 L218.3,183.0 L221.2,170.1Z" fill="#ffe200" stroke="#000" stroke-width="1.2" stroke-linejoin="round"/>
<path d="M204.0,201.6 L206.9,208.8 L199.7,218.9 L196.8,227.5 L192.5,233.2 L188.2,230.3 L189.6,218.9 L195.4,211.7Z" fill="#ffe200" stroke="#000" stroke-width="1.2" stroke-linejoin="round"/>
<path d="M216.9,217.4 L221.2,221.7 L219.8,233.2 L212.6,236.0 L208.3,233.2 L211.2,223.2Z" fill="#ffe200" stroke="#000" stroke-width="1.2" stroke-linejoin="round"/>
<path d="M196.8,233.2 L199.7,240.4 L201.1,256.2 L199.7,264.8 L195.4,262.0 L192.5,244.7Z" fill="#ffe200" stroke="#000" stroke-width="1.2" stroke-linejoin="round"/>
<path d="M199.7,125.6 L202.6,132.7 L201.1,141.4 L197.5,140.0 L196.8,131.3Z" fill="#ffe200" stroke="#000" stroke-width="1.2" stroke-linejoin="round"/>
<path d="M245.9,187.3 L257.3,183.0 L276.0,184.4 L284.6,190.1 L288.9,204.5 L290.3,218.8 L286.0,228.9 L271.7,224.6 L264.5,218.8 L257.3,223.2 L251.6,218.8 L245.9,211.6 L243.0,204.5Z" fill="#ffe200" stroke="#000" stroke-width="1.2" stroke-linejoin="round"/>
<path d="M267.4,145.6 L270.3,154.3 L264.5,161.4 L261.6,172.9 L255.9,175.8 L251.6,171.5 L254.5,161.4 L261.6,154.3Z" fill="#ffe200" stroke="#000" stroke-width="1.2" stroke-linejoin="round"/>
<path d="M276.0,165.7 L278.9,165.7 L288.9,184.4 L287.5,187.3 L284.6,185.8 L276.0,170.0Z" fill="#ffe200" stroke="#000" stroke-width="1.2" stroke-linejoin="round"/>
<path d="M305.0,176.0 L310.0,178.0 L309.0,187.0 L305.0,186.0Z" fill="#ffe200" stroke="#000" stroke-width="1.2" stroke-linejoin="round"/>
<path d="M320.5,148.5 L333.4,158.6 L331.9,167.2 L326.2,168.6 L321.9,161.4Z" fill="#ffe200" stroke="#000" stroke-width="1.2" stroke-linejoin="round"/>
<path d="M366.4,187.3 L372.1,191.6 L366.4,201.6 L363.5,211.6 L359.2,210.2 L360.6,197.3Z" fill="#ffe200" stroke="#000" stroke-width="1.2" stroke-linejoin="round"/>
<path d="M341.0,225.0 L346.0,227.0 L345.0,237.0 L341.0,236.0Z" fill="#ffe200" stroke="#000" stroke-width="1.2" stroke-linejoin="round"/>
<path d="M366.0,216.0 L372.0,219.0 L370.0,238.0 L365.0,237.0Z" fill="#ffe200" stroke="#000" stroke-width="1.2" stroke-linejoin="round"/>
<path d="M356.0,241.0 L362.0,243.0 L360.0,256.0 L355.0,254.0Z" fill="#ffe200" stroke="#000" stroke-width="1.2" stroke-linejoin="round"/>
<path d="M267.4,233.1 L279.0,237.0 L283.2,247.0 L279.0,253.2 L271.0,247.0 L267.4,240.0Z" fill="#ffe200" stroke="#000" stroke-width="1.2" stroke-linejoin="round"/>
<path d="M210.0,269.0 L229.7,262.3 L245.0,265.5 L257.0,269.8 L261.0,287.0 L264.5,304.6 L261.0,322.0 L250.0,329.6 L229.7,331.2 L215.5,326.3 L208.0,315.5 L207.5,288.2Z" fill="#ffe200" stroke="#000" stroke-width="1.2" stroke-linejoin="round"/>
<path d="M269.0,271.8 L279.0,273.0 L282.2,300.0 L279.0,330.9 L272.0,329.0 L270.0,300.0Z" fill="#ffe200" stroke="#000" stroke-width="1.2" stroke-linejoin="round"/>
<path d="M183.7,286.0 L190.3,285.0 L189.0,294.8 L184.0,294.0Z" fill="#ffe200" stroke="#000" stroke-width="1.2" stroke-linejoin="round"/>
<path d="M193.6,312.0 L203.4,311.2 L201.0,330.9 L195.0,329.0Z" fill="#ffe200" stroke="#000" stroke-width="1.2" stroke-linejoin="round"/>
<path d="M357.6,186.0 L366.0,183.2 L374.0,196.0 L368.0,212.8 L361.0,205.0Z" fill="#ffe200" stroke="#000" stroke-width="1.2" stroke-linejoin="round"/>
<path d="M341.2,230.0 L349.0,222.6 L354.3,232.0 L347.0,245.6 L343.0,240.0Z" fill="#ffe200" stroke="#000" stroke-width="1.2" stroke-linejoin="round"/>
<path d="M194.0,220.0 L200.0,217.0 L198.0,228.0 L193.0,229.0Z" fill="#ff8a00"/>
<path d="M264.5,197.3 L280.0,199.0 L290.0,210.0 L288.0,222.0 L275.0,219.0 L266.0,213.0Z" fill="#ff8a00"/>
<path d="M278.0,168.0 L288.0,185.0 L285.0,186.0 L277.0,172.0Z" fill="#ff8a00"/>
<path d="M322.0,150.0 L331.0,158.0 L329.0,165.0 L323.0,160.0Z" fill="#ff8a00"/>
<path d="M214.0,274.0 L230.0,267.0 L245.0,269.0 L255.0,273.0 L258.0,290.0 L260.0,306.0 L257.0,319.0 L248.0,326.0 L230.0,327.0 L218.0,322.0 L212.0,313.0 L211.0,290.0Z" fill="#ff8a00"/>
<path d="M362.0,190.0 L370.0,193.0 L365.0,204.0 L362.0,208.0Z" fill="#ff8a00"/>
<path d="M223.1,281.7 L242.8,278.4 L252.6,291.5 L252.6,314.5 L242.8,321.0 L226.4,319.4 L218.2,304.6Z" fill="#ff2a00" stroke="#000" stroke-width="0.9" stroke-linejoin="round"/>
<path d="M246.0,252.0 L259.0,250.5 L264.0,265.0 L256.0,275.0 L246.0,273.5 L243.0,263.0Z" fill="#ff2a00" stroke="#000" stroke-width="0.9" stroke-linejoin="round"/>
<path d="M228,290 L236,286 L244,292 M232,305 L241,300 L247,309 M229,312 L236,316" stroke="#000" stroke-width="0.9" fill="none"/></g>
</g>
<line x1="13" y1="49.5" x2="486" y2="49.5" class="dot"/>
<line x1="13" y1="134" x2="486" y2="134" class="dot"/>
<line x1="13" y1="218.6" x2="486" y2="218.6" class="dot"/>
<line x1="13" y1="303.1" x2="486" y2="303.1" class="dot"/>
<line x1="13" y1="387.7" x2="486" y2="387.7" class="dot"/>
<line x1="13" y1="472.2" x2="486" y2="472.2" class="dot"/>
<line x1="53.4" y1="41" x2="53.4" y2="549" class="dot"/>
<line x1="132.2" y1="41" x2="132.2" y2="549" class="dot"/>
<line x1="211" y1="41" x2="211" y2="549" class="dot"/>
<line x1="289.8" y1="41" x2="289.8" y2="549" class="dot"/>
<line x1="368.6" y1="41" x2="368.6" y2="549" class="dot"/>
<line x1="447.4" y1="41" x2="447.4" y2="549" class="dot"/>
<path d="M13.00,50.24 L32.71,64.90 L52.42,79.63 L72.12,94.41 L91.83,109.26 L111.54,124.17 L131.25,139.14 L150.96,154.18 L170.67,169.28 L190.38,184.44 L210.08,199.66 L229.79,214.95 L249.50,230.30 L269.21,245.71 L288.92,261.18 L308.62,276.72 L328.33,292.32 L348.04,307.98 L367.75,323.71 L387.46,339.49 L407.17,355.34 L426.88,371.26 L446.58,387.23 L466.29,403.27 L486.00,419.37" class="sw" style="stroke-dasharray:12.1 11.45"/>
<path d="M13.00,164.53 L32.71,179.31 L52.42,194.15 L72.12,209.06 L91.83,224.02 L111.54,239.04 L131.25,254.12 L150.96,269.26 L170.67,284.46 L190.38,299.73 L210.08,315.05 L229.79,330.43 L249.50,345.87 L269.21,361.37 L288.92,376.94 L308.62,392.56 L328.33,408.24 L348.04,423.98 L367.75,439.79 L387.46,455.65 L407.17,471.57 L426.88,487.55 L446.58,503.59 L466.29,519.70 L486.00,535.86" class="sw" style="stroke-dasharray:12.1 11.4"/>
<path d="M13,165.2 L32.2,160.7 L39,156.8 L49.1,155.9 L62.7,151.7 L72.8,144.9 L76.2,138.1 L83,135.1 L91.5,136.4 L96.6,139.3 L103.7,140.7 L102.5,149.1 L98.3,157.6 L96.6,166.1 L99.1,172 L97.4,181.3 L98.3,191.5 L96.6,199.1 L94,200.8 L89.8,203.3 L88.1,211.8 L88.1,218.6 L86.4,228.7 L85.6,240.6 L83,247.4 L78.8,253.3 L74.5,261 L69.5,266 L66.9,272.8 L64.4,279.6 L60.1,286.4 L57.6,294 L52.5,298.2 L47.4,303.3 L45.7,313.5 L40.7,325.3 L30.5,340.6 L22,355.8 L16.9,369.4 L16.1,379.5 L13,386.3" class="coast"/>
<path d="M94,200.8 L100.8,195.7 L109.3,200 L106.7,202.5 L100.8,200.8 L96,201.5 Z" class="coast"/>
<text x="231.9" y="49.8" class="ll">14</text>
<text x="231.9" y="134.3" class="ll">12</text>
<text x="231.9" y="218.9" class="ll">10</text>
<text x="231.9" y="303.4" class="ll">8</text>
<text x="231.9" y="388" class="ll">6</text>
<text x="231.9" y="472.5" class="ll">4</text>
<text x="54.1" y="281.7" class="ll">50</text>
<text x="132.9" y="281.7" class="ll">52</text>
<text x="211.7" y="281.7" class="ll">54</text>
<text x="290.5" y="281.7" class="ll">56</text>
<text x="369.3" y="281.7" class="ll">58</text>
<text x="448.1" y="281.7" class="ll">60</text>
<path d="M243,292.2h12.8v4.6h-12.8z M247.3,288.2h4.5v12.6h-4.5z" fill="#000"/>
<text x="36.8" y="66" class="ttl">VIRS T<tspan font-size="14" dy="5.4">B11</tspan><tspan dy="-5.4"> (K)</tspan></text>
<text x="438.2" y="522.8" class="let">(g)</text>
<rect x="495.3" y="531.6" width="8.6" height="8.8" fill="#f4f4f4"/>
<rect x="495.3" y="523.1" width="8.6" height="8.8" fill="#ececec"/>
<rect x="495.3" y="514.7" width="8.6" height="8.8" fill="#e4e4e4"/>
<rect x="495.3" y="506.2" width="8.6" height="8.8" fill="#dcdcdc"/>
<rect x="495.3" y="497.8" width="8.6" height="8.8" fill="#d5d5d5"/>
<rect x="495.3" y="489.3" width="8.6" height="8.8" fill="#cdcdcd"/>
<rect x="495.3" y="480.9" width="8.6" height="8.8" fill="#c5c5c5"/>
<rect x="495.3" y="472.4" width="8.6" height="8.8" fill="#bdbdbd"/>
<rect x="495.3" y="463.9" width="8.6" height="8.8" fill="#b5b5b5"/>
<rect x="495.3" y="455.5" width="8.6" height="8.8" fill="#adadad"/>
<rect x="495.3" y="447" width="8.6" height="8.8" fill="#a6a6a6"/>
<rect x="495.3" y="438.6" width="8.6" height="8.8" fill="#9e9e9e"/>
<rect x="495.3" y="430.1" width="8.6" height="8.8" fill="#969696"/>
<rect x="495.3" y="421.7" width="8.6" height="8.8" fill="#8e8e8e"/>
<rect x="495.3" y="413.2" width="8.6" height="8.8" fill="#80e088"/>
<rect x="495.3" y="404.7" width="8.6" height="8.8" fill="#78d880"/>
<rect x="495.3" y="396.3" width="8.6" height="8.8" fill="#70c874"/>
<rect x="495.3" y="387.8" width="8.6" height="8.8" fill="#6cc070"/>
<rect x="495.3" y="379.4" width="8.6" height="8.8" fill="#68b868"/>
<rect x="495.3" y="370.9" width="8.6" height="8.8" fill="#d0d8ff"/>
<rect x="495.3" y="362.5" width="8.6" height="8.8" fill="#b0c8ff"/>
<rect x="495.3" y="354" width="8.6" height="8.8" fill="#98c0ff"/>
<rect x="495.3" y="345.6" width="8.6" height="8.8" fill="#80b8ff"/>
<rect x="495.3" y="337.1" width="8.6" height="8.8" fill="#60b0ff"/>
<rect x="495.3" y="328.6" width="8.6" height="8.8" fill="#4aa8ff"/>
<rect x="495.3" y="320.2" width="8.6" height="8.8" fill="#4090ff"/>
<rect x="495.3" y="311.7" width="8.6" height="8.8" fill="#4070ff"/>
<rect x="495.3" y="303.3" width="8.6" height="8.8" fill="#3a55ff"/>
<rect x="495.3" y="294.8" width="8.6" height="8.8" fill="#2a2aff"/>
<rect x="495.3" y="286.4" width="8.6" height="8.8" fill="#0000ff"/>
<rect x="495.3" y="277.9" width="8.6" height="8.8" fill="#0000f0"/>
<rect x="495.3" y="269.5" width="8.6" height="8.8" fill="#0000e0"/>
<rect x="495.3" y="261" width="8.6" height="8.8" fill="#0000cc"/>
<rect x="495.3" y="252.5" width="8.6" height="8.8" fill="#0000c0"/>
<rect x="495.3" y="244.1" width="8.6" height="8.8" fill="#ffff00"/>
<rect x="495.3" y="235.6" width="8.6" height="8.8" fill="#ffff00"/>
<rect x="495.3" y="227.2" width="8.6" height="8.8" fill="#ffe800"/>
<rect x="495.3" y="218.7" width="8.6" height="8.8" fill="#ffe000"/>
<rect x="495.3" y="210.3" width="8.6" height="8.8" fill="#ffcc00"/>
<rect x="495.3" y="201.8" width="8.6" height="8.8" fill="#ff8c00"/>
<rect x="495.3" y="193.3" width="8.6" height="8.8" fill="#ff8400"/>
<rect x="495.3" y="184.9" width="8.6" height="8.8" fill="#ff8000"/>
<rect x="495.3" y="176.4" width="8.6" height="8.8" fill="#ff7400"/>
<rect x="495.3" y="168" width="8.6" height="8.8" fill="#ff6a00"/>
<rect x="495.3" y="159.5" width="8.6" height="8.8" fill="#ff3a00"/>
<rect x="495.3" y="151.1" width="8.6" height="8.8" fill="#ff3000"/>
<rect x="495.3" y="142.6" width="8.6" height="8.8" fill="#ff2a00"/>
<rect x="495.3" y="134.2" width="8.6" height="8.8" fill="#ff2000"/>
<rect x="495.3" y="125.7" width="8.6" height="8.8" fill="#ff1400"/>
<rect x="495.3" y="117.2" width="8.6" height="8.8" fill="#c40000"/>
<rect x="495.3" y="108.8" width="8.6" height="8.8" fill="#bc0000"/>
<rect x="495.3" y="100.3" width="8.6" height="8.8" fill="#b00000"/>
<rect x="495.3" y="91.9" width="8.6" height="8.8" fill="#a40800"/>
<rect x="495.3" y="83.4" width="8.6" height="8.8" fill="#9c0800"/>
<rect x="495.3" y="75" width="8.6" height="8.8" fill="#600c08"/>
<rect x="495.3" y="66.5" width="8.6" height="8.8" fill="#5e0e0c"/>
<rect x="495.3" y="58.1" width="8.6" height="8.8" fill="#5c120f"/>
<rect x="495.3" y="49.6" width="8.6" height="8.8" fill="#5a1412"/>
<rect x="495.3" y="41.1" width="8.6" height="8.8" fill="#5a1a16"/>
<line x1="503.9" y1="548.5" x2="506.5" y2="548.5" stroke="#000" stroke-width="1"/>
<text x="525" y="556.4" class="cb">304</text>
<line x1="503.9" y1="497.8" x2="506.5" y2="497.8" stroke="#000" stroke-width="1"/>
<text x="525" y="505.7" class="cb">292</text>
<line x1="503.9" y1="447" x2="506.5" y2="447" stroke="#000" stroke-width="1"/>
<text x="525" y="454.9" class="cb">280</text>
<line x1="503.9" y1="396.3" x2="506.5" y2="396.3" stroke="#000" stroke-width="1"/>
<text x="525" y="404.2" class="cb">268</text>
<line x1="503.9" y1="345.6" x2="506.5" y2="345.6" stroke="#000" stroke-width="1"/>
<text x="525" y="353.5" class="cb">256</text>
<line x1="503.9" y1="294.8" x2="506.5" y2="294.8" stroke="#000" stroke-width="1"/>
<text x="525" y="302.7" class="cb">244</text>
<line x1="503.9" y1="244.1" x2="506.5" y2="244.1" stroke="#000" stroke-width="1"/>
<text x="525" y="252" class="cb">232</text>
<line x1="503.9" y1="193.3" x2="506.5" y2="193.3" stroke="#000" stroke-width="1"/>
<text x="525" y="201.2" class="cb">220</text>
<line x1="503.9" y1="142.6" x2="506.5" y2="142.6" stroke="#000" stroke-width="1"/>
<text x="525" y="150.5" class="cb">208</text>
<line x1="503.9" y1="91.9" x2="506.5" y2="91.9" stroke="#000" stroke-width="1"/>
<text x="525" y="99.8" class="cb">196</text>
</g>
<g transform="translate(590.3,1180.7)">
<g clip-path="url(#mapclip)">
<pattern id="ph" patternUnits="userSpaceOnUse" width="26.0" height="26.0" patternTransform="rotate(-37)"><rect x="0.0" y="0.0" width="2.65" height="2.65" fill="#0000ff"/><rect x="0.0" y="2.6" width="2.65" height="2.65" fill="#0000ff"/><rect x="0.0" y="7.8" width="2.65" height="2.65" fill="#0000ff"/><rect x="0.0" y="10.4" width="2.65" height="2.65" fill="#0000ff"/><rect x="0.0" y="13.0" width="2.65" height="2.65" fill="#0000ff"/><rect x="0.0" y="15.6" width="2.65" height="2.65" fill="#0000ff"/><rect x="0.0" y="18.2" width="2.65" height="2.65" fill="#0000ff"/><rect x="0.0" y="20.8" width="2.65" height="2.65" fill="#0000ff"/><rect x="0.0" y="23.4" width="2.65" height="2.65" fill="#0000ff"/><rect x="2.6" y="0.0" width="2.65" height="2.65" fill="#0000ff"/><rect x="2.6" y="2.6" width="2.65" height="2.65" fill="#0000ff"/><rect x="2.6" y="5.2" width="2.65" height="2.65" fill="#0000ff"/><rect x="2.6" y="7.8" width="2.65" height="2.65" fill="#0000ff"/><rect x="2.6" y="10.4" width="2.65" height="2.65" fill="#0000ff"/><rect x="2.6" y="13.0" width="2.65" height="2.65" fill="#0000ff"/><rect x="2.6" y="20.8" width="2.65" height="2.65" fill="#0000ff"/><rect x="2.6" y="23.4" width="2.65" height="2.65" fill="#0000ff"/><rect x="5.2" y="0.0" width="2.65" height="2.65" fill="#0000ff"/><rect x="5.2" y="2.6" width="2.65" height="2.65" fill="#0000ff"/><rect x="5.2" y="5.2" width="2.65" height="2.65" fill="#0000ff"/><rect x="5.2" y="7.8" width="2.65" height="2.65" fill="#0000ff"/><rect x="5.2" y="10.4" width="2.65" height="2.65" fill="#0000ff"/><rect x="5.2" y="13.0" width="2.65" height="2.65" fill="#0000ff"/><rect x="5.2" y="15.6" width="2.65" height="2.65" fill="#0000ff"/><rect x="5.2" y="18.2" width="2.65" height="2.65" fill="#0000ff"/><rect x="5.2" y="20.8" width="2.65" height="2.65" fill="#0000ff"/><rect x="5.2" y="23.4" width="2.65" height="2.65" fill="#0000ff"/><rect x="7.8" y="0.0" width="2.65" height="2.65" fill="#0000ff"/><rect x="7.8" y="2.6" width="2.65" height="2.65" fill="#0000ff"/><rect x="7.8" y="5.2" width="2.65" height="2.65" fill="#0000ff"/><rect x="7.8" y="7.8" width="2.65" height="2.65" fill="#0000ff"/><rect x="7.8" y="10.4" width="2.65" height="2.65" fill="#0000ff"/><rect x="7.8" y="13.0" width="2.65" height="2.65" fill="#0000ff"/><rect x="7.8" y="20.8" width="2.65" height="2.65" fill="#0000ff"/><rect x="7.8" y="23.4" width="2.65" height="2.65" fill="#0000ff"/><rect x="10.4" y="0.0" width="2.65" height="2.65" fill="#0000ff"/><rect x="10.4" y="2.6" width="2.65" height="2.65" fill="#0000ff"/><rect x="10.4" y="5.2" width="2.65" height="2.65" fill="#0000ff"/><rect x="10.4" y="7.8" width="2.65" height="2.65" fill="#0000ff"/><rect x="10.4" y="10.4" width="2.65" height="2.65" fill="#0000ff"/><rect x="10.4" y="13.0" width="2.65" height="2.65" fill="#0000ff"/><rect x="10.4" y="15.6" width="2.65" height="2.65" fill="#0000ff"/><rect x="10.4" y="18.2" width="2.65" height="2.65" fill="#0000ff"/><rect x="10.4" y="23.4" width="2.65" height="2.65" fill="#0000ff"/><rect x="13.0" y="0.0" width="2.65" height="2.65" fill="#0000ff"/><rect x="13.0" y="2.6" width="2.65" height="2.65" fill="#0000ff"/><rect x="13.0" y="7.8" width="2.65" height="2.65" fill="#0000ff"/><rect x="13.0" y="13.0" width="2.65" height="2.65" fill="#0000ff"/><rect x="13.0" y="15.6" width="2.65" height="2.65" fill="#0000ff"/><rect x="13.0" y="18.2" width="2.65" height="2.65" fill="#0000ff"/><rect x="13.0" y="20.8" width="2.65" height="2.65" fill="#0000ff"/><rect x="13.0" y="23.4" width="2.65" height="2.65" fill="#0000ff"/><rect x="15.6" y="0.0" width="2.65" height="2.65" fill="#0000ff"/><rect x="15.6" y="2.6" width="2.65" height="2.65" fill="#0000ff"/><rect x="15.6" y="7.8" width="2.65" height="2.65" fill="#0000ff"/><rect x="15.6" y="10.4" width="2.65" height="2.65" fill="#0000ff"/><rect x="15.6" y="13.0" width="2.65" height="2.65" fill="#0000ff"/><rect x="15.6" y="15.6" width="2.65" height="2.65" fill="#0000ff"/><rect x="15.6" y="18.2" width="2.65" height="2.65" fill="#0000ff"/><rect x="15.6" y="20.8" width="2.65" height="2.65" fill="#0000ff"/><rect x="15.6" y="23.4" width="2.65" height="2.65" fill="#0000ff"/><rect x="18.2" y="0.0" width="2.65" height="2.65" fill="#0000ff"/><rect x="18.2" y="2.6" width="2.65" height="2.65" fill="#0000ff"/><rect x="18.2" y="5.2" width="2.65" height="2.65" fill="#0000ff"/><rect x="18.2" y="7.8" width="2.65" height="2.65" fill="#0000ff"/><rect x="18.2" y="10.4" width="2.65" height="2.65" fill="#0000ff"/><rect x="18.2" y="13.0" width="2.65" height="2.65" fill="#0000ff"/><rect x="18.2" y="15.6" width="2.65" height="2.65" fill="#0000ff"/><rect x="18.2" y="18.2" width="2.65" height="2.65" fill="#0000ff"/><rect x="18.2" y="20.8" width="2.65" height="2.65" fill="#0000ff"/><rect x="18.2" y="23.4" width="2.65" height="2.65" fill="#0000ff"/><rect x="20.8" y="2.6" width="2.65" height="2.65" fill="#0000ff"/><rect x="20.8" y="5.2" width="2.65" height="2.65" fill="#0000ff"/><rect x="20.8" y="10.4" width="2.65" height="2.65" fill="#0000ff"/><rect x="20.8" y="13.0" width="2.65" height="2.65" fill="#0000ff"/><rect x="20.8" y="15.6" width="2.65" height="2.65" fill="#0000ff"/><rect x="20.8" y="18.2" width="2.65" height="2.65" fill="#0000ff"/><rect x="20.8" y="20.8" width="2.65" height="2.65" fill="#0000ff"/><rect x="23.4" y="0.0" width="2.65" height="2.65" fill="#0000ff"/><rect x="23.4" y="2.6" width="2.65" height="2.65" fill="#0000ff"/><rect x="23.4" y="5.2" width="2.65" height="2.65" fill="#0000ff"/><rect x="23.4" y="7.8" width="2.65" height="2.65" fill="#0000ff"/><rect x="23.4" y="10.4" width="2.65" height="2.65" fill="#0000ff"/><rect x="23.4" y="13.0" width="2.65" height="2.65" fill="#0000ff"/><rect x="23.4" y="15.6" width="2.65" height="2.65" fill="#0000ff"/><rect x="23.4" y="18.2" width="2.65" height="2.65" fill="#0000ff"/><rect x="23.4" y="20.8" width="2.65" height="2.65" fill="#0000ff"/><rect x="23.4" y="23.4" width="2.65" height="2.65" fill="#0000ff"/></pattern>
<path d="M219.7,297.5 L220.5,306.2 L225.3,310.9 L230.8,310.1 L234.0,307.0 L238.7,303.0 L245.8,299.1 L247.4,291.1 L246.6,285.6 L243.5,282.5 L245.0,278.5 L249.8,275.3 L254.5,271.4 L262.4,270.6 L274.3,271.4 L287.7,272.2 L289.3,270.6 L283.0,264.3 L279.8,261.1 L283.8,257.2 L276.7,251.6 L268.8,243.7 L264.0,245.3 L259.3,237.4 L254.5,233.4 L251.4,235.0 L246.6,240.6 L243.5,245.3 L238.7,250.0 L234.8,253.2 L229.2,253.2 L225.3,255.6 L222.9,261.1 L222.1,267.4 L226.1,273.8 L229.2,279.3 L227.7,283.2 L226.1,288.8 L222.9,292.7Z" fill="url(#ph)"/>
<path d="M171.5,282.5 L179.4,280.1 L180.2,272.2 L184.2,269.0 L189.7,268.2 L192.9,275.3 L197.6,274.5 L199.2,270.6 L203.1,269.8 L203.1,277.7 L207.1,280.1 L211.8,281.7 L216.6,280.1 L219.7,283.2 L222.1,289.6 L219.7,295.9 L215.0,299.8 L211.8,302.2 L208.7,300.6 L203.9,295.9 L200.8,292.7 L196.0,291.1 L192.9,299.8 L189.7,299.1 L183.4,293.5 L175.5,286.4Z" fill="url(#ph)"/>
<path d="M203.9,306.2 L208.7,303.0 L213.4,307.0 L215.0,318.8 L219.7,322.8 L215.0,322.0 L207.1,314.9 L203.9,310.9Z" fill="url(#ph)"/>
<path d="M258.5,285.6 L262.4,280.9 L268.8,283.2 L275.1,286.4 L275.1,289.6 L269.6,287.2 L263.2,284.8 L260.1,287.2Z" fill="url(#ph)"/>
<path d="M239,263.6 L246,259 L253,254 L260.9,249.4" stroke="#ff4000" stroke-width="4.5" fill="none" stroke-linecap="round"/>
<path d="M265.6,256.5 L271,255 L276.7,257" stroke="#ff4000" stroke-width="4" fill="none" stroke-linecap="round"/>
<ellipse cx="234" cy="271.5" rx="3.5" ry="3" fill="#ff4000"/>
<path d="M258.5,286 L262.4,281 L268.8,284.2 L274.3,287.3" stroke="#ff4000" stroke-width="2.2" fill="none"/>
<rect x="189.8" y="282.7" width="3" height="3" fill="#ff4000" transform="rotate(-37 191.3 284.2)"/>
<rect x="185.8" y="292.9" width="3" height="3" fill="#ff4000" transform="rotate(-37 187.3 294.4)"/>
<rect x="207.2" y="308.7" width="3" height="3" fill="#ff4000" transform="rotate(-37 208.7 310.2)"/>
<rect x="270.4" y="265.3" width="3" height="3" fill="#ff4000" transform="rotate(-37 271.9 266.8)"/>
<rect x="249.9" y="272.4" width="3" height="3" fill="#ff4000" transform="rotate(-37 251.4 273.9)"/>
<rect x="197.7" y="235.2" width="3" height="3" fill="#ff4000" transform="rotate(-37 199.2 236.7)"/>
<rect x="202.4" y="245.5" width="3" height="3" fill="#ff4000" transform="rotate(-37 203.9 247.0)"/>
<rect x="202.4" y="251.0" width="3" height="3" fill="#ff4000" transform="rotate(-37 203.9 252.5)"/>
<rect x="211.9" y="250.2" width="3" height="3" fill="#ff4000" transform="rotate(-37 213.4 251.7)"/>
<rect x="204.8" y="260.5" width="3" height="3" fill="#ff4000" transform="rotate(-37 206.3 262.0)"/>
<rect x="211.9" y="258.9" width="3" height="3" fill="#ff4000" transform="rotate(-37 213.4 260.4)"/>
<rect x="221.4" y="254.2" width="3" height="3" fill="#ff4000" transform="rotate(-37 222.9 255.7)"/>
<rect x="228.5" y="278.5" width="3" height="3" fill="#ff4000" transform="rotate(-37 230.0 280.0)"/>
<rect x="234.5" y="285.5" width="3" height="3" fill="#ff4000" transform="rotate(-37 236.0 287.0)"/>
<ellipse cx="43.5" cy="159.2" rx="4.9" ry="2.2" transform="rotate(30 43.5 159.2)" fill="#0000ff"/>
<ellipse cx="64.6" cy="150.5" rx="2.9" ry="2.0" transform="rotate(0 64.6 150.5)" fill="#0000ff"/>
<ellipse cx="29.4" cy="174.0" rx="0.9" ry="0.9" transform="rotate(0 29.4 174.0)" fill="#0000ff"/>
<ellipse cx="104.1" cy="183.5" rx="1.0" ry="2.0" transform="rotate(25 104.1 183.5)" fill="#0000ff"/>
<ellipse cx="114.0" cy="187.8" rx="1.0" ry="1.0" transform="rotate(0 114.0 187.8)" fill="#0000ff"/>
<ellipse cx="138.4" cy="188.8" rx="1.7" ry="3.7" transform="rotate(25 138.4 188.8)" fill="#0000ff"/>
<ellipse cx="147.9" cy="200.4" rx="1.0" ry="1.4" transform="rotate(0 147.9 200.4)" fill="#0000ff"/>
<ellipse cx="155.6" cy="209.7" rx="2.5" ry="5.4" transform="rotate(25 155.6 209.7)" fill="#0000ff"/>
<ellipse cx="156.3" cy="222.3" rx="3.0" ry="1.5" transform="rotate(30 156.3 222.3)" fill="#0000ff"/>
<ellipse cx="161.3" cy="234.3" rx="3.4" ry="4.0" transform="rotate(0 161.3 234.3)" fill="#0000ff"/>
<ellipse cx="164.8" cy="226.5" rx="0.9" ry="1.0" transform="rotate(0 164.8 226.5)" fill="#0000ff"/>
<ellipse cx="107.0" cy="216.8" rx="1.0" ry="1.5" transform="rotate(0 107.0 216.8)" fill="#0000ff"/>
<ellipse cx="107.0" cy="225.2" rx="1.0" ry="1.5" transform="rotate(0 107.0 225.2)" fill="#0000ff"/>
<ellipse cx="138.7" cy="228.7" rx="1.5" ry="5.0" transform="rotate(25 138.7 228.7)" fill="#0000ff"/>
<ellipse cx="145.8" cy="261.1" rx="2.5" ry="4.0" transform="rotate(0 145.8 261.1)" fill="#0000ff"/>
<ellipse cx="156.8" cy="250.6" rx="1.7" ry="1.5" transform="rotate(0 156.8 250.6)" fill="#0000ff"/>
<ellipse cx="183.9" cy="254.1" rx="1.5" ry="5.0" transform="rotate(25 183.9 254.1)" fill="#0000ff"/>
<ellipse cx="199.0" cy="236.0" rx="1.4" ry="1.4" transform="rotate(0 199.0 236.0)" fill="#0000ff"/>
<ellipse cx="211.5" cy="234.5" rx="1.0" ry="1.0" transform="rotate(0 211.5 234.5)" fill="#0000ff"/>
<ellipse cx="204.5" cy="248.5" rx="1.0" ry="3.1" transform="rotate(25 204.5 248.5)" fill="#0000ff"/>
<ellipse cx="214.5" cy="250.5" rx="1.0" ry="1.0" transform="rotate(0 214.5 250.5)" fill="#0000ff"/>
<ellipse cx="197.5" cy="302.0" rx="1.0" ry="1.4" transform="rotate(0 197.5 302.0)" fill="#0000ff"/>
<ellipse cx="239.7" cy="333.9" rx="2.0" ry="3.5" transform="rotate(25 239.7 333.9)" fill="#0000ff"/>
<ellipse cx="230.0" cy="312.5" rx="1.4" ry="1.8" transform="rotate(0 230.0 312.5)" fill="#0000ff"/>
<ellipse cx="270.0" cy="279.5" rx="1.4" ry="1.8" transform="rotate(0 270.0 279.5)" fill="#ff4000"/>
<ellipse cx="282.5" cy="277.5" rx="1.8" ry="3.1" transform="rotate(25 282.5 277.5)" fill="#ff4000"/>
<ellipse cx="296.9" cy="290.8" rx="2.5" ry="2.0" transform="rotate(0 296.9 290.8)" fill="#ff4000"/>
<ellipse cx="298.2" cy="307.8" rx="1.5" ry="6.9" transform="rotate(25 298.2 307.8)" fill="#ff4000"/>
<ellipse cx="297.5" cy="321.5" rx="1.0" ry="1.0" transform="rotate(0 297.5 321.5)" fill="#ff4000"/>
<ellipse cx="299.6" cy="330.4" rx="1.5" ry="2.0" transform="rotate(0 299.6 330.4)" fill="#ff4000"/>
<ellipse cx="293.5" cy="342.5" rx="1.0" ry="1.0" transform="rotate(0 293.5 342.5)" fill="#ff4000"/>
<ellipse cx="322.9" cy="309.1" rx="1.0" ry="2.0" transform="rotate(25 322.9 309.1)" fill="#ff4000"/>
<ellipse cx="315.8" cy="329.5" rx="0.9" ry="1.0" transform="rotate(0 315.8 329.5)" fill="#ff4000"/>
<ellipse cx="331.4" cy="345.9" rx="3.0" ry="4.0" transform="rotate(0 331.4 345.9)" fill="#ff4000"/>
<ellipse cx="326.0" cy="367.0" rx="1.0" ry="1.4" transform="rotate(0 326.0 367.0)" fill="#ff4000"/>
<ellipse cx="344.9" cy="333.1" rx="5.4" ry="4.0" transform="rotate(0 344.9 333.1)" fill="#ff4000"/>
<ellipse cx="359.0" cy="320.1" rx="1.5" ry="1.8" transform="rotate(0 359.0 320.1)" fill="#ff4000"/>
<ellipse cx="427.4" cy="388.2" rx="2.9" ry="1.0" transform="rotate(30 427.4 388.2)" fill="#ff4000"/>
<ellipse cx="361.1" cy="404.5" rx="1.0" ry="1.5" transform="rotate(0 361.1 404.5)" fill="#ff4000"/>
<ellipse cx="391.4" cy="423.5" rx="3.4" ry="2.0" transform="rotate(30 391.4 423.5)" fill="#ff4000"/>
<ellipse cx="409.0" cy="417.1" rx="2.0" ry="1.5" transform="rotate(0 409.0 417.1)" fill="#ff4000"/>
<ellipse cx="377.3" cy="443.2" rx="1.5" ry="2.0" transform="rotate(0 377.3 443.2)" fill="#ff4000"/>
</g>
<line x1="13" y1="49.5" x2="486" y2="49.5" class="dot"/>
<line x1="13" y1="134" x2="486" y2="134" class="dot"/>
<line x1="13" y1="218.6" x2="486" y2="218.6" class="dot"/>
<line x1="13" y1="303.1" x2="486" y2="303.1" class="dot"/>
<line x1="13" y1="387.7" x2="486" y2="387.7" class="dot"/>
<line x1="13" y1="472.2" x2="486" y2="472.2" class="dot"/>
<line x1="53.4" y1="41" x2="53.4" y2="549" class="dot"/>
<line x1="132.2" y1="41" x2="132.2" y2="549" class="dot"/>
<line x1="211" y1="41" x2="211" y2="549" class="dot"/>
<line x1="289.8" y1="41" x2="289.8" y2="549" class="dot"/>
<line x1="368.6" y1="41" x2="368.6" y2="549" class="dot"/>
<line x1="447.4" y1="41" x2="447.4" y2="549" class="dot"/>
<path d="M13.00,50.24 L32.71,64.90 L52.42,79.63 L72.12,94.41 L91.83,109.26 L111.54,124.17 L131.25,139.14 L150.96,154.18 L170.67,169.28 L190.38,184.44 L210.08,199.66 L229.79,214.95 L249.50,230.30 L269.21,245.71 L288.92,261.18 L308.62,276.72 L328.33,292.32 L348.04,307.98 L367.75,323.71 L387.46,339.49 L407.17,355.34 L426.88,371.26 L446.58,387.23 L466.29,403.27 L486.00,419.37" class="sw" style="stroke-dasharray:12.1 11.45"/>
<path d="M13.00,164.53 L32.71,179.31 L52.42,194.15 L72.12,209.06 L91.83,224.02 L111.54,239.04 L131.25,254.12 L150.96,269.26 L170.67,284.46 L190.38,299.73 L210.08,315.05 L229.79,330.43 L249.50,345.87 L269.21,361.37 L288.92,376.94 L308.62,392.56 L328.33,408.24 L348.04,423.98 L367.75,439.79 L387.46,455.65 L407.17,471.57 L426.88,487.55 L446.58,503.59 L466.29,519.70 L486.00,535.86" class="sw" style="stroke-dasharray:12.1 11.4"/>
<path d="M13,165.2 L32.2,160.7 L39,156.8 L49.1,155.9 L62.7,151.7 L72.8,144.9 L76.2,138.1 L83,135.1 L91.5,136.4 L96.6,139.3 L103.7,140.7 L102.5,149.1 L98.3,157.6 L96.6,166.1 L99.1,172 L97.4,181.3 L98.3,191.5 L96.6,199.1 L94,200.8 L89.8,203.3 L88.1,211.8 L88.1,218.6 L86.4,228.7 L85.6,240.6 L83,247.4 L78.8,253.3 L74.5,261 L69.5,266 L66.9,272.8 L64.4,279.6 L60.1,286.4 L57.6,294 L52.5,298.2 L47.4,303.3 L45.7,313.5 L40.7,325.3 L30.5,340.6 L22,355.8 L16.9,369.4 L16.1,379.5 L13,386.3" class="coast"/>
<path d="M94,200.8 L100.8,195.7 L109.3,200 L106.7,202.5 L100.8,200.8 L96,201.5 Z" class="coast"/>
<text x="231.9" y="49.8" class="ll">14</text>
<text x="231.9" y="134.3" class="ll">12</text>
<text x="231.9" y="218.9" class="ll">10</text>
<text x="231.9" y="303.4" class="ll">8</text>
<text x="231.9" y="388" class="ll">6</text>
<text x="231.9" y="472.5" class="ll">4</text>
<text x="54.1" y="281.7" class="ll">50</text>
<text x="132.9" y="281.7" class="ll">52</text>
<text x="211.7" y="281.7" class="ll">54</text>
<text x="290.5" y="281.7" class="ll">56</text>
<text x="369.3" y="281.7" class="ll">58</text>
<text x="448.1" y="281.7" class="ll">60</text>
<path d="M243,292.2h12.8v4.6h-12.8z M247.3,288.2h4.5v12.6h-4.5z" fill="#000"/>
<text x="36.8" y="66" class="ttl">2A23 rain types</text>
<text x="438.2" y="522.8" class="let">(h)</text>
<rect x="495.3" y="40.9" width="8.6" height="169.4" fill="#ff4000"/><rect x="495.3" y="210.3" width="8.6" height="169.4" fill="#0000ff"/><rect x="495.7" y="379.7" width="7.8" height="169.2" fill="#fff" stroke="#000" stroke-width="0.8"/><line x1="495.3" y1="40.9" x2="505.9" y2="40.9" stroke="#000" stroke-width="0.8"/><line x1="495.3" y1="210.3" x2="505.9" y2="210.3" stroke="#000" stroke-width="0.8"/><line x1="495.3" y1="379.7" x2="505.9" y2="379.7" stroke="#000" stroke-width="0.8"/><text x="507" y="49.2" class="cbl">Conv</text><text x="507" y="218.5" class="cbl">Strat</text><text x="507" y="387.9" class="cbl">N/A</text>
</g>
<g transform="translate(1180.7,1180.7)">
<g clip-path="url(#mapclip)">
<pattern id="pi" patternUnits="userSpaceOnUse" width="26.0" height="26.0" patternTransform="rotate(-37)"><rect x="0.0" y="0.0" width="2.65" height="2.65" fill="#bebebe"/><rect x="0.0" y="2.6" width="2.65" height="2.65" fill="#e8e8e8"/><rect x="0.0" y="5.2" width="2.65" height="2.65" fill="#e8e8e8"/><rect x="0.0" y="10.4" width="2.65" height="2.65" fill="#a8a8a8"/><rect x="0.0" y="13.0" width="2.65" height="2.65" fill="#bebebe"/><rect x="0.0" y="15.6" width="2.65" height="2.65" fill="#a8a8a8"/><rect x="0.0" y="18.2" width="2.65" height="2.65" fill="#bebebe"/><rect x="0.0" y="20.8" width="2.65" height="2.65" fill="#78d080"/><rect x="0.0" y="23.4" width="2.65" height="2.65" fill="#a8a8a8"/><rect x="2.6" y="0.0" width="2.65" height="2.65" fill="#d4d4d4"/><rect x="2.6" y="2.6" width="2.65" height="2.65" fill="#bebebe"/><rect x="2.6" y="5.2" width="2.65" height="2.65" fill="#bebebe"/><rect x="2.6" y="7.8" width="2.65" height="2.65" fill="#bebebe"/><rect x="2.6" y="10.4" width="2.65" height="2.65" fill="#78d080"/><rect x="2.6" y="13.0" width="2.65" height="2.65" fill="#e8e8e8"/><rect x="2.6" y="15.6" width="2.65" height="2.65" fill="#a8a8a8"/><rect x="2.6" y="18.2" width="2.65" height="2.65" fill="#bebebe"/><rect x="2.6" y="20.8" width="2.65" height="2.65" fill="#a8a8a8"/><rect x="5.2" y="0.0" width="2.65" height="2.65" fill="#78d080"/><rect x="5.2" y="2.6" width="2.65" height="2.65" fill="#78d080"/><rect x="5.2" y="5.2" width="2.65" height="2.65" fill="#78d080"/><rect x="5.2" y="7.8" width="2.65" height="2.65" fill="#78d080"/><rect x="5.2" y="13.0" width="2.65" height="2.65" fill="#78d080"/><rect x="5.2" y="15.6" width="2.65" height="2.65" fill="#bebebe"/><rect x="5.2" y="20.8" width="2.65" height="2.65" fill="#d4d4d4"/><rect x="5.2" y="23.4" width="2.65" height="2.65" fill="#78d080"/><rect x="7.8" y="0.0" width="2.65" height="2.65" fill="#d4d4d4"/><rect x="7.8" y="2.6" width="2.65" height="2.65" fill="#bebebe"/><rect x="7.8" y="5.2" width="2.65" height="2.65" fill="#bebebe"/><rect x="7.8" y="7.8" width="2.65" height="2.65" fill="#bebebe"/><rect x="7.8" y="10.4" width="2.65" height="2.65" fill="#bebebe"/><rect x="7.8" y="13.0" width="2.65" height="2.65" fill="#a8a8a8"/><rect x="7.8" y="15.6" width="2.65" height="2.65" fill="#78d080"/><rect x="7.8" y="18.2" width="2.65" height="2.65" fill="#78d080"/><rect x="7.8" y="23.4" width="2.65" height="2.65" fill="#e8e8e8"/><rect x="10.4" y="0.0" width="2.65" height="2.65" fill="#d4d4d4"/><rect x="10.4" y="2.6" width="2.65" height="2.65" fill="#78d080"/><rect x="10.4" y="5.2" width="2.65" height="2.65" fill="#a8a8a8"/><rect x="10.4" y="7.8" width="2.65" height="2.65" fill="#e8e8e8"/><rect x="10.4" y="10.4" width="2.65" height="2.65" fill="#bebebe"/><rect x="10.4" y="13.0" width="2.65" height="2.65" fill="#a8a8a8"/><rect x="10.4" y="15.6" width="2.65" height="2.65" fill="#bebebe"/><rect x="10.4" y="18.2" width="2.65" height="2.65" fill="#d4d4d4"/><rect x="10.4" y="20.8" width="2.65" height="2.65" fill="#bebebe"/><rect x="10.4" y="23.4" width="2.65" height="2.65" fill="#d4d4d4"/><rect x="13.0" y="0.0" width="2.65" height="2.65" fill="#e8e8e8"/><rect x="13.0" y="2.6" width="2.65" height="2.65" fill="#bebebe"/><rect x="13.0" y="5.2" width="2.65" height="2.65" fill="#a8a8a8"/><rect x="13.0" y="7.8" width="2.65" height="2.65" fill="#d4d4d4"/><rect x="13.0" y="10.4" width="2.65" height="2.65" fill="#bebebe"/><rect x="13.0" y="13.0" width="2.65" height="2.65" fill="#bebebe"/><rect x="13.0" y="15.6" width="2.65" height="2.65" fill="#a8a8a8"/><rect x="13.0" y="18.2" width="2.65" height="2.65" fill="#bebebe"/><rect x="13.0" y="20.8" width="2.65" height="2.65" fill="#a8a8a8"/><rect x="13.0" y="23.4" width="2.65" height="2.65" fill="#e8e8e8"/><rect x="15.6" y="2.6" width="2.65" height="2.65" fill="#bebebe"/><rect x="15.6" y="5.2" width="2.65" height="2.65" fill="#78d080"/><rect x="15.6" y="10.4" width="2.65" height="2.65" fill="#a8a8a8"/><rect x="15.6" y="13.0" width="2.65" height="2.65" fill="#a8a8a8"/><rect x="15.6" y="15.6" width="2.65" height="2.65" fill="#78d080"/><rect x="15.6" y="18.2" width="2.65" height="2.65" fill="#78d080"/><rect x="15.6" y="20.8" width="2.65" height="2.65" fill="#e8e8e8"/><rect x="15.6" y="23.4" width="2.65" height="2.65" fill="#a8a8a8"/><rect x="18.2" y="0.0" width="2.65" height="2.65" fill="#bebebe"/><rect x="18.2" y="7.8" width="2.65" height="2.65" fill="#78d080"/><rect x="18.2" y="10.4" width="2.65" height="2.65" fill="#bebebe"/><rect x="18.2" y="15.6" width="2.65" height="2.65" fill="#bebebe"/><rect x="18.2" y="18.2" width="2.65" height="2.65" fill="#78d080"/><rect x="18.2" y="20.8" width="2.65" height="2.65" fill="#a8a8a8"/><rect x="20.8" y="0.0" width="2.65" height="2.65" fill="#e8e8e8"/><rect x="20.8" y="2.6" width="2.65" height="2.65" fill="#78d080"/><rect x="20.8" y="5.2" width="2.65" height="2.65" fill="#bebebe"/><rect x="20.8" y="7.8" width="2.65" height="2.65" fill="#e8e8e8"/><rect x="20.8" y="10.4" width="2.65" height="2.65" fill="#d4d4d4"/><rect x="20.8" y="13.0" width="2.65" height="2.65" fill="#d4d4d4"/><rect x="20.8" y="15.6" width="2.65" height="2.65" fill="#bebebe"/><rect x="20.8" y="18.2" width="2.65" height="2.65" fill="#78d080"/><rect x="20.8" y="20.8" width="2.65" height="2.65" fill="#bebebe"/><rect x="20.8" y="23.4" width="2.65" height="2.65" fill="#bebebe"/><rect x="23.4" y="0.0" width="2.65" height="2.65" fill="#a8a8a8"/><rect x="23.4" y="2.6" width="2.65" height="2.65" fill="#e8e8e8"/><rect x="23.4" y="5.2" width="2.65" height="2.65" fill="#a8a8a8"/><rect x="23.4" y="7.8" width="2.65" height="2.65" fill="#bebebe"/><rect x="23.4" y="10.4" width="2.65" height="2.65" fill="#a8a8a8"/><rect x="23.4" y="13.0" width="2.65" height="2.65" fill="#e8e8e8"/><rect x="23.4" y="15.6" width="2.65" height="2.65" fill="#d4d4d4"/><rect x="23.4" y="18.2" width="2.65" height="2.65" fill="#d4d4d4"/><rect x="23.4" y="20.8" width="2.65" height="2.65" fill="#a8a8a8"/><rect x="23.4" y="23.4" width="2.65" height="2.65" fill="#bebebe"/></pattern>
<path d="M219.7,297.5 L220.5,306.2 L225.3,310.9 L230.8,310.1 L234.0,307.0 L238.7,303.0 L245.8,299.1 L247.4,291.1 L246.6,285.6 L243.5,282.5 L245.0,278.5 L249.8,275.3 L254.5,271.4 L262.4,270.6 L274.3,271.4 L287.7,272.2 L289.3,270.6 L283.0,264.3 L279.8,261.1 L283.8,257.2 L276.7,251.6 L268.8,243.7 L264.0,245.3 L259.3,237.4 L254.5,233.4 L251.4,235.0 L246.6,240.6 L243.5,245.3 L238.7,250.0 L234.8,253.2 L229.2,253.2 L225.3,255.6 L222.9,261.1 L222.1,267.4 L226.1,273.8 L229.2,279.3 L227.7,283.2 L226.1,288.8 L222.9,292.7Z" fill="url(#pi)"/>
<path d="M171.5,282.5 L179.4,280.1 L180.2,272.2 L184.2,269.0 L189.7,268.2 L192.9,275.3 L197.6,274.5 L199.2,270.6 L203.1,269.8 L203.1,277.7 L207.1,280.1 L211.8,281.7 L216.6,280.1 L219.7,283.2 L222.1,289.6 L219.7,295.9 L215.0,299.8 L211.8,302.2 L208.7,300.6 L203.9,295.9 L200.8,292.7 L196.0,291.1 L192.9,299.8 L189.7,299.1 L183.4,293.5 L175.5,286.4Z" fill="url(#pi)"/>
<path d="M203.9,306.2 L208.7,303.0 L213.4,307.0 L215.0,318.8 L219.7,322.8 L215.0,322.0 L207.1,314.9 L203.9,310.9Z" fill="url(#pi)"/>
<path d="M258.5,285.6 L262.4,280.9 L268.8,283.2 L275.1,286.4 L275.1,289.6 L269.6,287.2 L263.2,284.8 L260.1,287.2Z" fill="url(#pi)"/>
<path d="M226,289 L234,286 L244,292 L243,300 L236,306 L231,314 L225,312 L221,304 Z" fill="#6aa8ff" opacity="0.85"/>
<path d="M245,264 L256,258 L262,262 L258,270 L248,272 Z" fill="#90c0ff" opacity="0.8"/>
<ellipse cx="43.5" cy="159.2" rx="4.2" ry="1.9" transform="rotate(30 43.5 159.2)" fill="#c8c8c8"/>
<ellipse cx="64.6" cy="150.5" rx="2.5" ry="1.7" transform="rotate(0 64.6 150.5)" fill="#c8c8c8"/>
<ellipse cx="29.4" cy="174.0" rx="0.9" ry="0.9" transform="rotate(0 29.4 174.0)" fill="#c8c8c8"/>
<ellipse cx="104.1" cy="183.5" rx="0.9" ry="1.7" transform="rotate(25 104.1 183.5)" fill="#c8c8c8"/>
<ellipse cx="114.0" cy="187.8" rx="0.9" ry="0.9" transform="rotate(0 114.0 187.8)" fill="#c8c8c8"/>
<ellipse cx="138.4" cy="188.8" rx="1.4" ry="3.1" transform="rotate(25 138.4 188.8)" fill="#c8c8c8"/>
<ellipse cx="147.9" cy="200.4" rx="0.9" ry="1.2" transform="rotate(0 147.9 200.4)" fill="#c8c8c8"/>
<ellipse cx="155.6" cy="209.7" rx="2.1" ry="4.6" transform="rotate(25 155.6 209.7)" fill="#c8c8c8"/>
<ellipse cx="156.3" cy="222.3" rx="2.5" ry="1.3" transform="rotate(30 156.3 222.3)" fill="#c8c8c8"/>
<ellipse cx="161.3" cy="234.3" rx="2.9" ry="3.4" transform="rotate(0 161.3 234.3)" fill="#c8c8c8"/>
<ellipse cx="164.8" cy="226.5" rx="0.9" ry="0.9" transform="rotate(0 164.8 226.5)" fill="#c8c8c8"/>
<ellipse cx="107.0" cy="216.8" rx="0.9" ry="1.3" transform="rotate(0 107.0 216.8)" fill="#c8c8c8"/>
<ellipse cx="107.0" cy="225.2" rx="0.9" ry="1.3" transform="rotate(0 107.0 225.2)" fill="#c8c8c8"/>
<ellipse cx="138.7" cy="228.7" rx="1.3" ry="4.3" transform="rotate(25 138.7 228.7)" fill="#c8c8c8"/>
<ellipse cx="145.8" cy="261.1" rx="2.1" ry="3.4" transform="rotate(0 145.8 261.1)" fill="#c8c8c8"/>
<ellipse cx="156.8" cy="250.6" rx="1.4" ry="1.3" transform="rotate(0 156.8 250.6)" fill="#c8c8c8"/>
<ellipse cx="183.9" cy="254.1" rx="1.3" ry="4.3" transform="rotate(25 183.9 254.1)" fill="#c8c8c8"/>
<ellipse cx="199.0" cy="236.0" rx="1.2" ry="1.2" transform="rotate(0 199.0 236.0)" fill="#c8c8c8"/>
<ellipse cx="211.5" cy="234.5" rx="0.9" ry="0.9" transform="rotate(0 211.5 234.5)" fill="#c8c8c8"/>
<ellipse cx="204.5" cy="248.5" rx="0.9" ry="2.7" transform="rotate(25 204.5 248.5)" fill="#c8c8c8"/>
<ellipse cx="214.5" cy="250.5" rx="0.9" ry="0.9" transform="rotate(0 214.5 250.5)" fill="#c8c8c8"/>
<ellipse cx="197.5" cy="302.0" rx="0.9" ry="1.2" transform="rotate(0 197.5 302.0)" fill="#c8c8c8"/>
<ellipse cx="239.7" cy="333.9" rx="1.7" ry="3.0" transform="rotate(25 239.7 333.9)" fill="#c8c8c8"/>
<ellipse cx="230.0" cy="312.5" rx="1.2" ry="1.5" transform="rotate(0 230.0 312.5)" fill="#c8c8c8"/>
<ellipse cx="270.0" cy="279.5" rx="1.2" ry="1.5" transform="rotate(0 270.0 279.5)" fill="#c8c8c8"/>
<ellipse cx="282.5" cy="277.5" rx="1.5" ry="2.7" transform="rotate(25 282.5 277.5)" fill="#c8c8c8"/>
<ellipse cx="296.9" cy="290.8" rx="2.1" ry="1.7" transform="rotate(0 296.9 290.8)" fill="#c8c8c8"/>
<ellipse cx="298.2" cy="307.8" rx="1.3" ry="5.9" transform="rotate(25 298.2 307.8)" fill="#c8c8c8"/>
<ellipse cx="297.5" cy="321.5" rx="0.9" ry="0.9" transform="rotate(0 297.5 321.5)" fill="#c8c8c8"/>
<ellipse cx="299.6" cy="330.4" rx="1.3" ry="1.7" transform="rotate(0 299.6 330.4)" fill="#c8c8c8"/>
<ellipse cx="293.5" cy="342.5" rx="0.9" ry="0.9" transform="rotate(0 293.5 342.5)" fill="#c8c8c8"/>
<ellipse cx="322.9" cy="309.1" rx="0.9" ry="1.7" transform="rotate(25 322.9 309.1)" fill="#c8c8c8"/>
<ellipse cx="315.8" cy="329.5" rx="0.9" ry="0.9" transform="rotate(0 315.8 329.5)" fill="#c8c8c8"/>
<ellipse cx="331.4" cy="345.9" rx="2.5" ry="3.4" transform="rotate(0 331.4 345.9)" fill="#c8c8c8"/>
<ellipse cx="326.0" cy="367.0" rx="0.9" ry="1.2" transform="rotate(0 326.0 367.0)" fill="#c8c8c8"/>
<ellipse cx="344.9" cy="333.1" rx="4.6" ry="3.4" transform="rotate(0 344.9 333.1)" fill="#c8c8c8"/>
<ellipse cx="359.0" cy="320.1" rx="1.3" ry="1.5" transform="rotate(0 359.0 320.1)" fill="#c8c8c8"/>
<ellipse cx="427.4" cy="388.2" rx="2.5" ry="0.9" transform="rotate(30 427.4 388.2)" fill="#c8c8c8"/>
<ellipse cx="361.1" cy="404.5" rx="0.9" ry="1.3" transform="rotate(0 361.1 404.5)" fill="#c8c8c8"/>
<ellipse cx="391.4" cy="423.5" rx="2.9" ry="1.7" transform="rotate(30 391.4 423.5)" fill="#c8c8c8"/>
<ellipse cx="409.0" cy="417.1" rx="1.7" ry="1.3" transform="rotate(0 409.0 417.1)" fill="#c8c8c8"/>
<ellipse cx="377.3" cy="443.2" rx="1.3" ry="1.7" transform="rotate(0 377.3 443.2)" fill="#c8c8c8"/>
</g>
<line x1="13" y1="49.5" x2="486" y2="49.5" class="dot"/>
<line x1="13" y1="134" x2="486" y2="134" class="dot"/>
<line x1="13" y1="218.6" x2="486" y2="218.6" class="dot"/>
<line x1="13" y1="303.1" x2="486" y2="303.1" class="dot"/>
<line x1="13" y1="387.7" x2="486" y2="387.7" class="dot"/>
<line x1="13" y1="472.2" x2="486" y2="472.2" class="dot"/>
<line x1="53.4" y1="41" x2="53.4" y2="549" class="dot"/>
<line x1="132.2" y1="41" x2="132.2" y2="549" class="dot"/>
<line x1="211" y1="41" x2="211" y2="549" class="dot"/>
<line x1="289.8" y1="41" x2="289.8" y2="549" class="dot"/>
<line x1="368.6" y1="41" x2="368.6" y2="549" class="dot"/>
<line x1="447.4" y1="41" x2="447.4" y2="549" class="dot"/>
<path d="M13.00,50.24 L32.71,64.90 L52.42,79.63 L72.12,94.41 L91.83,109.26 L111.54,124.17 L131.25,139.14 L150.96,154.18 L170.67,169.28 L190.38,184.44 L210.08,199.66 L229.79,214.95 L249.50,230.30 L269.21,245.71 L288.92,261.18 L308.62,276.72 L328.33,292.32 L348.04,307.98 L367.75,323.71 L387.46,339.49 L407.17,355.34 L426.88,371.26 L446.58,387.23 L466.29,403.27 L486.00,419.37" class="sw" style="stroke-dasharray:12.1 11.45"/>
<path d="M13.00,164.53 L32.71,179.31 L52.42,194.15 L72.12,209.06 L91.83,224.02 L111.54,239.04 L131.25,254.12 L150.96,269.26 L170.67,284.46 L190.38,299.73 L210.08,315.05 L229.79,330.43 L249.50,345.87 L269.21,361.37 L288.92,376.94 L308.62,392.56 L328.33,408.24 L348.04,423.98 L367.75,439.79 L387.46,455.65 L407.17,471.57 L426.88,487.55 L446.58,503.59 L466.29,519.70 L486.00,535.86" class="sw" style="stroke-dasharray:12.1 11.4"/>
<path d="M13,165.2 L32.2,160.7 L39,156.8 L49.1,155.9 L62.7,151.7 L72.8,144.9 L76.2,138.1 L83,135.1 L91.5,136.4 L96.6,139.3 L103.7,140.7 L102.5,149.1 L98.3,157.6 L96.6,166.1 L99.1,172 L97.4,181.3 L98.3,191.5 L96.6,199.1 L94,200.8 L89.8,203.3 L88.1,211.8 L88.1,218.6 L86.4,228.7 L85.6,240.6 L83,247.4 L78.8,253.3 L74.5,261 L69.5,266 L66.9,272.8 L64.4,279.6 L60.1,286.4 L57.6,294 L52.5,298.2 L47.4,303.3 L45.7,313.5 L40.7,325.3 L30.5,340.6 L22,355.8 L16.9,369.4 L16.1,379.5 L13,386.3" class="coast"/>
<path d="M94,200.8 L100.8,195.7 L109.3,200 L106.7,202.5 L100.8,200.8 L96,201.5 Z" class="coast"/>
<text x="231.9" y="49.8" class="ll">14</text>
<text x="231.9" y="134.3" class="ll">12</text>
<text x="231.9" y="218.9" class="ll">10</text>
<text x="231.9" y="303.4" class="ll">8</text>
<text x="231.9" y="388" class="ll">6</text>
<text x="231.9" y="472.5" class="ll">4</text>
<text x="54.1" y="281.7" class="ll">50</text>
<text x="132.9" y="281.7" class="ll">52</text>
<text x="211.7" y="281.7" class="ll">54</text>
<text x="290.5" y="281.7" class="ll">56</text>
<text x="369.3" y="281.7" class="ll">58</text>
<text x="448.1" y="281.7" class="ll">60</text>
<path d="M243,292.2h12.8v4.6h-12.8z M247.3,288.2h4.5v12.6h-4.5z" fill="#000"/>
<text x="36.8" y="66" class="ttl">2A23 storm height (km)</text>
<text x="438.2" y="522.8" class="let">(i)</text>
<rect x="495.3" y="531.6" width="8.6" height="8.8" fill="#f4f4f4"/>
<rect x="495.3" y="523.1" width="8.6" height="8.8" fill="#ececec"/>
<rect x="495.3" y="514.7" width="8.6" height="8.8" fill="#e4e4e4"/>
<rect x="495.3" y="506.2" width="8.6" height="8.8" fill="#dcdcdc"/>
<rect x="495.3" y="497.8" width="8.6" height="8.8" fill="#d5d5d5"/>
<rect x="495.3" y="489.3" width="8.6" height="8.8" fill="#cdcdcd"/>
<rect x="495.3" y="480.9" width="8.6" height="8.8" fill="#c5c5c5"/>
<rect x="495.3" y="472.4" width="8.6" height="8.8" fill="#bdbdbd"/>
<rect x="495.3" y="463.9" width="8.6" height="8.8" fill="#b5b5b5"/>
<rect x="495.3" y="455.5" width="8.6" height="8.8" fill="#adadad"/>
<rect x="495.3" y="447" width="8.6" height="8.8" fill="#a6a6a6"/>
<rect x="495.3" y="438.6" width="8.6" height="8.8" fill="#9e9e9e"/>
<rect x="495.3" y="430.1" width="8.6" height="8.8" fill="#969696"/>
<rect x="495.3" y="421.7" width="8.6" height="8.8" fill="#8e8e8e"/>
<rect x="495.3" y="413.2" width="8.6" height="8.8" fill="#80e088"/>
<rect x="495.3" y="404.7" width="8.6" height="8.8" fill="#78d880"/>
<rect x="495.3" y="396.3" width="8.6" height="8.8" fill="#70c874"/>
<rect x="495.3" y="387.8" width="8.6" height="8.8" fill="#6cc070"/>
<rect x="495.3" y="379.4" width="8.6" height="8.8" fill="#68b868"/>
<rect x="495.3" y="370.9" width="8.6" height="8.8" fill="#d0d8ff"/>
<rect x="495.3" y="362.5" width="8.6" height="8.8" fill="#b0c8ff"/>
<rect x="495.3" y="354" width="8.6" height="8.8" fill="#98c0ff"/>
<rect x="495.3" y="345.6" width="8.6" height="8.8" fill="#80b8ff"/>
<rect x="495.3" y="337.1" width="8.6" height="8.8" fill="#60b0ff"/>
<rect x="495.3" y="328.6" width="8.6" height="8.8" fill="#4aa8ff"/>
<rect x="495.3" y="320.2" width="8.6" height="8.8" fill="#4090ff"/>
<rect x="495.3" y="311.7" width="8.6" height="8.8" fill="#4070ff"/>
<rect x="495.3" y="303.3" width="8.6" height="8.8" fill="#3a55ff"/>
<rect x="495.3" y="294.8" width="8.6" height="8.8" fill="#2a2aff"/>
<rect x="495.3" y="286.4" width="8.6" height="8.8" fill="#0000ff"/>
<rect x="495.3" y="277.9" width="8.6" height="8.8" fill="#0000f0"/>
<rect x="495.3" y="269.5" width="8.6" height="8.8" fill="#0000e0"/>
<rect x="495.3" y="261" width="8.6" height="8.8" fill="#0000cc"/>
<rect x="495.3" y="252.5" width="8.6" height="8.8" fill="#0000c0"/>
<rect x="495.3" y="244.1" width="8.6" height="8.8" fill="#ffff00"/>
<rect x="495.3" y="235.6" width="8.6" height="8.8" fill="#ffff00"/>
<rect x="495.3" y="227.2" width="8.6" height="8.8" fill="#ffe800"/>
<rect x="495.3" y="218.7" width="8.6" height="8.8" fill="#ffe000"/>
<rect x="495.3" y="210.3" width="8.6" height="8.8" fill="#ffcc00"/>
<rect x="495.3" y="201.8" width="8.6" height="8.8" fill="#ff8c00"/>
<rect x="495.3" y="193.3" width="8.6" height="8.8" fill="#ff8400"/>
<rect x="495.3" y="184.9" width="8.6" height="8.8" fill="#ff8000"/>
<rect x="495.3" y="176.4" width="8.6" height="8.8" fill="#ff7400"/>
<rect x="495.3" y="168" width="8.6" height="8.8" fill="#ff6a00"/>
<rect x="495.3" y="159.5" width="8.6" height="8.8" fill="#ff3a00"/>
<rect x="495.3" y="151.1" width="8.6" height="8.8" fill="#ff3000"/>
<rect x="495.3" y="142.6" width="8.6" height="8.8" fill="#ff2a00"/>
<rect x="495.3" y="134.2" width="8.6" height="8.8" fill="#ff2000"/>
<rect x="495.3" y="125.7" width="8.6" height="8.8" fill="#ff1400"/>
<rect x="495.3" y="117.2" width="8.6" height="8.8" fill="#c40000"/>
<rect x="495.3" y="108.8" width="8.6" height="8.8" fill="#bc0000"/>
<rect x="495.3" y="100.3" width="8.6" height="8.8" fill="#b00000"/>
<rect x="495.3" y="91.9" width="8.6" height="8.8" fill="#a40800"/>
<rect x="495.3" y="83.4" width="8.6" height="8.8" fill="#9c0800"/>
<rect x="495.3" y="75" width="8.6" height="8.8" fill="#600c08"/>
<rect x="495.3" y="66.5" width="8.6" height="8.8" fill="#5e0e0c"/>
<rect x="495.3" y="58.1" width="8.6" height="8.8" fill="#5c120f"/>
<rect x="495.3" y="49.6" width="8.6" height="8.8" fill="#5a1412"/>
<rect x="495.3" y="41.1" width="8.6" height="8.8" fill="#5a1a16"/>
<line x1="503.9" y1="548.5" x2="506.5" y2="548.5" stroke="#000" stroke-width="1"/>
<text x="525" y="556.4" class="cb">0.0</text>
<line x1="503.9" y1="497.8" x2="506.5" y2="497.8" stroke="#000" stroke-width="1"/>
<text x="525" y="505.7" class="cb">2.0</text>
<line x1="503.9" y1="447" x2="506.5" y2="447" stroke="#000" stroke-width="1"/>
<text x="525" y="454.9" class="cb">4.0</text>
<line x1="503.9" y1="396.3" x2="506.5" y2="396.3" stroke="#000" stroke-width="1"/>
<text x="525" y="404.2" class="cb">6.0</text>
<line x1="503.9" y1="345.6" x2="506.5" y2="345.6" stroke="#000" stroke-width="1"/>
<text x="525" y="353.5" class="cb">8.0</text>
<line x1="503.9" y1="294.8" x2="506.5" y2="294.8" stroke="#000" stroke-width="1"/>
<text x="525" y="302.7" class="cb">10.0</text>
<line x1="503.9" y1="244.1" x2="506.5" y2="244.1" stroke="#000" stroke-width="1"/>
<text x="525" y="252" class="cb">12.0</text>
<line x1="503.9" y1="193.3" x2="506.5" y2="193.3" stroke="#000" stroke-width="1"/>
<text x="525" y="201.2" class="cb">14.0</text>
<line x1="503.9" y1="142.6" x2="506.5" y2="142.6" stroke="#000" stroke-width="1"/>
<text x="525" y="150.5" class="cb">16.0</text>
<line x1="503.9" y1="91.9" x2="506.5" y2="91.9" stroke="#000" stroke-width="1"/>
<text x="525" y="99.8" class="cb">18.0</text>
</g>
</svg></body></html>
